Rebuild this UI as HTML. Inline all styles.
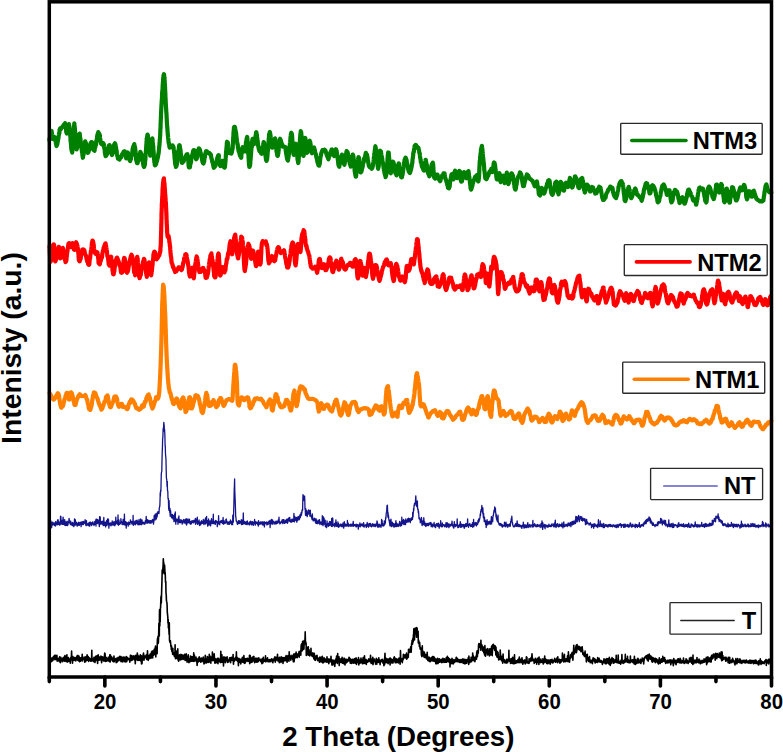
<!DOCTYPE html>
<html><head><meta charset="utf-8"><style>
html,body{margin:0;padding:0;background:#fff;width:783px;height:752px;overflow:hidden;}
svg{display:block;font-family:"Liberation Sans",sans-serif;}
</style></head><body>
<svg width="783" height="752" viewBox="0 0 783 752"><rect width="100%" height="100%" fill="#fff"/><polyline fill="none" stroke="#000" stroke-width="1.6" stroke-linejoin="round" points="49.6,656.5 49.8,659.8 50.0,658.9 50.3,659.4 50.5,658.6 50.7,657.7 50.9,659.4 51.2,661.6 51.4,658.2 51.6,658.3 51.8,661.4 52.0,659.9 52.3,659.5 52.5,657.8 52.7,659.3 52.9,660.5 53.2,657.1 53.4,658.6 53.6,656.2 53.8,657.2 54.0,656.3 54.3,659.0 54.5,657.2 54.7,655.3 54.9,659.6 55.2,659.0 55.4,655.2 55.6,658.4 55.8,659.3 56.0,659.5 56.3,656.8 56.5,658.5 56.7,657.7 56.9,655.4 57.2,661.1 57.4,658.0 57.6,659.3 57.8,660.8 58.0,658.4 58.3,659.2 58.5,659.5 58.7,659.4 58.9,660.6 59.2,659.5 59.4,661.6 59.6,656.8 59.8,660.8 60.0,659.4 60.3,658.3 60.5,662.7 60.7,660.6 60.9,657.3 61.1,659.5 61.4,660.3 61.6,659.0 61.8,660.5 62.0,659.2 62.3,660.4 62.5,661.7 62.7,658.2 62.9,659.7 63.1,658.6 63.4,660.8 63.6,657.4 63.8,658.4 64.0,659.0 64.3,660.8 64.5,661.2 64.7,657.1 64.9,655.5 65.1,660.2 65.4,656.0 65.6,658.6 65.8,659.2 66.0,661.4 66.3,660.5 66.5,658.8 66.7,655.8 66.9,654.7 67.1,661.9 67.4,658.6 67.6,658.8 67.8,662.0 68.0,659.1 68.3,659.0 68.5,657.5 68.7,659.3 68.9,658.6 69.1,661.3 69.4,660.4 69.6,659.3 69.8,659.3 70.0,661.1 70.3,663.1 70.5,659.3 70.7,660.3 70.9,657.2 71.1,659.9 71.4,656.5 71.6,651.0 71.8,657.5 72.0,657.8 72.3,659.6 72.5,663.1 72.7,657.9 72.9,656.6 73.1,659.7 73.4,660.1 73.6,659.0 73.8,659.0 74.0,660.5 74.3,660.2 74.5,657.6 74.7,659.2 74.9,659.4 75.1,657.6 75.4,659.7 75.6,657.9 75.8,660.9 76.0,659.6 76.3,659.5 76.5,658.7 76.7,659.1 76.9,656.0 77.1,657.4 77.4,659.9 77.6,655.8 77.8,655.4 78.0,656.4 78.3,660.6 78.5,657.9 78.7,660.6 78.9,656.0 79.1,656.7 79.4,661.4 79.6,661.7 79.8,659.2 80.0,658.8 80.2,659.0 80.5,657.7 80.7,661.1 80.9,658.4 81.1,659.2 81.4,658.0 81.6,658.3 81.8,657.2 82.0,659.9 82.2,654.4 82.5,660.9 82.7,659.3 82.9,658.1 83.1,658.8 83.4,658.4 83.6,659.3 83.8,658.7 84.0,658.8 84.2,657.0 84.5,657.9 84.7,662.1 84.9,659.5 85.1,657.5 85.4,659.9 85.6,661.7 85.8,656.9 86.0,658.9 86.2,658.2 86.5,656.3 86.7,660.5 86.9,659.3 87.1,654.9 87.4,658.0 87.6,660.1 87.8,658.4 88.0,659.0 88.2,656.6 88.5,657.2 88.7,661.5 88.9,658.4 89.1,657.8 89.4,659.2 89.6,658.5 89.8,658.4 90.0,660.3 90.2,658.8 90.5,659.0 90.7,659.3 90.9,661.3 91.1,660.4 91.4,659.9 91.6,658.3 91.8,650.2 92.0,660.9 92.2,660.9 92.5,659.0 92.7,660.2 92.9,660.6 93.1,660.7 93.4,660.8 93.6,658.5 93.8,661.8 94.0,657.2 94.2,660.7 94.5,660.4 94.7,660.7 94.9,662.4 95.1,661.8 95.4,657.3 95.6,656.4 95.8,660.6 96.0,657.6 96.2,659.2 96.5,656.9 96.7,656.5 96.9,655.7 97.1,659.7 97.4,658.0 97.6,663.5 97.8,659.3 98.0,657.8 98.2,654.8 98.5,659.0 98.7,657.6 98.9,656.5 99.1,660.1 99.4,659.1 99.6,659.9 99.8,657.6 100.0,658.1 100.2,657.6 100.5,657.7 100.7,659.6 100.9,656.0 101.1,659.8 101.3,659.8 101.6,662.7 101.8,656.9 102.0,660.7 102.2,659.1 102.5,659.2 102.7,656.8 102.9,658.5 103.1,660.5 103.3,659.1 103.6,659.4 103.8,658.7 104.0,661.2 104.2,659.2 104.5,655.5 104.7,653.0 104.9,655.9 105.1,653.7 105.3,658.3 105.6,661.5 105.8,659.3 106.0,657.2 106.2,657.6 106.5,661.1 106.7,659.5 106.9,659.3 107.1,659.1 107.3,659.3 107.6,660.6 107.8,660.1 108.0,659.6 108.2,657.4 108.5,660.1 108.7,658.0 108.9,661.1 109.1,657.0 109.3,659.0 109.6,659.2 109.8,654.7 110.0,662.1 110.2,661.7 110.5,655.1 110.7,660.5 110.9,659.8 111.1,656.5 111.3,659.6 111.6,659.1 111.8,659.3 112.0,657.3 112.2,658.7 112.5,658.9 112.7,661.2 112.9,659.7 113.1,659.1 113.3,661.8 113.6,658.2 113.8,658.5 114.0,656.0 114.2,661.8 114.5,660.8 114.7,660.7 114.9,660.3 115.1,659.3 115.3,659.5 115.6,658.7 115.8,658.8 116.0,659.2 116.2,662.7 116.5,660.1 116.7,662.3 116.9,658.1 117.1,658.0 117.3,661.9 117.6,660.0 117.8,659.2 118.0,658.5 118.2,657.2 118.5,659.0 118.7,660.6 118.9,658.4 119.1,658.7 119.3,658.7 119.6,659.3 119.8,656.3 120.0,658.7 120.2,657.6 120.4,660.6 120.7,657.7 120.9,656.6 121.1,661.7 121.3,658.5 121.6,657.2 121.8,659.4 122.0,659.0 122.2,657.3 122.4,659.8 122.7,662.0 122.9,658.6 123.1,658.7 123.3,657.2 123.6,659.6 123.8,657.5 124.0,657.1 124.2,661.2 124.4,657.4 124.7,660.9 124.9,661.7 125.1,659.4 125.3,660.0 125.6,662.0 125.8,658.6 126.0,657.9 126.2,656.6 126.4,661.7 126.7,661.6 126.9,660.6 127.1,657.3 127.3,657.4 127.6,658.1 127.8,659.8 128.0,658.6 128.2,659.3 128.4,659.4 128.7,658.4 128.9,658.8 129.1,659.3 129.3,658.7 129.6,659.8 129.8,662.2 130.0,659.9 130.2,659.0 130.4,655.2 130.7,659.5 130.9,655.4 131.1,656.3 131.3,660.4 131.6,660.1 131.8,658.5 132.0,655.7 132.2,657.4 132.4,657.6 132.7,659.9 132.9,659.0 133.1,659.2 133.3,657.4 133.6,656.6 133.8,655.8 134.0,658.4 134.2,656.6 134.4,658.9 134.7,656.6 134.9,660.7 135.1,660.6 135.3,663.6 135.6,656.2 135.8,655.3 136.0,658.4 136.2,657.9 136.4,658.0 136.7,656.2 136.9,655.9 137.1,660.0 137.3,653.0 137.6,655.4 137.8,660.4 138.0,655.3 138.2,657.0 138.4,658.8 138.7,659.2 138.9,657.7 139.1,660.4 139.3,658.8 139.6,656.1 139.8,656.6 140.0,655.7 140.2,659.2 140.4,654.7 140.7,660.9 140.9,656.6 141.1,660.6 141.3,655.7 141.5,664.0 141.8,656.0 142.0,663.6 142.2,660.0 142.4,658.1 142.7,656.9 142.9,659.7 143.1,654.8 143.3,657.3 143.5,653.0 143.8,655.7 144.0,660.1 144.2,658.6 144.4,655.8 144.7,656.9 144.9,656.9 145.1,657.7 145.3,656.7 145.5,656.1 145.8,657.1 146.0,655.6 146.2,655.0 146.4,657.5 146.7,659.4 146.9,654.3 147.1,657.4 147.3,656.0 147.5,650.9 147.8,659.1 148.0,656.1 148.2,660.4 148.4,655.4 148.7,657.9 148.9,656.5 149.1,655.2 149.3,658.6 149.5,656.4 149.8,658.0 150.0,656.5 150.2,654.0 150.4,656.1 150.7,658.0 150.9,658.4 151.1,653.9 151.3,655.9 151.5,651.7 151.8,657.3 152.0,652.9 152.2,651.0 152.4,655.1 152.7,657.9 152.9,651.1 153.1,652.0 153.3,652.6 153.5,651.4 153.8,655.2 154.0,651.7 154.2,649.4 154.4,654.3 154.7,651.0 154.9,654.0 155.1,649.6 155.3,647.4 155.5,646.0 155.8,656.9 156.0,649.5 156.2,652.3 156.4,649.2 156.7,649.1 156.9,647.9 157.1,653.7 157.3,641.9 157.5,638.6 157.8,639.3 158.0,636.3 158.2,643.5 158.4,642.2 158.7,632.3 158.9,623.3 159.1,636.1 159.3,636.1 159.5,609.9 159.8,626.1 160.0,615.1 160.2,621.8 160.4,607.9 160.6,607.8 160.9,597.8 161.1,596.1 161.3,603.1 161.5,596.0 161.8,585.7 162.0,579.1 162.2,570.0 162.4,573.3 162.6,571.5 162.9,568.2 163.1,565.6 163.3,558.9 163.5,562.9 163.8,562.8 164.0,569.6 164.2,573.6 164.4,565.9 164.6,565.3 164.9,571.6 165.1,572.3 165.3,575.3 165.5,582.3 165.8,581.5 166.0,593.3 166.2,593.9 166.4,599.6 166.6,601.4 166.9,602.6 167.1,605.3 167.3,612.3 167.5,614.2 167.8,617.1 168.0,623.2 168.2,619.6 168.4,627.9 168.6,625.0 168.9,630.0 169.1,634.5 169.3,622.8 169.5,640.1 169.8,641.9 170.0,642.2 170.2,642.5 170.4,640.7 170.6,642.9 170.9,646.5 171.1,646.4 171.3,649.4 171.5,645.9 171.8,651.3 172.0,651.5 172.2,651.2 172.4,650.8 172.6,654.1 172.9,648.2 173.1,654.6 173.3,653.8 173.5,654.7 173.8,654.7 174.0,652.7 174.2,652.8 174.4,656.5 174.6,656.2 174.9,655.8 175.1,644.8 175.3,656.9 175.5,658.6 175.8,658.3 176.0,656.6 176.2,652.5 176.4,658.5 176.6,656.1 176.9,650.7 177.1,657.5 177.3,651.9 177.5,654.0 177.8,648.9 178.0,659.9 178.2,656.3 178.4,657.8 178.6,661.1 178.9,660.8 179.1,657.8 179.3,657.0 179.5,654.9 179.8,656.2 180.0,658.6 180.2,658.6 180.4,658.1 180.6,659.9 180.9,654.3 181.1,655.7 181.3,659.5 181.5,659.3 181.7,654.8 182.0,654.9 182.2,656.7 182.4,659.0 182.6,657.3 182.9,655.1 183.1,659.5 183.3,656.6 183.5,659.1 183.7,658.4 184.0,657.8 184.2,657.4 184.4,656.9 184.6,654.3 184.9,657.5 185.1,660.4 185.3,659.4 185.5,659.1 185.7,658.8 186.0,660.2 186.2,653.7 186.4,658.6 186.6,659.9 186.9,660.2 187.1,662.1 187.3,660.4 187.5,656.4 187.7,659.5 188.0,660.5 188.2,654.9 188.4,659.0 188.6,660.7 188.9,662.6 189.1,658.8 189.3,659.0 189.5,659.5 189.7,661.6 190.0,659.1 190.2,661.8 190.4,656.0 190.6,658.9 190.9,658.9 191.1,660.3 191.3,661.1 191.5,656.6 191.7,657.7 192.0,659.9 192.2,658.2 192.4,656.7 192.6,661.2 192.9,660.3 193.1,660.3 193.3,658.6 193.5,661.2 193.7,652.9 194.0,661.4 194.2,657.9 194.4,655.0 194.6,659.8 194.9,658.3 195.1,660.7 195.3,660.0 195.5,657.9 195.7,659.7 196.0,657.0 196.2,661.1 196.4,658.5 196.6,658.8 196.9,661.7 197.1,665.5 197.3,663.0 197.5,659.7 197.7,660.0 198.0,662.3 198.2,659.4 198.4,658.0 198.6,659.9 198.9,660.4 199.1,661.3 199.3,656.9 199.5,657.3 199.7,660.8 200.0,658.4 200.2,659.5 200.4,660.1 200.6,662.3 200.8,659.2 201.1,660.6 201.3,658.3 201.5,659.2 201.7,658.0 202.0,661.7 202.2,659.7 202.4,658.5 202.6,659.2 202.8,659.4 203.1,661.0 203.3,657.1 203.5,658.4 203.7,659.2 204.0,664.0 204.2,661.4 204.4,659.6 204.6,661.0 204.8,663.2 205.1,659.4 205.3,655.3 205.5,661.8 205.7,660.7 206.0,661.0 206.2,659.0 206.4,663.0 206.6,662.7 206.8,660.8 207.1,661.0 207.3,656.5 207.5,660.9 207.7,659.6 208.0,660.6 208.2,662.3 208.4,659.3 208.6,657.1 208.8,662.4 209.1,658.7 209.3,654.3 209.5,658.9 209.7,659.3 210.0,656.1 210.2,661.9 210.4,660.3 210.6,661.7 210.8,663.1 211.1,660.0 211.3,657.0 211.5,658.5 211.7,658.0 212.0,659.1 212.2,660.1 212.4,652.0 212.6,660.6 212.8,654.7 213.1,660.4 213.3,659.8 213.5,659.4 213.7,659.8 214.0,659.1 214.2,653.7 214.4,657.2 214.6,659.9 214.8,662.9 215.1,663.2 215.3,662.1 215.5,661.1 215.7,658.9 216.0,661.7 216.2,659.9 216.4,662.6 216.6,659.5 216.8,660.1 217.1,659.3 217.3,659.9 217.5,658.3 217.7,662.0 218.0,663.7 218.2,659.9 218.4,659.6 218.6,658.3 218.8,661.1 219.1,659.3 219.3,659.7 219.5,661.5 219.7,660.4 220.0,660.2 220.2,662.5 220.4,658.9 220.6,660.2 220.8,651.2 221.1,662.4 221.3,658.2 221.5,657.4 221.7,659.2 221.9,654.9 222.2,660.5 222.4,662.2 222.6,657.5 222.8,661.2 223.1,659.5 223.3,659.0 223.5,666.0 223.7,658.6 223.9,656.8 224.2,659.5 224.4,657.7 224.6,658.4 224.8,660.6 225.1,657.2 225.3,662.6 225.5,659.7 225.7,657.6 225.9,658.9 226.2,658.6 226.4,658.1 226.6,660.7 226.8,659.0 227.1,656.9 227.3,661.2 227.5,662.5 227.7,660.6 227.9,660.2 228.2,661.1 228.4,660.1 228.6,662.0 228.8,660.7 229.1,659.5 229.3,660.7 229.5,657.8 229.7,657.8 229.9,659.7 230.2,660.4 230.4,658.0 230.6,662.6 230.8,660.2 231.1,658.2 231.3,657.4 231.5,659.6 231.7,659.9 231.9,659.0 232.2,660.2 232.4,659.1 232.6,660.1 232.8,659.0 233.1,654.6 233.3,661.6 233.5,664.1 233.7,658.5 233.9,659.4 234.2,658.8 234.4,661.3 234.6,658.3 234.8,658.6 235.1,660.1 235.3,659.1 235.5,658.6 235.7,659.4 235.9,656.8 236.2,657.9 236.4,651.9 236.6,660.3 236.8,659.8 237.1,657.4 237.3,658.5 237.5,661.3 237.7,661.0 237.9,660.0 238.2,658.7 238.4,665.8 238.6,659.2 238.8,658.3 239.1,658.9 239.3,662.4 239.5,660.5 239.7,661.9 239.9,659.4 240.2,660.1 240.4,659.2 240.6,659.9 240.8,664.0 241.0,661.3 241.3,659.3 241.5,660.0 241.7,660.6 241.9,662.0 242.2,659.4 242.4,657.4 242.6,659.7 242.8,660.2 243.0,662.3 243.3,662.2 243.5,660.6 243.7,661.4 243.9,655.6 244.2,660.0 244.4,663.4 244.6,661.3 244.8,660.5 245.0,660.4 245.3,662.9 245.5,658.7 245.7,660.0 245.9,660.8 246.2,661.3 246.4,658.5 246.6,660.6 246.8,659.7 247.0,660.3 247.3,659.9 247.5,658.4 247.7,660.1 247.9,661.5 248.2,658.7 248.4,659.8 248.6,661.2 248.8,658.5 249.0,660.4 249.3,658.5 249.5,655.4 249.7,663.7 249.9,661.9 250.2,655.6 250.4,661.3 250.6,660.3 250.8,661.2 251.0,662.5 251.3,658.1 251.5,662.3 251.7,659.1 251.9,662.3 252.2,660.4 252.4,657.0 252.6,660.6 252.8,659.5 253.0,660.2 253.3,660.9 253.5,659.3 253.7,656.9 253.9,656.4 254.2,661.2 254.4,660.4 254.6,662.7 254.8,660.3 255.0,659.4 255.3,659.1 255.5,658.8 255.7,662.0 255.9,658.0 256.2,659.8 256.4,659.2 256.6,658.5 256.8,662.1 257.0,660.0 257.3,658.2 257.5,659.6 257.7,661.6 257.9,662.0 258.2,659.5 258.4,660.8 258.6,661.2 258.8,657.8 259.0,660.7 259.3,660.1 259.5,659.3 259.7,659.4 259.9,660.2 260.1,660.2 260.4,659.3 260.6,659.5 260.8,661.8 261.0,661.2 261.3,661.5 261.5,662.0 261.7,661.0 261.9,663.6 262.1,658.9 262.4,661.4 262.6,659.7 262.8,662.9 263.0,662.7 263.3,657.2 263.5,658.7 263.7,661.1 263.9,661.3 264.1,661.2 264.4,660.0 264.6,660.8 264.8,661.1 265.0,660.0 265.3,661.7 265.5,655.8 265.7,661.1 265.9,658.6 266.1,661.6 266.4,659.8 266.6,658.8 266.8,660.7 267.0,658.7 267.3,658.7 267.5,657.8 267.7,660.1 267.9,660.9 268.1,661.7 268.4,659.9 268.6,661.7 268.8,660.1 269.0,660.0 269.3,661.0 269.5,661.7 269.7,659.6 269.9,659.7 270.1,659.9 270.4,660.2 270.6,660.0 270.8,661.6 271.0,659.5 271.3,660.8 271.5,658.8 271.7,660.6 271.9,660.7 272.1,659.4 272.4,661.0 272.6,660.6 272.8,662.8 273.0,661.5 273.3,659.1 273.5,659.5 273.7,660.7 273.9,659.0 274.1,660.1 274.4,659.6 274.6,657.3 274.8,659.7 275.0,656.7 275.3,662.3 275.5,658.9 275.7,658.9 275.9,658.9 276.1,660.4 276.4,657.8 276.6,657.4 276.8,658.4 277.0,656.9 277.3,658.5 277.5,654.2 277.7,658.4 277.9,661.0 278.1,657.9 278.4,660.4 278.6,659.5 278.8,659.3 279.0,658.7 279.3,662.6 279.5,657.2 279.7,660.1 279.9,658.4 280.1,660.8 280.4,659.5 280.6,659.8 280.8,658.0 281.0,662.5 281.2,656.7 281.5,657.6 281.7,661.2 281.9,659.2 282.1,658.5 282.4,659.3 282.6,657.6 282.8,659.9 283.0,663.5 283.2,661.5 283.5,657.9 283.7,658.2 283.9,658.9 284.1,657.5 284.4,658.2 284.6,658.4 284.8,660.9 285.0,660.9 285.2,658.8 285.5,657.6 285.7,656.8 285.9,658.2 286.1,655.6 286.4,660.5 286.6,658.2 286.8,660.0 287.0,662.3 287.2,661.1 287.5,656.7 287.7,660.5 287.9,655.5 288.1,657.6 288.4,657.2 288.6,658.6 288.8,655.9 289.0,661.2 289.2,651.8 289.5,657.2 289.7,658.0 289.9,658.0 290.1,655.6 290.4,657.8 290.6,657.8 290.8,660.2 291.0,657.1 291.2,658.0 291.5,656.6 291.7,658.1 291.9,655.4 292.1,655.9 292.4,657.7 292.6,659.1 292.8,658.1 293.0,656.0 293.2,661.3 293.5,661.8 293.7,654.1 293.9,657.6 294.1,661.6 294.4,658.4 294.6,657.1 294.8,656.1 295.0,653.7 295.2,655.1 295.5,657.1 295.7,657.7 295.9,655.2 296.1,652.1 296.4,655.4 296.6,655.6 296.8,653.6 297.0,655.0 297.2,657.7 297.5,655.0 297.7,656.2 297.9,655.8 298.1,655.0 298.4,654.4 298.6,653.3 298.8,656.2 299.0,651.6 299.2,657.3 299.5,653.9 299.7,651.8 299.9,652.2 300.1,651.4 300.3,653.2 300.6,650.6 300.8,655.1 301.0,649.4 301.2,644.7 301.5,648.2 301.7,643.7 301.9,648.4 302.1,651.0 302.3,648.8 302.6,641.3 302.8,641.9 303.0,649.6 303.2,643.4 303.5,641.3 303.7,644.4 303.9,649.1 304.1,644.5 304.3,640.2 304.6,641.4 304.8,643.1 305.0,639.5 305.2,631.9 305.5,644.0 305.7,641.9 305.9,645.1 306.1,643.0 306.3,655.4 306.6,646.7 306.8,649.7 307.0,650.3 307.2,652.6 307.5,654.8 307.7,651.2 307.9,652.2 308.1,649.1 308.3,646.7 308.6,655.1 308.8,654.2 309.0,649.6 309.2,653.6 309.5,654.7 309.7,656.0 309.9,653.6 310.1,654.6 310.3,651.1 310.6,652.8 310.8,653.6 311.0,648.3 311.2,655.1 311.5,654.7 311.7,655.3 311.9,654.5 312.1,656.2 312.3,656.4 312.6,656.4 312.8,652.8 313.0,656.5 313.2,656.1 313.5,655.9 313.7,657.6 313.9,658.5 314.1,659.1 314.3,653.4 314.6,659.4 314.8,660.0 315.0,660.0 315.2,659.8 315.5,660.3 315.7,657.7 315.9,657.7 316.1,655.7 316.3,658.7 316.6,657.4 316.8,657.8 317.0,655.4 317.2,657.1 317.5,658.7 317.7,660.4 317.9,660.6 318.1,658.8 318.3,658.7 318.6,658.2 318.8,659.9 319.0,658.8 319.2,660.3 319.5,662.3 319.7,659.4 319.9,657.0 320.1,658.1 320.3,657.2 320.6,657.7 320.8,661.8 321.0,660.1 321.2,657.3 321.4,660.9 321.7,661.9 321.9,659.4 322.1,658.9 322.3,656.4 322.6,658.5 322.8,663.0 323.0,662.0 323.2,662.0 323.4,662.0 323.7,662.3 323.9,661.3 324.1,657.9 324.3,660.1 324.6,660.8 324.8,659.8 325.0,661.8 325.2,659.9 325.4,659.0 325.7,661.2 325.9,661.5 326.1,660.8 326.3,661.9 326.6,662.1 326.8,661.1 327.0,656.9 327.2,659.6 327.4,660.0 327.7,659.2 327.9,661.0 328.1,662.4 328.3,660.0 328.6,659.0 328.8,663.7 329.0,660.1 329.2,659.0 329.4,661.1 329.7,661.4 329.9,659.8 330.1,661.9 330.3,660.1 330.6,659.5 330.8,661.1 331.0,656.2 331.2,661.3 331.4,661.3 331.7,660.7 331.9,664.9 332.1,659.9 332.3,662.9 332.6,660.8 332.8,660.7 333.0,664.9 333.2,662.2 333.4,662.8 333.7,661.4 333.9,660.1 334.1,660.2 334.3,661.7 334.6,661.8 334.8,666.5 335.0,661.6 335.2,662.5 335.4,663.2 335.7,661.8 335.9,658.9 336.1,659.3 336.3,659.0 336.6,656.0 336.8,659.8 337.0,662.8 337.2,661.9 337.4,663.5 337.7,653.5 337.9,660.9 338.1,660.8 338.3,661.2 338.6,661.3 338.8,660.3 339.0,656.8 339.2,665.6 339.4,658.5 339.7,661.4 339.9,659.8 340.1,661.3 340.3,662.2 340.5,661.0 340.8,662.2 341.0,658.8 341.2,662.6 341.4,660.2 341.7,661.9 341.9,661.3 342.1,657.4 342.3,660.0 342.5,661.4 342.8,663.3 343.0,661.5 343.2,661.4 343.4,659.1 343.7,663.4 343.9,663.6 344.1,658.0 344.3,660.3 344.5,658.8 344.8,662.3 345.0,664.9 345.2,660.3 345.4,662.9 345.7,661.9 345.9,659.4 346.1,663.0 346.3,659.4 346.5,660.8 346.8,661.5 347.0,662.3 347.2,661.7 347.4,661.6 347.7,660.0 347.9,659.3 348.1,661.2 348.3,660.1 348.5,659.3 348.8,659.3 349.0,657.4 349.2,658.5 349.4,657.6 349.7,658.8 349.9,661.4 350.1,661.7 350.3,663.1 350.5,659.0 350.8,660.2 351.0,662.4 351.2,660.8 351.4,660.7 351.7,663.5 351.9,660.6 352.1,659.5 352.3,659.3 352.5,661.6 352.8,661.5 353.0,659.2 353.2,659.8 353.4,663.1 353.7,661.9 353.9,660.2 354.1,662.0 354.3,661.9 354.5,658.7 354.8,660.7 355.0,663.1 355.2,660.3 355.4,658.2 355.7,660.7 355.9,662.2 356.1,663.3 356.3,658.1 356.5,664.4 356.8,659.6 357.0,662.4 357.2,662.5 357.4,662.5 357.7,661.3 357.9,659.5 358.1,662.2 358.3,660.1 358.5,657.6 358.8,665.0 359.0,662.1 359.2,663.6 359.4,660.9 359.7,663.1 359.9,663.3 360.1,663.3 360.3,659.3 360.5,659.4 360.8,660.9 361.0,658.1 361.2,662.5 361.4,661.3 361.6,659.8 361.9,660.9 362.1,661.0 362.3,663.8 362.5,662.9 362.8,659.5 363.0,658.5 363.2,657.6 363.4,660.7 363.6,663.5 363.9,659.4 364.1,660.7 364.3,659.3 364.5,655.8 364.8,663.4 365.0,660.1 365.2,661.4 365.4,659.9 365.6,659.5 365.9,659.4 366.1,663.1 366.3,664.4 366.5,661.8 366.8,660.1 367.0,662.1 367.2,661.8 367.4,662.2 367.6,661.5 367.9,661.5 368.1,661.9 368.3,660.3 368.5,660.6 368.8,658.8 369.0,660.0 369.2,659.2 369.4,660.9 369.6,659.8 369.9,661.2 370.1,661.7 370.3,661.8 370.5,655.4 370.8,659.8 371.0,662.1 371.2,663.4 371.4,662.3 371.6,660.6 371.9,663.1 372.1,659.0 372.3,663.2 372.5,660.2 372.8,657.3 373.0,664.7 373.2,663.3 373.4,659.7 373.6,661.3 373.9,660.8 374.1,661.2 374.3,659.1 374.5,660.2 374.8,661.7 375.0,661.4 375.2,662.7 375.4,661.2 375.6,664.3 375.9,660.1 376.1,661.4 376.3,658.4 376.5,659.4 376.8,664.1 377.0,659.8 377.2,661.8 377.4,662.3 377.6,659.6 377.9,660.6 378.1,660.4 378.3,660.4 378.5,662.5 378.8,657.7 379.0,660.3 379.2,659.8 379.4,661.4 379.6,660.9 379.9,662.5 380.1,664.7 380.3,662.2 380.5,661.0 380.7,660.8 381.0,659.9 381.2,659.8 381.4,659.6 381.6,660.5 381.9,660.4 382.1,662.0 382.3,660.5 382.5,660.7 382.7,659.3 383.0,663.3 383.2,661.7 383.4,663.5 383.6,662.1 383.9,665.8 384.1,660.6 384.3,662.0 384.5,664.7 384.7,658.2 385.0,653.2 385.2,662.6 385.4,661.5 385.6,662.7 385.9,662.7 386.1,658.2 386.3,661.5 386.5,659.7 386.7,660.0 387.0,660.0 387.2,662.8 387.4,661.1 387.6,661.6 387.9,658.9 388.1,663.7 388.3,662.5 388.5,661.9 388.7,660.4 389.0,660.7 389.2,661.6 389.4,661.4 389.6,658.4 389.9,661.9 390.1,665.0 390.3,658.1 390.5,662.2 390.7,660.2 391.0,660.6 391.2,662.8 391.4,659.0 391.6,661.0 391.9,662.9 392.1,660.4 392.3,660.1 392.5,660.9 392.7,660.0 393.0,662.9 393.2,659.3 393.4,661.9 393.6,658.8 393.9,657.8 394.1,660.4 394.3,656.7 394.5,660.5 394.7,658.9 395.0,657.9 395.2,662.8 395.4,658.8 395.6,658.8 395.9,662.6 396.1,660.2 396.3,662.7 396.5,660.8 396.7,658.9 397.0,660.1 397.2,662.1 397.4,662.4 397.6,660.1 397.9,660.2 398.1,659.9 398.3,659.1 398.5,663.0 398.7,659.9 399.0,658.1 399.2,659.1 399.4,661.0 399.6,660.8 399.9,659.5 400.1,664.3 400.3,659.6 400.5,650.6 400.7,657.3 401.0,660.7 401.2,658.5 401.4,659.9 401.6,661.3 401.8,660.2 402.1,659.1 402.3,662.7 402.5,660.1 402.7,658.2 403.0,660.0 403.2,659.4 403.4,654.3 403.6,658.6 403.8,658.0 404.1,655.1 404.3,657.8 404.5,657.0 404.7,657.1 405.0,654.7 405.2,657.0 405.4,655.4 405.6,657.6 405.8,655.0 406.1,658.4 406.3,654.5 406.5,653.1 406.7,659.3 407.0,655.0 407.2,655.1 407.4,658.3 407.6,654.9 407.8,654.8 408.1,655.7 408.3,657.2 408.5,649.4 408.7,652.2 409.0,651.3 409.2,650.6 409.4,650.7 409.6,650.2 409.8,652.5 410.1,648.8 410.3,651.7 410.5,650.9 410.7,646.9 411.0,648.6 411.2,652.3 411.4,647.4 411.6,643.5 411.8,644.3 412.1,640.4 412.3,643.3 412.5,644.2 412.7,639.8 413.0,638.2 413.2,641.9 413.4,634.8 413.6,636.3 413.8,628.7 414.1,629.0 414.3,630.6 414.5,639.9 414.7,629.6 415.0,628.6 415.2,628.1 415.4,629.4 415.6,634.0 415.8,630.9 416.1,632.4 416.3,631.9 416.5,637.2 416.7,627.6 417.0,635.7 417.2,628.3 417.4,635.0 417.6,636.3 417.8,636.8 418.1,631.2 418.3,643.0 418.5,639.8 418.7,640.7 419.0,642.4 419.2,643.6 419.4,646.5 419.6,642.4 419.8,644.4 420.1,648.8 420.3,649.2 420.5,648.5 420.7,648.7 420.9,648.0 421.2,649.8 421.4,655.2 421.6,650.0 421.8,656.6 422.1,655.4 422.3,645.8 422.5,656.0 422.7,651.3 422.9,651.1 423.2,652.4 423.4,654.5 423.6,655.0 423.8,654.8 424.1,657.1 424.3,652.0 424.5,657.4 424.7,653.8 424.9,655.5 425.2,656.2 425.4,657.2 425.6,654.6 425.8,655.5 426.1,657.5 426.3,658.7 426.5,658.8 426.7,656.1 426.9,656.5 427.2,652.4 427.4,659.0 427.6,656.1 427.8,660.5 428.1,657.6 428.3,657.2 428.5,659.2 428.7,660.5 428.9,659.4 429.2,661.5 429.4,657.3 429.6,661.1 429.8,661.2 430.1,659.0 430.3,661.6 430.5,659.6 430.7,659.5 430.9,658.0 431.2,658.7 431.4,660.8 431.6,657.6 431.8,660.7 432.1,659.5 432.3,660.2 432.5,656.5 432.7,659.7 432.9,660.9 433.2,656.9 433.4,660.2 433.6,656.5 433.8,661.1 434.1,659.2 434.3,659.8 434.5,657.5 434.7,661.3 434.9,659.9 435.2,661.5 435.4,659.0 435.6,659.5 435.8,663.6 436.1,659.2 436.3,659.4 436.5,660.1 436.7,659.0 436.9,663.7 437.2,663.0 437.4,659.6 437.6,658.2 437.8,662.2 438.1,663.4 438.3,661.8 438.5,662.3 438.7,659.5 438.9,660.5 439.2,658.8 439.4,658.8 439.6,662.1 439.8,659.8 440.1,661.4 440.3,660.9 440.5,659.9 440.7,661.9 440.9,659.6 441.2,661.5 441.4,659.2 441.6,661.3 441.8,662.7 442.0,660.2 442.3,659.8 442.5,662.2 442.7,661.1 442.9,658.2 443.2,660.6 443.4,659.9 443.6,661.3 443.8,661.0 444.0,662.4 444.3,661.9 444.5,658.8 444.7,661.5 444.9,662.1 445.2,661.5 445.4,662.3 445.6,660.2 445.8,659.7 446.0,662.2 446.3,657.6 446.5,658.1 446.7,662.3 446.9,660.0 447.2,660.6 447.4,656.4 447.6,659.6 447.8,659.4 448.0,659.7 448.3,661.5 448.5,657.9 448.7,662.0 448.9,659.4 449.2,659.6 449.4,658.9 449.6,660.9 449.8,659.0 450.0,666.9 450.3,659.9 450.5,661.3 450.7,659.7 450.9,662.9 451.2,660.4 451.4,662.3 451.6,660.0 451.8,663.8 452.0,658.3 452.3,660.5 452.5,663.5 452.7,661.4 452.9,661.2 453.2,664.0 453.4,661.5 453.6,659.9 453.8,662.0 454.0,659.5 454.3,662.5 454.5,662.6 454.7,660.3 454.9,660.2 455.2,661.2 455.4,661.0 455.6,659.7 455.8,661.5 456.0,658.3 456.3,657.3 456.5,660.5 456.7,660.7 456.9,661.4 457.2,658.4 457.4,661.8 457.6,660.8 457.8,659.8 458.0,659.2 458.3,659.5 458.5,659.6 458.7,659.7 458.9,660.8 459.2,662.4 459.4,662.3 459.6,659.7 459.8,660.6 460.0,659.6 460.3,662.3 460.5,661.4 460.7,662.4 460.9,661.0 461.1,662.5 461.4,662.1 461.6,659.5 461.8,660.2 462.0,661.5 462.3,661.2 462.5,661.2 462.7,662.5 462.9,658.7 463.1,663.2 463.4,660.8 463.6,659.3 463.8,660.5 464.0,660.6 464.3,663.6 464.5,660.5 464.7,659.2 464.9,659.9 465.1,660.4 465.4,663.7 465.6,661.1 465.8,662.1 466.0,659.5 466.3,661.3 466.5,661.7 466.7,663.2 466.9,659.8 467.1,661.5 467.4,661.1 467.6,659.3 467.8,660.7 468.0,660.3 468.3,657.5 468.5,661.4 468.7,664.5 468.9,656.0 469.1,658.7 469.4,662.6 469.6,660.9 469.8,661.9 470.0,662.4 470.3,659.7 470.5,661.5 470.7,659.9 470.9,661.5 471.1,657.4 471.4,660.2 471.6,661.7 471.8,657.5 472.0,659.7 472.3,659.5 472.5,660.3 472.7,653.1 472.9,658.8 473.1,655.2 473.4,658.4 473.6,659.0 473.8,659.0 474.0,660.8 474.3,657.3 474.5,658.6 474.7,658.0 474.9,661.6 475.1,660.5 475.4,657.0 475.6,657.3 475.8,656.9 476.0,658.6 476.3,655.3 476.5,659.2 476.7,652.3 476.9,655.1 477.1,650.7 477.4,656.6 477.6,650.8 477.8,650.7 478.0,653.6 478.3,652.7 478.5,645.8 478.7,644.1 478.9,643.7 479.1,647.2 479.4,646.2 479.6,645.1 479.8,643.8 480.0,644.5 480.3,643.4 480.5,647.1 480.7,650.1 480.9,640.4 481.1,646.0 481.4,645.0 481.6,647.1 481.8,644.9 482.0,647.6 482.2,645.7 482.5,650.7 482.7,649.6 482.9,647.9 483.1,651.1 483.4,649.9 483.6,647.1 483.8,652.7 484.0,652.2 484.2,651.4 484.5,654.3 484.7,655.1 484.9,645.5 485.1,652.1 485.4,656.2 485.6,656.0 485.8,651.1 486.0,650.2 486.2,649.7 486.5,651.8 486.7,649.3 486.9,653.0 487.1,650.0 487.4,650.1 487.6,654.9 487.8,648.6 488.0,652.5 488.2,654.0 488.5,654.3 488.7,651.3 488.9,652.3 489.1,650.1 489.4,656.0 489.6,653.1 489.8,648.8 490.0,651.2 490.2,652.7 490.5,651.9 490.7,655.0 490.9,653.6 491.1,648.5 491.4,649.4 491.6,646.0 491.8,649.7 492.0,649.1 492.2,655.6 492.5,649.7 492.7,644.8 492.9,647.5 493.1,648.0 493.4,644.2 493.6,645.2 493.8,646.6 494.0,648.6 494.2,647.4 494.5,645.8 494.7,650.5 494.9,647.4 495.1,647.9 495.4,646.1 495.6,648.2 495.8,655.0 496.0,647.3 496.2,651.5 496.5,653.9 496.7,651.9 496.9,656.9 497.1,651.4 497.4,657.1 497.6,657.1 497.8,655.7 498.0,652.2 498.2,654.1 498.5,658.3 498.7,660.0 498.9,657.7 499.1,659.7 499.4,656.8 499.6,657.8 499.8,658.3 500.0,659.2 500.2,650.1 500.5,654.2 500.7,659.2 500.9,657.5 501.1,657.4 501.3,660.1 501.6,658.7 501.8,656.3 502.0,661.1 502.2,660.2 502.5,659.4 502.7,663.1 502.9,660.4 503.1,654.0 503.3,660.5 503.6,661.5 503.8,659.4 504.0,661.0 504.2,659.7 504.5,659.9 504.7,662.8 504.9,661.7 505.1,661.7 505.3,661.4 505.6,661.3 505.8,662.6 506.0,660.7 506.2,663.2 506.5,659.5 506.7,660.5 506.9,659.0 507.1,660.4 507.3,660.6 507.6,662.7 507.8,660.0 508.0,660.2 508.2,660.4 508.5,660.0 508.7,659.4 508.9,650.2 509.1,658.7 509.3,661.1 509.6,661.0 509.8,660.1 510.0,659.7 510.2,659.2 510.5,663.4 510.7,659.3 510.9,663.0 511.1,661.8 511.3,660.6 511.6,658.6 511.8,662.4 512.0,663.2 512.2,662.9 512.5,660.7 512.7,657.3 512.9,661.5 513.1,663.6 513.3,660.4 513.6,661.8 513.8,659.6 514.0,663.7 514.2,660.2 514.5,654.7 514.7,661.0 514.9,659.7 515.1,663.5 515.3,660.7 515.6,661.1 515.8,661.9 516.0,663.1 516.2,661.1 516.5,662.5 516.7,661.8 516.9,660.8 517.1,661.3 517.3,661.2 517.6,660.1 517.8,662.7 518.0,659.5 518.2,662.6 518.5,662.4 518.7,661.1 518.9,658.9 519.1,660.9 519.3,657.1 519.6,662.1 519.8,661.6 520.0,662.8 520.2,660.5 520.5,661.0 520.7,659.3 520.9,661.6 521.1,661.4 521.3,660.7 521.6,662.7 521.8,662.1 522.0,657.8 522.2,661.3 522.4,659.5 522.7,662.5 522.9,664.3 523.1,660.6 523.3,661.3 523.6,661.8 523.8,661.7 524.0,662.0 524.2,662.8 524.4,660.0 524.7,661.8 524.9,660.1 525.1,661.6 525.3,663.9 525.6,662.1 525.8,660.1 526.0,660.4 526.2,660.7 526.4,656.9 526.7,662.7 526.9,657.4 527.1,661.8 527.3,661.1 527.6,661.9 527.8,661.8 528.0,663.1 528.2,661.8 528.4,662.3 528.7,661.9 528.9,663.4 529.1,658.9 529.3,662.8 529.6,660.9 529.8,660.9 530.0,660.0 530.2,658.8 530.4,660.6 530.7,660.0 530.9,661.1 531.1,657.5 531.3,661.0 531.6,656.7 531.8,656.9 532.0,653.7 532.2,657.2 532.4,657.8 532.7,659.5 532.9,660.8 533.1,660.8 533.3,659.4 533.6,660.9 533.8,660.1 534.0,661.4 534.2,663.5 534.4,662.0 534.7,660.9 534.9,659.3 535.1,659.5 535.3,658.3 535.6,662.1 535.8,660.3 536.0,661.3 536.2,660.1 536.4,661.4 536.7,664.2 536.9,660.4 537.1,660.4 537.3,658.4 537.6,662.3 537.8,660.0 538.0,659.6 538.2,659.2 538.4,659.6 538.7,657.8 538.9,664.4 539.1,657.1 539.3,662.4 539.6,661.6 539.8,659.9 540.0,660.9 540.2,661.0 540.4,660.4 540.7,662.7 540.9,659.0 541.1,661.7 541.3,661.7 541.5,660.6 541.8,661.4 542.0,662.3 542.2,661.5 542.4,661.8 542.7,662.1 542.9,658.8 543.1,663.1 543.3,664.0 543.5,662.5 543.8,662.5 544.0,659.5 544.2,661.1 544.4,660.3 544.7,656.0 544.9,662.4 545.1,660.3 545.3,661.1 545.5,658.9 545.8,661.0 546.0,661.4 546.2,660.4 546.4,660.4 546.7,663.5 546.9,659.8 547.1,659.9 547.3,660.2 547.5,662.7 547.8,663.8 548.0,661.6 548.2,660.3 548.4,660.7 548.7,662.5 548.9,660.1 549.1,663.0 549.3,662.9 549.5,661.3 549.8,661.3 550.0,662.1 550.2,664.2 550.4,659.9 550.7,662.6 550.9,660.7 551.1,660.2 551.3,661.3 551.5,660.9 551.8,660.0 552.0,659.2 552.2,660.6 552.4,662.9 552.7,661.7 552.9,661.9 553.1,662.7 553.3,660.5 553.5,661.0 553.8,661.5 554.0,659.8 554.2,659.9 554.4,661.2 554.7,658.4 554.9,659.8 555.1,659.8 555.3,660.8 555.5,662.3 555.8,661.1 556.0,660.7 556.2,659.3 556.4,660.8 556.7,660.2 556.9,658.1 557.1,662.0 557.3,661.8 557.5,662.6 557.8,656.9 558.0,660.5 558.2,661.0 558.4,661.2 558.7,660.4 558.9,660.3 559.1,661.9 559.3,661.1 559.5,659.4 559.8,662.6 560.0,663.1 560.2,660.1 560.4,661.9 560.7,659.9 560.9,662.3 561.1,660.5 561.3,659.8 561.5,660.3 561.8,659.8 562.0,660.9 562.2,660.9 562.4,653.1 562.6,659.9 562.9,655.9 563.1,660.7 563.3,658.1 563.5,660.9 563.8,662.0 564.0,660.9 564.2,659.9 564.4,654.2 564.6,660.2 564.9,659.6 565.1,659.5 565.3,659.0 565.5,661.8 565.8,660.0 566.0,661.4 566.2,658.9 566.4,660.0 566.6,659.6 566.9,660.5 567.1,660.9 567.3,660.0 567.5,655.9 567.8,657.2 568.0,661.8 568.2,658.7 568.4,651.7 568.6,661.2 568.9,660.5 569.1,659.4 569.3,657.8 569.5,662.1 569.8,658.7 570.0,658.8 570.2,657.4 570.4,655.0 570.6,654.9 570.9,657.7 571.1,657.4 571.3,656.0 571.5,654.0 571.8,653.1 572.0,654.9 572.2,652.4 572.4,656.7 572.6,653.3 572.9,660.1 573.1,655.7 573.3,652.3 573.5,651.3 573.8,645.2 574.0,651.1 574.2,651.6 574.4,653.9 574.6,652.7 574.9,652.3 575.1,651.0 575.3,651.8 575.5,650.3 575.8,646.8 576.0,648.0 576.2,645.3 576.4,652.7 576.6,651.6 576.9,650.0 577.1,644.6 577.3,648.1 577.5,646.8 577.8,647.5 578.0,646.8 578.2,648.6 578.4,646.2 578.6,649.5 578.9,648.0 579.1,646.7 579.3,647.3 579.5,646.6 579.8,650.1 580.0,647.6 580.2,649.1 580.4,647.8 580.6,647.5 580.9,651.7 581.1,647.2 581.3,651.8 581.5,651.6 581.7,647.0 582.0,649.1 582.2,646.7 582.4,650.2 582.6,649.8 582.9,654.5 583.1,652.7 583.3,654.4 583.5,655.0 583.7,654.9 584.0,653.1 584.2,654.9 584.4,656.4 584.6,655.7 584.9,655.0 585.1,651.1 585.3,656.8 585.5,655.9 585.7,654.2 586.0,656.5 586.2,658.4 586.4,661.9 586.6,657.4 586.9,658.7 587.1,658.9 587.3,654.4 587.5,658.8 587.7,657.7 588.0,660.2 588.2,658.7 588.4,658.0 588.6,661.5 588.9,659.7 589.1,658.7 589.3,659.6 589.5,656.5 589.7,659.5 590.0,661.0 590.2,662.7 590.4,661.0 590.6,660.5 590.9,661.8 591.1,661.6 591.3,662.5 591.5,661.8 591.7,660.2 592.0,660.8 592.2,660.7 592.4,663.7 592.6,659.7 592.9,659.6 593.1,657.9 593.3,659.8 593.5,658.0 593.7,660.8 594.0,660.5 594.2,658.6 594.4,661.6 594.6,661.9 594.9,660.9 595.1,662.9 595.3,662.9 595.5,659.3 595.7,662.2 596.0,661.5 596.2,661.4 596.4,662.1 596.6,661.7 596.9,660.2 597.1,659.9 597.3,660.0 597.5,662.4 597.7,657.6 598.0,659.7 598.2,661.7 598.4,660.9 598.6,661.5 598.9,658.7 599.1,658.3 599.3,660.0 599.5,661.1 599.7,659.8 600.0,662.2 600.2,661.0 600.4,662.0 600.6,661.1 600.8,662.0 601.1,660.6 601.3,662.5 601.5,661.7 601.7,661.4 602.0,661.2 602.2,661.8 602.4,664.5 602.6,662.3 602.8,661.7 603.1,662.3 603.3,661.4 603.5,662.7 603.7,661.2 604.0,658.7 604.2,662.8 604.4,661.2 604.6,659.8 604.8,661.0 605.1,660.2 605.3,663.8 605.5,661.9 605.7,659.4 606.0,661.9 606.2,660.8 606.4,663.7 606.6,660.0 606.8,658.6 607.1,661.4 607.3,660.9 607.5,660.8 607.7,658.7 608.0,661.8 608.2,663.3 608.4,659.0 608.6,661.2 608.8,660.6 609.1,664.1 609.3,657.2 609.5,661.1 609.7,662.6 610.0,662.0 610.2,665.4 610.4,660.8 610.6,660.7 610.8,659.2 611.1,663.7 611.3,660.9 611.5,660.6 611.7,661.8 612.0,657.5 612.2,659.8 612.4,660.8 612.6,660.7 612.8,661.4 613.1,662.2 613.3,663.3 613.5,658.7 613.7,662.1 614.0,662.4 614.2,661.6 614.4,660.3 614.6,662.6 614.8,661.9 615.1,661.4 615.3,659.8 615.5,661.5 615.7,661.6 616.0,662.2 616.2,655.2 616.4,660.4 616.6,662.5 616.8,662.2 617.1,660.7 617.3,662.8 617.5,661.0 617.7,661.0 618.0,662.1 618.2,655.0 618.4,660.9 618.6,661.2 618.8,663.2 619.1,663.2 619.3,662.7 619.5,663.3 619.7,661.4 620.0,661.9 620.2,662.4 620.4,661.8 620.6,664.2 620.8,661.7 621.1,660.0 621.3,662.9 621.5,660.3 621.7,661.1 621.9,654.5 622.2,662.6 622.4,662.4 622.6,662.4 622.8,662.3 623.1,663.4 623.3,661.4 623.5,662.5 623.7,660.6 623.9,661.0 624.2,662.7 624.4,661.9 624.6,659.9 624.8,661.8 625.1,661.2 625.3,654.4 625.5,661.9 625.7,660.9 625.9,659.6 626.2,658.8 626.4,661.0 626.6,659.7 626.8,661.1 627.1,662.1 627.3,662.2 627.5,656.4 627.7,661.0 627.9,661.6 628.2,662.4 628.4,660.7 628.6,660.1 628.8,662.6 629.1,662.7 629.3,661.8 629.5,660.7 629.7,661.9 629.9,661.5 630.2,662.7 630.4,656.0 630.6,661.5 630.8,661.2 631.1,660.1 631.3,661.1 631.5,661.4 631.7,660.9 631.9,661.9 632.2,659.7 632.4,661.3 632.6,661.9 632.8,660.8 633.1,662.6 633.3,660.0 633.5,659.6 633.7,661.6 633.9,661.9 634.2,663.9 634.4,656.3 634.6,660.3 634.8,662.3 635.1,660.3 635.3,659.6 635.5,664.4 635.7,661.7 635.9,662.2 636.2,662.2 636.4,663.4 636.6,661.6 636.8,662.7 637.1,659.2 637.3,659.6 637.5,662.9 637.7,663.0 637.9,658.3 638.2,661.7 638.4,659.1 638.6,660.3 638.8,663.0 639.1,661.9 639.3,661.6 639.5,661.5 639.7,662.2 639.9,661.5 640.2,661.8 640.4,659.3 640.6,661.4 640.8,663.5 641.0,662.6 641.3,660.4 641.5,661.6 641.7,661.7 641.9,661.1 642.2,658.0 642.4,660.8 642.6,658.4 642.8,658.7 643.0,660.5 643.3,659.2 643.5,660.7 643.7,664.0 643.9,660.4 644.2,660.2 644.4,657.6 644.6,657.9 644.8,657.1 645.0,657.7 645.3,656.7 645.5,657.2 645.7,657.8 645.9,656.4 646.2,655.5 646.4,655.5 646.6,658.4 646.8,657.6 647.0,659.2 647.3,660.0 647.5,656.7 647.7,658.4 647.9,654.7 648.2,661.1 648.4,659.2 648.6,656.8 648.8,655.2 649.0,657.9 649.3,654.1 649.5,656.1 649.7,658.8 649.9,657.7 650.2,656.9 650.4,659.4 650.6,656.3 650.8,655.9 651.0,657.4 651.3,657.0 651.5,659.3 651.7,657.1 651.9,661.7 652.2,658.1 652.4,662.1 652.6,657.6 652.8,660.3 653.0,657.8 653.3,657.7 653.5,660.0 653.7,660.8 653.9,658.2 654.2,661.7 654.4,659.1 654.6,660.5 654.8,660.9 655.0,661.2 655.3,658.2 655.5,662.7 655.7,661.4 655.9,660.2 656.2,659.5 656.4,658.8 656.6,659.2 656.8,661.6 657.0,660.6 657.3,659.7 657.5,660.4 657.7,663.0 657.9,660.7 658.2,660.5 658.4,662.8 658.6,664.0 658.8,661.3 659.0,660.5 659.3,657.8 659.5,659.9 659.7,660.7 659.9,661.0 660.2,663.5 660.4,662.0 660.6,661.6 660.8,661.6 661.0,660.2 661.3,658.8 661.5,662.2 661.7,660.2 661.9,660.6 662.1,661.0 662.4,661.9 662.6,660.0 662.8,656.3 663.0,661.2 663.3,659.9 663.5,661.0 663.7,659.5 663.9,657.7 664.1,658.8 664.4,661.4 664.6,657.6 664.8,660.8 665.0,661.6 665.3,662.2 665.5,659.7 665.7,663.5 665.9,661.4 666.1,661.0 666.4,661.1 666.6,662.1 666.8,661.5 667.0,661.2 667.3,662.9 667.5,660.6 667.7,660.3 667.9,662.4 668.1,660.6 668.4,662.7 668.6,660.2 668.8,662.7 669.0,662.0 669.3,661.9 669.5,660.1 669.7,660.0 669.9,661.2 670.1,659.7 670.4,660.7 670.6,662.8 670.8,664.8 671.0,660.2 671.3,662.5 671.5,662.6 671.7,662.6 671.9,660.0 672.1,661.4 672.4,662.7 672.6,660.8 672.8,660.7 673.0,662.5 673.3,665.7 673.5,660.2 673.7,658.6 673.9,658.5 674.1,660.4 674.4,661.4 674.6,662.2 674.8,661.4 675.0,660.7 675.3,663.8 675.5,660.4 675.7,661.5 675.9,660.8 676.1,664.6 676.4,662.5 676.6,660.6 676.8,660.4 677.0,661.0 677.3,659.7 677.5,660.7 677.7,659.0 677.9,662.5 678.1,661.0 678.4,658.8 678.6,660.0 678.8,660.2 679.0,660.6 679.3,661.3 679.5,662.8 679.7,660.8 679.9,662.7 680.1,658.2 680.4,661.5 680.6,659.2 680.8,660.1 681.0,662.4 681.2,663.1 681.5,661.8 681.7,662.4 681.9,661.1 682.1,661.1 682.4,660.8 682.6,662.6 682.8,661.7 683.0,661.3 683.2,661.2 683.5,658.1 683.7,661.9 683.9,660.5 684.1,663.5 684.4,661.8 684.6,661.5 684.8,662.9 685.0,662.7 685.2,661.6 685.5,662.1 685.7,660.3 685.9,660.8 686.1,658.9 686.4,662.9 686.6,659.4 686.8,662.3 687.0,662.6 687.2,660.4 687.5,661.3 687.7,661.8 687.9,662.2 688.1,663.5 688.4,661.9 688.6,662.5 688.8,660.8 689.0,662.3 689.2,661.7 689.5,658.1 689.7,659.2 689.9,661.4 690.1,661.7 690.4,661.9 690.6,660.9 690.8,661.4 691.0,657.3 691.2,659.5 691.5,660.8 691.7,663.3 691.9,658.4 692.1,660.7 692.4,662.3 692.6,661.9 692.8,664.4 693.0,655.1 693.2,663.1 693.5,663.2 693.7,663.6 693.9,661.2 694.1,661.9 694.4,660.4 694.6,662.4 694.8,660.2 695.0,661.1 695.2,662.6 695.5,660.2 695.7,661.0 695.9,661.6 696.1,659.9 696.4,662.8 696.6,661.8 696.8,659.7 697.0,657.6 697.2,660.5 697.5,660.6 697.7,661.5 697.9,660.6 698.1,662.5 698.4,660.6 698.6,662.5 698.8,662.9 699.0,659.1 699.2,660.7 699.5,660.7 699.7,660.0 699.9,662.0 700.1,662.4 700.4,663.8 700.6,662.8 700.8,661.8 701.0,661.0 701.2,661.7 701.5,661.2 701.7,663.0 701.9,662.3 702.1,660.2 702.3,660.4 702.6,662.8 702.8,661.5 703.0,660.9 703.2,662.5 703.5,660.6 703.7,660.7 703.9,660.5 704.1,658.7 704.3,662.1 704.6,659.5 704.8,660.3 705.0,660.0 705.2,661.8 705.5,660.8 705.7,660.4 705.9,658.5 706.1,660.6 706.3,657.2 706.6,664.6 706.8,661.1 707.0,660.4 707.2,663.1 707.5,661.1 707.7,661.2 707.9,656.9 708.1,660.0 708.3,660.1 708.6,661.6 708.8,658.3 709.0,661.4 709.2,660.6 709.5,661.1 709.7,660.3 709.9,657.9 710.1,657.8 710.3,662.0 710.6,659.7 710.8,657.1 711.0,659.6 711.2,661.9 711.5,656.1 711.7,655.3 711.9,656.1 712.1,658.9 712.3,658.3 712.6,657.8 712.8,658.5 713.0,657.7 713.2,654.4 713.5,655.3 713.7,656.2 713.9,654.1 714.1,656.3 714.3,656.9 714.6,655.1 714.8,654.5 715.0,655.9 715.2,660.1 715.5,654.6 715.7,653.3 715.9,656.7 716.1,657.2 716.3,656.8 716.6,653.9 716.8,658.7 717.0,654.3 717.2,653.6 717.5,654.5 717.7,655.4 717.9,656.9 718.1,656.7 718.3,655.5 718.6,657.2 718.8,655.7 719.0,657.2 719.2,653.0 719.5,655.0 719.7,657.7 719.9,653.2 720.1,655.3 720.3,655.8 720.6,655.2 720.8,655.3 721.0,658.7 721.2,651.9 721.4,658.1 721.7,660.6 721.9,656.8 722.1,652.1 722.3,658.3 722.6,660.3 722.8,655.3 723.0,657.6 723.2,657.3 723.4,658.6 723.7,658.1 723.9,659.1 724.1,657.5 724.3,658.4 724.6,657.4 724.8,657.5 725.0,658.5 725.2,658.6 725.4,657.2 725.7,661.3 725.9,659.0 726.1,657.3 726.3,660.9 726.6,658.4 726.8,660.3 727.0,659.6 727.2,660.1 727.4,660.1 727.7,659.2 727.9,660.1 728.1,662.8 728.3,657.2 728.6,660.3 728.8,660.9 729.0,659.0 729.2,658.7 729.4,663.3 729.7,657.2 729.9,663.2 730.1,661.3 730.3,660.8 730.6,661.4 730.8,661.5 731.0,662.3 731.2,660.3 731.4,661.1 731.7,661.2 731.9,662.6 732.1,662.0 732.3,659.8 732.6,658.3 732.8,661.5 733.0,660.4 733.2,660.7 733.4,660.0 733.7,660.9 733.9,661.7 734.1,662.4 734.3,661.3 734.6,663.8 734.8,661.2 735.0,665.0 735.2,662.5 735.4,661.9 735.7,660.7 735.9,658.5 736.1,660.2 736.3,661.6 736.6,663.6 736.8,659.8 737.0,663.6 737.2,661.1 737.4,660.9 737.7,658.5 737.9,661.6 738.1,661.0 738.3,662.2 738.6,661.5 738.8,660.2 739.0,662.5 739.2,662.2 739.4,662.1 739.7,662.6 739.9,658.9 740.1,661.5 740.3,660.0 740.6,659.9 740.8,663.0 741.0,662.3 741.2,661.6 741.4,661.0 741.7,661.6 741.9,663.4 742.1,661.1 742.3,660.7 742.5,661.2 742.8,661.8 743.0,660.9 743.2,660.2 743.4,660.7 743.7,662.4 743.9,662.4 744.1,661.3 744.3,661.6 744.5,661.2 744.8,660.3 745.0,663.0 745.2,662.0 745.4,661.3 745.7,660.7 745.9,661.4 746.1,662.6 746.3,661.3 746.5,660.1 746.8,662.5 747.0,661.7 747.2,662.0 747.4,661.5 747.7,662.7 747.9,662.7 748.1,662.0 748.3,660.9 748.5,661.3 748.8,662.2 749.0,663.3 749.2,661.7 749.4,662.1 749.7,662.0 749.9,660.1 750.1,660.5 750.3,662.5 750.5,662.1 750.8,663.4 751.0,660.3 751.2,662.6 751.4,663.1 751.7,661.7 751.9,661.0 752.1,661.4 752.3,661.8 752.5,660.6 752.8,662.2 753.0,662.8 753.2,661.1 753.4,663.8 753.7,661.3 753.9,661.4 754.1,660.3 754.3,660.9 754.5,662.1 754.8,661.7 755.0,663.5 755.2,662.3 755.4,662.3 755.7,660.1 755.9,660.1 756.1,661.6 756.3,660.7 756.5,663.4 756.8,661.6 757.0,663.5 757.2,662.5 757.4,662.6 757.7,661.9 757.9,661.9 758.1,662.4 758.3,664.9 758.5,660.9 758.8,662.2 759.0,664.6 759.2,661.6 759.4,661.4 759.7,660.9 759.9,660.1 760.1,663.0 760.3,658.8 760.5,662.0 760.8,663.7 761.0,664.4 761.2,660.7 761.4,662.9 761.6,662.3 761.9,662.1 762.1,662.2 762.3,661.7 762.5,663.4 762.8,662.4 763.0,662.1 763.2,663.1 763.4,662.7 763.6,662.2 763.9,662.1 764.1,663.6 764.3,662.3 764.5,661.6 764.8,660.8 765.0,661.3 765.2,660.6 765.4,661.8 765.6,662.0 765.9,659.5 766.1,659.5 766.3,665.4 766.5,661.9 766.8,660.7 767.0,663.1 767.2,661.0 767.4,660.4 767.6,660.6 767.9,661.7 768.1,662.8 768.3,663.0 768.5,659.2 768.8,663.9 769.0,661.0 769.2,660.8 769.4,661.5 769.6,659.8 769.9,659.2 770.1,662.4 770.3,661.6 770.5,662.2 770.8,661.1 771.0,660.2 771.2,659.3"/><polyline fill="none" stroke="#14148c" stroke-width="1.3" stroke-linejoin="round" points="49.6,526.1 49.8,520.1 50.0,524.0 50.3,522.7 50.5,522.9 50.7,523.2 50.9,520.8 51.2,523.2 51.4,522.4 51.6,527.8 51.8,525.8 52.0,523.0 52.3,525.3 52.5,522.6 52.7,522.1 52.9,523.0 53.2,524.1 53.4,523.2 53.6,524.7 53.8,523.1 54.0,523.5 54.3,525.5 54.5,524.2 54.7,522.8 54.9,523.2 55.2,524.2 55.4,526.0 55.6,521.7 55.8,523.1 56.0,525.0 56.3,522.3 56.5,523.1 56.7,524.6 56.9,524.2 57.2,521.6 57.4,521.2 57.6,519.8 57.8,524.8 58.0,519.6 58.3,521.3 58.5,523.8 58.7,524.4 58.9,522.9 59.2,522.1 59.4,523.5 59.6,523.4 59.8,525.3 60.0,524.4 60.3,523.7 60.5,516.2 60.7,521.7 60.9,516.5 61.1,524.2 61.4,521.4 61.6,523.2 61.8,522.4 62.0,523.8 62.3,520.2 62.5,524.4 62.7,524.1 62.9,521.3 63.1,517.1 63.4,522.2 63.6,524.4 63.8,520.8 64.0,522.3 64.3,520.0 64.5,525.0 64.7,519.6 64.9,522.8 65.1,523.9 65.4,522.7 65.6,525.5 65.8,521.9 66.0,523.9 66.3,522.1 66.5,525.3 66.7,523.4 66.9,523.0 67.1,521.2 67.4,525.6 67.6,524.4 67.8,524.4 68.0,524.9 68.3,521.9 68.5,522.6 68.7,522.4 68.9,520.1 69.1,518.3 69.4,521.6 69.6,522.7 69.8,520.9 70.0,523.7 70.3,524.2 70.5,521.8 70.7,521.2 70.9,523.4 71.1,525.0 71.4,524.4 71.6,523.7 71.8,523.0 72.0,523.8 72.3,523.1 72.5,525.7 72.7,522.4 72.9,523.6 73.1,523.3 73.4,524.1 73.6,523.7 73.8,526.7 74.0,525.4 74.3,525.4 74.5,519.0 74.7,523.0 74.9,522.7 75.1,519.5 75.4,520.5 75.6,525.0 75.8,524.8 76.0,521.8 76.3,522.2 76.5,522.4 76.7,523.5 76.9,524.3 77.1,526.1 77.4,523.2 77.6,524.4 77.8,523.6 78.0,525.7 78.3,524.4 78.5,525.2 78.7,522.1 78.9,523.2 79.1,522.4 79.4,525.4 79.6,524.3 79.8,523.0 80.0,522.9 80.2,524.1 80.5,522.5 80.7,522.2 80.9,524.1 81.1,526.6 81.4,523.1 81.6,522.7 81.8,521.9 82.0,521.7 82.2,524.1 82.5,524.5 82.7,523.4 82.9,523.9 83.1,521.6 83.4,524.5 83.6,521.5 83.8,522.8 84.0,523.6 84.2,522.4 84.5,522.8 84.7,522.4 84.9,523.0 85.1,519.7 85.4,521.0 85.6,523.2 85.8,525.3 86.0,524.3 86.2,525.6 86.5,520.7 86.7,524.5 86.9,525.2 87.1,523.6 87.4,524.5 87.6,524.8 87.8,524.8 88.0,523.6 88.2,525.5 88.5,523.1 88.7,523.2 88.9,524.4 89.1,522.7 89.4,526.2 89.6,524.7 89.8,526.2 90.0,523.4 90.2,521.8 90.5,523.6 90.7,524.4 90.9,522.7 91.1,523.9 91.4,523.4 91.6,525.5 91.8,522.6 92.0,524.8 92.2,522.6 92.5,522.2 92.7,522.5 92.9,521.9 93.1,523.6 93.4,524.7 93.6,523.6 93.8,524.2 94.0,525.5 94.2,523.8 94.5,523.7 94.7,521.6 94.9,521.4 95.1,524.4 95.4,521.7 95.6,524.2 95.8,519.7 96.0,526.0 96.2,519.2 96.5,522.4 96.7,519.3 96.9,522.7 97.1,523.2 97.4,523.5 97.6,523.2 97.8,519.4 98.0,522.3 98.2,523.2 98.5,520.7 98.7,523.2 98.9,521.9 99.1,524.8 99.4,526.6 99.6,516.6 99.8,523.6 100.0,523.2 100.2,516.8 100.5,524.1 100.7,522.8 100.9,521.1 101.1,523.1 101.3,523.2 101.6,523.5 101.8,521.8 102.0,524.2 102.2,524.3 102.5,521.1 102.7,522.5 102.9,522.9 103.1,522.7 103.3,525.6 103.6,523.7 103.8,517.3 104.0,522.4 104.2,523.3 104.5,525.4 104.7,522.3 104.9,523.5 105.1,524.0 105.3,523.3 105.6,526.9 105.8,522.0 106.0,524.3 106.2,523.6 106.5,524.2 106.7,520.3 106.9,525.6 107.1,523.2 107.3,523.4 107.6,518.8 107.8,522.4 108.0,524.1 108.2,520.9 108.5,519.2 108.7,524.9 108.9,528.2 109.1,523.4 109.3,524.4 109.6,524.1 109.8,523.2 110.0,524.3 110.2,525.0 110.5,523.7 110.7,522.9 110.9,524.3 111.1,525.8 111.3,523.1 111.6,523.2 111.8,523.2 112.0,524.9 112.2,521.0 112.5,523.8 112.7,524.9 112.9,522.3 113.1,525.2 113.3,522.8 113.6,522.6 113.8,523.6 114.0,521.4 114.2,522.6 114.5,525.7 114.7,522.2 114.9,525.7 115.1,523.2 115.3,524.6 115.6,523.4 115.8,517.1 116.0,522.6 116.2,523.6 116.5,521.9 116.7,521.6 116.9,523.8 117.1,522.5 117.3,521.1 117.6,520.2 117.8,524.4 118.0,514.9 118.2,524.5 118.5,525.3 118.7,523.3 118.9,520.0 119.1,521.6 119.3,523.3 119.6,524.4 119.8,523.6 120.0,524.0 120.2,522.7 120.4,523.7 120.7,522.7 120.9,518.6 121.1,521.6 121.3,521.3 121.6,522.7 121.8,521.9 122.0,522.0 122.2,524.7 122.4,523.1 122.7,524.0 122.9,524.4 123.1,519.4 123.3,524.3 123.6,523.7 123.8,522.4 124.0,524.7 124.2,522.3 124.4,514.1 124.7,524.3 124.9,522.4 125.1,525.1 125.3,522.4 125.6,521.7 125.8,525.2 126.0,521.8 126.2,528.1 126.4,525.1 126.7,522.4 126.9,523.1 127.1,523.3 127.3,524.3 127.6,522.8 127.8,524.0 128.0,523.9 128.2,526.2 128.4,522.8 128.7,522.0 128.9,524.1 129.1,522.7 129.3,523.5 129.6,523.3 129.8,524.7 130.0,522.3 130.2,523.0 130.4,519.9 130.7,522.0 130.9,521.2 131.1,522.3 131.3,522.2 131.6,521.5 131.8,523.9 132.0,523.3 132.2,521.6 132.4,524.0 132.7,523.4 132.9,524.1 133.1,515.3 133.3,525.3 133.6,523.6 133.8,522.9 134.0,522.4 134.2,522.7 134.4,524.2 134.7,522.7 134.9,521.1 135.1,523.8 135.3,524.8 135.6,524.1 135.8,522.9 136.0,520.5 136.2,523.4 136.4,523.4 136.7,523.2 136.9,523.7 137.1,520.1 137.3,522.4 137.6,521.7 137.8,524.7 138.0,523.1 138.2,523.0 138.4,521.1 138.7,522.7 138.9,524.8 139.1,519.3 139.3,521.7 139.6,524.7 139.8,524.7 140.0,524.1 140.2,523.9 140.4,524.3 140.7,519.0 140.9,523.8 141.1,521.7 141.3,524.8 141.5,523.0 141.8,521.2 142.0,519.9 142.2,523.6 142.4,524.0 142.7,522.2 142.9,523.2 143.1,523.6 143.3,523.4 143.5,522.1 143.8,522.4 144.0,523.9 144.2,524.3 144.4,523.8 144.7,522.6 144.9,522.7 145.1,523.9 145.3,520.9 145.5,520.5 145.8,522.5 146.0,520.8 146.2,516.4 146.4,520.1 146.7,522.9 146.9,520.7 147.1,523.3 147.3,519.6 147.5,522.9 147.8,519.8 148.0,520.2 148.2,522.9 148.4,521.3 148.7,520.7 148.9,521.2 149.1,522.5 149.3,521.6 149.5,521.6 149.8,523.2 150.0,520.5 150.2,520.8 150.4,520.6 150.7,523.1 150.9,522.8 151.1,523.1 151.3,521.0 151.5,520.8 151.8,522.2 152.0,520.2 152.2,522.0 152.4,521.7 152.7,519.3 152.9,520.2 153.1,520.0 153.3,522.9 153.5,524.2 153.8,521.7 154.0,519.6 154.2,515.5 154.4,519.6 154.7,519.1 154.9,517.0 155.1,520.0 155.3,513.9 155.5,517.7 155.8,518.1 156.0,515.2 156.2,518.9 156.4,519.0 156.7,513.7 156.9,513.2 157.1,516.9 157.3,515.0 157.5,511.9 157.8,513.2 158.0,512.9 158.2,512.0 158.4,513.4 158.7,511.3 158.9,513.7 159.1,511.4 159.3,507.9 159.5,507.3 159.8,506.0 160.0,501.8 160.2,492.7 160.4,496.3 160.6,490.2 160.9,491.2 161.1,481.8 161.3,473.9 161.5,472.4 161.8,471.2 162.0,460.3 162.2,452.7 162.4,448.4 162.6,439.9 162.9,436.3 163.1,429.5 163.3,428.0 163.5,430.9 163.8,422.3 164.0,424.3 164.2,425.4 164.4,431.4 164.6,429.5 164.9,435.8 165.1,445.4 165.3,447.1 165.5,454.2 165.8,457.2 166.0,459.9 166.2,470.3 166.4,477.9 166.6,478.5 166.9,482.1 167.1,486.7 167.3,481.4 167.5,490.8 167.8,490.9 168.0,498.3 168.2,499.2 168.4,498.3 168.6,507.3 168.9,510.3 169.1,500.7 169.3,509.5 169.5,510.4 169.8,512.7 170.0,508.3 170.2,516.2 170.4,512.4 170.6,510.5 170.9,514.8 171.1,514.4 171.3,515.4 171.5,517.8 171.8,514.8 172.0,516.1 172.2,516.2 172.4,514.3 172.6,516.8 172.9,518.9 173.1,518.1 173.3,515.6 173.5,516.9 173.8,518.6 174.0,521.7 174.2,520.6 174.4,515.5 174.6,513.8 174.9,517.7 175.1,521.2 175.3,511.9 175.5,519.4 175.8,524.2 176.0,518.5 176.2,520.3 176.4,521.3 176.6,520.9 176.9,520.8 177.1,519.4 177.3,521.2 177.5,519.8 177.8,521.0 178.0,524.3 178.2,519.6 178.4,517.6 178.6,520.2 178.9,516.0 179.1,522.4 179.3,522.4 179.5,519.9 179.8,519.9 180.0,522.8 180.2,519.6 180.4,522.6 180.6,520.9 180.9,522.3 181.1,522.2 181.3,522.3 181.5,522.4 181.7,520.0 182.0,521.8 182.2,524.2 182.4,521.8 182.6,523.1 182.9,521.1 183.1,520.6 183.3,520.6 183.5,521.1 183.7,519.5 184.0,520.5 184.2,523.2 184.4,522.0 184.6,521.4 184.9,519.9 185.1,522.0 185.3,522.6 185.5,519.4 185.7,523.3 186.0,523.9 186.2,518.7 186.4,522.5 186.6,525.0 186.9,523.5 187.1,519.4 187.3,521.9 187.5,521.7 187.7,520.0 188.0,518.9 188.2,522.9 188.4,521.1 188.6,522.6 188.9,521.8 189.1,521.0 189.3,521.6 189.5,519.1 189.7,522.7 190.0,523.8 190.2,522.6 190.4,523.8 190.6,524.2 190.9,521.4 191.1,524.0 191.3,521.1 191.5,523.4 191.7,521.5 192.0,522.7 192.2,520.6 192.4,521.1 192.6,521.3 192.9,522.4 193.1,522.2 193.3,521.6 193.5,522.8 193.7,520.4 194.0,520.8 194.2,522.0 194.4,520.3 194.6,521.4 194.9,522.2 195.1,522.1 195.3,518.5 195.5,524.3 195.7,523.5 196.0,523.8 196.2,519.2 196.4,521.7 196.6,520.5 196.9,521.3 197.1,519.7 197.3,517.2 197.5,523.3 197.7,524.3 198.0,522.0 198.2,521.3 198.4,523.0 198.6,521.4 198.9,523.4 199.1,520.0 199.3,523.4 199.5,525.5 199.7,523.5 200.0,525.3 200.2,522.6 200.4,522.0 200.6,522.9 200.8,524.5 201.1,521.7 201.3,522.5 201.5,520.7 201.7,522.2 202.0,523.5 202.2,522.3 202.4,521.7 202.6,522.4 202.8,522.9 203.1,523.4 203.3,519.5 203.5,522.8 203.7,520.9 204.0,524.6 204.2,522.4 204.4,522.3 204.6,523.4 204.8,519.9 205.1,522.4 205.3,519.7 205.5,517.8 205.7,524.1 206.0,523.1 206.2,520.3 206.4,522.1 206.6,516.5 206.8,522.7 207.1,521.0 207.3,520.5 207.5,523.2 207.7,526.2 208.0,522.5 208.2,520.5 208.4,524.7 208.6,519.0 208.8,522.1 209.1,525.1 209.3,524.2 209.5,524.8 209.7,521.1 210.0,524.2 210.2,521.0 210.4,522.9 210.6,525.9 210.8,521.3 211.1,523.7 211.3,520.9 211.5,518.6 211.7,522.6 212.0,522.1 212.2,523.2 212.4,523.7 212.6,522.3 212.8,522.0 213.1,519.9 213.3,514.1 213.5,523.6 213.7,522.4 214.0,523.1 214.2,522.5 214.4,521.6 214.6,523.7 214.8,521.4 215.1,522.7 215.3,524.4 215.5,520.4 215.7,522.6 216.0,520.8 216.2,522.1 216.4,520.9 216.6,522.2 216.8,522.0 217.1,522.8 217.3,526.7 217.5,521.7 217.7,523.5 218.0,522.6 218.2,522.4 218.4,521.7 218.6,515.7 218.8,522.8 219.1,524.6 219.3,523.8 219.5,522.1 219.7,524.7 220.0,522.2 220.2,522.0 220.4,521.3 220.6,521.6 220.8,522.4 221.1,520.4 221.3,522.5 221.5,521.5 221.7,522.0 221.9,522.5 222.2,520.7 222.4,522.9 222.6,523.6 222.8,523.1 223.1,517.5 223.3,521.1 223.5,520.7 223.7,524.3 223.9,521.4 224.2,520.9 224.4,523.0 224.6,522.8 224.8,523.4 225.1,523.0 225.3,522.1 225.5,523.0 225.7,522.9 225.9,519.5 226.2,519.0 226.4,519.2 226.6,521.8 226.8,520.8 227.1,523.0 227.3,524.1 227.5,523.0 227.7,522.3 227.9,522.8 228.2,524.1 228.4,521.8 228.6,523.8 228.8,523.5 229.1,523.0 229.3,524.4 229.5,521.8 229.7,523.8 229.9,521.5 230.2,521.7 230.4,520.0 230.6,523.1 230.8,521.4 231.1,522.6 231.3,521.1 231.5,523.7 231.7,524.6 231.9,522.5 232.2,524.2 232.4,522.7 232.6,524.7 232.8,515.1 233.1,518.8 233.3,522.1 233.5,517.1 233.7,510.3 233.9,503.2 234.2,490.1 234.4,485.5 234.6,478.9 234.8,491.2 235.1,498.0 235.3,503.3 235.5,509.8 235.7,516.6 235.9,517.0 236.2,520.9 236.4,521.5 236.6,520.9 236.8,521.4 237.1,522.8 237.3,524.1 237.5,524.3 237.7,522.5 237.9,523.6 238.2,521.7 238.4,523.1 238.6,520.7 238.8,523.6 239.1,520.7 239.3,521.6 239.5,522.7 239.7,523.4 239.9,521.1 240.2,522.1 240.4,523.0 240.6,523.1 240.8,521.8 241.0,522.9 241.3,519.7 241.5,524.5 241.7,523.5 241.9,521.3 242.2,520.3 242.4,523.0 242.6,524.3 242.8,523.1 243.0,523.9 243.3,512.9 243.5,521.3 243.7,523.8 243.9,523.0 244.2,523.7 244.4,521.3 244.6,523.1 244.8,521.7 245.0,523.9 245.3,522.2 245.5,522.2 245.7,522.2 245.9,524.4 246.2,523.0 246.4,522.0 246.6,521.7 246.8,521.7 247.0,524.7 247.3,520.8 247.5,522.0 247.7,523.7 247.9,524.2 248.2,522.8 248.4,523.9 248.6,523.9 248.8,524.1 249.0,523.0 249.3,524.9 249.5,523.2 249.7,524.8 249.9,521.7 250.2,524.1 250.4,521.5 250.6,521.3 250.8,523.6 251.0,522.1 251.3,523.5 251.5,521.8 251.7,524.9 251.9,523.0 252.2,521.7 252.4,523.2 252.6,524.1 252.8,521.9 253.0,523.7 253.3,525.4 253.5,524.1 253.7,523.0 253.9,522.4 254.2,523.7 254.4,521.3 254.6,519.5 254.8,522.3 255.0,521.8 255.3,525.1 255.5,523.2 255.7,521.9 255.9,521.7 256.2,523.7 256.4,522.1 256.6,522.4 256.8,523.0 257.0,523.2 257.3,522.6 257.5,523.2 257.7,524.6 257.9,525.1 258.2,521.2 258.4,526.1 258.6,520.7 258.8,524.6 259.0,522.2 259.3,523.5 259.5,523.4 259.7,523.2 259.9,524.1 260.1,522.9 260.4,521.9 260.6,523.0 260.8,524.0 261.0,523.9 261.3,522.7 261.5,522.8 261.7,522.9 261.9,521.8 262.1,521.6 262.4,524.9 262.6,522.6 262.8,522.6 263.0,522.2 263.3,524.6 263.5,525.1 263.7,522.8 263.9,523.7 264.1,521.6 264.4,526.9 264.6,524.2 264.8,522.1 265.0,523.4 265.3,523.5 265.5,523.2 265.7,523.5 265.9,522.3 266.1,522.4 266.4,523.8 266.6,523.0 266.8,521.9 267.0,525.0 267.3,522.8 267.5,522.4 267.7,523.7 267.9,523.8 268.1,524.2 268.4,523.3 268.6,524.0 268.8,521.2 269.0,522.6 269.3,522.4 269.5,523.0 269.7,523.6 269.9,520.5 270.1,527.6 270.4,521.9 270.6,523.4 270.8,523.9 271.0,523.9 271.3,519.6 271.5,519.4 271.7,521.6 271.9,523.8 272.1,521.8 272.4,521.6 272.6,520.0 272.8,524.3 273.0,523.4 273.3,521.7 273.5,522.6 273.7,522.7 273.9,521.4 274.1,522.4 274.4,523.0 274.6,523.4 274.8,524.2 275.0,522.7 275.3,522.1 275.5,523.1 275.7,521.9 275.9,521.1 276.1,524.0 276.4,522.1 276.6,522.7 276.8,523.4 277.0,521.2 277.3,523.3 277.5,523.1 277.7,521.5 277.9,522.9 278.1,521.5 278.4,519.6 278.6,522.0 278.8,521.2 279.0,517.1 279.3,522.7 279.5,521.6 279.7,522.3 279.9,524.0 280.1,523.7 280.4,522.7 280.6,522.7 280.8,521.8 281.0,522.0 281.2,522.9 281.5,521.9 281.7,522.4 281.9,520.6 282.1,519.8 282.4,519.7 282.6,521.3 282.8,523.6 283.0,520.9 283.2,520.5 283.5,519.7 283.7,522.8 283.9,522.3 284.1,519.9 284.4,523.1 284.6,521.9 284.8,523.4 285.0,522.0 285.2,522.7 285.5,521.9 285.7,520.1 285.9,521.1 286.1,520.4 286.4,522.5 286.6,519.9 286.8,519.1 287.0,522.2 287.2,522.8 287.5,523.2 287.7,522.6 287.9,518.9 288.1,520.0 288.4,520.2 288.6,520.9 288.8,517.8 289.0,520.8 289.2,521.2 289.5,519.4 289.7,517.3 289.9,519.7 290.1,520.7 290.4,521.9 290.6,522.0 290.8,522.0 291.0,521.0 291.2,519.9 291.5,522.2 291.7,519.6 291.9,519.3 292.1,519.8 292.4,519.1 292.6,520.8 292.8,521.7 293.0,520.2 293.2,520.2 293.5,521.4 293.7,521.1 293.9,513.4 294.1,517.8 294.4,521.9 294.6,520.3 294.8,516.4 295.0,518.7 295.2,519.6 295.5,517.9 295.7,520.1 295.9,519.4 296.1,520.7 296.4,517.3 296.6,520.1 296.8,522.2 297.0,517.6 297.2,521.0 297.5,520.5 297.7,519.7 297.9,518.3 298.1,516.3 298.4,516.7 298.6,519.4 298.8,519.6 299.0,519.9 299.2,519.3 299.5,519.1 299.7,516.5 299.9,514.9 300.1,517.2 300.3,517.6 300.6,516.6 300.8,513.8 301.0,514.8 301.2,512.5 301.5,515.2 301.7,511.9 301.9,512.7 302.1,509.9 302.3,509.8 302.6,510.5 302.8,501.0 303.0,494.6 303.2,500.7 303.5,499.8 303.7,498.9 303.9,496.0 304.1,498.5 304.3,500.0 304.6,496.1 304.8,500.5 305.0,508.9 305.2,508.2 305.5,515.3 305.7,508.5 305.9,511.6 306.1,515.3 306.3,511.9 306.6,510.9 306.8,510.5 307.0,511.9 307.2,516.6 307.5,514.1 307.7,514.2 307.9,513.6 308.1,514.4 308.3,512.4 308.6,509.8 308.8,510.5 309.0,511.7 309.2,513.7 309.5,510.9 309.7,512.4 309.9,516.2 310.1,510.4 310.3,510.2 310.6,515.8 310.8,515.4 311.0,516.6 311.2,516.5 311.5,516.1 311.7,518.2 311.9,517.2 312.1,519.7 312.3,513.8 312.6,517.6 312.8,519.5 313.0,518.8 313.2,520.9 313.5,519.9 313.7,519.3 313.9,520.6 314.1,519.6 314.3,518.2 314.6,519.0 314.8,519.6 315.0,520.3 315.2,521.2 315.5,522.6 315.7,522.1 315.9,518.6 316.1,523.4 316.3,521.3 316.6,519.9 316.8,523.5 317.0,521.2 317.2,522.4 317.5,523.6 317.7,522.4 317.9,523.6 318.1,522.8 318.3,520.2 318.6,521.9 318.8,523.0 319.0,522.0 319.2,521.9 319.5,519.6 319.7,523.2 319.9,524.5 320.1,523.6 320.3,522.8 320.6,523.7 320.8,521.9 321.0,521.9 321.2,522.6 321.4,523.0 321.7,524.5 321.9,524.1 322.1,524.6 322.3,515.7 322.6,522.4 322.8,523.4 323.0,525.7 323.2,522.8 323.4,516.9 323.7,524.2 323.9,523.6 324.1,518.2 324.3,522.5 324.6,522.9 324.8,524.0 325.0,524.7 325.2,520.1 325.4,526.8 325.7,523.8 325.9,524.2 326.1,524.9 326.3,524.3 326.6,527.6 326.8,525.6 327.0,520.8 327.2,523.8 327.4,523.7 327.7,524.0 327.9,525.2 328.1,523.7 328.3,526.4 328.6,524.4 328.8,524.4 329.0,525.7 329.2,522.2 329.4,523.5 329.7,525.4 329.9,521.4 330.1,524.7 330.3,525.2 330.6,522.0 330.8,524.6 331.0,523.2 331.2,522.6 331.4,526.3 331.7,518.3 331.9,524.0 332.1,526.5 332.3,526.1 332.6,518.0 332.8,519.0 333.0,524.8 333.2,523.9 333.4,525.6 333.7,525.0 333.9,525.1 334.1,525.9 334.3,525.8 334.6,523.5 334.8,526.8 335.0,523.1 335.2,526.1 335.4,523.8 335.7,523.5 335.9,519.9 336.1,524.3 336.3,522.2 336.6,526.3 336.8,524.4 337.0,524.1 337.2,525.5 337.4,526.5 337.7,525.8 337.9,521.8 338.1,524.5 338.3,523.1 338.6,527.3 338.8,526.2 339.0,526.2 339.2,526.6 339.4,524.9 339.7,525.8 339.9,525.8 340.1,524.2 340.3,525.2 340.5,525.9 340.8,524.1 341.0,526.2 341.2,525.4 341.4,526.4 341.7,524.4 341.9,525.4 342.1,526.9 342.3,526.2 342.5,524.4 342.8,525.5 343.0,523.0 343.2,525.2 343.4,525.7 343.7,528.1 343.9,525.3 344.1,525.2 344.3,521.7 344.5,524.6 344.8,526.1 345.0,525.2 345.2,524.0 345.4,524.3 345.7,525.3 345.9,526.2 346.1,524.5 346.3,526.1 346.5,524.8 346.8,525.7 347.0,525.9 347.2,526.0 347.4,520.5 347.7,525.6 347.9,525.9 348.1,524.0 348.3,523.4 348.5,525.9 348.8,526.5 349.0,525.3 349.2,525.2 349.4,525.5 349.7,524.6 349.9,525.1 350.1,525.8 350.3,525.7 350.5,524.2 350.8,525.0 351.0,526.3 351.2,526.2 351.4,524.8 351.7,525.6 351.9,524.2 352.1,525.3 352.3,525.8 352.5,524.0 352.8,523.9 353.0,526.3 353.2,521.4 353.4,524.5 353.7,526.2 353.9,525.0 354.1,525.0 354.3,524.6 354.5,525.6 354.8,525.4 355.0,525.2 355.2,524.3 355.4,524.8 355.7,525.8 355.9,526.7 356.1,525.3 356.3,526.9 356.5,525.4 356.8,524.2 357.0,526.0 357.2,524.3 357.4,525.8 357.7,526.1 357.9,525.0 358.1,525.3 358.3,529.1 358.5,525.6 358.8,524.8 359.0,526.2 359.2,525.3 359.4,524.7 359.7,525.8 359.9,522.8 360.1,526.9 360.3,524.2 360.5,524.2 360.8,526.0 361.0,525.4 361.2,524.1 361.4,525.6 361.6,524.2 361.9,524.6 362.1,523.8 362.3,524.5 362.5,525.8 362.8,525.3 363.0,525.7 363.2,526.4 363.4,525.3 363.6,522.7 363.9,525.1 364.1,527.1 364.3,525.4 364.5,525.7 364.8,525.3 365.0,525.6 365.2,525.8 365.4,525.4 365.6,525.2 365.9,524.6 366.1,524.5 366.3,527.5 366.5,526.2 366.8,526.4 367.0,525.1 367.2,522.5 367.4,526.1 367.6,526.0 367.9,523.8 368.1,524.4 368.3,526.0 368.5,527.2 368.8,524.2 369.0,524.0 369.2,526.2 369.4,523.5 369.6,524.6 369.9,524.2 370.1,524.3 370.3,523.4 370.5,525.1 370.8,526.4 371.0,525.8 371.2,525.9 371.4,525.0 371.6,526.9 371.9,525.9 372.1,526.5 372.3,523.7 372.5,525.7 372.8,524.2 373.0,525.7 373.2,525.6 373.4,524.2 373.6,525.6 373.9,526.6 374.1,525.7 374.3,526.0 374.5,524.5 374.8,524.6 375.0,524.2 375.2,525.5 375.4,526.6 375.6,525.8 375.9,525.3 376.1,524.2 376.3,525.8 376.5,525.1 376.8,523.3 377.0,521.0 377.2,525.0 377.4,521.9 377.6,527.1 377.9,525.3 378.1,524.2 378.3,524.8 378.5,527.0 378.8,524.3 379.0,526.1 379.2,524.2 379.4,526.8 379.6,525.8 379.9,524.8 380.1,525.8 380.3,525.3 380.5,526.2 380.7,525.1 381.0,527.3 381.2,524.2 381.4,525.6 381.6,519.3 381.9,525.2 382.1,520.3 382.3,525.2 382.5,525.9 382.7,524.3 383.0,523.9 383.2,526.0 383.4,524.4 383.6,523.9 383.9,525.8 384.1,525.2 384.3,520.9 384.5,523.3 384.7,524.3 385.0,523.8 385.2,521.0 385.4,523.0 385.6,517.7 385.9,518.4 386.1,515.3 386.3,512.7 386.5,512.2 386.7,510.8 387.0,505.6 387.2,509.8 387.4,505.1 387.6,510.0 387.9,517.2 388.1,512.7 388.3,517.0 388.5,515.3 388.7,518.5 389.0,520.3 389.2,519.9 389.4,522.1 389.6,523.2 389.9,525.8 390.1,525.5 390.3,520.3 390.5,525.2 390.7,525.6 391.0,519.1 391.2,522.9 391.4,526.6 391.6,526.3 391.9,524.9 392.1,526.0 392.3,522.1 392.5,523.4 392.7,525.3 393.0,523.3 393.2,526.0 393.4,524.2 393.6,523.6 393.9,527.1 394.1,527.1 394.3,524.7 394.5,526.2 394.7,523.9 395.0,524.4 395.2,525.4 395.4,526.5 395.6,524.3 395.9,520.6 396.1,525.1 396.3,523.6 396.5,522.9 396.7,526.6 397.0,525.9 397.2,525.4 397.4,525.8 397.6,524.0 397.9,526.2 398.1,526.4 398.3,526.5 398.5,526.2 398.7,524.2 399.0,524.0 399.2,523.7 399.4,523.5 399.6,521.5 399.9,525.6 400.1,526.1 400.3,523.6 400.5,525.9 400.7,522.8 401.0,523.8 401.2,521.7 401.4,522.2 401.6,525.6 401.8,517.2 402.1,523.4 402.3,521.4 402.5,520.3 402.7,523.5 403.0,522.8 403.2,523.8 403.4,521.9 403.6,519.3 403.8,523.9 404.1,524.7 404.3,524.4 404.5,523.2 404.7,521.9 405.0,520.3 405.2,522.6 405.4,524.4 405.6,524.6 405.8,518.8 406.1,521.1 406.3,521.5 406.5,520.4 406.7,522.0 407.0,522.3 407.2,520.7 407.4,521.2 407.6,518.8 407.8,519.6 408.1,519.5 408.3,522.0 408.5,518.1 408.7,520.1 409.0,521.4 409.2,520.0 409.4,521.1 409.6,518.7 409.8,520.2 410.1,520.7 410.3,522.7 410.5,520.0 410.7,520.9 411.0,518.3 411.2,518.1 411.4,520.3 411.6,518.2 411.8,519.2 412.1,517.4 412.3,519.5 412.5,519.4 412.7,512.4 413.0,516.9 413.2,513.1 413.4,512.2 413.6,508.4 413.8,510.5 414.1,505.1 414.3,504.7 414.5,503.3 414.7,504.7 415.0,505.2 415.2,503.8 415.4,502.1 415.6,499.1 415.8,495.8 416.1,501.7 416.3,501.5 416.5,502.7 416.7,506.5 417.0,503.5 417.2,504.7 417.4,501.0 417.6,509.2 417.8,509.2 418.1,509.0 418.3,512.6 418.5,510.9 418.7,513.0 419.0,518.8 419.2,517.3 419.4,518.4 419.6,518.7 419.8,519.2 420.1,518.9 420.3,522.8 420.5,519.4 420.7,521.1 420.9,519.9 421.2,520.1 421.4,517.3 421.6,518.3 421.8,523.5 422.1,525.5 422.3,521.1 422.5,521.9 422.7,522.9 422.9,520.9 423.2,524.7 423.4,521.4 423.6,522.1 423.8,517.7 424.1,522.1 424.3,523.1 424.5,525.2 424.7,521.8 424.9,523.8 425.2,523.5 425.4,523.8 425.6,526.2 425.8,526.5 426.1,525.5 426.3,523.4 426.5,525.0 426.7,525.6 426.9,524.8 427.2,524.9 427.4,524.8 427.6,523.3 427.8,525.5 428.1,525.0 428.3,523.4 428.5,524.6 428.7,525.5 428.9,523.4 429.2,524.5 429.4,522.9 429.6,524.1 429.8,523.3 430.1,523.9 430.3,522.7 430.5,524.6 430.7,524.7 430.9,522.4 431.2,526.7 431.4,524.7 431.6,523.9 431.8,524.4 432.1,525.4 432.3,524.1 432.5,526.9 432.7,524.7 432.9,525.7 433.2,524.4 433.4,525.7 433.6,525.6 433.8,525.1 434.1,522.5 434.3,526.8 434.5,524.1 434.7,525.6 434.9,524.5 435.2,525.3 435.4,525.6 435.6,527.7 435.8,525.6 436.1,525.8 436.3,525.1 436.5,523.6 436.7,525.3 436.9,524.6 437.2,524.1 437.4,525.9 437.6,526.2 437.8,523.5 438.1,524.7 438.3,526.1 438.5,526.5 438.7,523.2 438.9,525.0 439.2,528.1 439.4,524.9 439.6,525.0 439.8,524.9 440.1,525.8 440.3,525.5 440.5,525.8 440.7,520.7 440.9,526.3 441.2,526.6 441.4,525.7 441.6,526.4 441.8,524.9 442.0,526.9 442.3,522.9 442.5,526.5 442.7,525.1 442.9,524.8 443.2,524.6 443.4,525.1 443.6,525.0 443.8,524.8 444.0,525.2 444.3,526.2 444.5,526.4 444.7,525.2 444.9,526.8 445.2,524.6 445.4,524.5 445.6,524.4 445.8,526.1 446.0,522.7 446.3,524.2 446.5,526.8 446.7,527.3 446.9,526.9 447.2,522.6 447.4,525.6 447.6,526.4 447.8,525.7 448.0,524.0 448.3,525.2 448.5,523.9 448.7,524.4 448.9,527.7 449.2,526.2 449.4,524.1 449.6,524.1 449.8,526.0 450.0,525.0 450.3,526.1 450.5,524.9 450.7,525.4 450.9,525.8 451.2,524.6 451.4,523.7 451.6,524.2 451.8,524.9 452.0,521.1 452.3,525.5 452.5,525.5 452.7,526.1 452.9,524.7 453.2,527.0 453.4,527.5 453.6,525.9 453.8,528.2 454.0,526.8 454.3,521.6 454.5,525.8 454.7,525.4 454.9,524.9 455.2,524.4 455.4,526.2 455.6,526.7 455.8,524.6 456.0,525.5 456.3,525.8 456.5,525.2 456.7,524.8 456.9,525.2 457.2,518.8 457.4,525.5 457.6,525.3 457.8,527.6 458.0,526.5 458.3,525.2 458.5,525.6 458.7,527.3 458.9,527.1 459.2,525.8 459.4,525.5 459.6,524.2 459.8,525.3 460.0,525.4 460.3,521.7 460.5,527.3 460.7,523.7 460.9,525.4 461.1,526.0 461.4,525.5 461.6,527.2 461.8,524.2 462.0,524.8 462.3,524.7 462.5,525.7 462.7,525.2 462.9,524.8 463.1,526.6 463.4,524.5 463.6,525.0 463.8,526.9 464.0,525.8 464.3,528.3 464.5,524.7 464.7,524.7 464.9,524.6 465.1,524.4 465.4,525.1 465.6,526.7 465.8,523.6 466.0,524.7 466.3,524.7 466.5,524.0 466.7,526.5 466.9,523.5 467.1,525.7 467.4,524.0 467.6,518.8 467.8,524.0 468.0,525.5 468.3,525.3 468.5,527.3 468.7,524.3 468.9,524.3 469.1,525.9 469.4,525.0 469.6,525.0 469.8,523.3 470.0,524.4 470.3,525.1 470.5,525.7 470.7,526.7 470.9,525.9 471.1,524.6 471.4,525.2 471.6,525.0 471.8,526.4 472.0,524.6 472.3,524.7 472.5,522.6 472.7,527.3 472.9,525.0 473.1,524.7 473.4,525.9 473.6,519.5 473.8,526.6 474.0,522.6 474.3,525.2 474.5,523.9 474.7,523.4 474.9,524.8 475.1,523.3 475.4,522.5 475.6,523.7 475.8,523.2 476.0,525.3 476.3,522.7 476.5,525.9 476.7,523.3 476.9,524.1 477.1,524.6 477.4,524.0 477.6,524.4 477.8,522.3 478.0,520.5 478.3,522.7 478.5,520.6 478.7,519.0 478.9,521.8 479.1,521.0 479.4,519.7 479.6,519.2 479.8,518.3 480.0,517.3 480.3,513.6 480.5,515.4 480.7,511.3 480.9,512.2 481.1,509.3 481.4,511.0 481.6,509.8 481.8,505.5 482.0,507.1 482.2,508.9 482.5,511.9 482.7,513.1 482.9,508.0 483.1,513.9 483.4,517.6 483.6,513.4 483.8,518.3 484.0,517.0 484.2,521.4 484.5,517.2 484.7,520.9 484.9,519.8 485.1,521.6 485.4,523.0 485.6,524.3 485.8,520.8 486.0,522.0 486.2,527.5 486.5,523.9 486.7,522.8 486.9,523.5 487.1,519.7 487.4,524.9 487.6,523.2 487.8,521.3 488.0,524.5 488.2,522.3 488.5,521.8 488.7,523.7 488.9,523.5 489.1,522.5 489.4,522.9 489.6,521.3 489.8,521.1 490.0,523.9 490.2,524.4 490.5,523.2 490.7,523.0 490.9,521.8 491.1,520.5 491.4,516.6 491.6,523.9 491.8,520.4 492.0,521.2 492.2,520.1 492.5,517.3 492.7,521.6 492.9,517.1 493.1,515.4 493.4,515.8 493.6,512.8 493.8,513.3 494.0,510.2 494.2,512.1 494.5,510.3 494.7,506.8 494.9,511.6 495.1,510.1 495.4,508.1 495.6,512.0 495.8,513.2 496.0,517.0 496.2,514.1 496.5,519.3 496.7,517.0 496.9,519.2 497.1,521.0 497.4,519.9 497.6,521.5 497.8,519.6 498.0,515.1 498.2,522.4 498.5,522.2 498.7,523.2 498.9,524.1 499.1,523.3 499.4,525.1 499.6,523.9 499.8,524.2 500.0,525.1 500.2,523.5 500.5,524.3 500.7,524.6 500.9,523.7 501.1,525.8 501.3,524.8 501.6,525.6 501.8,524.3 502.0,525.7 502.2,526.9 502.5,527.1 502.7,525.0 502.9,526.1 503.1,525.7 503.3,525.9 503.6,526.0 503.8,525.7 504.0,526.0 504.2,525.4 504.5,522.2 504.7,524.6 504.9,522.8 505.1,526.5 505.3,525.7 505.6,526.1 505.8,526.8 506.0,522.2 506.2,525.2 506.5,525.9 506.7,525.5 506.9,524.5 507.1,525.8 507.3,525.4 507.6,524.5 507.8,527.3 508.0,524.3 508.2,525.5 508.5,524.9 508.7,525.6 508.9,526.0 509.1,524.7 509.3,525.4 509.6,524.0 509.8,525.9 510.0,526.5 510.2,526.1 510.5,524.3 510.7,521.4 510.9,521.7 511.1,520.6 511.3,518.3 511.6,520.6 511.8,516.1 512.0,518.7 512.2,522.8 512.5,522.4 512.7,525.0 512.9,524.7 513.1,526.1 513.3,526.0 513.6,526.8 513.8,526.5 514.0,526.8 514.2,526.2 514.5,526.7 514.7,526.2 514.9,525.1 515.1,524.5 515.3,524.6 515.6,526.2 515.8,523.5 516.0,525.9 516.2,525.0 516.5,526.4 516.7,525.9 516.9,525.1 517.1,520.9 517.3,522.6 517.6,526.0 517.8,526.2 518.0,524.1 518.2,526.6 518.5,526.1 518.7,525.9 518.9,524.5 519.1,525.9 519.3,526.3 519.6,525.8 519.8,524.9 520.0,526.5 520.2,526.9 520.5,526.2 520.7,526.7 520.9,525.3 521.1,525.9 521.3,526.2 521.6,525.9 521.8,528.4 522.0,526.2 522.2,525.3 522.4,526.6 522.7,524.8 522.9,526.2 523.1,526.5 523.3,522.2 523.6,525.6 523.8,525.0 524.0,528.1 524.2,525.2 524.4,527.4 524.7,526.4 524.9,525.7 525.1,524.6 525.3,527.7 525.6,527.0 525.8,526.3 526.0,526.1 526.2,526.0 526.4,525.5 526.7,527.6 526.9,526.1 527.1,524.6 527.3,525.3 527.6,523.5 527.8,522.6 528.0,526.2 528.2,527.5 528.4,525.5 528.7,525.2 528.9,526.3 529.1,526.5 529.3,526.6 529.6,525.4 529.8,524.3 530.0,525.1 530.2,527.1 530.4,525.9 530.7,525.7 530.9,525.4 531.1,525.5 531.3,525.2 531.6,525.6 531.8,525.0 532.0,526.3 532.2,527.1 532.4,526.9 532.7,524.7 532.9,520.5 533.1,526.4 533.3,526.9 533.6,524.7 533.8,524.9 534.0,525.0 534.2,524.9 534.4,525.6 534.7,523.7 534.9,526.2 535.1,524.8 535.3,525.8 535.6,525.4 535.8,525.0 536.0,526.8 536.2,525.0 536.4,526.3 536.7,525.6 536.9,526.5 537.1,526.4 537.3,525.7 537.6,524.3 537.8,526.6 538.0,526.5 538.2,526.2 538.4,526.1 538.7,526.0 538.9,526.0 539.1,525.0 539.3,525.8 539.6,526.1 539.8,525.3 540.0,525.0 540.2,527.5 540.4,524.9 540.7,525.6 540.9,525.0 541.1,523.5 541.3,524.6 541.5,525.6 541.8,527.0 542.0,520.9 542.2,525.2 542.4,527.6 542.7,529.4 542.9,522.8 543.1,526.9 543.3,525.5 543.5,525.7 543.8,526.5 544.0,526.6 544.2,524.9 544.4,527.2 544.7,524.3 544.9,525.2 545.1,528.6 545.3,525.4 545.5,526.4 545.8,525.0 546.0,525.6 546.2,525.2 546.4,525.5 546.7,526.4 546.9,527.1 547.1,526.6 547.3,527.2 547.5,525.4 547.8,527.2 548.0,526.4 548.2,527.1 548.4,525.5 548.7,525.7 548.9,524.1 549.1,526.4 549.3,526.0 549.5,525.2 549.8,525.8 550.0,526.3 550.2,526.5 550.4,525.4 550.7,525.5 550.9,526.2 551.1,524.9 551.3,526.7 551.5,525.8 551.8,525.7 552.0,523.7 552.2,524.4 552.4,524.9 552.7,525.3 552.9,525.5 553.1,526.1 553.3,525.9 553.5,525.5 553.8,524.0 554.0,527.0 554.2,525.5 554.4,526.3 554.7,525.2 554.9,522.4 555.1,526.4 555.3,520.1 555.5,526.6 555.8,525.6 556.0,527.5 556.2,524.1 556.4,525.3 556.7,526.6 556.9,525.5 557.1,525.4 557.3,524.2 557.5,523.6 557.8,524.1 558.0,526.2 558.2,525.9 558.4,526.5 558.7,527.0 558.9,525.1 559.1,525.0 559.3,525.4 559.5,524.2 559.8,526.4 560.0,525.3 560.2,525.8 560.4,524.7 560.7,525.7 560.9,525.1 561.1,525.6 561.3,524.7 561.5,526.6 561.8,525.1 562.0,522.9 562.2,526.2 562.4,525.4 562.6,524.8 562.9,527.9 563.1,525.6 563.3,524.4 563.5,523.7 563.8,521.8 564.0,525.4 564.2,526.7 564.4,526.8 564.6,524.8 564.9,525.5 565.1,526.1 565.3,524.8 565.5,525.0 565.8,526.2 566.0,525.8 566.2,524.1 566.4,524.8 566.6,524.9 566.9,525.2 567.1,524.6 567.3,526.5 567.5,524.3 567.8,524.1 568.0,525.3 568.2,522.9 568.4,524.0 568.6,525.5 568.9,523.6 569.1,523.9 569.3,525.8 569.5,525.1 569.8,524.6 570.0,523.4 570.2,522.5 570.4,524.6 570.6,524.0 570.9,526.7 571.1,524.6 571.3,522.2 571.5,523.7 571.8,523.7 572.0,522.0 572.2,522.5 572.4,524.9 572.6,521.5 572.9,522.3 573.1,523.9 573.3,524.4 573.5,521.2 573.8,524.0 574.0,521.6 574.2,523.9 574.4,522.3 574.6,521.2 574.9,522.3 575.1,521.9 575.3,520.0 575.5,523.5 575.8,516.5 576.0,521.9 576.2,519.5 576.4,517.5 576.6,518.3 576.9,516.7 577.1,520.4 577.3,521.8 577.5,519.3 577.8,518.6 578.0,517.1 578.2,518.7 578.4,519.1 578.6,515.3 578.9,520.3 579.1,520.0 579.3,521.6 579.5,518.2 579.8,518.3 580.0,518.2 580.2,516.3 580.4,517.0 580.6,516.9 580.9,519.1 581.1,519.0 581.3,520.4 581.5,518.0 581.7,516.7 582.0,519.5 582.2,518.0 582.4,519.0 582.6,521.0 582.9,518.6 583.1,519.2 583.3,518.4 583.5,520.2 583.7,520.0 584.0,520.2 584.2,520.8 584.4,518.9 584.6,518.7 584.9,521.3 585.1,519.0 585.3,521.9 585.5,524.6 585.7,523.1 586.0,521.1 586.2,521.0 586.4,524.0 586.6,519.3 586.9,522.0 587.1,523.5 587.3,522.4 587.5,523.7 587.7,522.1 588.0,523.4 588.2,523.6 588.4,523.7 588.6,524.0 588.9,524.0 589.1,525.2 589.3,523.9 589.5,523.6 589.7,524.1 590.0,524.1 590.2,523.0 590.4,522.7 590.6,523.4 590.9,525.0 591.1,524.2 591.3,524.5 591.5,527.6 591.7,526.0 592.0,524.8 592.2,524.5 592.4,526.4 592.6,524.4 592.9,526.3 593.1,525.8 593.3,526.9 593.5,524.6 593.7,528.3 594.0,523.7 594.2,525.2 594.4,526.4 594.6,526.0 594.9,523.8 595.1,524.3 595.3,525.9 595.5,525.4 595.7,524.9 596.0,525.3 596.2,526.6 596.4,526.4 596.6,526.0 596.9,526.5 597.1,526.2 597.3,524.5 597.5,525.1 597.7,527.5 598.0,524.6 598.2,525.9 598.4,519.7 598.6,524.9 598.9,525.8 599.1,526.4 599.3,526.3 599.5,525.8 599.7,526.5 600.0,524.2 600.2,520.8 600.4,526.0 600.6,525.5 600.8,525.7 601.1,524.9 601.3,526.7 601.5,524.0 601.7,524.4 602.0,525.7 602.2,525.2 602.4,524.2 602.6,526.6 602.8,525.6 603.1,525.8 603.3,527.6 603.5,524.5 603.7,523.3 604.0,526.7 604.2,527.0 604.4,527.6 604.6,525.2 604.8,526.2 605.1,525.6 605.3,525.3 605.5,525.1 605.7,524.5 606.0,526.0 606.2,526.4 606.4,524.8 606.6,526.4 606.8,525.3 607.1,524.9 607.3,526.2 607.5,526.7 607.7,526.4 608.0,527.2 608.2,525.4 608.4,524.6 608.6,526.2 608.8,525.7 609.1,526.2 609.3,525.9 609.5,524.6 609.7,524.4 610.0,526.1 610.2,524.3 610.4,525.4 610.6,526.5 610.8,524.7 611.1,526.3 611.3,525.8 611.5,526.2 611.7,525.3 612.0,525.8 612.2,526.2 612.4,526.9 612.6,526.4 612.8,526.2 613.1,524.7 613.3,526.1 613.5,525.2 613.7,525.8 614.0,526.1 614.2,525.1 614.4,526.3 614.6,526.0 614.8,525.8 615.1,527.0 615.3,525.1 615.5,525.9 615.7,527.0 616.0,525.5 616.2,526.5 616.4,526.6 616.6,527.5 616.8,526.8 617.1,524.5 617.3,525.8 617.5,526.1 617.7,524.8 618.0,526.2 618.2,527.4 618.4,526.8 618.6,524.8 618.8,525.3 619.1,524.1 619.3,525.2 619.5,525.7 619.7,525.7 620.0,524.5 620.2,525.4 620.4,523.7 620.6,525.4 620.8,525.4 621.1,525.2 621.3,527.4 621.5,525.3 621.7,524.5 621.9,525.3 622.2,525.4 622.4,525.7 622.6,525.5 622.8,524.8 623.1,524.9 623.3,526.0 623.5,524.5 623.7,527.4 623.9,527.1 624.2,524.2 624.4,525.4 624.6,526.6 624.8,526.8 625.1,527.3 625.3,524.2 625.5,524.8 625.7,525.3 625.9,526.2 626.2,525.4 626.4,526.1 626.6,526.1 626.8,526.3 627.1,524.6 627.3,525.9 627.5,525.8 627.7,526.7 627.9,524.5 628.2,525.5 628.4,526.9 628.6,525.2 628.8,527.2 629.1,527.1 629.3,525.4 629.5,526.0 629.7,526.0 629.9,524.9 630.2,522.8 630.4,524.6 630.6,523.1 630.8,525.8 631.1,526.5 631.3,525.6 631.5,525.2 631.7,527.1 631.9,524.9 632.2,526.0 632.4,526.7 632.6,526.4 632.8,524.2 633.1,525.5 633.3,525.7 633.5,525.6 633.7,526.3 633.9,526.2 634.2,525.9 634.4,526.0 634.6,526.6 634.8,526.8 635.1,524.2 635.3,527.6 635.5,525.3 635.7,526.4 635.9,524.4 636.2,525.3 636.4,524.7 636.6,526.7 636.8,526.5 637.1,525.7 637.3,525.6 637.5,527.3 637.7,524.9 637.9,525.2 638.2,525.1 638.4,526.4 638.6,525.7 638.8,524.6 639.1,526.0 639.3,522.6 639.5,526.8 639.7,525.2 639.9,526.0 640.2,527.4 640.4,525.3 640.6,525.2 640.8,526.0 641.0,525.1 641.3,525.5 641.5,525.0 641.7,524.7 641.9,526.1 642.2,524.9 642.4,524.2 642.6,524.8 642.8,524.8 643.0,525.1 643.3,525.6 643.5,526.2 643.7,523.2 643.9,523.9 644.2,522.1 644.4,523.9 644.6,524.0 644.8,522.5 645.0,521.9 645.3,521.5 645.5,520.6 645.7,521.4 645.9,523.8 646.2,519.9 646.4,522.9 646.6,520.4 646.8,519.5 647.0,520.7 647.3,520.7 647.5,520.0 647.7,519.0 647.9,521.4 648.2,518.8 648.4,520.0 648.6,520.1 648.8,518.1 649.0,517.0 649.3,517.4 649.5,519.4 649.7,520.6 649.9,518.2 650.2,518.2 650.4,522.9 650.6,519.3 650.8,522.3 651.0,522.4 651.3,523.2 651.5,521.1 651.7,523.3 651.9,521.8 652.2,524.8 652.4,522.8 652.6,525.4 652.8,523.3 653.0,524.4 653.3,523.0 653.5,524.8 653.7,525.2 653.9,524.8 654.2,524.8 654.4,525.3 654.6,525.7 654.8,525.5 655.0,526.7 655.3,524.5 655.5,524.8 655.7,524.8 655.9,525.6 656.2,525.2 656.4,525.7 656.6,525.1 656.8,524.3 657.0,524.6 657.3,525.0 657.5,522.3 657.7,525.7 657.9,523.6 658.2,521.6 658.4,524.1 658.6,523.4 658.8,522.2 659.0,521.8 659.3,523.2 659.5,521.9 659.7,522.1 659.9,521.7 660.2,521.8 660.4,523.1 660.6,518.3 660.8,521.5 661.0,520.2 661.3,518.9 661.5,522.8 661.7,519.1 661.9,521.5 662.1,522.0 662.4,524.9 662.6,521.3 662.8,521.1 663.0,521.9 663.3,522.2 663.5,523.3 663.7,521.2 663.9,521.4 664.1,520.2 664.4,523.1 664.6,522.3 664.8,524.7 665.0,522.1 665.3,523.9 665.5,520.4 665.7,523.2 665.9,525.9 666.1,524.6 666.4,524.4 666.6,524.4 666.8,524.1 667.0,524.6 667.3,524.5 667.5,526.9 667.7,525.5 667.9,525.9 668.1,526.3 668.4,525.3 668.6,525.3 668.8,519.9 669.0,526.0 669.3,525.8 669.5,525.2 669.7,526.6 669.9,524.1 670.1,524.0 670.4,524.5 670.6,524.7 670.8,525.5 671.0,526.8 671.3,524.7 671.5,523.7 671.7,524.5 671.9,524.6 672.1,526.2 672.4,526.1 672.6,527.5 672.8,525.9 673.0,523.2 673.3,525.3 673.5,524.8 673.7,527.4 673.9,524.6 674.1,526.0 674.4,525.3 674.6,524.7 674.8,525.8 675.0,525.7 675.3,525.2 675.5,524.8 675.7,525.2 675.9,524.9 676.1,525.0 676.4,525.9 676.6,525.7 676.8,526.2 677.0,525.6 677.3,527.4 677.5,525.2 677.7,525.0 677.9,526.6 678.1,525.2 678.4,523.2 678.6,526.6 678.8,522.6 679.0,525.5 679.3,526.2 679.5,526.1 679.7,525.4 679.9,524.8 680.1,524.5 680.4,524.4 680.6,525.1 680.8,524.9 681.0,526.0 681.2,526.4 681.5,525.3 681.7,524.2 681.9,524.9 682.1,524.7 682.4,525.4 682.6,526.3 682.8,526.2 683.0,526.3 683.2,525.6 683.5,523.6 683.7,526.5 683.9,526.9 684.1,524.6 684.4,526.5 684.6,526.7 684.8,525.7 685.0,526.1 685.2,525.1 685.5,526.5 685.7,526.4 685.9,524.3 686.1,525.5 686.4,524.9 686.6,526.3 686.8,525.5 687.0,524.8 687.2,525.2 687.5,524.8 687.7,527.1 687.9,525.6 688.1,525.9 688.4,524.8 688.6,523.2 688.8,526.7 689.0,524.0 689.2,526.0 689.5,527.3 689.7,526.3 689.9,526.4 690.1,526.2 690.4,526.0 690.6,525.6 690.8,527.4 691.0,524.8 691.2,524.0 691.5,524.2 691.7,524.8 691.9,525.4 692.1,524.4 692.4,526.1 692.6,525.5 692.8,525.2 693.0,525.3 693.2,525.5 693.5,526.7 693.7,527.0 693.9,526.1 694.1,525.3 694.4,525.0 694.6,526.0 694.8,526.6 695.0,524.3 695.2,521.9 695.5,525.8 695.7,525.5 695.9,525.1 696.1,524.5 696.4,526.5 696.6,525.0 696.8,525.8 697.0,526.3 697.2,527.2 697.5,526.2 697.7,525.7 697.9,524.4 698.1,526.4 698.4,526.6 698.6,525.4 698.8,526.2 699.0,525.6 699.2,526.8 699.5,524.9 699.7,526.4 699.9,526.9 700.1,526.3 700.4,525.5 700.6,525.1 700.8,526.1 701.0,526.0 701.2,524.4 701.5,526.2 701.7,522.3 701.9,526.2 702.1,525.4 702.3,526.3 702.6,526.5 702.8,526.2 703.0,524.8 703.2,524.8 703.5,526.5 703.7,526.0 703.9,524.3 704.1,524.0 704.3,526.3 704.6,527.4 704.8,526.3 705.0,525.4 705.2,525.8 705.5,523.3 705.7,524.7 705.9,526.4 706.1,525.5 706.3,523.8 706.6,526.5 706.8,525.9 707.0,526.2 707.2,525.3 707.5,525.4 707.7,524.5 707.9,525.7 708.1,526.1 708.3,524.5 708.6,525.6 708.8,524.8 709.0,526.1 709.2,525.6 709.5,523.1 709.7,525.4 709.9,525.8 710.1,524.4 710.3,524.6 710.6,524.5 710.8,523.5 711.0,524.3 711.2,525.7 711.5,524.6 711.7,525.4 711.9,524.7 712.1,524.7 712.3,520.1 712.6,523.9 712.8,524.9 713.0,524.1 713.2,522.6 713.5,521.1 713.7,520.5 713.9,521.5 714.1,521.4 714.3,518.3 714.6,520.4 714.8,520.2 715.0,519.8 715.2,518.4 715.5,521.8 715.7,519.6 715.9,516.3 716.1,516.1 716.3,518.1 716.6,518.2 716.8,517.5 717.0,517.2 717.2,516.9 717.5,516.7 717.7,515.9 717.9,518.3 718.1,513.9 718.3,516.9 718.6,519.8 718.8,517.5 719.0,517.3 719.2,521.6 719.5,520.8 719.7,519.7 719.9,519.9 720.1,520.3 720.3,520.5 720.6,519.9 720.8,520.8 721.0,522.5 721.2,521.7 721.4,520.6 721.7,521.5 721.9,523.1 722.1,522.3 722.3,521.1 722.6,525.2 722.8,525.1 723.0,523.7 723.2,523.8 723.4,524.9 723.7,525.7 723.9,524.1 724.1,525.1 724.3,524.3 724.6,525.2 724.8,524.0 725.0,523.5 725.2,525.2 725.4,525.1 725.7,525.2 725.9,524.7 726.1,526.4 726.3,525.4 726.6,526.6 726.8,525.1 727.0,526.6 727.2,525.3 727.4,525.5 727.7,526.2 727.9,523.2 728.1,524.6 728.3,526.9 728.6,524.3 728.8,525.1 729.0,525.9 729.2,526.3 729.4,525.1 729.7,525.6 729.9,524.6 730.1,524.9 730.3,526.4 730.6,525.8 730.8,525.5 731.0,525.9 731.2,525.7 731.4,522.5 731.7,525.3 731.9,524.8 732.1,526.1 732.3,524.7 732.6,524.1 732.8,526.2 733.0,526.8 733.2,526.3 733.4,527.6 733.7,525.8 733.9,524.0 734.1,525.1 734.3,524.3 734.6,524.7 734.8,526.0 735.0,526.2 735.2,526.6 735.4,526.6 735.7,524.3 735.9,525.1 736.1,525.6 736.3,525.0 736.6,526.7 736.8,524.2 737.0,525.3 737.2,525.4 737.4,526.9 737.7,524.8 737.9,525.5 738.1,525.1 738.3,526.1 738.6,524.4 738.8,525.6 739.0,525.3 739.2,525.3 739.4,525.9 739.7,526.1 739.9,528.1 740.1,525.8 740.3,526.3 740.6,525.1 740.8,524.5 741.0,526.6 741.2,527.3 741.4,521.1 741.7,525.7 741.9,526.6 742.1,525.8 742.3,523.9 742.5,526.5 742.8,525.7 743.0,526.3 743.2,525.0 743.4,526.4 743.7,526.6 743.9,525.2 744.1,526.1 744.3,525.3 744.5,525.4 744.8,525.1 745.0,524.2 745.2,525.3 745.4,526.7 745.7,525.6 745.9,524.9 746.1,526.8 746.3,526.2 746.5,526.5 746.8,525.7 747.0,526.3 747.2,525.7 747.4,525.1 747.7,525.9 747.9,523.8 748.1,525.9 748.3,526.4 748.5,524.5 748.8,526.0 749.0,527.0 749.2,525.6 749.4,526.1 749.7,525.8 749.9,525.3 750.1,525.6 750.3,525.8 750.5,526.5 750.8,526.7 751.0,523.4 751.2,525.0 751.4,525.9 751.7,526.4 751.9,526.1 752.1,524.9 752.3,524.5 752.5,525.6 752.8,523.3 753.0,526.3 753.2,525.9 753.4,526.5 753.7,525.8 753.9,524.2 754.1,525.8 754.3,526.2 754.5,525.5 754.8,523.8 755.0,526.6 755.2,526.4 755.4,526.8 755.7,525.4 755.9,526.2 756.1,527.1 756.3,526.0 756.5,525.7 756.8,525.7 757.0,525.4 757.2,525.9 757.4,526.9 757.7,526.2 757.9,525.8 758.1,525.2 758.3,525.0 758.5,527.6 758.8,525.5 759.0,525.9 759.2,525.5 759.4,526.0 759.7,525.5 759.9,525.9 760.1,526.9 760.3,525.3 760.5,526.2 760.8,525.8 761.0,526.3 761.2,525.3 761.4,526.1 761.6,525.1 761.9,524.5 762.1,524.8 762.3,525.1 762.5,521.4 762.8,522.4 763.0,526.6 763.2,522.6 763.4,526.1 763.6,525.9 763.9,525.3 764.1,524.8 764.3,526.1 764.5,526.1 764.8,525.5 765.0,525.7 765.2,525.8 765.4,524.8 765.6,522.9 765.9,526.3 766.1,527.1 766.3,524.9 766.5,525.1 766.8,524.0 767.0,525.4 767.2,525.5 767.4,525.8 767.6,525.6 767.9,525.8 768.1,526.1 768.3,524.6 768.5,526.2 768.8,524.2 769.0,527.0 769.2,526.4 769.4,525.3 769.6,526.5 769.9,525.7 770.1,526.1 770.3,526.3 770.5,526.0 770.8,525.8 771.0,526.2 771.2,525.6"/><path fill="none" stroke="#ff8000" stroke-width="4.2" stroke-linejoin="round" stroke-linecap="round" d="M49.6,392.9 L49.8,393.9 L50.0,394.3 L50.3,394.1 L50.6,394.4 L50.9,395.3 L51.3,396.3 L51.6,397.0 L51.9,397.1 L52.4,397.7 L52.9,399.0 L53.5,399.6 L54.2,399.3 L54.5,398.7 L54.9,398.1 L55.3,397.9 L55.7,397.2 L56.1,396.1 L56.6,395.3 L57.0,394.8 L57.4,393.7 L57.8,393.3 L58.2,394.1 L58.4,394.0 L58.5,393.8 L58.7,394.6 L58.8,395.4 L59.0,395.7 L59.1,396.5 L59.3,398.1 L59.4,399.5 L59.6,399.8 L59.7,400.5 L59.9,401.8 L60.0,402.9 L60.2,403.5 L60.3,404.6 L60.5,405.5 L60.6,405.5 L60.8,405.8 L61.0,406.7 L61.1,407.6 L61.3,407.7 L61.5,407.1 L61.7,406.8 L61.9,406.5 L62.0,406.3 L62.2,406.8 L62.4,406.7 L62.6,406.3 L62.8,406.3 L63.0,405.9 L63.2,404.9 L63.5,404.2 L63.7,403.1 L63.9,401.8 L64.1,401.4 L64.3,400.5 L64.5,399.1 L64.8,398.5 L65.0,398.2 L65.2,397.5 L65.4,396.5 L65.6,395.8 L65.8,395.1 L66.0,394.3 L66.2,394.0 L66.3,393.7 L66.5,393.2 L66.7,392.9 L66.8,393.1 L67.1,393.0 L67.3,392.9 L67.6,393.7 L67.8,395.0 L68.0,395.4 L68.1,395.4 L68.3,396.7 L68.4,397.8 L68.6,398.1 L68.7,398.7 L68.9,399.4 L69.1,399.3 L69.3,399.6 L69.5,399.3 L69.6,397.8 L69.8,396.7 L70.0,396.0 L70.2,395.9 L70.4,396.1 L70.5,395.0 L70.7,392.8 L70.9,392.3 L71.2,393.2 L71.4,393.6 L71.5,393.2 L71.7,392.9 L71.9,393.5 L72.0,394.0 L72.2,394.4 L72.4,395.0 L72.5,396.1 L72.7,397.0 L72.9,397.6 L73.1,398.0 L73.3,398.4 L73.4,399.8 L73.6,401.2 L73.8,401.4 L74.0,401.7 L74.2,403.2 L74.4,404.3 L74.5,404.8 L74.7,404.4 L74.9,403.5 L75.1,403.6 L75.4,404.8 L75.6,404.9 L75.9,403.1 L76.1,402.0 L76.4,401.5 L76.6,400.5 L76.8,399.6 L77.1,399.0 L77.3,398.6 L77.6,398.2 L77.8,397.5 L78.1,396.8 L78.3,396.2 L79.0,395.2 L79.7,394.3 L80.4,394.8 L81.1,395.9 L81.8,396.1 L82.4,396.1 L83.0,396.1 L83.6,395.9 L84.2,395.7 L84.7,395.6 L85.0,395.2 L85.2,395.0 L85.5,395.4 L85.7,395.9 L85.9,396.4 L86.2,397.3 L86.4,398.4 L86.7,399.3 L87.0,399.5 L87.2,399.6 L87.4,400.8 L87.6,402.3 L87.8,403.4 L88.0,403.9 L88.2,404.0 L88.4,405.2 L88.6,407.0 L88.8,408.1 L89.1,409.1 L89.3,409.4 L89.5,408.9 L89.7,409.2 L90.0,409.8 L90.2,409.9 L90.4,409.7 L90.5,409.4 L90.7,408.6 L90.8,407.8 L90.9,407.5 L91.0,407.2 L91.2,406.8 L91.3,406.3 L91.4,406.1 L91.6,405.6 L91.7,404.7 L91.8,403.8 L92.0,402.7 L92.1,401.7 L92.2,400.8 L92.3,400.1 L92.5,399.6 L92.6,398.9 L92.7,397.9 L92.9,396.9 L93.0,396.4 L93.1,395.5 L93.3,394.6 L93.4,394.3 L93.5,393.9 L93.6,393.6 L93.8,393.0 L93.9,392.3 L94.2,392.5 L94.6,393.2 L94.9,393.1 L95.2,393.0 L95.5,393.5 L95.9,394.6 L96.2,395.9 L96.5,396.5 L96.9,397.6 L97.3,398.4 L97.5,398.4 L97.8,399.5 L98.0,400.7 L98.2,401.3 L98.5,402.0 L98.7,402.9 L99.0,403.5 L99.2,404.1 L99.5,404.8 L99.7,405.5 L100.0,406.0 L100.3,406.8 L100.5,407.0 L100.8,407.3 L101.1,408.6 L101.4,409.7 L101.6,409.4 L101.9,408.9 L102.1,408.7 L102.4,408.2 L102.6,407.8 L102.8,407.0 L103.1,405.9 L103.3,405.6 L103.6,405.0 L103.8,403.9 L104.1,402.8 L104.3,401.9 L104.6,401.8 L104.8,402.1 L105.1,401.7 L105.3,400.6 L105.6,399.7 L105.8,398.2 L106.0,396.9 L106.3,397.0 L106.5,397.0 L106.7,396.4 L106.9,396.4 L107.1,396.2 L107.3,395.5 L107.5,395.4 L107.8,396.2 L107.9,397.0 L108.1,397.9 L108.3,399.4 L108.5,400.4 L108.6,400.6 L108.8,401.6 L109.0,402.8 L109.1,403.7 L109.3,404.2 L109.5,404.6 L109.7,405.8 L109.9,407.0 L110.1,406.8 L110.3,406.3 L110.5,406.8 L110.7,407.2 L111.0,406.4 L111.2,405.9 L111.5,405.5 L111.8,404.5 L112.1,403.9 L112.4,403.1 L112.7,402.2 L113.0,402.0 L113.3,401.0 L113.6,399.7 L113.9,399.2 L114.2,398.0 L114.4,396.7 L114.7,396.6 L115.0,396.9 L115.2,396.8 L115.5,396.4 L115.7,396.3 L115.9,396.4 L116.1,396.7 L116.4,397.4 L116.5,397.8 L116.7,398.3 L116.9,398.8 L117.1,399.0 L117.2,400.1 L117.4,401.8 L117.5,402.5 L117.7,402.9 L117.8,403.6 L118.0,404.3 L118.1,404.9 L118.3,405.5 L118.4,405.7 L118.6,406.0 L119.1,406.8 L119.5,406.1 L120.0,404.8 L120.5,404.4 L120.9,404.1 L121.4,403.8 L121.9,403.9 L122.4,405.5 L122.8,406.8 L123.3,406.3 L123.8,406.3 L124.3,407.0 L124.9,407.1 L125.5,407.1 L126.0,407.9 L126.6,408.9 L127.2,409.2 L127.4,409.0 L127.6,408.1 L127.9,408.1 L128.1,408.1 L128.3,406.3 L128.5,404.9 L128.7,404.5 L128.9,404.2 L129.2,403.8 L129.4,402.8 L129.6,401.9 L129.9,402.2 L130.1,402.9 L130.7,401.3 L131.2,399.3 L131.8,399.3 L132.5,400.0 L133.1,400.6 L133.7,401.6 L133.9,402.5 L134.2,403.0 L134.4,403.1 L134.7,403.3 L134.9,403.8 L135.2,404.8 L135.4,405.9 L135.7,406.3 L135.9,406.8 L136.2,407.8 L136.4,408.2 L136.7,408.2 L137.0,408.3 L137.2,408.6 L137.5,408.4 L138.0,408.4 L138.6,409.6 L139.2,409.8 L139.9,409.1 L140.5,408.9 L141.1,408.3 L141.6,406.9 L142.1,405.5 L142.6,405.7 L143.0,406.4 L143.4,406.8 L143.7,406.6 L144.1,405.3 L144.5,403.0 L144.9,401.8 L145.1,402.3 L145.3,402.3 L145.6,401.7 L145.8,400.8 L146.1,399.5 L146.3,398.4 L146.6,397.9 L146.8,397.4 L147.1,396.8 L147.3,396.3 L147.6,395.6 L147.8,395.1 L148.1,394.9 L148.3,395.0 L148.6,394.9 L148.8,394.5 L148.9,395.1 L149.1,396.1 L149.3,396.6 L149.5,397.1 L149.6,397.5 L149.8,397.6 L150.0,398.3 L150.2,399.5 L150.3,400.7 L150.5,401.3 L150.7,401.5 L150.8,402.3 L151.0,403.9 L151.2,404.6 L151.4,404.5 L151.5,405.3 L151.7,406.3 L151.9,406.8 L152.1,407.2 L152.2,407.9 L152.4,408.5 L152.6,408.2 L152.8,407.8 L153.0,407.2 L153.2,406.6 L153.5,406.2 L153.7,405.4 L153.9,404.5 L154.1,403.9 L154.3,403.5 L154.5,402.9 L154.7,401.9 L154.9,401.1 L155.1,401.1 L155.3,400.7 L155.5,399.9 L155.7,398.9 L155.9,397.8 L156.1,397.1 L156.7,397.1 L157.3,398.3 L157.9,398.6 L158.4,397.6 L158.9,394.8 L158.9,394.5 L159.0,394.3 L159.0,393.7 L159.0,393.3 L159.1,393.5 L159.1,393.0 L159.1,392.3 L159.2,393.0 L159.2,393.0 L159.3,391.9 L159.3,391.6 L159.3,390.8 L159.4,389.9 L159.4,389.3 L159.4,388.9 L159.5,389.2 L159.5,388.7 L159.5,387.5 L159.6,386.6 L159.6,385.8 L159.6,385.9 L159.7,385.6 L159.7,384.3 L159.7,383.9 L159.8,384.1 L159.8,384.1 L159.8,383.5 L159.8,382.0 L159.9,381.1 L159.9,380.8 L159.9,380.1 L160.0,379.6 L160.0,379.8 L160.0,379.4 L160.1,378.1 L160.1,377.1 L160.1,376.1 L160.2,374.9 L160.2,374.3 L160.2,374.4 L160.2,374.7 L160.3,373.9 L160.3,372.4 L160.3,370.9 L160.4,369.8 L160.4,370.3 L160.4,370.2 L160.5,368.9 L160.5,368.4 L160.5,367.5 L160.5,366.3 L160.6,366.3 L160.6,366.1 L160.6,364.9 L160.7,364.0 L160.7,363.0 L160.7,361.8 L160.7,361.5 L160.8,361.1 L160.8,360.1 L160.8,359.5 L160.8,358.3 L160.9,356.9 L160.9,356.5 L160.9,356.2 L160.9,355.5 L161.0,355.0 L161.0,354.5 L161.0,353.9 L161.0,353.3 L161.1,352.6 L161.1,352.3 L161.1,352.3 L161.1,351.5 L161.1,350.2 L161.2,349.6 L161.2,349.8 L161.2,349.4 L161.2,348.3 L161.2,347.4 L161.2,346.3 L161.3,345.4 L161.3,345.2 L161.3,345.1 L161.3,344.5 L161.3,343.7 L161.3,343.5 L161.4,343.1 L161.4,342.4 L161.4,341.7 L161.4,340.6 L161.4,339.9 L161.4,339.4 L161.5,338.8 L161.5,337.9 L161.5,337.1 L161.5,336.7 L161.5,335.8 L161.5,334.6 L161.6,333.9 L161.6,334.1 L161.6,334.1 L161.6,333.4 L161.6,332.0 L161.6,330.3 L161.7,329.5 L161.7,329.0 L161.7,328.7 L161.7,328.7 L161.7,328.0 L161.7,327.1 L161.7,326.3 L161.8,325.0 L161.8,324.0 L161.8,323.7 L161.8,323.7 L161.8,323.3 L161.8,322.8 L161.8,321.9 L161.9,320.3 L161.9,319.6 L161.9,319.2 L161.9,318.2 L161.9,317.9 L161.9,318.2 L161.9,318.0 L162.0,317.1 L162.0,315.9 L162.0,315.2 L162.0,314.8 L162.0,314.0 L162.0,313.6 L162.0,313.2 L162.1,312.0 L162.1,311.0 L162.1,310.8 L162.1,310.6 L162.1,310.1 L162.1,309.4 L162.1,308.5 L162.2,307.1 L162.2,306.7 L162.2,306.6 L162.2,305.7 L162.2,304.7 L162.2,304.2 L162.2,304.1 L162.3,303.8 L162.3,303.4 L162.3,303.7 L162.3,303.8 L162.3,303.1 L162.3,302.7 L162.3,301.8 L162.4,300.7 L162.4,300.2 L162.4,300.0 L162.4,299.9 L162.5,298.5 L162.5,297.7 L162.6,295.9 L162.6,294.0 L162.7,293.7 L162.7,293.1 L162.8,291.5 L162.8,290.2 L162.9,288.9 L162.9,288.0 L163.0,287.4 L163.0,286.8 L163.1,285.4 L163.1,284.7 L163.2,286.0 L163.2,286.7 L163.3,285.9 L163.3,285.5 L163.4,285.4 L163.4,285.2 L163.5,285.9 L163.5,286.2 L163.6,285.7 L163.6,286.0 L163.7,286.1 L163.7,286.2 L163.7,287.6 L163.8,288.1 L163.8,287.7 L163.8,288.3 L163.8,288.4 L163.9,288.7 L163.9,289.6 L163.9,289.9 L164.0,290.4 L164.0,291.4 L164.0,292.0 L164.1,291.8 L164.1,291.1 L164.1,291.7 L164.2,293.0 L164.2,293.6 L164.2,293.9 L164.3,294.5 L164.3,295.0 L164.4,296.1 L164.4,297.2 L164.4,297.6 L164.5,298.1 L164.5,299.3 L164.5,300.1 L164.6,300.2 L164.6,300.9 L164.6,302.1 L164.7,303.2 L164.7,303.9 L164.7,304.3 L164.8,305.1 L164.8,305.9 L164.8,306.8 L164.9,307.4 L164.9,307.9 L164.9,308.9 L165.0,310.5 L165.0,311.6 L165.0,311.7 L165.1,312.4 L165.1,313.1 L165.1,312.5 L165.2,312.7 L165.2,314.0 L165.2,315.8 L165.2,317.3 L165.3,317.7 L165.3,317.8 L165.3,317.3 L165.3,316.5 L165.4,317.4 L165.4,319.4 L165.4,320.0 L165.4,320.3 L165.4,321.0 L165.5,321.5 L165.5,322.9 L165.5,323.7 L165.5,323.3 L165.5,323.6 L165.6,324.6 L165.6,325.3 L165.6,325.9 L165.6,326.5 L165.6,327.4 L165.7,328.0 L165.7,328.1 L165.7,328.7 L165.7,329.2 L165.7,329.5 L165.8,330.4 L165.8,331.6 L165.8,332.3 L165.8,333.0 L165.8,334.1 L165.9,334.3 L165.9,334.6 L165.9,336.4 L165.9,337.3 L165.9,336.9 L166.0,337.0 L166.0,337.8 L166.0,338.4 L166.0,339.5 L166.0,340.8 L166.1,341.3 L166.1,341.6 L166.1,342.2 L166.1,342.9 L166.1,343.8 L166.2,344.4 L166.2,344.5 L166.2,345.6 L166.2,347.0 L166.2,347.1 L166.3,347.5 L166.3,348.5 L166.3,348.4 L166.3,348.4 L166.4,349.2 L166.4,349.6 L166.4,350.2 L166.4,351.1 L166.5,351.5 L166.5,351.7 L166.5,352.2 L166.5,353.2 L166.5,354.2 L166.6,354.3 L166.6,355.0 L166.6,356.4 L166.7,357.0 L166.7,358.0 L166.7,358.8 L166.8,358.4 L166.8,358.6 L166.8,359.9 L166.9,361.3 L166.9,361.9 L166.9,362.5 L167.0,363.6 L167.0,364.0 L167.0,364.2 L167.1,365.2 L167.1,365.7 L167.2,365.7 L167.2,366.9 L167.2,368.4 L167.3,368.5 L167.3,368.1 L167.3,368.9 L167.4,369.9 L167.4,370.4 L167.4,370.6 L167.5,371.3 L167.5,372.4 L167.6,372.8 L167.6,373.2 L167.6,373.8 L167.7,374.7 L167.7,375.8 L167.8,376.4 L167.8,376.3 L167.8,376.6 L167.9,377.7 L167.9,378.8 L168.0,379.4 L168.0,379.6 L168.1,379.9 L168.1,380.5 L168.2,380.8 L168.2,381.2 L168.2,382.3 L168.3,382.6 L168.3,383.0 L168.4,384.2 L168.4,384.6 L168.5,384.5 L168.5,384.4 L168.6,384.7 L168.7,386.4 L168.8,387.7 L169.0,388.4 L169.1,389.2 L169.3,389.4 L169.4,390.0 L169.6,391.3 L169.7,392.2 L169.9,392.7 L170.0,392.7 L170.2,392.6 L170.3,392.8 L170.5,393.5 L170.6,394.1 L170.8,394.9 L171.0,395.9 L171.1,396.0 L171.3,396.6 L171.4,398.1 L171.5,397.9 L171.7,397.9 L171.8,399.4 L171.9,399.8 L172.2,399.7 L172.5,400.0 L172.7,401.5 L172.9,402.9 L173.1,403.1 L173.3,403.1 L173.5,403.9 L173.8,404.1 L174.1,403.2 L174.3,402.4 L174.6,402.3 L174.9,402.9 L175.2,402.5 L175.6,401.0 L175.9,399.9 L176.2,399.0 L176.6,398.4 L176.8,398.7 L177.1,398.9 L177.3,399.2 L177.5,400.3 L177.8,401.6 L178.1,402.9 L178.3,403.9 L178.6,404.3 L178.8,404.8 L179.1,405.8 L179.4,406.8 L179.6,407.3 L179.8,406.5 L180.1,405.9 L180.3,407.2 L180.5,408.5 L180.6,407.8 L180.8,406.9 L180.9,406.6 L181.1,406.0 L181.3,404.9 L181.4,403.7 L181.5,402.9 L181.7,402.0 L181.8,400.7 L182.0,399.7 L182.1,399.5 L182.2,399.4 L182.4,398.7 L182.5,398.0 L182.7,398.0 L182.8,398.1 L183.0,397.5 L183.1,397.5 L183.2,397.8 L183.3,397.5 L183.4,397.7 L183.5,398.7 L183.6,399.4 L183.8,399.5 L183.9,399.9 L184.0,400.2 L184.1,400.9 L184.2,402.2 L184.3,402.6 L184.4,402.8 L184.5,403.7 L184.6,404.3 L184.7,405.4 L184.8,406.6 L184.9,407.7 L185.1,408.5 L185.2,408.9 L185.3,409.8 L185.4,411.1 L185.5,411.9 L185.6,412.0 L185.8,411.7 L185.9,411.5 L186.0,411.6 L186.2,411.5 L186.3,411.0 L186.5,410.5 L186.6,410.1 L186.8,409.4 L187.0,409.1 L187.1,408.8 L187.3,407.4 L187.5,406.4 L187.6,405.8 L187.8,405.1 L188.0,404.2 L188.1,403.5 L188.3,402.3 L188.5,400.8 L188.6,399.9 L188.8,399.3 L188.9,398.7 L189.1,397.9 L189.2,397.4 L189.4,397.9 L189.5,398.3 L189.6,398.1 L189.7,398.1 L189.9,398.2 L190.0,397.5 L190.1,397.3 L190.2,398.6 L190.3,400.2 L190.3,402.1 L190.4,403.0 L190.5,403.4 L190.6,405.2 L190.6,406.4 L190.7,406.6 L190.8,407.5 L190.9,408.5 L191.0,408.4 L191.2,408.1 L191.3,408.2 L191.5,408.1 L191.6,408.4 L191.8,408.4 L192.0,408.2 L192.2,407.6 L192.4,407.0 L192.6,406.6 L192.8,405.9 L193.0,405.0 L193.2,404.0 L193.4,403.3 L193.6,402.6 L193.9,401.8 L194.1,400.5 L194.3,399.1 L194.5,398.7 L194.7,399.0 L195.0,398.3 L195.2,396.6 L195.4,395.5 L195.6,395.6 L195.8,395.7 L195.9,395.2 L196.1,395.2 L196.6,395.5 L197.0,395.9 L197.4,395.8 L197.7,395.8 L198.1,396.7 L198.5,397.6 L198.9,398.7 L199.1,399.7 L199.2,400.3 L199.4,400.9 L199.5,402.2 L199.7,403.1 L199.9,403.8 L200.0,404.7 L200.2,404.9 L200.4,404.9 L200.6,406.0 L200.7,407.3 L200.9,407.8 L201.1,408.6 L201.3,410.0 L201.5,411.2 L201.6,411.9 L201.8,411.9 L202.0,412.0 L202.2,412.5 L202.4,412.7 L202.5,412.7 L202.7,413.0 L202.8,412.6 L203.0,412.0 L203.1,412.0 L203.2,411.6 L203.3,410.7 L203.5,409.7 L203.6,409.1 L203.7,408.4 L203.8,407.2 L204.0,407.0 L204.1,407.4 L204.2,406.6 L204.4,405.6 L204.5,405.0 L204.6,403.9 L204.7,402.6 L204.9,401.4 L205.0,400.8 L205.1,400.3 L205.2,399.7 L205.4,398.6 L205.5,397.0 L205.6,395.9 L205.7,396.0 L205.8,396.5 L206.0,396.2 L206.1,395.2 L206.2,393.5 L206.3,392.8 L206.4,393.6 L206.6,394.1 L206.7,394.4 L206.9,394.9 L207.0,395.1 L207.2,395.1 L207.3,395.9 L207.4,397.2 L207.6,398.1 L207.7,399.5 L207.8,400.8 L207.9,401.2 L208.1,401.4 L208.2,401.9 L208.4,403.0 L208.5,404.3 L208.7,405.0 L208.8,405.3 L209.0,405.7 L209.2,405.5 L209.6,404.3 L210.0,404.2 L210.5,405.8 L211.0,405.5 L211.5,403.6 L212.0,401.9 L212.5,401.6 L213.0,401.3 L213.4,400.1 L213.8,400.5 L214.1,401.7 L214.4,402.2 L214.7,402.8 L214.9,403.9 L215.2,404.9 L215.4,404.6 L215.6,404.7 L215.9,406.3 L216.2,407.2 L216.5,407.1 L216.7,406.7 L217.0,405.7 L217.3,405.1 L217.5,405.6 L217.8,405.6 L218.1,404.4 L218.4,402.5 L218.7,400.8 L219.0,400.1 L219.3,400.0 L219.6,399.9 L219.9,399.0 L220.2,398.0 L220.5,398.0 L220.7,398.2 L221.0,398.2 L221.2,398.5 L221.5,399.0 L221.7,399.9 L221.9,400.7 L222.1,401.2 L222.3,401.9 L222.5,402.9 L222.8,403.2 L223.0,403.5 L223.2,404.6 L223.4,405.6 L223.6,405.9 L223.9,405.7 L224.2,405.2 L224.6,404.8 L224.9,403.9 L225.2,402.6 L225.5,401.9 L225.9,401.7 L226.2,400.5 L226.5,400.0 L227.0,400.1 L227.5,399.7 L228.0,399.3 L228.4,399.2 L228.9,399.0 L229.4,399.2 L229.9,399.6 L230.4,399.5 L230.9,399.9 L231.4,400.5 L231.8,400.7 L232.2,400.8 L232.3,400.7 L232.3,399.6 L232.4,399.1 L232.5,399.3 L232.5,399.4 L232.6,399.3 L232.6,398.5 L232.7,397.2 L232.7,396.3 L232.8,395.7 L232.8,394.7 L232.8,393.7 L232.9,393.3 L232.9,392.9 L233.0,392.0 L233.0,391.7 L233.0,391.7 L233.1,391.0 L233.1,389.8 L233.2,388.3 L233.2,387.1 L233.2,386.8 L233.3,386.3 L233.3,385.5 L233.4,385.0 L233.4,384.8 L233.5,383.9 L233.5,382.6 L233.6,381.8 L233.6,381.4 L233.7,380.7 L233.7,379.7 L233.8,379.4 L233.8,379.1 L233.9,378.0 L233.9,376.6 L234.0,375.9 L234.0,375.7 L234.1,375.3 L234.1,374.6 L234.2,373.1 L234.2,372.2 L234.3,372.2 L234.4,371.6 L234.4,370.7 L234.5,369.7 L234.5,368.5 L234.6,368.1 L234.6,368.1 L234.7,367.9 L234.7,366.3 L234.8,364.8 L234.8,365.2 L234.9,366.0 L234.9,366.2 L235.0,366.3 L235.0,366.6 L235.1,366.4 L235.2,366.0 L235.2,365.3 L235.3,364.7 L235.4,365.4 L235.4,365.8 L235.5,365.9 L235.6,366.6 L235.7,367.0 L235.7,367.2 L235.8,367.8 L235.9,368.6 L235.9,369.3 L236.0,370.1 L236.1,370.6 L236.2,370.9 L236.2,371.6 L236.3,372.4 L236.4,373.8 L236.4,375.3 L236.5,376.1 L236.6,376.9 L236.6,378.2 L236.7,379.1 L236.7,379.5 L236.8,380.1 L236.8,380.2 L236.9,380.8 L236.9,381.7 L236.9,382.2 L237.0,383.2 L237.0,383.8 L237.0,383.9 L237.0,384.6 L237.1,385.0 L237.1,385.3 L237.1,386.4 L237.1,387.7 L237.1,388.8 L237.2,389.6 L237.2,390.5 L237.2,391.4 L237.2,392.4 L237.2,393.0 L237.3,393.5 L237.3,394.4 L237.3,395.4 L237.3,396.4 L237.3,396.9 L237.4,396.5 L237.4,395.9 L237.4,396.2 L237.4,397.9 L237.5,399.6 L237.5,400.2 L237.5,400.5 L237.6,400.7 L237.6,401.1 L237.6,401.8 L237.7,402.2 L237.7,402.4 L237.8,403.0 L237.8,403.2 L237.8,403.6 L237.9,404.1 L237.9,404.2 L238.0,404.1 L238.2,404.6 L238.4,404.9 L238.7,405.3 L239.0,405.5 L239.3,404.2 L239.6,402.4 L239.9,401.3 L240.2,399.7 L240.5,398.5 L240.8,398.5 L241.1,398.2 L241.4,397.4 L242.0,397.3 L242.6,397.8 L243.1,398.8 L243.7,399.9 L244.3,400.2 L244.9,399.7 L245.4,398.8 L246.1,398.2 L246.7,397.5 L247.3,397.4 L247.8,397.8 L248.0,397.5 L248.2,397.7 L248.3,398.5 L248.5,398.9 L248.6,399.3 L248.8,400.5 L248.9,402.0 L249.1,402.3 L249.2,402.6 L249.4,404.7 L249.5,406.8 L249.7,407.1 L249.8,406.7 L250.0,407.1 L250.2,408.0 L250.4,408.3 L250.6,407.9 L250.8,407.5 L251.0,407.9 L251.3,407.5 L251.5,406.3 L251.8,405.9 L252.0,405.8 L252.3,405.2 L252.6,404.8 L252.9,404.2 L253.1,403.2 L253.4,401.8 L253.7,400.8 L254.0,400.9 L254.2,401.2 L254.5,400.6 L254.7,399.3 L255.0,398.7 L255.2,399.1 L255.8,398.8 L256.4,398.3 L257.0,398.2 L257.5,398.4 L258.1,398.8 L258.7,399.0 L259.3,399.2 L259.8,399.4 L260.4,399.0 L261.0,398.6 L261.6,399.4 L262.2,400.5 L262.7,400.9 L263.0,401.3 L263.3,402.2 L263.7,403.2 L264.0,403.7 L264.2,403.8 L264.5,404.5 L264.8,405.0 L265.1,405.1 L265.4,405.4 L265.8,406.0 L266.1,406.8 L266.4,407.3 L266.7,406.6 L267.0,405.4 L267.4,405.1 L267.7,404.7 L268.0,403.3 L268.4,402.0 L268.7,401.3 L269.0,400.8 L269.4,400.7 L269.7,400.2 L269.9,399.4 L270.2,399.8 L270.4,400.6 L270.5,400.5 L270.7,400.5 L270.8,400.5 L271.0,400.9 L271.1,402.8 L271.2,404.6 L271.3,404.7 L271.5,405.0 L271.6,406.6 L271.7,408.1 L271.8,409.2 L271.9,409.8 L272.1,409.9 L272.2,409.7 L272.3,409.7 L272.5,410.3 L272.6,410.6 L272.7,410.6 L272.8,410.1 L273.0,409.1 L273.1,408.1 L273.2,406.9 L273.3,406.0 L273.5,406.0 L273.6,405.6 L273.8,404.7 L273.9,404.3 L274.0,403.7 L274.2,402.6 L274.3,401.0 L274.4,400.0 L274.6,400.2 L274.7,399.7 L274.9,398.5 L275.0,397.5 L275.1,396.9 L275.3,396.3 L275.4,395.2 L275.5,394.6 L275.7,394.7 L275.8,394.3 L275.9,394.1 L276.1,394.4 L276.3,394.3 L276.5,394.5 L276.7,395.7 L276.9,396.7 L277.1,397.5 L277.3,398.0 L277.5,397.4 L277.7,397.4 L277.9,399.6 L278.1,401.7 L278.3,402.3 L278.4,402.2 L278.6,402.7 L278.8,403.0 L279.2,403.3 L279.6,404.1 L279.9,405.5 L280.3,406.5 L280.7,406.9 L281.1,407.3 L281.6,406.8 L282.2,406.5 L282.8,407.0 L283.4,406.4 L284.0,406.1 L284.3,406.0 L284.6,404.5 L284.9,403.4 L285.2,403.4 L285.5,402.4 L285.8,400.8 L286.1,400.0 L286.5,400.1 L286.8,400.2 L287.1,400.0 L287.4,400.4 L287.6,401.3 L287.8,401.8 L288.0,402.2 L288.2,402.1 L288.4,402.2 L288.6,403.4 L288.8,404.4 L289.0,404.7 L289.1,404.9 L289.3,405.4 L289.5,406.6 L289.7,407.8 L289.9,408.2 L290.1,408.7 L290.3,409.6 L290.5,410.3 L290.7,410.3 L290.9,410.4 L291.0,410.5 L291.1,410.1 L291.2,409.4 L291.3,408.7 L291.4,408.5 L291.6,408.2 L291.7,407.4 L291.8,406.3 L291.9,405.4 L292.0,404.8 L292.1,404.5 L292.2,404.4 L292.3,403.3 L292.5,401.9 L292.6,401.2 L292.7,400.5 L292.8,399.6 L292.9,398.3 L293.0,397.4 L293.1,397.4 L293.2,396.6 L293.3,394.7 L293.4,393.6 L293.5,393.3 L293.6,392.9 L293.7,392.8 L293.8,393.2 L293.9,392.9 L294.0,392.3 L294.1,392.4 L294.2,392.1 L294.3,390.9 L294.4,390.5 L294.5,391.5 L294.6,392.7 L294.7,393.6 L294.8,394.0 L294.9,394.3 L295.0,394.6 L295.1,394.6 L295.2,395.3 L295.3,396.7 L295.4,398.2 L295.5,398.2 L295.6,398.2 L295.7,399.8 L295.7,401.1 L295.8,401.9 L295.9,402.6 L296.0,403.5 L296.1,404.4 L296.2,404.6 L296.3,405.0 L296.4,405.9 L296.5,406.1 L296.6,405.9 L296.7,405.7 L296.8,405.7 L296.9,405.9 L297.0,405.4 L297.1,404.6 L297.2,403.9 L297.3,402.6 L297.4,401.9 L297.5,401.9 L297.6,401.9 L297.8,401.4 L297.9,400.1 L298.0,398.8 L298.1,398.4 L298.2,398.2 L298.3,397.4 L298.4,395.9 L298.5,394.8 L298.7,394.4 L298.8,393.6 L298.9,392.5 L299.0,391.7 L299.1,391.3 L299.2,391.0 L299.3,391.1 L299.4,391.3 L299.5,390.2 L299.9,387.7 L300.4,386.4 L300.8,386.4 L301.2,386.8 L301.6,386.9 L302.0,386.7 L302.5,386.9 L303.0,387.5 L303.5,388.5 L304.0,389.6 L304.2,389.5 L304.4,389.2 L304.6,388.9 L304.8,389.5 L305.0,390.4 L305.2,391.3 L305.5,392.7 L305.7,393.7 L305.9,393.8 L306.1,394.0 L306.3,394.6 L306.7,395.5 L307.0,396.3 L307.4,397.1 L307.8,397.9 L308.2,398.4 L308.6,398.8 L309.3,398.7 L310.0,398.9 L310.8,399.1 L311.5,398.9 L312.1,398.9 L312.7,399.0 L313.2,399.0 L313.8,399.2 L314.4,399.6 L315.0,400.0 L315.6,400.0 L316.2,400.5 L316.7,401.4 L317.2,402.3 L317.3,402.8 L317.5,403.4 L317.6,403.7 L317.7,404.0 L317.8,405.4 L317.9,407.2 L318.0,407.8 L318.1,408.0 L318.2,408.7 L318.3,409.1 L318.4,409.0 L318.5,409.6 L318.6,410.9 L318.8,411.6 L318.9,411.4 L319.0,411.3 L319.1,411.3 L319.3,410.8 L319.5,409.8 L319.6,409.2 L319.8,408.7 L320.0,407.6 L320.1,406.8 L320.3,406.2 L320.5,405.5 L320.6,405.1 L320.8,404.5 L321.0,403.7 L321.1,403.0 L321.3,403.0 L321.5,403.7 L321.8,404.1 L322.0,404.5 L322.3,405.5 L322.5,406.5 L322.8,407.6 L323.0,408.6 L323.3,408.7 L323.6,408.9 L324.0,408.8 L324.3,407.8 L324.7,406.9 L325.2,406.7 L325.6,406.1 L326.0,405.3 L326.5,404.8 L327.0,404.5 L327.3,404.5 L327.6,404.7 L328.0,405.0 L328.3,405.6 L328.7,406.3 L329.0,407.5 L329.4,408.8 L329.8,409.2 L330.1,409.7 L330.5,410.5 L330.9,410.7 L331.2,410.6 L331.6,411.0 L331.9,411.5 L332.1,411.2 L332.4,410.0 L332.6,409.0 L332.9,408.3 L333.1,407.4 L333.4,406.6 L333.6,406.2 L333.9,405.5 L334.2,404.3 L334.4,403.9 L334.7,403.0 L334.9,401.4 L335.2,401.3 L335.4,401.9 L335.7,401.2 L335.9,399.9 L336.2,399.6 L336.4,399.7 L336.6,400.0 L336.8,401.2 L336.9,402.5 L337.1,402.7 L337.3,402.7 L337.5,403.5 L337.7,404.6 L337.9,405.3 L338.1,405.9 L338.3,406.8 L338.4,407.2 L338.6,408.0 L338.8,409.6 L339.0,410.7 L339.2,411.0 L339.4,411.8 L339.6,413.0 L339.7,413.7 L339.9,414.3 L340.1,414.7 L340.3,414.8 L340.5,415.2 L340.6,415.4 L340.8,415.5 L341.0,415.2 L341.2,413.9 L341.4,413.8 L341.6,414.5 L341.8,413.8 L342.0,412.6 L342.2,412.3 L342.4,411.7 L342.6,410.5 L342.8,409.7 L343.0,408.7 L343.2,407.6 L343.3,407.1 L343.5,406.3 L343.7,404.9 L343.9,404.3 L344.1,404.0 L344.3,402.7 L344.4,402.2 L344.6,402.8 L344.8,402.9 L345.0,402.9 L345.2,403.0 L345.4,403.8 L345.6,405.0 L345.7,404.8 L345.9,404.6 L346.1,405.2 L346.3,406.8 L346.5,408.5 L346.7,409.2 L346.8,409.8 L347.0,410.8 L347.2,412.1 L347.4,412.3 L347.5,412.5 L347.7,413.5 L347.8,414.2 L348.0,414.7 L348.2,415.1 L348.3,415.1 L348.5,414.8 L348.7,414.0 L348.8,413.7 L349.0,414.0 L349.1,413.5 L349.2,412.5 L349.4,411.1 L349.5,409.5 L349.6,409.3 L349.8,409.4 L349.9,408.2 L350.1,406.9 L350.2,405.9 L350.4,405.5 L350.6,405.4 L351.0,404.8 L351.4,404.0 L351.8,403.1 L352.3,402.4 L352.8,402.3 L353.2,402.0 L353.7,402.1 L354.2,402.4 L354.6,402.3 L354.8,401.9 L355.1,402.3 L355.3,402.9 L355.5,402.8 L355.7,402.8 L355.9,404.0 L356.1,405.3 L356.3,406.2 L356.5,407.4 L356.7,407.7 L357.0,407.7 L357.2,409.1 L357.4,410.4 L357.6,410.0 L357.8,410.0 L358.0,411.2 L358.5,412.1 L359.0,411.6 L359.5,410.5 L360.0,409.8 L360.5,409.4 L361.0,409.5 L361.5,409.3 L362.2,408.7 L362.8,408.5 L363.5,408.4 L364.2,408.3 L364.9,408.0 L365.5,408.1 L366.3,408.5 L367.1,408.5 L367.7,408.8 L368.4,409.2 L368.6,409.5 L368.9,410.2 L369.0,410.9 L369.2,412.1 L369.4,414.0 L369.6,414.9 L369.8,414.4 L370.1,414.5 L370.4,414.7 L370.7,414.5 L370.9,414.5 L371.2,414.1 L371.5,414.1 L371.8,413.6 L372.1,412.3 L372.4,411.9 L372.7,411.5 L373.1,410.5 L373.4,410.1 L373.7,409.4 L374.1,408.7 L374.4,408.0 L374.7,407.0 L375.1,406.6 L375.4,406.0 L375.6,405.3 L375.9,405.3 L376.3,405.7 L376.7,406.0 L377.1,406.0 L377.4,406.7 L377.8,408.2 L378.1,409.2 L378.4,409.7 L378.7,410.1 L379.0,410.2 L379.3,410.6 L379.6,410.8 L379.9,410.2 L380.2,408.7 L380.5,407.0 L380.7,406.7 L381.0,407.2 L381.3,406.6 L381.6,406.2 L381.8,406.6 L382.0,406.8 L382.3,407.0 L382.5,408.2 L382.7,410.3 L383.0,411.6 L383.2,411.6 L383.4,412.5 L383.7,414.2 L383.9,414.4 L384.1,413.5 L384.3,413.8 L384.5,413.8 L384.6,413.1 L384.6,413.2 L384.7,413.3 L384.8,412.8 L384.8,412.1 L384.9,411.6 L384.9,411.1 L385.0,410.7 L385.0,410.1 L385.1,408.8 L385.2,408.3 L385.2,408.7 L385.3,408.4 L385.3,407.0 L385.3,405.6 L385.4,405.1 L385.4,405.1 L385.5,404.0 L385.5,402.5 L385.6,401.8 L385.6,401.2 L385.7,400.1 L385.7,399.5 L385.8,399.4 L385.8,398.8 L385.9,397.2 L385.9,395.9 L385.9,395.6 L386.0,395.7 L386.0,395.4 L386.1,394.8 L386.1,394.5 L386.2,393.8 L386.3,391.5 L386.5,389.6 L386.6,388.8 L386.8,388.4 L386.9,388.2 L387.1,388.2 L387.2,387.8 L387.4,386.7 L387.5,386.3 L387.7,387.1 L387.8,386.9 L388.0,386.4 L388.1,386.2 L388.1,386.5 L388.2,387.4 L388.3,388.5 L388.4,389.3 L388.4,389.8 L388.5,390.2 L388.6,390.5 L388.7,390.5 L388.8,390.8 L388.8,391.3 L388.9,391.8 L389.0,392.7 L389.1,393.9 L389.1,394.9 L389.2,395.1 L389.3,395.2 L389.4,396.8 L389.5,397.9 L389.6,397.7 L389.6,398.4 L389.7,399.4 L389.8,399.8 L389.9,400.7 L390.0,401.5 L390.0,402.0 L390.1,403.0 L390.2,403.6 L390.3,403.9 L390.4,405.1 L390.5,406.4 L390.6,406.9 L390.8,407.7 L390.9,408.5 L391.0,409.1 L391.1,410.0 L391.2,410.4 L391.3,410.6 L391.4,411.8 L391.5,412.9 L391.7,413.2 L391.8,413.3 L391.9,414.2 L392.0,415.1 L392.1,415.4 L392.2,416.0 L392.4,416.3 L392.5,416.1 L392.9,416.2 L393.4,415.9 L393.9,415.2 L394.4,414.0 L394.9,412.9 L395.3,412.7 L395.7,413.3 L396.0,414.4 L396.2,415.1 L396.5,415.4 L396.8,416.0 L397.1,416.4 L397.2,416.3 L397.3,416.4 L397.5,416.7 L397.6,415.7 L397.7,414.3 L397.8,413.9 L398.0,413.4 L398.1,411.7 L398.2,410.1 L398.4,409.7 L398.5,409.8 L398.6,409.1 L398.7,407.8 L398.9,407.4 L399.0,407.1 L399.1,406.4 L399.3,405.8 L399.4,405.7 L399.8,405.8 L400.2,406.2 L400.6,407.0 L401.0,407.6 L401.4,407.9 L401.7,408.0 L401.9,407.7 L402.1,407.7 L402.3,407.3 L402.4,405.6 L402.6,404.4 L402.7,404.7 L402.9,405.0 L403.1,404.5 L403.2,404.0 L403.4,403.3 L403.8,402.5 L404.2,402.6 L404.7,402.7 L405.1,403.5 L405.3,403.7 L405.6,402.0 L405.8,400.5 L406.0,400.1 L406.3,400.5 L406.5,401.3 L406.8,402.1 L406.9,401.4 L407.0,399.9 L407.1,399.9 L407.2,401.7 L407.3,402.7 L407.5,402.7 L407.6,403.3 L407.7,404.5 L407.8,405.5 L407.9,406.5 L408.1,407.8 L408.2,408.8 L408.3,409.3 L408.4,410.4 L408.6,411.1 L408.7,410.5 L408.8,410.6 L409.0,412.0 L409.1,412.8 L409.4,412.7 L409.7,412.3 L409.9,411.8 L410.2,411.2 L410.6,410.4 L410.9,409.9 L411.2,409.2 L411.4,408.5 L411.7,408.0 L412.0,406.8 L412.1,405.8 L412.3,405.0 L412.4,404.3 L412.5,404.9 L412.6,405.4 L412.8,404.2 L412.9,403.0 L413.0,402.5 L413.1,401.8 L413.2,401.1 L413.4,400.5 L413.5,399.7 L413.6,398.8 L413.7,398.3 L413.8,397.3 L413.9,396.6 L414.1,396.8 L414.2,395.6 L414.3,394.1 L414.4,394.2 L414.4,393.9 L414.5,393.3 L414.6,392.6 L414.6,390.8 L414.7,389.4 L414.8,389.7 L414.9,390.0 L414.9,389.3 L415.0,388.0 L415.1,387.2 L415.1,386.7 L415.2,385.8 L415.3,385.0 L415.3,384.2 L415.4,383.6 L415.5,383.2 L415.6,382.1 L415.6,381.1 L415.7,380.4 L415.8,379.7 L415.8,379.7 L415.9,379.7 L416.0,379.2 L416.0,378.0 L416.1,377.1 L416.2,376.4 L416.3,375.5 L416.3,375.4 L416.4,375.7 L416.5,375.1 L416.5,373.9 L416.6,373.9 L416.7,374.6 L416.9,374.0 L417.0,373.1 L417.2,373.6 L417.3,374.9 L417.5,376.0 L417.6,376.6 L417.8,377.4 L417.9,378.0 L418.1,378.9 L418.2,379.8 L418.4,380.3 L418.5,381.2 L418.6,381.9 L418.8,383.0 L418.9,384.2 L419.0,384.4 L419.0,384.8 L419.1,385.3 L419.1,385.9 L419.2,386.8 L419.2,387.8 L419.3,388.4 L419.3,389.1 L419.4,389.5 L419.4,388.8 L419.4,388.9 L419.5,389.9 L419.5,391.6 L419.6,393.3 L419.6,394.1 L419.7,394.5 L419.7,395.2 L419.7,396.6 L419.8,397.1 L419.8,397.0 L419.9,397.5 L419.9,398.5 L420.0,399.2 L420.0,399.8 L420.1,400.8 L420.1,401.3 L420.1,401.9 L420.2,402.7 L420.2,402.7 L420.3,402.9 L420.3,404.0 L420.4,404.7 L420.4,405.0 L420.5,405.2 L420.5,405.5 L420.6,405.4 L421.0,406.3 L421.5,406.3 L422.0,405.0 L422.5,404.0 L422.9,404.0 L423.2,404.7 L423.5,405.2 L423.7,404.5 L424.0,404.7 L424.3,406.3 L424.7,407.7 L424.9,407.4 L425.1,407.6 L425.2,408.6 L425.4,409.1 L425.7,409.9 L425.9,410.9 L426.1,411.2 L426.3,411.8 L426.6,412.9 L426.8,413.6 L427.0,414.0 L427.2,414.3 L427.5,414.7 L427.7,414.8 L427.9,415.5 L428.1,416.9 L428.6,417.4 L429.1,416.5 L429.5,415.4 L430.0,414.5 L430.5,413.6 L431.0,412.8 L431.5,412.7 L431.9,412.2 L432.5,411.3 L433.0,410.9 L433.5,411.3 L434.1,411.4 L434.5,410.7 L435.0,410.1 L435.3,410.7 L435.7,411.8 L436.0,412.3 L436.3,412.9 L436.6,413.5 L436.8,414.3 L437.1,415.1 L437.4,415.2 L437.6,415.7 L437.9,415.9 L438.2,415.4 L438.4,415.5 L438.7,415.2 L438.9,414.0 L439.2,412.9 L439.4,412.6 L439.7,412.3 L439.9,412.0 L440.2,412.2 L440.4,412.3 L440.6,412.6 L440.8,413.0 L441.0,412.9 L441.2,413.5 L441.4,414.8 L441.6,416.2 L441.8,417.4 L442.0,417.9 L442.3,418.1 L442.5,418.2 L442.7,418.3 L443.0,418.3 L443.3,418.4 L443.5,418.4 L443.8,417.7 L444.1,417.0 L444.4,416.4 L444.7,415.6 L445.0,414.3 L445.3,413.3 L445.6,413.1 L445.9,412.8 L446.2,412.3 L446.5,411.5 L446.8,411.1 L447.1,411.9 L447.6,411.8 L448.0,411.1 L448.4,411.2 L448.8,412.5 L449.2,413.5 L449.7,414.0 L450.1,415.1 L450.5,415.9 L450.9,415.8 L451.3,416.3 L451.7,417.6 L452.1,418.1 L452.5,418.8 L453.0,419.7 L453.5,419.4 L454.0,418.8 L454.3,418.5 L454.7,418.1 L455.1,417.7 L455.5,417.0 L456.0,416.1 L456.4,415.5 L456.8,415.2 L457.3,414.7 L457.7,414.2 L458.2,413.6 L458.6,412.9 L459.0,412.3 L459.4,411.8 L459.7,411.9 L460.0,412.0 L460.3,411.8 L460.6,413.4 L460.8,414.8 L461.1,414.7 L461.3,415.1 L461.5,415.8 L461.7,417.2 L462.0,419.1 L462.2,419.5 L462.4,418.8 L462.7,418.5 L462.9,419.1 L463.2,419.8 L463.4,419.7 L463.6,419.4 L463.8,419.2 L464.0,418.9 L464.2,418.3 L464.5,417.1 L464.7,416.2 L464.9,415.5 L465.2,414.4 L465.4,414.1 L465.6,413.4 L465.9,412.3 L466.1,411.5 L466.3,410.8 L466.5,410.2 L466.8,409.4 L467.0,408.8 L467.2,408.7 L467.4,408.5 L467.6,408.4 L467.8,407.8 L468.1,407.4 L468.4,408.2 L468.8,408.7 L469.1,408.7 L469.3,409.8 L469.6,411.0 L469.9,411.2 L470.2,411.7 L470.4,412.7 L470.7,412.6 L470.9,412.3 L471.1,413.1 L471.4,414.3 L471.6,414.4 L471.8,413.6 L472.0,412.2 L472.2,410.9 L472.4,410.8 L472.6,410.5 L472.9,409.9 L473.2,410.1 L473.5,410.5 L473.8,411.2 L474.1,411.8 L474.4,412.5 L474.8,413.7 L475.1,414.1 L475.4,414.3 L475.7,414.7 L476.0,414.9 L476.3,414.8 L476.5,414.4 L476.8,414.2 L477.0,413.1 L477.3,411.2 L477.5,409.7 L477.8,409.6 L478.0,409.3 L478.2,408.5 L478.3,408.1 L478.5,408.3 L478.6,408.5 L478.8,408.2 L478.9,406.9 L479.0,405.4 L479.2,404.4 L479.3,403.7 L479.5,403.6 L479.6,403.0 L479.8,402.0 L480.0,401.3 L480.2,400.5 L480.4,399.9 L480.6,400.3 L480.8,400.2 L481.0,398.8 L481.2,397.5 L481.4,396.5 L481.6,396.3 L481.9,396.7 L482.1,396.4 L482.2,396.2 L482.3,396.7 L482.5,397.2 L482.6,397.8 L482.7,398.1 L482.8,398.3 L483.0,399.5 L483.1,400.8 L483.2,400.9 L483.3,401.8 L483.5,403.5 L483.6,404.5 L483.7,404.7 L483.9,404.6 L484.0,405.4 L484.1,405.9 L484.2,406.6 L484.4,408.2 L484.5,408.8 L484.6,408.1 L484.8,408.0 L484.9,408.6 L485.0,408.5 L485.2,408.7 L485.3,409.3 L485.5,408.6 L485.6,407.0 L485.8,406.6 L485.9,407.0 L486.1,406.1 L486.2,404.0 L486.3,403.0 L486.5,402.1 L486.6,400.4 L486.8,399.7 L486.9,399.5 L487.1,398.3 L487.2,397.1 L487.4,396.4 L487.5,396.5 L487.7,396.9 L487.8,396.5 L487.9,396.2 L488.0,397.2 L488.1,398.5 L488.2,398.5 L488.3,398.4 L488.3,399.2 L488.4,400.0 L488.5,400.0 L488.6,400.2 L488.7,401.4 L488.8,402.6 L488.9,403.3 L489.0,403.8 L489.1,404.9 L489.2,405.3 L489.3,405.9 L489.4,407.5 L489.5,408.4 L489.6,409.1 L489.6,410.1 L489.7,411.4 L489.8,412.5 L489.9,413.1 L490.0,413.1 L490.1,412.5 L490.2,413.0 L490.2,414.1 L490.3,414.9 L490.4,415.6 L490.5,415.8 L490.6,415.4 L490.6,415.4 L490.7,415.6 L490.8,415.9 L490.9,416.4 L491.0,417.0 L491.1,416.7 L491.1,415.5 L491.2,415.2 L491.3,415.6 L491.4,415.1 L491.4,413.3 L491.5,411.6 L491.6,411.1 L491.6,411.1 L491.7,410.8 L491.8,410.6 L491.8,409.5 L491.9,408.0 L491.9,406.5 L492.0,405.5 L492.1,404.9 L492.1,404.3 L492.2,403.9 L492.3,403.6 L492.3,403.2 L492.4,402.4 L492.5,401.2 L492.6,400.6 L492.6,400.6 L492.7,400.1 L492.8,398.9 L492.9,397.7 L493.0,396.8 L493.1,396.4 L493.1,395.6 L493.2,394.5 L493.3,393.7 L493.4,393.4 L493.5,392.8 L493.5,392.0 L493.6,391.8 L493.7,391.7 L493.8,392.0 L493.9,391.6 L494.0,390.3 L494.1,390.3 L494.3,391.2 L494.4,391.2 L494.6,390.9 L494.8,391.0 L494.9,391.7 L495.1,392.9 L495.3,393.5 L495.5,394.1 L495.7,395.3 L495.9,395.9 L496.0,396.3 L496.2,397.3 L496.4,397.9 L496.7,398.5 L497.0,398.8 L497.3,398.8 L497.6,399.0 L497.9,399.4 L498.2,399.9 L498.4,400.4 L498.7,401.0 L498.8,402.2 L498.9,403.6 L499.0,404.4 L499.1,404.8 L499.1,405.2 L499.2,406.6 L499.3,407.3 L499.4,406.8 L499.5,407.1 L499.5,408.2 L499.6,409.3 L499.7,409.7 L499.8,409.9 L499.8,411.2 L499.9,412.0 L500.0,412.5 L500.1,413.5 L500.2,414.2 L500.3,414.8 L500.4,415.0 L500.5,415.1 L500.8,415.7 L501.1,415.2 L501.5,413.4 L501.9,411.9 L502.2,411.4 L502.6,411.1 L503.0,410.9 L503.3,411.1 L503.5,411.0 L503.7,411.1 L503.9,411.5 L504.1,411.9 L504.3,412.7 L504.5,413.0 L504.7,413.0 L505.0,414.1 L505.3,415.6 L505.6,415.9 L506.0,415.4 L506.4,414.7 L506.8,414.7 L507.3,414.8 L507.8,414.0 L508.4,413.4 L508.9,413.2 L509.4,412.3 L509.9,411.7 L510.4,411.4 L510.8,411.0 L511.1,411.2 L511.4,411.3 L511.7,411.6 L512.0,412.5 L512.3,413.6 L512.6,414.6 L512.9,415.4 L513.2,416.4 L513.5,417.8 L513.7,418.6 L514.0,418.8 L514.3,418.8 L514.5,418.4 L514.8,418.4 L515.2,418.9 L515.6,418.8 L516.0,417.8 L516.4,417.0 L516.7,416.7 L517.1,415.4 L517.5,414.7 L517.9,414.5 L518.3,413.7 L518.6,413.4 L518.9,413.5 L519.2,413.8 L519.5,414.9 L519.8,416.6 L520.1,417.8 L520.4,418.8 L520.7,420.2 L521.0,421.1 L521.3,421.1 L521.5,421.3 L521.8,421.6 L522.1,422.2 L522.3,422.9 L522.5,422.5 L522.7,421.7 L522.9,421.4 L523.0,421.0 L523.2,420.3 L523.3,419.6 L523.4,419.1 L523.6,418.9 L523.7,417.7 L523.9,415.9 L524.0,415.3 L524.2,415.0 L524.4,414.4 L524.6,414.1 L525.0,413.5 L525.4,412.6 L525.8,411.7 L526.3,411.0 L526.8,410.2 L527.2,409.0 L527.7,408.5 L528.2,409.2 L528.6,410.3 L528.8,410.6 L529.0,410.6 L529.2,410.8 L529.4,410.9 L529.6,411.6 L529.7,412.7 L529.9,413.7 L530.1,414.8 L530.3,415.3 L530.5,415.6 L530.7,416.2 L530.8,417.0 L531.0,418.2 L531.2,419.8 L531.4,420.3 L531.6,419.7 L531.7,420.1 L531.9,420.6 L532.1,420.2 L532.5,420.1 L532.9,419.5 L533.2,418.7 L533.6,418.8 L534.0,418.3 L534.3,417.3 L534.7,416.7 L535.1,416.8 L535.5,417.2 L535.8,417.0 L536.2,416.9 L536.6,417.1 L537.0,417.7 L537.3,418.3 L537.7,418.8 L538.1,419.2 L538.5,420.1 L538.8,421.3 L539.2,422.1 L539.5,422.0 L539.9,421.5 L540.3,420.6 L540.7,419.7 L541.0,419.7 L541.4,419.3 L541.7,418.8 L542.0,418.4 L542.4,418.0 L542.8,418.2 L543.1,418.6 L543.4,419.2 L543.8,419.9 L544.1,421.1 L544.5,421.9 L544.9,421.6 L545.3,421.2 L545.6,421.3 L545.8,421.9 L546.1,421.9 L546.4,419.9 L546.7,418.0 L547.0,417.4 L547.3,416.7 L547.6,416.4 L548.0,415.9 L548.2,415.0 L548.5,414.1 L548.8,413.7 L549.1,413.9 L549.3,414.3 L549.5,415.1 L549.7,415.4 L549.9,415.2 L550.1,415.7 L550.3,417.0 L550.4,417.8 L550.6,418.0 L550.7,419.6 L550.9,421.2 L551.0,421.6 L551.2,421.8 L551.4,421.9 L551.6,422.0 L551.9,422.5 L552.2,422.4 L552.5,421.8 L552.8,421.4 L553.2,420.2 L553.5,418.7 L553.9,418.2 L554.2,417.7 L554.5,416.9 L554.8,416.2 L555.1,416.1 L555.6,416.8 L556.0,417.6 L556.4,418.2 L556.8,418.9 L557.3,419.1 L557.5,418.3 L557.7,417.0 L557.9,416.7 L558.1,416.9 L558.4,416.9 L558.6,416.0 L558.8,414.9 L559.1,414.5 L559.3,413.7 L559.5,412.6 L559.8,411.7 L560.0,411.6 L560.2,412.2 L560.4,412.0 L560.6,412.3 L560.7,413.5 L560.9,413.9 L561.1,413.5 L561.3,414.1 L561.4,415.8 L561.6,417.7 L561.8,418.6 L561.9,418.5 L562.1,419.0 L562.3,420.1 L562.5,420.6 L562.6,420.7 L562.8,420.9 L563.0,420.1 L563.3,419.1 L563.5,419.3 L563.8,420.0 L564.0,419.2 L564.3,417.1 L564.5,416.2 L564.8,415.5 L565.1,414.5 L565.3,415.0 L565.6,414.7 L565.9,413.6 L566.3,414.3 L566.7,415.6 L567.0,416.6 L567.5,417.1 L567.9,417.5 L568.3,418.5 L568.7,419.4 L569.0,419.6 L569.4,418.9 L569.6,418.4 L569.8,418.5 L570.0,418.7 L570.2,418.5 L570.3,417.3 L570.5,416.0 L570.7,415.3 L570.9,414.8 L571.0,413.8 L571.2,413.1 L571.4,413.4 L571.6,412.8 L571.7,411.1 L571.9,410.3 L572.0,410.4 L572.2,410.6 L572.5,411.1 L572.8,411.3 L573.1,411.3 L573.4,411.7 L573.7,412.9 L573.9,414.4 L574.2,414.8 L574.5,415.1 L574.8,415.8 L575.0,415.1 L575.3,413.6 L575.5,412.7 L575.8,412.4 L576.1,412.0 L576.4,410.8 L576.8,409.7 L577.1,409.5 L577.4,409.4 L577.7,408.8 L578.0,408.3 L578.3,407.4 L578.7,406.4 L579.1,406.1 L579.4,405.4 L579.8,404.3 L580.1,404.8 L580.5,405.2 L580.8,403.8 L581.1,402.6 L581.4,402.2 L581.8,402.3 L582.2,402.8 L582.5,403.4 L582.9,403.6 L583.2,404.1 L583.5,405.4 L583.8,405.9 L584.0,406.4 L584.3,407.3 L584.4,407.9 L584.6,408.7 L584.7,409.3 L584.8,409.9 L584.9,410.5 L585.0,411.0 L585.1,411.6 L585.2,412.3 L585.3,413.6 L585.4,414.4 L585.4,414.4 L585.5,415.0 L585.6,416.0 L585.7,416.5 L585.8,417.2 L585.9,417.9 L586.0,418.0 L586.2,418.9 L586.5,420.3 L586.7,421.2 L587.0,421.4 L587.2,421.7 L587.5,422.2 L587.8,422.9 L588.2,422.8 L588.6,421.6 L589.0,420.9 L589.5,420.6 L590.0,420.5 L590.6,420.1 L591.0,419.3 L591.4,418.7 L591.9,418.1 L592.4,416.7 L592.9,415.9 L593.4,415.8 L593.8,415.7 L594.3,415.4 L594.8,415.5 L595.2,415.8 L595.5,415.5 L595.8,415.8 L596.1,417.1 L596.4,417.7 L596.7,418.1 L597.0,418.9 L597.3,419.8 L597.5,420.3 L597.8,420.7 L598.1,420.8 L598.4,420.8 L598.7,420.5 L599.0,420.3 L599.4,420.6 L599.7,420.7 L600.0,420.0 L600.4,418.9 L600.7,417.9 L601.1,417.1 L601.4,416.3 L601.8,415.8 L602.1,415.4 L602.4,414.8 L602.7,415.8 L602.9,416.6 L603.2,416.0 L603.4,415.6 L603.6,416.0 L603.8,416.6 L604.0,417.4 L604.2,418.7 L604.4,419.1 L604.6,419.1 L604.8,419.7 L605.0,420.7 L605.2,422.1 L605.4,423.1 L605.6,422.9 L606.2,422.6 L606.9,422.6 L607.6,422.0 L608.3,421.2 L609.0,421.9 L609.6,422.1 L610.2,422.2 L610.8,423.3 L611.4,423.7 L612.0,424.4 L612.5,424.5 L612.7,423.1 L612.9,422.0 L613.1,421.8 L613.2,421.6 L613.4,421.2 L613.5,420.5 L613.7,419.6 L613.8,418.9 L614.0,418.1 L614.1,417.4 L614.3,417.0 L614.5,416.3 L614.6,415.9 L614.8,416.0 L615.4,415.0 L616.1,414.9 L616.8,415.4 L617.6,416.4 L617.9,417.2 L618.1,418.0 L618.4,418.4 L618.7,419.0 L619.0,420.4 L619.3,420.5 L619.6,419.9 L620.0,420.8 L620.3,422.9 L620.5,423.5 L620.8,423.0 L621.1,423.3 L621.4,423.3 L621.7,422.3 L622.0,421.3 L622.3,420.9 L622.6,420.4 L622.8,419.1 L623.1,418.0 L623.4,417.3 L623.7,416.3 L624.0,416.4 L624.5,417.3 L625.1,417.7 L625.7,417.9 L626.3,418.7 L626.9,419.4 L627.4,418.9 L628.0,418.1 L628.6,417.5 L629.1,416.2 L629.7,416.5 L630.3,418.5 L630.6,419.1 L631.0,418.7 L631.3,419.2 L631.6,420.2 L632.0,421.0 L632.4,421.0 L632.7,421.2 L633.0,422.1 L633.4,422.9 L633.7,423.2 L634.2,423.2 L634.7,422.7 L635.1,421.7 L635.6,420.8 L636.1,420.1 L636.6,419.9 L637.3,420.3 L638.0,419.9 L638.7,419.5 L639.5,419.7 L640.1,420.2 L640.5,421.3 L640.8,422.5 L641.1,423.0 L641.3,423.1 L641.6,424.3 L641.9,425.6 L642.2,425.7 L642.6,425.7 L642.8,425.3 L642.9,424.2 L643.1,424.2 L643.3,424.2 L643.4,423.7 L643.6,423.3 L643.8,422.1 L644.0,421.0 L644.2,420.2 L644.4,419.4 L644.6,418.2 L644.7,417.3 L644.9,417.2 L645.1,416.6 L645.3,415.8 L645.5,415.3 L645.7,414.5 L645.8,413.9 L646.0,413.0 L646.2,412.0 L646.3,412.3 L647.0,412.2 L647.5,411.9 L648.1,413.0 L648.6,415.4 L648.8,416.3 L649.0,416.3 L649.1,416.3 L649.3,416.7 L649.5,417.7 L649.6,418.2 L649.8,418.1 L650.0,418.2 L650.2,418.6 L650.4,419.8 L650.6,421.1 L650.9,421.4 L651.3,421.7 L651.8,422.5 L652.3,423.1 L652.8,423.5 L653.4,423.2 L653.9,423.5 L654.4,424.4 L654.9,424.1 L655.4,423.4 L655.8,423.1 L656.3,422.9 L656.7,422.9 L657.2,422.4 L657.6,421.5 L658.0,420.9 L658.4,420.7 L658.7,420.3 L659.1,419.3 L659.4,418.8 L659.7,418.3 L660.0,417.1 L660.3,416.8 L660.6,416.4 L661.0,415.8 L661.3,416.0 L661.7,416.6 L662.1,416.7 L662.5,416.8 L662.9,417.5 L663.3,418.7 L663.8,419.7 L664.2,420.1 L664.7,420.5 L665.3,420.1 L666.0,418.7 L666.7,417.5 L667.4,417.5 L668.1,417.8 L668.7,417.4 L669.3,417.9 L669.9,418.6 L670.4,418.3 L670.8,418.7 L671.3,419.9 L671.7,420.5 L672.2,420.7 L672.6,421.7 L673.0,422.7 L673.4,423.2 L673.9,423.9 L674.3,424.8 L674.7,425.0 L675.2,425.0 L675.6,425.2 L676.2,425.4 L676.8,425.1 L677.4,424.8 L678.0,424.4 L678.6,423.8 L679.1,422.8 L679.6,422.3 L680.1,422.1 L680.5,421.8 L681.0,421.5 L681.5,421.0 L682.0,421.1 L682.5,421.5 L683.0,421.0 L683.6,420.1 L684.2,420.4 L684.8,421.4 L685.4,421.8 L686.0,421.8 L686.5,422.0 L687.0,422.3 L687.5,421.6 L688.0,420.4 L688.5,420.0 L689.0,419.3 L689.6,418.8 L690.1,419.0 L690.6,419.1 L691.2,419.6 L691.9,420.5 L692.5,420.5 L693.2,419.9 L693.8,419.2 L694.5,419.4 L695.2,420.3 L695.6,420.6 L696.1,420.6 L696.6,421.1 L697.0,422.2 L697.5,423.3 L698.0,423.1 L698.5,423.1 L699.0,423.8 L699.5,424.0 L700.0,423.5 L700.4,423.3 L700.9,423.9 L701.4,424.2 L701.9,423.7 L702.4,423.1 L702.9,422.8 L703.4,422.6 L703.9,421.9 L704.4,421.0 L704.8,420.9 L705.3,421.0 L705.7,420.4 L706.1,419.8 L706.7,420.2 L707.2,421.2 L707.7,421.7 L708.2,422.0 L708.6,422.8 L709.1,423.4 L709.5,423.6 L709.8,423.5 L710.1,422.7 L710.4,422.2 L710.7,422.3 L711.0,422.1 L711.3,420.9 L711.7,419.6 L712.0,419.2 L712.4,419.2 L712.6,419.0 L712.8,417.9 L712.9,417.1 L713.2,416.6 L713.4,415.8 L713.6,414.8 L713.8,414.3 L714.0,414.0 L714.2,413.3 L714.5,412.3 L714.7,411.1 L714.9,410.3 L715.1,410.0 L715.4,410.2 L715.6,409.9 L715.8,409.2 L716.0,408.5 L716.2,407.4 L716.4,406.3 L716.6,405.8 L716.7,405.8 L716.9,405.8 L717.2,405.9 L717.4,406.1 L717.7,406.0 L717.9,406.2 L718.1,407.2 L718.3,408.2 L718.4,409.3 L718.6,410.3 L718.8,410.9 L719.0,412.0 L719.2,413.6 L719.4,414.0 L719.5,413.7 L719.7,413.8 L719.8,414.7 L720.0,416.0 L720.1,417.5 L720.3,418.5 L720.4,418.4 L720.6,418.5 L720.7,419.2 L720.9,419.8 L721.1,420.1 L721.2,420.7 L721.4,421.7 L721.6,422.4 L721.8,422.6 L722.3,422.4 L722.8,422.2 L723.3,421.3 L723.9,419.6 L724.4,419.1 L725.0,419.6 L725.5,419.3 L725.9,418.7 L726.2,419.2 L726.5,420.0 L726.9,421.4 L727.2,422.7 L727.6,423.5 L727.9,424.4 L728.2,424.5 L728.5,424.7 L728.8,425.8 L729.3,426.1 L729.8,425.7 L730.2,425.1 L730.7,424.3 L731.2,423.2 L731.6,422.3 L732.0,422.8 L732.5,424.2 L732.9,425.1 L733.4,425.7 L733.9,426.2 L734.4,427.3 L734.9,427.9 L735.4,427.4 L735.9,426.7 L736.4,426.2 L737.0,425.6 L737.6,424.6 L738.1,423.7 L738.6,423.3 L739.1,422.7 L739.5,422.2 L739.9,422.8 L740.3,423.8 L740.6,424.4 L740.9,425.1 L741.2,426.2 L741.5,426.7 L742.0,426.4 L742.3,426.5 L742.7,426.6 L743.1,425.8 L743.5,424.4 L744.0,423.5 L744.4,423.1 L744.9,422.9 L745.3,422.9 L745.8,421.6 L746.2,420.7 L746.6,420.8 L747.0,420.1 L747.4,419.6 L747.8,420.3 L748.2,421.0 L748.6,421.4 L749.0,421.9 L749.4,422.8 L749.7,424.1 L750.1,424.7 L750.4,424.8 L750.8,425.1 L751.1,425.5 L751.5,425.8 L751.8,425.2 L752.1,424.5 L752.4,424.2 L752.6,423.5 L752.9,422.6 L753.2,421.9 L753.6,421.6 L754.0,421.5 L754.5,421.5 L755.0,421.8 L755.5,422.0 L756.1,422.2 L756.7,422.1 L757.3,422.1 L757.9,422.2 L758.5,421.9 L759.0,422.3 L759.4,423.6 L759.9,425.0 L760.3,426.2 L760.7,426.9 L761.2,427.2 L761.6,427.4 L762.0,428.2 L762.4,429.0 L762.8,429.2 L763.1,429.2 L763.5,428.9 L763.9,428.2 L764.2,427.5 L764.5,427.1 L764.8,427.1 L765.1,426.4 L765.4,425.5 L765.7,425.0 L766.1,424.5 L766.5,424.8 L767.0,424.8 L767.6,423.7 L768.2,422.3 L768.8,422.2 L769.5,423.0 L770.1,422.4 L770.6,421.6 L771.1,421.5 L771.4,420.9"/><path fill="none" stroke="#ff0000" stroke-width="4.2" stroke-linejoin="round" stroke-linecap="round" d="M49.6,245.9 L49.6,246.7 L49.6,247.3 L49.7,247.9 L49.7,248.3 L49.7,248.0 L49.7,248.1 L49.8,249.0 L49.8,250.5 L49.8,251.9 L49.9,252.6 L49.9,252.9 L49.9,253.3 L50.0,254.3 L50.0,255.8 L50.1,257.4 L50.1,258.5 L50.1,258.8 L50.2,259.2 L50.2,260.0 L50.3,260.5 L50.4,260.5 L50.4,260.7 L50.5,261.1 L50.6,261.2 L50.6,261.3 L50.7,261.3 L50.8,261.5 L50.8,261.3 L50.9,260.8 L51.0,260.7 L51.1,260.2 L51.2,259.1 L51.3,258.5 L51.4,258.2 L51.4,257.8 L51.5,257.0 L51.6,256.2 L51.7,255.9 L51.9,255.7 L52.0,254.3 L52.1,253.0 L52.2,252.3 L52.3,251.5 L52.4,250.7 L52.5,249.8 L52.6,248.2 L52.7,246.8 L52.8,246.6 L52.9,246.5 L53.0,245.8 L53.1,245.6 L53.2,245.1 L53.3,244.5 L53.4,244.7 L53.4,245.0 L53.5,244.7 L53.6,244.5 L53.7,244.8 L53.7,245.0 L53.8,244.5 L53.9,244.5 L53.9,244.8 L54.0,244.6 L54.1,244.7 L54.1,245.9 L54.2,247.4 L54.2,248.1 L54.3,247.9 L54.3,248.5 L54.3,250.0 L54.4,251.4 L54.4,252.6 L54.5,254.0 L54.5,255.1 L54.6,255.7 L54.6,256.1 L54.7,256.2 L54.7,256.9 L54.8,258.3 L54.9,259.5 L54.9,260.2 L55.0,260.7 L55.1,261.2 L55.1,261.0 L55.2,260.3 L55.3,260.5 L55.4,261.4 L55.5,261.1 L55.7,260.5 L55.8,260.5 L55.9,259.9 L56.1,259.1 L56.2,258.8 L56.4,257.9 L56.6,256.7 L56.7,256.3 L56.9,255.4 L57.1,254.0 L57.2,252.6 L57.4,251.3 L57.5,250.9 L57.7,250.6 L57.9,249.7 L58.0,249.0 L58.2,248.5 L58.3,248.3 L58.4,248.1 L58.6,247.4 L58.7,246.9 L58.8,247.5 L58.9,247.9 L59.1,247.5 L59.2,247.2 L59.3,247.6 L59.4,248.9 L59.4,250.2 L59.5,250.8 L59.6,250.9 L59.7,251.5 L59.8,253.0 L59.8,254.0 L59.9,253.9 L60.0,254.5 L60.1,255.9 L60.1,257.4 L60.2,258.4 L60.3,258.0 L60.4,257.7 L60.5,257.7 L60.6,257.2 L60.8,257.5 L60.9,258.0 L61.1,256.9 L61.2,255.3 L61.3,254.4 L61.5,254.2 L61.7,253.7 L61.8,252.4 L62.0,251.3 L62.1,250.7 L62.3,250.0 L62.5,249.3 L62.6,248.7 L62.8,247.9 L62.9,248.1 L63.1,249.1 L63.2,249.6 L63.3,250.1 L63.4,251.4 L63.6,252.7 L63.7,253.4 L63.9,254.2 L64.0,255.2 L64.1,255.7 L64.3,256.0 L64.4,257.3 L64.6,258.5 L64.7,258.8 L64.9,259.5 L65.0,260.1 L65.1,260.2 L65.3,260.7 L65.4,261.6 L65.6,262.1 L65.7,261.7 L65.8,261.0 L65.9,261.0 L66.0,261.5 L66.1,261.5 L66.2,261.1 L66.3,260.7 L66.4,260.2 L66.5,259.2 L66.6,257.9 L66.7,257.1 L66.8,255.8 L66.9,254.2 L66.9,254.3 L67.0,254.7 L67.1,253.0 L67.2,251.3 L67.3,251.5 L67.4,251.7 L67.5,250.8 L67.6,249.7 L67.7,248.8 L67.8,248.3 L67.9,248.1 L68.0,247.4 L68.1,246.4 L68.2,246.1 L68.3,245.6 L68.3,244.7 L68.4,244.2 L68.5,243.7 L68.6,243.4 L69.0,243.1 L69.4,243.2 L69.8,243.4 L70.2,244.1 L70.6,245.7 L70.9,247.0 L71.2,246.4 L71.5,245.7 L71.8,245.0 L72.1,244.4 L72.3,243.7 L72.6,243.1 L72.8,243.4 L72.9,244.3 L73.1,245.1 L73.3,245.8 L73.4,246.8 L73.6,248.3 L73.8,249.4 L74.0,249.6 L74.1,249.5 L74.3,249.7 L74.4,249.7 L74.6,249.8 L74.7,249.4 L74.9,248.0 L75.0,246.6 L75.1,245.4 L75.3,244.6 L75.4,244.2 L75.6,244.1 L75.7,243.2 L75.9,242.6 L76.0,242.7 L76.2,242.3 L76.3,242.8 L76.5,243.6 L76.7,243.7 L76.8,243.8 L77.0,244.3 L77.1,245.3 L77.3,245.8 L77.5,245.9 L77.6,247.0 L77.8,248.4 L77.9,248.4 L78.0,248.6 L78.0,249.6 L78.1,250.8 L78.2,252.3 L78.3,253.4 L78.3,253.2 L78.4,253.2 L78.5,254.1 L78.5,255.4 L78.6,257.0 L78.7,258.3 L78.8,259.0 L78.9,260.0 L79.0,260.5 L79.1,260.1 L79.2,259.8 L79.3,259.9 L79.4,260.2 L79.5,260.9 L79.6,261.3 L79.8,261.2 L80.0,260.1 L80.1,258.9 L80.3,259.0 L80.5,259.3 L80.7,258.3 L80.9,256.4 L81.1,255.2 L81.3,254.6 L81.5,253.3 L81.7,252.1 L81.8,252.2 L82.0,252.5 L82.2,251.1 L82.4,249.6 L82.6,249.4 L82.7,249.7 L82.9,250.0 L83.2,249.9 L83.5,249.7 L83.8,249.7 L84.0,250.1 L84.3,250.3 L84.6,251.5 L84.9,253.3 L85.2,254.3 L85.4,254.6 L85.5,254.9 L85.7,255.3 L85.9,255.7 L86.1,256.1 L86.3,257.3 L86.6,258.7 L86.8,259.7 L87.0,260.5 L87.2,261.3 L87.4,261.7 L87.6,261.6 L87.8,261.5 L88.0,262.7 L88.2,264.2 L88.4,264.5 L88.5,264.4 L88.7,264.1 L88.9,264.3 L89.0,264.9 L89.1,264.7 L89.3,264.2 L89.4,263.3 L89.5,261.6 L89.6,260.3 L89.7,259.8 L89.8,258.7 L89.9,258.0 L90.0,258.5 L90.1,258.2 L90.2,257.1 L90.3,255.9 L90.4,255.1 L90.5,254.7 L90.6,254.0 L90.7,253.5 L90.8,252.3 L90.9,251.0 L91.0,250.7 L91.1,250.4 L91.2,250.0 L91.3,249.2 L91.4,247.9 L91.5,247.5 L91.6,246.7 L91.7,245.3 L91.8,244.4 L91.9,243.6 L92.0,242.4 L92.1,242.3 L92.2,242.3 L92.3,241.5 L92.4,240.7 L92.5,241.2 L92.6,242.1 L92.7,242.1 L92.8,241.2 L92.9,240.9 L93.0,241.4 L93.1,241.9 L93.2,242.2 L93.4,243.0 L93.5,244.3 L93.6,244.6 L93.7,244.7 L93.8,246.1 L93.9,247.6 L94.0,248.5 L94.1,249.1 L94.2,250.2 L94.3,250.6 L94.5,250.5 L94.6,251.9 L94.7,252.5 L94.8,251.5 L94.9,251.7 L95.0,253.0 L95.6,253.8 L96.2,253.2 L96.8,252.1 L97.3,252.2 L97.4,252.8 L97.5,253.2 L97.6,253.8 L97.7,254.5 L97.8,255.0 L97.8,255.8 L97.9,256.2 L98.0,256.2 L98.1,257.0 L98.2,258.1 L98.2,258.5 L98.3,258.9 L98.4,260.1 L98.5,261.4 L98.5,262.6 L98.6,263.2 L98.7,263.1 L98.8,263.1 L98.9,263.4 L99.0,263.7 L99.2,263.5 L99.4,263.3 L99.6,263.9 L99.8,264.3 L100.0,263.4 L100.2,261.8 L100.5,261.3 L100.7,261.1 L101.0,259.8 L101.3,258.4 L101.4,258.1 L101.6,258.0 L101.7,258.0 L101.9,257.6 L102.1,256.3 L102.2,254.7 L102.4,253.4 L102.6,252.5 L102.8,251.8 L102.9,250.9 L103.1,250.3 L103.3,250.0 L103.5,249.0 L103.7,248.0 L103.8,247.3 L104.0,247.3 L104.2,247.1 L104.4,245.9 L104.5,245.3 L104.7,245.0 L104.9,244.8 L105.0,244.4 L105.2,243.8 L105.3,243.6 L105.4,243.5 L105.6,243.4 L105.7,243.9 L105.8,244.8 L105.9,245.3 L106.1,246.0 L106.2,246.5 L106.3,246.9 L106.4,247.8 L106.5,248.4 L106.6,249.7 L106.7,250.7 L106.8,250.6 L106.9,250.8 L107.0,252.3 L107.1,254.0 L107.1,254.1 L107.2,254.2 L107.3,255.5 L107.4,256.2 L107.5,256.4 L107.6,256.2 L107.8,256.5 L107.9,257.7 L108.1,258.7 L108.2,259.3 L108.3,260.2 L108.5,261.6 L108.6,263.2 L108.7,264.2 L108.9,264.4 L109.0,264.1 L109.1,264.2 L109.3,265.1 L109.4,265.7 L109.5,265.6 L109.7,264.8 L109.8,263.9 L109.9,263.0 L110.0,261.6 L110.2,260.7 L110.3,260.0 L110.4,258.7 L110.5,258.2 L110.7,258.1 L110.8,257.6 L110.9,257.0 L111.1,256.7 L111.2,257.0 L111.2,257.7 L111.3,258.4 L111.4,258.9 L111.5,259.7 L111.5,260.8 L111.6,261.1 L111.7,261.0 L111.8,261.5 L111.8,262.4 L111.9,263.6 L112.0,265.1 L112.1,265.8 L112.1,265.9 L112.2,266.3 L112.3,267.0 L112.4,268.5 L112.5,270.1 L112.6,270.8 L112.6,271.0 L112.7,271.1 L112.8,271.4 L112.9,272.5 L113.0,273.5 L113.1,274.0 L113.2,273.8 L113.3,273.6 L113.4,273.8 L113.5,273.9 L113.6,274.3 L113.7,274.0 L113.8,273.4 L113.9,272.7 L114.0,272.0 L114.2,271.5 L114.3,271.3 L114.4,270.8 L114.5,269.6 L114.6,268.3 L114.7,267.2 L114.9,266.1 L115.0,265.7 L115.1,265.3 L115.2,264.4 L115.4,263.4 L115.5,262.2 L115.6,260.7 L115.8,259.9 L115.9,260.5 L116.0,260.6 L116.2,259.7 L116.3,259.4 L116.5,258.8 L116.6,258.0 L116.8,257.9 L117.0,257.6 L117.2,258.0 L117.4,258.9 L117.6,258.9 L117.8,259.1 L118.0,260.0 L118.2,260.3 L118.4,260.8 L118.7,261.7 L118.9,262.4 L119.1,262.8 L119.4,263.9 L119.6,265.6 L119.8,266.0 L120.0,265.8 L120.3,266.5 L120.5,268.4 L120.7,270.3 L120.9,271.7 L121.1,272.7 L121.3,272.6 L121.5,272.2 L121.7,272.4 L121.8,272.8 L122.0,272.6 L122.2,272.0 L122.3,271.5 L122.4,271.9 L122.6,272.1 L122.7,271.1 L122.8,269.5 L122.9,268.4 L123.0,268.5 L123.1,268.4 L123.2,267.5 L123.3,266.0 L123.3,264.2 L123.4,263.2 L123.5,263.0 L123.6,262.1 L123.6,261.0 L123.7,260.3 L123.8,259.9 L123.9,259.6 L124.0,258.7 L124.1,257.9 L124.2,257.9 L124.3,258.4 L124.4,258.9 L124.5,258.4 L124.6,258.2 L124.8,259.0 L124.9,259.9 L125.0,260.7 L125.1,261.3 L125.3,261.7 L125.4,262.7 L125.5,263.5 L125.6,264.0 L125.8,265.1 L125.9,266.1 L126.0,266.4 L126.2,267.2 L126.3,268.5 L126.4,269.7 L126.5,270.3 L126.7,270.5 L126.8,271.4 L126.9,272.5 L127.1,272.7 L127.2,272.0 L127.3,271.0 L127.5,271.0 L127.6,271.7 L127.7,271.7 L127.9,270.8 L128.0,270.4 L128.1,270.3 L128.3,269.5 L128.4,268.4 L128.5,267.7 L128.7,266.6 L128.8,265.5 L128.9,265.1 L129.1,264.4 L129.2,263.3 L129.3,263.2 L129.5,262.7 L129.6,261.2 L129.7,260.8 L129.9,260.5 L130.0,259.7 L130.1,258.9 L130.2,258.7 L130.3,258.4 L131.0,255.9 L131.5,254.7 L132.2,256.1 L132.3,257.1 L132.4,257.6 L132.5,257.3 L132.6,258.0 L132.6,259.2 L132.7,259.6 L132.8,259.4 L132.9,260.0 L133.0,262.2 L133.2,263.9 L133.3,264.1 L133.4,264.8 L133.5,265.7 L133.6,266.4 L133.7,267.2 L133.8,267.8 L133.9,268.9 L134.0,271.1 L134.1,272.2 L134.2,272.2 L134.3,272.3 L134.4,272.2 L134.5,272.7 L134.6,273.4 L134.7,273.0 L134.8,273.2 L134.9,273.6 L135.0,273.9 L135.1,275.0 L135.2,275.2 L135.3,274.7 L135.4,274.1 L135.5,273.1 L135.5,272.6 L135.6,272.9 L135.7,272.5 L135.8,271.4 L135.9,270.2 L135.9,269.6 L136.0,268.8 L136.1,267.2 L136.2,266.0 L136.2,265.1 L136.3,263.9 L136.4,262.9 L136.5,262.7 L136.5,263.1 L136.6,262.8 L136.7,261.1 L136.8,259.3 L136.8,258.8 L136.9,258.7 L137.0,258.2 L137.1,258.0 L137.1,257.5 L137.2,256.8 L137.3,257.0 L137.4,257.9 L137.4,258.4 L137.5,258.6 L137.6,258.7 L137.6,258.8 L137.7,259.2 L137.7,260.0 L137.8,260.5 L137.8,261.4 L137.9,262.9 L138.0,263.7 L138.0,264.0 L138.1,265.1 L138.1,266.2 L138.2,266.8 L138.2,267.4 L138.3,267.9 L138.4,267.9 L138.4,268.8 L138.5,270.6 L138.5,272.1 L138.6,272.9 L138.7,273.4 L138.7,274.4 L138.8,275.7 L138.9,276.1 L139.0,275.6 L139.0,275.8 L139.1,276.7 L139.2,276.9 L139.3,276.6 L139.4,276.5 L139.5,277.2 L139.6,278.2 L139.7,277.8 L139.9,276.9 L140.0,276.4 L140.1,276.4 L140.3,276.1 L140.4,275.2 L140.6,275.0 L140.7,275.1 L140.9,274.1 L141.0,272.6 L141.2,271.4 L141.3,270.4 L141.5,269.5 L141.7,268.7 L141.8,267.6 L142.0,266.6 L142.1,265.7 L142.3,264.9 L142.5,265.1 L142.6,265.0 L142.8,263.1 L142.9,261.8 L143.1,261.9 L143.2,262.0 L143.4,261.9 L143.5,261.3 L143.6,260.5 L143.8,259.4 L143.9,258.9 L144.0,259.6 L144.2,260.2 L144.3,259.7 L144.4,259.6 L144.5,260.4 L144.7,261.3 L144.8,262.1 L144.9,263.5 L145.0,265.0 L145.1,265.1 L145.2,265.0 L145.3,265.9 L145.4,266.9 L145.5,267.8 L145.6,269.3 L145.7,269.8 L145.8,270.0 L145.9,271.2 L146.0,272.6 L146.1,273.2 L146.2,273.3 L146.3,274.0 L146.4,275.1 L146.5,275.4 L146.6,275.1 L146.7,275.6 L146.8,276.8 L146.9,276.3 L147.0,275.2 L147.1,275.0 L147.2,274.5 L147.3,273.6 L147.5,273.3 L147.6,273.1 L147.7,272.3 L147.7,271.4 L147.8,270.2 L147.9,268.7 L148.0,268.2 L148.1,267.6 L148.2,266.4 L148.3,265.8 L148.4,265.5 L148.5,265.1 L148.6,264.7 L148.7,264.1 L148.8,263.4 L148.9,262.8 L149.0,262.3 L149.1,262.6 L149.2,263.2 L149.3,263.7 L149.5,264.8 L149.6,265.4 L149.7,265.8 L149.8,266.6 L149.9,267.5 L150.0,268.5 L150.1,269.5 L150.2,270.7 L150.3,271.5 L150.5,272.5 L150.6,274.1 L150.7,274.4 L150.8,273.8 L150.9,274.2 L151.1,275.0 L151.2,275.3 L151.3,274.8 L151.3,274.2 L151.4,273.9 L151.5,273.5 L151.6,272.6 L151.6,271.8 L151.7,271.4 L151.8,271.3 L151.9,271.0 L151.9,270.3 L152.0,269.2 L152.1,268.3 L152.2,267.6 L152.2,266.7 L152.3,265.6 L152.4,265.5 L152.5,265.5 L152.6,264.2 L152.6,263.0 L152.7,262.3 L152.8,261.2 L152.9,260.6 L153.0,260.2 L153.1,259.8 L153.1,259.6 L153.2,258.6 L153.3,257.2 L153.4,256.1 L153.4,255.0 L153.5,254.1 L153.6,254.4 L153.7,254.7 L153.7,253.9 L153.8,253.2 L153.9,253.0 L154.0,252.7 L154.0,252.2 L154.1,252.2 L154.3,252.0 L154.5,251.7 L154.7,251.7 L154.9,252.4 L155.1,253.1 L155.3,253.8 L155.5,255.2 L155.7,256.0 L155.9,256.0 L156.1,257.2 L156.3,258.8 L156.6,259.2 L157.0,258.7 L157.4,258.2 L157.8,257.9 L158.3,256.9 L158.6,255.5 L159.0,255.2 L159.3,255.4 L159.4,255.2 L159.6,253.9 L159.7,252.7 L159.8,252.4 L159.9,252.9 L160.0,252.9 L160.1,252.2 L160.2,251.6 L160.3,251.4 L160.4,250.7 L160.4,249.2 L160.5,247.5 L160.6,246.8 L160.7,246.0 L160.7,245.9 L160.7,245.7 L160.8,244.7 L160.8,243.6 L160.8,243.4 L160.8,242.9 L160.8,242.1 L160.8,241.6 L160.9,241.5 L160.9,241.2 L160.9,240.4 L160.9,239.3 L160.9,238.1 L160.9,237.6 L161.0,237.4 L161.0,236.9 L161.0,236.6 L161.0,236.4 L161.0,235.6 L161.0,234.4 L161.1,234.1 L161.1,233.9 L161.1,232.7 L161.1,231.5 L161.1,231.6 L161.1,231.8 L161.2,231.3 L161.2,230.5 L161.2,229.7 L161.2,228.6 L161.2,227.3 L161.2,226.7 L161.3,226.8 L161.3,226.7 L161.3,226.0 L161.3,224.9 L161.3,223.6 L161.3,223.0 L161.4,223.2 L161.4,222.9 L161.4,222.1 L161.4,221.0 L161.4,220.1 L161.4,219.8 L161.5,219.1 L161.5,218.3 L161.5,217.1 L161.5,215.0 L161.5,213.7 L161.5,213.6 L161.6,214.0 L161.6,214.0 L161.6,213.2 L161.6,212.3 L161.6,211.1 L161.7,210.2 L161.7,209.8 L161.7,209.3 L161.7,208.6 L161.7,208.4 L161.8,208.2 L161.8,207.1 L161.8,206.2 L161.8,205.6 L161.8,204.9 L161.9,204.7 L161.9,205.0 L161.9,204.3 L161.9,202.8 L162.0,202.3 L162.0,202.2 L162.1,201.7 L162.1,200.9 L162.1,200.0 L162.2,198.7 L162.2,197.6 L162.2,197.0 L162.3,196.7 L162.3,196.3 L162.4,195.7 L162.4,194.3 L162.5,192.2 L162.5,190.7 L162.5,189.9 L162.6,189.7 L162.6,189.3 L162.7,187.8 L162.7,186.7 L162.8,187.0 L162.8,187.2 L162.8,187.0 L162.9,186.4 L162.9,185.0 L163.0,183.8 L163.0,183.0 L163.1,182.2 L163.1,182.2 L163.2,183.0 L163.2,183.2 L163.3,182.4 L163.3,181.2 L163.4,180.5 L163.4,179.8 L163.5,179.3 L163.5,179.8 L163.6,180.1 L163.6,179.6 L163.7,179.0 L163.7,178.8 L163.7,179.6 L163.8,179.4 L163.9,178.3 L163.9,178.9 L164.0,180.5 L164.0,181.0 L164.1,180.6 L164.1,181.1 L164.2,182.2 L164.2,182.4 L164.3,182.3 L164.3,182.6 L164.4,183.2 L164.5,183.9 L164.5,184.7 L164.6,185.2 L164.6,186.2 L164.7,187.5 L164.7,188.2 L164.8,188.5 L164.9,189.0 L164.9,189.8 L165.0,190.8 L165.0,191.7 L165.1,192.7 L165.1,194.4 L165.2,195.3 L165.2,194.9 L165.3,195.0 L165.4,195.8 L165.4,197.1 L165.5,198.0 L165.5,198.2 L165.6,198.7 L165.6,200.3 L165.7,202.2 L165.7,202.9 L165.8,202.7 L165.8,202.8 L165.9,203.3 L165.9,203.6 L165.9,203.8 L166.0,204.9 L166.0,206.2 L166.0,207.0 L166.1,207.2 L166.1,207.1 L166.1,207.9 L166.2,209.3 L166.2,210.2 L166.2,210.8 L166.3,211.4 L166.3,212.2 L166.3,212.8 L166.4,213.0 L166.4,214.1 L166.4,215.7 L166.4,216.1 L166.5,216.1 L166.5,216.3 L166.5,217.1 L166.5,218.9 L166.6,219.7 L166.6,219.7 L166.6,219.6 L166.6,219.8 L166.7,221.4 L166.7,222.7 L166.7,223.2 L166.7,224.0 L166.8,224.2 L166.8,224.2 L166.8,224.7 L166.9,225.9 L166.9,227.0 L166.9,227.2 L166.9,227.5 L167.0,228.0 L167.0,228.9 L167.0,230.2 L167.0,230.3 L167.1,230.1 L167.1,231.0 L167.1,232.1 L167.2,232.9 L167.2,233.1 L167.2,232.9 L167.3,233.5 L167.3,234.1 L167.5,235.8 L167.6,236.7 L167.8,236.1 L168.0,235.9 L168.2,236.2 L168.4,235.9 L168.6,236.1 L168.8,237.7 L169.0,238.9 L169.2,239.6 L169.3,240.8 L169.3,242.3 L169.4,241.8 L169.5,241.2 L169.5,241.8 L169.6,242.5 L169.7,243.2 L169.7,244.0 L169.8,244.8 L169.8,245.5 L169.9,245.9 L170.0,246.1 L170.0,246.2 L170.1,246.8 L170.2,247.9 L170.2,248.9 L170.3,249.8 L170.4,250.5 L170.4,251.5 L170.5,252.9 L170.5,253.5 L170.6,253.6 L170.7,253.8 L170.7,254.9 L170.8,255.9 L170.8,255.8 L170.9,256.0 L170.9,256.8 L171.0,256.6 L171.1,256.6 L171.2,257.6 L171.3,259.1 L171.4,260.2 L171.5,261.3 L171.6,262.3 L171.7,262.9 L171.8,263.0 L171.9,263.1 L172.0,263.3 L172.1,263.4 L172.2,263.7 L172.4,264.5 L172.6,265.4 L172.8,265.9 L173.0,267.0 L173.2,267.6 L173.5,267.3 L173.7,267.8 L174.0,269.0 L174.2,269.7 L174.5,269.9 L174.8,271.0 L175.1,272.0 L175.4,271.5 L175.8,271.2 L176.2,271.3 L176.7,270.5 L177.2,269.9 L177.7,269.4 L178.1,268.1 L178.6,267.4 L179.0,267.3 L179.4,267.3 L179.8,267.5 L180.5,268.1 L180.9,269.3 L181.4,270.0 L182.0,269.5 L182.1,268.8 L182.3,267.8 L182.4,267.5 L182.6,267.1 L182.7,266.2 L182.9,265.2 L183.0,263.9 L183.2,263.0 L183.4,263.2 L183.5,262.6 L183.7,261.3 L183.9,260.7 L184.1,259.6 L184.2,258.1 L184.4,257.8 L184.6,258.2 L184.7,257.9 L184.9,257.7 L185.0,257.6 L185.2,256.2 L185.3,254.6 L185.5,254.4 L185.6,255.0 L185.8,254.7 L186.0,254.2 L186.2,254.3 L186.4,254.7 L186.5,255.7 L186.7,256.9 L186.9,257.9 L187.0,258.8 L187.2,259.6 L187.3,259.9 L187.5,260.4 L187.6,261.2 L187.8,262.0 L187.9,263.3 L188.0,264.4 L188.1,264.6 L188.2,264.6 L188.3,265.4 L188.4,266.3 L188.5,266.6 L188.6,267.3 L188.7,268.6 L188.8,269.5 L188.9,270.4 L189.0,272.1 L189.1,273.4 L189.2,273.4 L189.3,273.2 L189.4,274.0 L189.5,275.2 L189.6,275.5 L189.7,275.7 L189.8,275.7 L189.9,276.0 L190.0,276.5 L190.1,276.3 L190.3,275.3 L190.5,274.9 L190.6,275.4 L190.8,274.8 L190.9,273.1 L191.1,271.7 L191.2,270.4 L191.4,269.5 L191.5,269.1 L191.7,268.5 L191.8,268.2 L191.9,268.4 L192.1,268.4 L192.2,267.8 L192.3,267.7 L192.4,267.9 L192.5,268.0 L192.6,268.8 L192.6,270.1 L192.7,271.5 L192.8,272.2 L192.9,272.9 L192.9,274.0 L193.0,274.2 L193.1,274.9 L193.2,276.5 L193.3,277.0 L193.4,276.7 L193.5,276.7 L193.6,277.5 L193.7,278.1 L193.8,278.2 L193.8,278.1 L193.9,277.5 L194.0,276.8 L194.1,276.0 L194.1,274.9 L194.2,274.3 L194.3,273.5 L194.4,272.4 L194.5,271.8 L194.5,272.1 L194.6,271.8 L194.7,270.7 L194.8,269.3 L194.9,268.5 L195.0,268.4 L195.1,267.5 L195.2,265.8 L195.2,265.0 L195.3,264.0 L195.4,263.3 L195.5,263.6 L195.6,263.2 L195.7,262.2 L195.8,261.4 L195.9,260.2 L196.0,259.8 L196.1,259.6 L196.2,258.7 L196.3,257.9 L196.3,257.5 L196.4,257.8 L196.5,257.7 L196.6,256.7 L196.7,256.4 L196.8,257.3 L196.9,257.9 L197.1,257.6 L197.2,257.6 L197.3,258.7 L197.4,259.5 L197.5,259.5 L197.6,260.6 L197.7,262.1 L197.8,262.6 L197.9,263.3 L198.1,264.2 L198.2,265.2 L198.3,266.7 L198.4,267.4 L198.5,267.6 L198.6,268.4 L198.7,269.2 L198.9,269.5 L199.0,269.9 L199.1,270.4 L199.2,271.1 L199.4,272.0 L199.5,271.9 L199.9,271.8 L200.3,272.0 L200.7,271.9 L201.1,271.4 L201.5,270.5 L201.9,269.2 L202.4,268.3 L202.8,267.8 L203.2,268.0 L203.4,268.9 L203.6,269.8 L203.9,269.9 L204.1,269.8 L204.3,270.5 L204.5,271.1 L204.7,271.6 L205.0,272.4 L205.2,274.0 L205.4,276.0 L205.6,277.6 L205.8,277.9 L206.1,277.2 L206.3,277.2 L206.6,277.7 L206.8,277.6 L206.9,276.9 L207.0,276.1 L207.1,276.2 L207.2,276.4 L207.3,275.9 L207.5,275.0 L207.6,274.2 L207.7,274.1 L207.8,274.2 L207.9,273.5 L208.0,272.9 L208.2,271.9 L208.3,270.3 L208.4,269.7 L208.5,269.4 L208.6,268.5 L208.7,267.1 L208.9,265.8 L209.0,264.9 L209.1,264.3 L209.2,263.4 L209.3,262.7 L209.5,262.0 L209.6,260.8 L209.7,259.7 L209.8,259.1 L209.9,258.7 L210.1,258.7 L210.2,258.3 L210.3,256.7 L210.4,255.5 L210.5,255.8 L210.6,255.6 L210.8,254.9 L210.9,255.2 L211.0,255.4 L211.1,254.3 L211.2,253.8 L211.3,253.8 L211.4,253.3 L211.5,254.4 L211.6,256.0 L211.7,256.4 L211.8,256.5 L211.9,256.7 L212.0,257.9 L212.1,259.3 L212.3,259.8 L212.4,259.8 L212.5,260.0 L212.6,260.9 L212.7,262.1 L212.8,262.3 L212.9,262.4 L213.0,264.0 L213.1,266.0 L213.2,266.6 L213.3,267.1 L213.4,267.8 L213.5,268.3 L213.6,269.7 L213.7,270.8 L213.8,271.0 L213.9,271.2 L213.9,271.9 L214.0,273.6 L214.1,275.4 L214.2,275.9 L214.3,276.2 L214.4,276.5 L214.5,276.6 L214.6,276.3 L214.7,275.8 L214.8,276.3 L214.9,277.1 L215.0,277.4 L215.1,277.5 L215.2,277.5 L215.3,277.2 L215.4,277.1 L215.5,276.8 L215.6,276.4 L215.7,276.0 L215.8,275.6 L215.8,274.7 L215.9,273.6 L216.0,272.7 L216.1,271.8 L216.2,271.4 L216.3,270.9 L216.4,269.8 L216.5,269.2 L216.6,268.9 L216.7,268.5 L216.8,267.3 L216.9,265.5 L217.0,264.5 L217.1,264.3 L217.1,263.1 L217.2,261.9 L217.3,262.0 L217.4,261.2 L217.5,259.6 L217.6,259.1 L217.7,258.3 L217.7,257.2 L217.8,256.2 L217.9,255.7 L218.0,255.5 L218.0,255.1 L218.1,254.5 L218.2,254.3 L218.3,254.0 L218.3,253.7 L218.4,253.6 L218.5,254.1 L218.5,254.6 L218.6,253.9 L218.7,253.8 L218.7,254.7 L218.8,255.1 L218.9,255.6 L218.9,256.4 L219.0,256.8 L219.0,257.9 L219.1,259.3 L219.1,259.9 L219.2,260.2 L219.2,261.0 L219.3,262.1 L219.3,262.8 L219.4,263.6 L219.4,265.0 L219.5,266.5 L219.5,267.5 L219.5,268.2 L219.6,267.9 L219.6,267.5 L219.7,269.1 L219.7,271.2 L219.8,271.6 L219.8,271.8 L219.9,272.7 L219.9,273.3 L220.0,273.6 L220.0,273.9 L220.1,274.8 L220.1,275.6 L220.2,275.5 L220.4,275.4 L220.5,275.1 L220.7,274.9 L220.9,273.9 L221.0,272.7 L221.2,272.1 L221.4,271.7 L221.6,271.2 L221.8,270.4 L222.0,269.0 L222.1,268.2 L222.3,267.7 L222.5,267.1 L222.8,267.1 L223.2,267.9 L223.5,268.8 L223.9,270.2 L224.2,271.9 L224.5,272.4 L224.8,271.3 L224.9,270.5 L225.0,270.5 L225.1,270.3 L225.3,269.9 L225.4,270.2 L225.5,269.5 L225.6,268.4 L225.7,267.5 L225.7,266.3 L225.8,265.8 L225.9,265.5 L226.0,264.7 L226.2,263.7 L226.3,263.4 L226.4,263.2 L226.5,262.0 L226.6,260.8 L226.7,259.6 L226.9,258.7 L227.0,258.7 L227.2,259.2 L227.3,259.2 L227.4,258.6 L227.6,257.5 L227.7,256.2 L227.9,254.9 L228.0,254.0 L228.1,253.4 L228.3,253.0 L228.4,252.9 L228.6,252.8 L228.7,252.0 L228.8,251.3 L228.9,251.3 L229.1,251.1 L229.2,249.6 L229.3,248.1 L229.4,247.8 L229.5,246.5 L229.6,244.9 L229.7,244.7 L229.8,244.0 L230.0,242.9 L230.1,243.1 L230.2,243.2 L230.3,242.3 L230.4,241.5 L230.5,241.3 L230.6,241.9 L230.7,242.8 L230.8,243.1 L230.8,243.6 L230.9,243.8 L231.0,244.5 L231.1,246.5 L231.2,248.2 L231.2,248.9 L231.3,249.1 L231.4,249.9 L231.5,251.2 L231.6,251.9 L231.7,253.0 L231.8,253.9 L231.9,253.9 L232.0,253.8 L232.1,254.0 L232.2,254.2 L232.3,253.5 L232.4,252.9 L232.4,253.0 L232.5,252.6 L232.6,251.7 L232.7,251.0 L232.8,250.5 L232.9,250.2 L233.0,250.0 L233.0,249.2 L233.1,248.1 L233.2,247.5 L233.3,246.2 L233.4,244.9 L233.5,244.2 L233.6,243.0 L233.7,241.8 L233.8,240.9 L233.9,240.4 L234.0,239.8 L234.1,238.6 L234.2,237.3 L234.3,237.3 L234.4,237.8 L234.5,237.3 L234.6,236.4 L234.7,235.6 L234.8,235.6 L234.9,235.9 L235.0,235.9 L235.1,235.5 L235.2,234.6 L235.3,234.8 L235.3,235.9 L235.4,236.1 L235.5,236.5 L235.6,237.5 L235.6,238.4 L235.7,238.9 L235.8,239.7 L235.9,240.6 L235.9,241.1 L236.0,241.7 L236.1,242.2 L236.2,243.3 L236.3,244.5 L236.3,244.2 L236.4,244.1 L236.5,245.8 L236.6,247.7 L236.6,248.9 L236.7,248.9 L236.8,249.2 L236.9,250.9 L236.9,252.3 L237.0,252.9 L237.1,253.7 L237.2,254.5 L237.3,254.7 L237.3,254.8 L237.4,255.3 L237.5,255.8 L237.6,256.3 L237.7,257.0 L237.7,257.6 L237.8,257.5 L237.9,256.9 L238.0,256.4 L238.1,257.3 L238.2,258.5 L238.3,257.4 L238.4,256.2 L238.5,256.3 L238.6,256.0 L238.7,255.4 L238.8,254.8 L238.9,254.5 L239.0,253.9 L239.1,252.8 L239.2,252.4 L239.3,251.8 L239.4,251.0 L239.6,250.8 L239.7,249.6 L239.8,248.0 L239.9,247.1 L240.0,246.2 L240.1,245.0 L240.2,245.0 L240.3,245.1 L240.4,243.9 L240.5,242.4 L240.6,241.4 L240.7,240.7 L240.8,239.7 L240.9,239.0 L241.0,239.2 L241.1,239.1 L241.2,237.6 L241.2,236.5 L241.3,237.1 L241.4,237.7 L241.5,237.5 L241.7,237.5 L241.8,237.9 L241.9,238.2 L242.0,238.1 L242.1,237.6 L242.2,238.1 L242.3,239.4 L242.4,240.2 L242.5,241.4 L242.6,242.1 L242.7,242.0 L242.8,242.8 L242.8,244.5 L242.9,245.5 L243.0,245.9 L243.1,246.5 L243.2,247.2 L243.2,247.7 L243.3,248.7 L243.3,248.9 L243.4,249.2 L243.4,250.5 L243.5,251.4 L243.5,251.7 L243.5,252.4 L243.6,253.9 L243.6,255.0 L243.7,255.6 L243.7,256.3 L243.7,257.5 L243.8,258.7 L243.8,259.2 L243.9,259.6 L243.9,260.3 L243.9,261.3 L244.0,261.8 L244.0,262.6 L244.1,263.9 L244.1,264.3 L244.1,264.4 L244.2,265.0 L244.2,265.7 L244.3,266.7 L244.3,268.2 L244.4,268.4 L244.4,268.4 L244.5,269.2 L244.5,269.6 L244.6,269.7 L244.6,270.0 L244.7,270.5 L244.8,270.9 L244.8,271.1 L244.9,270.4 L245.0,269.2 L245.0,269.3 L245.1,269.8 L245.1,269.2 L245.2,268.5 L245.3,268.3 L245.4,267.8 L245.4,266.7 L245.5,266.7 L245.6,266.8 L245.6,266.0 L245.7,265.3 L245.8,264.9 L245.9,264.5 L246.0,264.1 L246.0,263.3 L246.1,262.2 L246.2,261.1 L246.3,260.2 L246.4,259.4 L246.4,258.7 L246.5,258.2 L246.6,257.0 L246.7,254.9 L246.8,253.8 L246.9,253.8 L246.9,252.9 L247.0,252.0 L247.1,252.3 L247.2,251.7 L247.3,249.9 L247.4,248.6 L247.4,248.1 L247.5,247.6 L247.6,247.0 L247.7,246.4 L247.8,246.0 L247.8,245.9 L247.9,245.8 L248.0,245.4 L248.1,245.4 L248.2,245.4 L248.2,244.9 L248.3,244.3 L248.4,243.7 L248.6,244.2 L248.7,245.4 L248.8,245.4 L249.0,244.9 L249.1,245.0 L249.2,245.9 L249.3,246.5 L249.5,246.6 L249.6,247.4 L249.7,248.8 L249.9,250.0 L250.0,250.7 L250.1,251.8 L250.2,252.8 L250.3,254.0 L250.5,255.3 L250.6,255.8 L250.7,256.4 L250.8,256.7 L250.9,256.8 L251.0,257.6 L251.1,258.6 L251.2,258.7 L251.4,258.3 L251.5,258.1 L251.6,257.9 L251.8,257.2 L251.9,256.5 L252.0,255.4 L252.1,253.7 L252.2,252.1 L252.3,251.2 L252.4,250.5 L252.6,250.5 L252.7,250.8 L252.9,250.8 L253.0,250.9 L253.1,251.0 L253.2,250.8 L253.3,251.3 L253.5,252.2 L253.6,253.0 L253.7,253.8 L253.9,255.3 L254.0,255.8 L254.1,255.2 L254.3,255.6 L254.4,256.9 L254.6,258.3 L254.7,259.2 L254.9,260.1 L255.0,260.9 L255.2,260.9 L255.3,261.7 L255.4,263.1 L255.6,263.8 L255.7,264.7 L255.8,265.7 L256.0,265.7 L256.1,265.4 L256.2,265.6 L256.3,266.1 L256.4,265.7 L256.5,265.2 L256.6,265.4 L256.7,265.1 L256.8,264.5 L256.9,264.6 L257.0,264.8 L257.0,264.6 L257.1,264.2 L257.2,263.1 L257.2,261.0 L257.3,259.4 L257.4,259.3 L257.4,259.0 L257.5,258.1 L257.5,257.1 L257.6,255.9 L257.7,255.3 L257.7,255.4 L257.8,254.9 L257.9,254.3 L257.9,253.9 L258.0,252.6 L258.1,251.6 L258.2,252.5 L258.3,253.5 L258.4,253.9 L258.6,254.6 L258.7,255.5 L258.8,255.9 L258.9,256.4 L259.1,257.5 L259.2,257.9 L259.3,258.5 L259.4,259.8 L259.6,261.1 L259.7,262.0 L259.8,262.8 L259.9,263.9 L260.1,264.5 L260.2,264.6 L260.3,264.4 L260.4,263.3 L260.5,262.6 L260.5,262.9 L260.6,263.5 L260.6,263.5 L260.7,262.5 L260.7,261.4 L260.7,261.0 L260.8,261.4 L260.8,261.1 L260.9,259.8 L260.9,258.8 L260.9,258.2 L261.0,257.7 L261.0,256.7 L261.1,255.1 L261.1,254.8 L261.1,254.7 L261.2,253.9 L261.2,253.8 L261.3,253.0 L261.3,251.2 L261.3,250.4 L261.4,249.9 L261.4,248.4 L261.5,247.0 L261.5,246.6 L261.6,246.6 L261.6,246.5 L261.7,246.0 L261.7,244.9 L261.8,244.1 L261.8,244.1 L261.9,243.5 L262.0,243.1 L262.0,243.3 L262.1,242.8 L262.7,241.1 L263.5,241.4 L264.2,241.9 L265.0,242.1 L265.6,242.0 L265.8,241.3 L266.1,242.3 L266.2,244.5 L266.4,245.2 L266.6,244.4 L266.7,244.0 L266.8,244.2 L267.0,245.1 L267.1,246.0 L267.3,247.0 L267.4,247.9 L267.4,248.5 L267.5,248.5 L267.6,248.9 L267.6,249.7 L267.7,250.9 L267.8,252.1 L267.8,252.7 L267.9,252.8 L267.9,253.8 L268.0,255.2 L268.1,256.3 L268.1,257.1 L268.2,257.7 L268.3,259.2 L268.3,260.3 L268.4,260.6 L268.5,261.1 L268.6,261.6 L268.6,261.5 L268.7,261.6 L268.8,262.5 L268.9,263.3 L269.0,262.8 L269.2,262.1 L269.5,262.2 L269.8,262.0 L270.1,261.2 L270.4,260.7 L270.7,259.9 L271.0,259.0 L271.3,258.0 L271.6,256.5 L271.9,256.0 L272.3,256.7 L272.6,257.2 L273.0,257.5 L273.3,258.8 L273.7,260.4 L274.1,261.0 L274.4,261.2 L274.8,260.5 L274.9,260.0 L275.1,260.4 L275.2,260.3 L275.4,259.0 L275.5,257.5 L275.7,256.9 L275.8,256.5 L275.9,255.8 L276.1,255.1 L276.2,254.5 L276.4,253.7 L276.5,253.0 L276.7,251.7 L276.8,251.0 L277.0,251.2 L277.1,250.6 L277.3,249.3 L277.4,248.4 L277.6,248.1 L277.7,247.9 L277.9,248.0 L278.0,247.8 L278.3,247.1 L278.6,247.3 L278.9,247.6 L279.1,248.2 L279.4,250.1 L279.7,251.4 L280.0,251.2 L280.3,251.0 L280.5,252.2 L280.8,253.1 L281.1,252.4 L281.6,252.0 L282.0,252.2 L282.5,252.2 L283.0,251.9 L283.5,250.9 L284.0,250.3 L284.1,250.5 L284.3,251.2 L284.4,252.0 L284.5,253.4 L284.7,254.0 L284.8,254.3 L284.9,255.2 L285.1,256.5 L285.2,257.4 L285.4,258.0 L285.5,258.6 L285.7,259.4 L285.8,260.4 L286.0,261.4 L286.1,262.3 L286.3,263.4 L286.4,264.3 L286.6,264.3 L286.7,264.4 L286.9,265.4 L287.0,266.6 L287.2,267.3 L287.4,267.2 L287.5,267.0 L287.7,267.1 L287.8,267.3 L288.0,267.6 L288.1,267.6 L288.2,267.3 L288.3,267.0 L288.4,266.9 L288.5,266.6 L288.6,265.8 L288.8,265.4 L288.9,264.8 L289.0,264.2 L289.1,264.0 L289.2,262.9 L289.3,261.7 L289.4,261.5 L289.6,261.1 L289.7,260.0 L289.8,258.7 L289.9,257.7 L290.0,256.7 L290.1,255.6 L290.3,255.1 L290.4,254.7 L290.5,254.0 L290.6,253.0 L290.7,251.8 L290.8,250.3 L290.9,249.7 L291.1,249.9 L291.2,249.7 L291.3,248.3 L291.4,246.4 L291.5,245.5 L291.6,245.6 L291.7,245.5 L291.8,244.7 L291.9,244.2 L292.0,244.0 L292.1,243.6 L292.2,243.0 L292.3,243.0 L292.4,242.9 L292.5,242.5 L292.6,242.4 L292.7,242.9 L292.8,243.8 L292.9,243.8 L293.0,242.9 L293.1,243.1 L293.2,243.5 L293.3,243.6 L293.4,244.1 L293.4,244.7 L293.5,245.2 L293.6,246.3 L293.7,247.4 L293.8,247.8 L293.8,248.6 L293.9,249.6 L294.0,250.1 L294.1,250.6 L294.2,251.5 L294.2,253.2 L294.3,254.6 L294.4,255.1 L294.5,256.1 L294.5,256.7 L294.6,257.5 L294.7,259.1 L294.7,260.2 L294.8,260.8 L294.9,261.4 L294.9,262.0 L295.0,262.4 L295.1,263.2 L295.2,263.9 L295.2,263.8 L295.3,264.1 L295.4,265.0 L295.4,264.6 L295.5,264.3 L295.6,265.0 L295.7,265.4 L295.7,264.6 L295.8,263.6 L295.9,263.5 L296.0,263.5 L296.0,262.8 L296.1,261.3 L296.2,260.6 L296.2,260.6 L296.3,260.3 L296.4,259.8 L296.4,258.9 L296.5,257.1 L296.6,255.8 L296.6,255.8 L296.7,255.6 L296.8,254.7 L296.8,253.2 L296.9,251.6 L297.0,251.4 L297.0,251.6 L297.1,250.7 L297.2,249.6 L297.2,249.0 L297.3,248.2 L297.4,248.0 L297.4,247.6 L297.5,246.0 L297.6,245.3 L297.7,245.9 L297.7,245.2 L297.8,244.2 L298.0,243.9 L298.2,244.1 L298.4,244.5 L298.7,244.7 L298.9,245.5 L299.1,247.4 L299.3,248.7 L299.5,249.8 L299.7,250.8 L299.9,251.3 L300.1,251.6 L300.3,251.9 L300.4,252.0 L300.5,251.5 L300.5,250.9 L300.6,250.8 L300.6,251.1 L300.7,250.4 L300.8,249.2 L300.8,248.7 L300.9,248.2 L300.9,247.3 L301.0,246.5 L301.0,245.6 L301.1,244.8 L301.1,244.3 L301.2,243.7 L301.2,243.0 L301.3,242.2 L301.3,241.1 L301.4,239.7 L301.4,238.8 L301.5,238.6 L301.6,238.3 L301.6,237.9 L301.7,237.0 L301.9,235.6 L302.1,234.6 L302.3,234.0 L302.5,233.7 L302.7,233.3 L302.9,232.8 L303.2,232.1 L303.4,230.7 L303.6,230.2 L303.8,231.1 L304.0,231.8 L304.1,231.9 L304.2,231.1 L304.3,231.2 L304.4,232.7 L304.5,233.2 L304.6,233.8 L304.6,235.0 L304.7,235.1 L304.8,235.2 L304.9,236.1 L305.0,236.7 L305.0,237.4 L305.1,238.6 L305.2,239.4 L305.3,240.0 L305.4,240.4 L305.4,241.0 L305.5,242.5 L305.6,243.8 L305.7,244.1 L305.9,245.1 L306.0,245.9 L306.2,245.7 L306.4,245.5 L306.5,246.0 L306.7,247.0 L306.8,248.1 L307.0,248.8 L307.2,249.3 L307.3,249.9 L307.5,250.6 L307.7,250.9 L307.9,251.2 L308.1,251.8 L308.3,252.3 L308.4,253.0 L308.6,253.8 L308.8,254.4 L309.0,254.9 L309.2,255.3 L309.3,255.4 L309.4,256.1 L309.5,257.2 L309.6,257.9 L309.7,258.7 L309.8,259.6 L309.9,260.1 L310.0,260.8 L310.1,261.8 L310.2,262.9 L310.3,263.7 L310.4,263.7 L310.5,263.6 L310.6,264.6 L310.7,265.8 L310.8,266.1 L310.9,266.5 L311.3,267.5 L311.8,267.3 L312.3,267.8 L312.7,268.6 L313.2,268.3 L313.7,267.5 L314.1,267.5 L314.6,267.5 L315.1,266.7 L315.5,266.8 L315.7,267.7 L315.9,268.5 L316.0,268.4 L316.2,268.7 L316.3,269.7 L316.5,270.4 L316.7,270.9 L316.8,271.7 L317.0,272.3 L317.2,272.7 L317.3,271.8 L317.4,270.3 L317.5,270.4 L317.6,270.6 L317.7,269.9 L317.8,268.9 L317.9,268.2 L318.0,267.7 L318.1,267.2 L318.2,266.1 L318.3,265.2 L318.4,264.7 L318.5,263.6 L318.6,262.7 L318.7,261.8 L318.8,261.0 L318.9,260.3 L319.0,259.5 L319.1,259.5 L319.2,259.5 L319.3,259.2 L319.4,259.5 L319.5,259.7 L319.6,259.3 L319.8,259.0 L319.9,259.5 L320.1,260.4 L320.2,261.1 L320.4,261.6 L320.5,262.2 L320.7,263.1 L320.8,264.1 L320.9,264.4 L321.1,264.4 L321.2,265.1 L321.4,266.7 L321.5,267.8 L321.7,267.5 L321.8,267.5 L322.2,268.1 L322.6,267.8 L322.9,267.3 L323.3,266.5 L323.7,264.9 L324.1,264.2 L324.3,265.0 L324.6,265.6 L324.8,266.3 L325.1,267.8 L325.3,269.5 L325.5,270.2 L325.8,270.1 L326.1,270.1 L326.4,269.9 L326.5,269.0 L326.7,268.2 L326.8,268.4 L327.0,268.4 L327.2,267.4 L327.3,266.8 L327.5,267.0 L327.7,266.7 L327.8,265.3 L328.0,263.7 L328.2,263.1 L328.4,262.9 L328.6,261.8 L328.7,260.3 L328.9,259.2 L329.1,258.4 L329.3,258.0 L329.4,258.1 L329.6,257.7 L329.7,257.3 L329.9,257.5 L330.0,258.1 L330.2,258.3 L330.3,258.2 L330.4,257.9 L330.5,258.2 L330.7,259.6 L330.8,261.0 L330.9,261.6 L331.0,262.1 L331.1,262.7 L331.2,263.8 L331.4,264.8 L331.5,265.1 L331.6,266.0 L331.7,267.2 L331.8,267.5 L331.9,267.9 L332.1,269.0 L332.2,270.3 L332.3,271.2 L332.4,270.5 L332.5,270.4 L332.7,271.5 L332.8,272.1 L333.0,272.0 L333.2,271.6 L333.3,270.7 L333.5,269.9 L333.7,269.7 L333.9,269.2 L334.1,268.2 L334.3,267.3 L334.5,267.0 L334.7,265.7 L334.9,264.1 L335.1,263.9 L335.3,263.7 L335.5,262.7 L335.7,262.3 L335.8,262.5 L336.0,262.0 L336.2,261.1 L336.4,260.6 L336.6,261.5 L336.9,262.6 L337.1,263.2 L337.3,264.0 L337.5,264.5 L337.7,265.4 L337.9,266.3 L338.2,266.9 L338.4,267.6 L338.5,268.7 L338.7,269.5 L338.9,269.6 L339.1,269.5 L339.2,269.0 L339.4,268.5 L339.5,268.3 L339.6,267.7 L339.8,266.6 L339.9,266.4 L340.0,266.4 L340.1,265.1 L340.2,263.8 L340.3,262.9 L340.5,261.6 L340.6,261.2 L340.7,261.4 L340.8,260.9 L341.0,260.0 L341.1,258.9 L341.3,258.8 L341.5,259.8 L341.8,261.0 L342.0,261.7 L342.3,261.5 L342.5,261.7 L342.8,262.3 L343.0,263.0 L343.3,264.2 L343.5,265.3 L343.7,266.3 L344.1,268.1 L344.4,268.9 L344.7,268.5 L345.0,268.7 L345.4,269.6 L345.8,269.2 L346.2,267.8 L346.6,266.9 L347.0,266.2 L347.5,265.5 L347.9,264.9 L348.3,264.8 L348.9,264.9 L349.5,264.1 L350.0,262.9 L350.6,262.8 L351.1,263.9 L351.5,265.1 L351.9,265.7 L352.4,266.6 L352.9,266.7 L353.2,265.7 L353.4,265.0 L353.7,264.5 L354.0,263.2 L354.3,261.6 L354.6,260.3 L354.9,259.7 L355.2,259.4 L355.4,259.1 L355.7,259.4 L355.8,259.5 L355.9,259.9 L356.0,260.7 L356.0,261.7 L356.1,262.8 L356.2,263.9 L356.3,264.5 L356.3,264.4 L356.4,264.9 L356.5,265.9 L356.6,266.4 L356.7,267.1 L356.7,267.9 L356.8,268.9 L356.9,269.8 L357.0,270.5 L357.0,271.5 L357.1,272.9 L357.2,274.3 L357.3,275.2 L357.3,275.7 L357.4,276.3 L357.5,277.4 L357.5,277.5 L357.6,277.1 L357.7,277.8 L357.8,278.2 L357.8,278.2 L357.9,278.4 L358.0,278.3 L358.1,278.1 L358.2,278.1 L358.2,277.6 L358.3,277.0 L358.4,276.6 L358.5,276.1 L358.6,276.2 L358.6,275.6 L358.7,274.9 L358.8,274.6 L358.9,273.7 L359.0,272.4 L359.0,271.7 L359.1,271.3 L359.2,270.2 L359.3,268.6 L359.3,267.4 L359.4,266.2 L359.5,265.3 L359.6,264.9 L359.7,264.0 L359.7,262.9 L359.8,262.3 L359.9,261.8 L360.0,261.2 L360.1,260.9 L360.1,260.9 L360.2,261.3 L360.3,261.4 L360.4,261.1 L360.5,261.2 L360.6,261.8 L360.7,262.3 L360.8,262.6 L360.9,263.0 L361.0,263.6 L361.1,264.3 L361.2,265.0 L361.3,265.5 L361.4,266.3 L361.5,267.4 L361.6,268.3 L361.7,268.9 L361.8,269.5 L361.9,270.7 L362.0,272.0 L362.1,272.7 L362.2,273.1 L362.2,273.8 L362.3,274.7 L362.4,275.0 L362.5,275.2 L362.6,275.6 L362.8,275.5 L362.9,274.1 L363.1,273.0 L363.2,272.4 L363.4,271.3 L363.5,270.6 L363.7,270.1 L363.8,269.6 L364.0,268.8 L364.1,267.9 L364.3,268.0 L364.4,268.8 L364.5,268.7 L364.6,268.1 L364.7,269.0 L364.8,270.4 L365.0,271.1 L365.1,272.2 L365.2,273.5 L365.3,273.8 L365.4,273.8 L365.5,274.3 L365.6,275.5 L365.8,276.8 L365.9,276.9 L366.1,276.2 L366.2,276.1 L366.2,275.7 L366.3,274.7 L366.4,273.8 L366.5,273.1 L366.6,272.8 L366.6,273.1 L366.7,273.4 L366.8,272.9 L366.9,271.7 L367.0,270.7 L367.1,269.2 L367.2,268.0 L367.3,268.2 L367.4,267.9 L367.5,266.9 L367.6,266.7 L367.7,266.3 L367.8,264.6 L367.9,262.9 L368.0,262.5 L368.1,262.1 L368.2,260.9 L368.3,260.2 L368.4,260.5 L368.5,260.5 L368.5,259.3 L368.6,258.0 L368.7,256.7 L368.8,255.8 L368.9,255.5 L369.0,255.5 L369.1,255.4 L369.1,255.1 L369.2,254.0 L369.3,253.6 L369.5,253.9 L369.6,254.2 L369.8,254.1 L369.9,253.9 L370.1,254.7 L370.2,255.9 L370.3,256.4 L370.5,257.1 L370.6,258.4 L370.7,259.5 L370.8,260.6 L370.9,261.5 L371.1,261.8 L371.2,262.6 L371.3,263.7 L371.4,264.3 L371.4,264.7 L371.5,265.4 L371.6,266.7 L371.7,268.0 L371.7,268.8 L371.8,269.3 L371.8,269.2 L371.9,269.5 L372.0,270.3 L372.0,270.5 L372.1,271.8 L372.2,273.8 L372.2,274.6 L372.3,274.9 L372.4,275.7 L372.4,276.3 L372.5,276.4 L372.6,276.6 L372.7,277.3 L372.7,277.8 L372.8,278.1 L372.9,278.4 L373.0,278.8 L373.1,277.9 L373.2,276.7 L373.3,276.6 L373.4,276.9 L373.6,276.4 L373.7,275.6 L373.8,275.5 L373.9,275.2 L374.1,273.9 L374.2,272.9 L374.3,272.2 L374.5,270.7 L374.6,269.3 L374.8,269.0 L374.9,268.3 L375.0,267.5 L375.2,266.5 L375.3,265.1 L375.5,265.3 L375.6,265.8 L375.8,265.9 L375.9,265.8 L376.0,266.0 L376.2,265.8 L376.3,265.2 L376.4,265.5 L376.5,266.1 L376.7,266.7 L376.8,267.0 L376.9,267.5 L377.1,268.8 L377.2,270.0 L377.4,271.5 L377.5,272.6 L377.6,272.9 L377.8,273.6 L377.9,275.2 L378.0,275.6 L378.2,275.5 L378.3,276.0 L378.5,276.5 L378.6,277.2 L378.7,278.1 L378.9,278.8 L379.0,279.3 L379.2,279.7 L379.3,280.4 L379.5,280.8 L379.6,280.2 L379.8,279.5 L380.0,279.6 L380.2,278.9 L380.3,277.4 L380.5,276.8 L380.7,276.7 L380.9,276.4 L381.0,275.3 L381.2,274.0 L381.4,273.9 L381.6,273.6 L381.7,271.7 L381.9,270.5 L382.1,270.5 L382.3,270.1 L382.4,269.2 L382.6,268.7 L382.8,268.0 L383.0,267.1 L383.3,266.6 L383.5,266.1 L383.8,265.7 L384.1,264.9 L384.3,263.7 L384.6,262.8 L384.8,262.1 L385.1,261.7 L385.3,261.6 L385.6,261.2 L385.8,260.5 L386.0,260.3 L386.2,260.0 L386.4,259.6 L386.7,259.5 L386.9,260.0 L387.2,260.6 L387.4,261.3 L387.6,262.3 L387.8,263.6 L388.0,264.7 L388.2,265.0 L388.4,265.3 L388.8,265.4 L389.3,264.7 L389.7,264.0 L390.2,263.3 L390.7,263.1 L390.8,263.3 L390.9,264.2 L391.0,264.5 L391.1,264.6 L391.2,265.3 L391.3,266.4 L391.4,266.5 L391.5,266.2 L391.6,266.9 L391.7,268.0 L391.8,269.2 L391.9,270.9 L392.0,272.0 L392.1,272.6 L392.2,273.4 L392.3,274.2 L392.4,275.2 L392.5,276.0 L392.6,276.4 L392.7,276.9 L392.8,277.5 L392.9,278.3 L393.0,278.8 L393.1,279.0 L393.2,279.1 L393.3,279.3 L393.4,280.0 L393.5,280.7 L393.6,281.0 L393.7,280.6 L393.8,280.4 L393.9,280.6 L394.0,280.6 L394.2,279.3 L394.3,277.5 L394.4,276.6 L394.5,276.4 L394.6,275.8 L394.7,274.5 L394.8,273.3 L394.9,272.8 L395.0,272.5 L395.1,271.8 L395.2,270.4 L395.3,269.6 L395.5,269.8 L395.6,269.5 L395.7,268.0 L395.8,266.5 L395.9,265.9 L396.0,265.4 L396.1,264.2 L396.3,263.9 L396.4,264.4 L396.5,264.0 L396.6,264.4 L396.7,265.5 L396.9,265.7 L397.0,265.9 L397.1,265.8 L397.3,266.0 L397.4,267.0 L397.5,268.0 L397.7,268.4 L397.8,268.8 L398.0,269.9 L398.1,271.2 L398.2,272.1 L398.4,272.5 L398.5,273.2 L398.6,274.7 L398.8,275.9 L398.9,276.5 L399.1,277.1 L399.2,277.4 L399.3,277.3 L399.4,277.1 L399.6,277.8 L399.7,278.5 L399.8,278.6 L399.9,279.5 L400.3,280.7 L400.7,280.5 L401.1,279.7 L401.4,278.2 L401.8,277.0 L402.2,276.5 L402.5,277.6 L402.9,279.0 L403.3,279.0 L403.7,279.0 L404.1,280.1 L404.4,281.6 L404.8,282.2 L405.1,281.5 L405.2,280.5 L405.3,279.7 L405.4,279.2 L405.4,278.5 L405.5,278.2 L405.6,278.8 L405.7,278.8 L405.7,278.2 L405.8,277.1 L405.9,275.0 L405.9,273.5 L406.0,273.3 L406.0,272.5 L406.1,271.6 L406.2,271.1 L406.2,270.5 L406.3,270.1 L406.4,269.2 L406.4,268.1 L406.5,267.5 L406.6,267.2 L406.6,266.9 L406.7,266.3 L406.8,265.9 L407.1,265.9 L407.3,266.4 L407.6,267.2 L407.9,268.9 L408.2,270.6 L408.5,271.0 L408.8,270.8 L409.1,270.1 L409.2,269.7 L409.3,269.8 L409.5,269.6 L409.6,269.1 L409.7,268.9 L409.8,268.4 L409.9,267.5 L410.1,266.7 L410.2,266.3 L410.3,265.2 L410.4,263.8 L410.6,263.2 L410.7,262.7 L410.8,261.9 L410.9,261.4 L411.0,260.2 L411.2,259.2 L411.3,259.4 L411.4,259.3 L411.7,259.2 L412.0,260.0 L412.3,261.2 L412.6,262.2 L412.9,263.0 L413.2,263.5 L413.4,263.8 L413.7,263.7 L413.8,264.1 L413.9,264.3 L414.0,263.3 L414.1,262.6 L414.2,262.2 L414.2,261.5 L414.3,260.6 L414.4,259.5 L414.5,259.1 L414.6,259.2 L414.7,258.7 L414.7,257.4 L414.8,256.7 L414.9,256.8 L415.0,256.2 L415.1,254.8 L415.2,253.9 L415.2,253.4 L415.3,252.4 L415.4,251.1 L415.5,250.9 L415.6,251.0 L415.7,250.2 L415.8,248.8 L415.9,247.7 L416.0,247.3 L416.0,247.3 L416.1,246.9 L416.2,246.2 L416.3,245.4 L416.4,244.1 L416.5,242.7 L416.6,242.4 L416.7,242.4 L416.8,241.4 L416.9,240.0 L417.0,239.4 L417.1,239.2 L417.1,239.1 L417.2,239.0 L417.3,239.0 L417.4,239.2 L417.5,239.6 L417.6,239.3 L417.7,239.3 L417.7,240.2 L417.8,240.2 L417.9,240.3 L418.0,241.7 L418.0,242.7 L418.1,243.2 L418.2,243.8 L418.3,244.0 L418.3,244.3 L418.4,245.1 L418.5,246.6 L418.6,247.8 L418.7,248.7 L418.7,249.3 L418.8,250.1 L418.9,251.1 L419.0,251.7 L419.0,252.2 L419.1,252.5 L419.1,252.4 L419.2,252.7 L419.2,253.8 L419.3,254.4 L419.4,254.2 L419.4,254.9 L419.5,256.4 L419.5,257.3 L419.6,258.0 L419.7,258.8 L419.7,259.5 L419.8,260.6 L419.9,261.2 L419.9,261.5 L420.0,262.2 L420.0,262.3 L420.1,262.5 L420.2,263.5 L420.2,264.5 L420.3,264.9 L420.4,265.1 L420.4,265.7 L420.5,266.6 L420.5,267.4 L420.6,267.6 L420.8,268.0 L420.9,268.7 L421.1,270.2 L421.3,271.0 L421.5,270.4 L421.6,270.9 L421.8,272.4 L422.0,272.9 L422.2,272.8 L422.4,273.1 L422.6,273.4 L422.7,274.0 L422.9,275.1 L423.0,276.5 L423.2,277.0 L423.4,277.3 L423.6,278.2 L423.7,279.5 L423.9,280.3 L424.1,280.1 L424.3,279.9 L424.5,281.2 L424.7,283.1 L424.8,282.7 L425.0,281.3 L425.1,280.3 L425.3,279.1 L425.5,279.1 L425.6,279.3 L425.8,277.6 L426.0,275.7 L426.1,274.9 L426.3,274.3 L426.5,273.6 L426.7,272.8 L426.8,271.6 L427.0,270.7 L427.2,270.5 L427.3,270.0 L427.5,269.4 L427.6,269.7 L427.8,270.3 L427.9,270.8 L428.0,270.6 L428.2,270.1 L428.3,270.8 L428.4,272.3 L428.5,273.1 L428.6,273.4 L428.7,273.6 L428.8,274.0 L428.9,275.2 L429.1,276.0 L429.2,276.8 L429.3,278.1 L429.4,278.4 L429.5,278.7 L429.6,279.8 L429.7,281.0 L429.8,281.9 L429.9,282.5 L430.0,282.6 L430.2,282.5 L430.3,282.5 L430.4,283.1 L430.9,283.9 L431.3,283.6 L431.8,283.6 L432.3,283.8 L432.8,283.2 L433.3,282.2 L433.7,280.4 L434.0,278.9 L434.4,278.5 L434.7,277.9 L435.1,277.3 L435.4,277.1 L435.8,276.7 L436.1,276.7 L436.2,276.3 L436.4,276.5 L436.5,277.5 L436.6,278.1 L436.8,278.5 L436.9,279.3 L437.0,280.2 L437.1,281.4 L437.2,282.9 L437.4,283.7 L437.5,283.8 L437.6,284.7 L437.7,286.3 L437.9,286.4 L438.0,285.8 L438.1,285.5 L438.3,285.5 L438.4,285.9 L438.7,285.9 L439.0,286.3 L439.3,286.9 L439.6,286.0 L439.9,285.3 L440.2,285.0 L440.5,284.2 L440.8,283.6 L441.0,282.5 L441.3,281.4 L441.5,280.5 L441.7,279.6 L441.9,279.4 L442.1,279.0 L442.3,277.5 L442.5,275.7 L442.6,275.1 L442.8,275.3 L443.0,274.6 L443.2,274.3 L443.4,275.1 L443.5,275.8 L443.6,275.9 L443.7,275.4 L443.8,275.6 L443.9,277.0 L444.0,277.9 L444.1,278.3 L444.1,279.0 L444.2,280.1 L444.3,281.1 L444.4,282.2 L444.5,283.2 L444.6,283.5 L444.7,283.9 L444.8,284.4 L444.9,284.8 L445.0,286.2 L445.2,287.7 L445.3,288.2 L445.4,287.9 L445.5,288.1 L445.6,289.0 L445.8,289.4 L445.9,289.8 L446.1,290.1 L446.2,289.7 L446.4,289.4 L446.6,289.1 L446.8,288.2 L447.0,287.1 L447.2,286.4 L447.4,285.9 L447.7,285.0 L447.9,284.1 L448.1,283.6 L448.3,282.7 L448.5,281.2 L448.7,280.7 L448.9,280.1 L449.1,278.8 L449.3,278.0 L449.5,277.7 L449.7,278.2 L449.9,278.5 L450.2,278.5 L450.6,278.4 L450.9,277.6 L451.2,277.8 L451.5,279.3 L451.8,280.8 L452.1,281.5 L452.3,281.8 L452.6,282.9 L452.8,283.6 L453.0,283.8 L453.2,285.0 L453.4,286.4 L453.5,287.3 L453.6,287.7 L453.8,287.3 L453.9,286.9 L454.1,287.4 L454.3,288.3 L454.5,289.2 L454.8,289.6 L455.2,289.2 L455.6,288.8 L456.1,287.9 L456.5,286.5 L456.9,286.1 L457.4,286.5 L458.1,286.9 L458.8,287.0 L459.6,286.2 L460.3,285.4 L460.9,285.7 L461.2,286.2 L461.5,287.1 L461.7,288.0 L461.9,289.0 L462.1,289.9 L462.3,290.1 L462.6,289.8 L462.7,289.8 L462.8,289.4 L462.8,288.4 L462.9,287.2 L463.0,286.7 L463.1,287.0 L463.2,286.5 L463.3,284.8 L463.4,283.8 L463.4,283.8 L463.5,283.5 L463.6,282.6 L463.7,281.9 L463.8,281.3 L463.9,280.2 L464.0,279.3 L464.1,278.5 L464.2,277.3 L464.3,276.7 L464.4,276.4 L464.5,275.9 L464.6,275.5 L464.7,274.7 L464.8,274.6 L464.9,275.5 L465.0,275.4 L465.1,274.8 L465.2,274.8 L465.3,275.6 L465.5,276.1 L465.6,276.7 L465.7,278.3 L465.8,278.9 L465.9,279.0 L466.0,280.1 L466.1,281.2 L466.3,282.4 L466.4,283.7 L466.5,284.6 L466.6,285.6 L466.8,286.3 L466.9,286.5 L467.0,286.8 L467.1,287.4 L467.3,288.5 L467.4,289.7 L467.5,290.0 L467.7,290.1 L467.8,289.8 L467.9,289.6 L468.1,289.5 L468.2,289.0 L468.4,288.9 L468.6,288.7 L468.7,287.7 L468.9,286.6 L469.0,285.9 L469.2,285.5 L469.4,285.1 L469.5,284.0 L469.7,282.5 L469.9,281.3 L470.0,280.4 L470.2,280.1 L470.4,279.6 L470.5,278.6 L470.7,277.8 L470.8,277.4 L471.0,277.1 L471.1,276.5 L471.3,275.7 L471.4,275.3 L471.6,275.4 L471.7,275.8 L471.8,277.1 L472.0,278.2 L472.1,278.0 L472.2,277.6 L472.4,278.4 L472.5,279.7 L472.6,281.2 L472.7,282.7 L472.9,283.9 L473.0,284.3 L473.1,285.0 L473.2,285.9 L473.4,286.1 L473.5,287.0 L473.6,288.1 L473.7,288.4 L473.9,288.2 L474.0,287.6 L474.1,287.2 L474.3,287.8 L474.4,288.0 L474.6,287.0 L474.8,285.8 L474.9,285.6 L475.1,285.6 L475.2,284.3 L475.4,283.0 L475.5,282.6 L475.7,281.9 L475.9,280.5 L476.0,279.6 L476.2,279.2 L476.3,278.5 L476.5,278.6 L476.6,278.5 L476.8,277.0 L476.9,275.5 L477.3,274.7 L477.7,274.8 L478.1,275.1 L478.5,274.9 L478.9,274.2 L479.2,273.5 L479.5,273.5 L479.8,274.3 L480.1,275.2 L480.4,276.0 L480.6,276.7 L480.9,277.0 L481.0,276.8 L481.1,276.3 L481.1,276.4 L481.2,276.1 L481.3,275.0 L481.3,274.0 L481.4,273.3 L481.5,272.7 L481.6,271.3 L481.6,270.1 L481.7,269.5 L481.8,269.1 L481.8,268.8 L481.9,268.1 L482.0,267.2 L482.1,266.5 L482.1,266.1 L482.2,266.0 L482.3,265.8 L482.4,265.1 L482.6,264.1 L482.8,264.6 L483.0,265.5 L483.3,265.3 L483.5,265.4 L483.8,266.6 L484.0,268.2 L484.2,269.8 L484.4,271.1 L484.5,271.3 L484.6,271.5 L484.7,271.9 L484.7,272.8 L484.8,273.6 L484.9,274.2 L485.0,275.1 L485.0,275.9 L485.1,276.4 L485.2,276.9 L485.3,277.2 L485.3,277.6 L485.4,278.4 L485.5,278.9 L485.6,279.5 L485.6,280.8 L485.7,282.0 L485.8,282.7 L485.8,282.9 L485.9,283.0 L486.0,283.1 L486.1,282.3 L486.2,281.6 L486.3,280.7 L486.4,279.1 L486.5,278.4 L486.6,278.2 L486.7,277.5 L486.8,275.9 L486.9,274.4 L487.1,273.6 L487.2,273.7 L487.3,273.8 L487.4,274.4 L487.5,275.6 L487.6,275.9 L487.7,276.5 L487.8,278.0 L487.9,278.9 L488.0,279.1 L488.1,279.6 L488.3,280.5 L488.4,281.5 L488.5,282.7 L488.6,283.8 L488.7,284.4 L488.9,284.9 L489.0,285.6 L489.1,286.2 L489.2,286.3 L489.3,286.5 L489.4,286.6 L489.4,285.7 L489.5,284.8 L489.6,284.9 L489.6,284.8 L489.7,284.1 L489.8,283.3 L489.8,282.3 L489.9,281.2 L490.0,280.6 L490.1,280.2 L490.1,279.4 L490.2,278.8 L490.3,278.9 L490.3,278.2 L490.4,276.4 L490.5,274.9 L490.5,274.9 L490.6,274.7 L490.7,273.5 L490.7,272.2 L490.8,271.3 L490.9,271.6 L490.9,271.9 L491.0,270.7 L491.0,269.0 L491.1,268.2 L491.1,267.8 L491.2,267.0 L491.2,266.7 L491.3,266.7 L491.6,266.4 L491.8,267.5 L492.0,268.7 L492.2,268.9 L492.4,268.7 L492.5,268.6 L492.5,267.7 L492.6,268.0 L492.7,268.7 L492.7,268.1 L492.8,267.3 L492.9,266.3 L492.9,265.6 L493.0,265.4 L493.1,264.5 L493.1,263.0 L493.2,261.7 L493.3,260.9 L493.3,259.7 L493.4,259.2 L493.5,259.3 L493.6,258.9 L493.7,258.9 L493.7,258.5 L493.8,257.3 L493.9,256.8 L494.2,256.9 L494.5,257.4 L494.8,258.0 L495.1,258.8 L495.4,259.8 L495.7,260.8 L495.9,261.9 L496.0,262.6 L496.1,263.3 L496.1,263.8 L496.2,263.6 L496.3,263.6 L496.3,264.7 L496.4,264.9 L496.4,264.5 L496.5,265.0 L496.6,266.0 L496.6,267.0 L496.7,267.7 L496.7,268.5 L496.8,269.2 L496.8,269.0 L496.9,269.6 L496.9,270.8 L497.0,271.8 L497.0,272.5 L497.1,272.7 L497.1,273.3 L497.1,275.0 L497.2,276.0 L497.2,276.0 L497.2,275.9 L497.3,276.3 L497.3,277.3 L497.3,278.0 L497.4,278.6 L497.4,279.9 L497.4,281.3 L497.5,281.4 L497.5,281.7 L497.5,283.7 L497.6,284.7 L497.6,284.8 L497.7,285.6 L497.7,286.2 L497.7,287.1 L497.8,287.8 L497.8,288.1 L497.8,289.1 L497.9,289.9 L497.9,290.2 L497.9,290.5 L498.0,291.4 L498.0,292.2 L498.0,293.0 L498.1,293.5 L498.1,293.2 L498.1,293.3 L498.2,294.1 L498.2,294.1 L498.2,293.4 L498.3,293.1 L498.3,293.3 L498.4,293.0 L498.4,291.9 L498.5,291.5 L498.5,290.8 L498.6,290.2 L498.6,290.3 L498.6,289.7 L498.7,288.7 L498.7,288.2 L498.8,287.7 L498.8,286.2 L498.9,284.6 L498.9,283.8 L498.9,283.5 L499.0,283.1 L499.0,281.5 L499.1,279.8 L499.1,279.5 L499.2,279.9 L499.2,279.2 L499.3,277.6 L499.3,277.2 L499.4,276.5 L499.6,275.3 L499.7,274.7 L499.8,274.7 L500.0,274.0 L500.1,273.1 L500.3,272.6 L500.5,272.2 L500.8,272.3 L501.2,272.1 L501.6,272.3 L502.0,273.7 L502.4,274.7 L502.8,275.6 L502.9,276.5 L503.0,278.1 L503.1,278.4 L503.2,278.4 L503.3,279.5 L503.4,280.4 L503.5,280.3 L503.7,280.0 L503.8,280.7 L503.9,281.6 L504.0,282.5 L504.1,283.5 L504.2,283.9 L504.3,284.1 L504.4,284.7 L504.5,285.8 L504.6,287.1 L504.7,287.9 L504.9,288.4 L505.0,288.9 L505.1,288.7 L505.4,288.3 L505.6,287.6 L505.9,286.7 L506.2,286.2 L506.5,285.7 L506.8,285.0 L507.1,284.4 L507.4,284.0 L507.7,283.9 L507.9,283.4 L508.5,282.8 L509.0,283.3 L509.7,283.7 L510.0,283.6 L510.3,283.0 L510.6,282.1 L511.0,281.0 L511.4,279.9 L511.7,279.2 L512.1,279.1 L512.5,278.7 L512.8,277.8 L513.1,277.0 L513.3,276.9 L513.4,278.4 L513.5,279.6 L513.7,279.9 L513.8,280.3 L513.9,281.1 L514.0,281.9 L514.1,282.8 L514.2,283.8 L514.4,284.2 L514.5,285.2 L514.6,286.8 L514.7,287.3 L514.8,287.5 L515.0,288.1 L515.1,288.5 L515.2,288.4 L515.4,289.0 L516.0,290.8 L516.7,291.4 L517.5,291.2 L518.2,290.7 L518.9,289.8 L519.0,289.7 L519.2,289.0 L519.3,288.0 L519.4,287.4 L519.5,287.3 L519.7,286.9 L519.8,285.6 L519.9,285.0 L520.1,284.8 L520.2,284.2 L520.3,283.0 L520.4,281.5 L520.6,280.3 L520.7,279.8 L520.8,279.2 L520.9,278.3 L521.1,278.0 L521.2,277.7 L521.3,277.2 L521.4,276.9 L521.5,275.7 L521.6,274.4 L521.8,274.8 L521.9,275.0 L522.0,274.4 L522.1,274.4 L522.3,274.6 L522.5,274.3 L522.6,274.3 L522.8,274.9 L523.0,275.3 L523.1,276.3 L523.3,277.6 L523.4,278.4 L523.6,279.5 L523.8,280.7 L523.9,281.4 L524.1,282.1 L524.3,282.5 L524.4,282.3 L524.6,282.5 L524.9,283.1 L525.3,284.0 L525.7,285.3 L526.1,286.2 L526.4,286.8 L526.8,286.2 L527.2,285.3 L527.5,286.2 L527.8,287.3 L528.0,288.4 L528.3,289.7 L528.5,290.3 L528.7,291.0 L529.0,291.6 L529.2,291.8 L529.4,292.6 L529.6,293.5 L529.8,293.1 L530.0,292.3 L530.2,291.9 L530.3,291.4 L530.5,291.0 L530.6,289.8 L530.8,288.8 L530.9,288.2 L531.1,287.8 L531.3,287.8 L531.5,287.5 L531.9,287.3 L532.3,287.9 L532.7,288.8 L533.2,290.2 L533.6,291.3 L534.0,290.9 L534.4,290.4 L534.5,291.0 L534.6,290.6 L534.7,289.4 L534.8,288.9 L534.9,288.7 L535.0,287.8 L535.1,286.7 L535.2,285.6 L535.3,284.9 L535.4,284.0 L535.5,282.6 L535.5,281.3 L535.6,280.6 L535.7,280.3 L535.8,280.1 L535.9,279.9 L536.0,279.6 L536.1,279.6 L536.3,279.9 L536.5,279.8 L536.8,279.7 L537.0,280.2 L537.3,281.0 L537.6,282.1 L537.8,283.5 L538.0,284.8 L538.2,285.5 L538.4,285.6 L538.5,286.0 L538.7,286.7 L538.7,286.9 L538.8,287.6 L538.9,289.5 L538.9,290.0 L539.0,289.8 L539.1,290.7 L539.2,290.9 L539.3,290.9 L539.4,291.4 L539.5,291.0 L539.6,290.0 L539.7,289.4 L539.9,289.1 L540.0,288.0 L540.1,287.1 L540.3,286.7 L540.4,285.6 L540.6,284.7 L540.7,284.0 L540.9,282.8 L541.0,282.1 L541.2,282.2 L541.3,282.6 L541.4,283.4 L541.5,283.1 L541.5,282.6 L541.6,283.7 L541.7,284.2 L541.8,284.7 L541.9,285.6 L541.9,286.2 L542.0,287.2 L542.1,288.3 L542.2,288.7 L542.3,289.0 L542.3,289.8 L542.4,290.6 L542.5,291.4 L542.6,292.2 L542.7,293.2 L542.8,294.1 L542.9,294.3 L542.9,295.0 L543.0,296.4 L543.1,297.2 L543.2,297.9 L543.3,298.1 L543.4,298.1 L543.4,299.2 L543.5,300.0 L543.6,299.4 L543.8,299.1 L544.1,299.1 L544.3,299.4 L544.6,299.6 L544.8,298.9 L545.1,297.0 L545.3,296.1 L545.6,295.6 L545.9,294.4 L546.0,293.8 L546.1,293.2 L546.3,292.4 L546.4,291.9 L546.5,291.1 L546.7,289.9 L546.8,289.7 L546.9,289.0 L547.1,288.4 L547.2,288.4 L547.3,287.6 L547.5,286.3 L547.6,284.8 L547.8,283.6 L547.9,283.2 L548.1,282.6 L548.2,281.6 L548.4,280.9 L548.5,280.8 L548.6,280.5 L548.8,279.4 L548.9,278.8 L549.0,279.0 L549.2,278.6 L549.3,278.4 L549.4,278.7 L549.6,278.7 L549.7,278.7 L549.8,279.3 L550.0,280.1 L550.1,280.9 L550.2,281.9 L550.4,283.2 L550.5,283.8 L550.6,283.8 L550.8,284.4 L550.9,285.5 L551.0,286.6 L551.1,287.7 L551.3,288.1 L551.4,288.0 L551.5,288.8 L551.6,290.6 L551.7,292.1 L551.9,292.7 L552.0,292.8 L552.1,292.5 L552.2,291.8 L552.4,291.7 L552.6,292.8 L552.7,293.5 L552.9,292.3 L553.1,290.2 L553.2,288.7 L553.4,287.7 L553.6,287.2 L553.7,286.7 L553.9,285.7 L554.1,285.1 L554.3,285.0 L554.5,285.6 L554.6,286.1 L554.7,286.2 L554.8,286.1 L554.9,286.2 L555.0,287.2 L555.1,288.4 L555.2,288.7 L555.4,288.8 L555.5,289.6 L555.6,290.6 L555.7,291.4 L555.8,292.4 L555.9,293.1 L556.1,293.9 L556.2,295.3 L556.3,296.2 L556.4,296.7 L556.6,297.8 L556.7,298.9 L556.8,299.8 L556.9,300.4 L557.1,300.3 L557.2,300.8 L557.3,301.8 L557.4,301.9 L557.5,301.7 L557.7,302.6 L557.8,302.4 L557.9,301.7 L558.0,301.8 L558.1,302.2 L558.2,302.6 L558.3,301.8 L558.4,300.9 L558.6,300.4 L558.7,299.9 L558.8,299.8 L558.9,299.5 L559.0,298.5 L559.1,297.6 L559.2,297.3 L559.4,296.4 L559.5,295.6 L559.6,295.2 L559.7,293.6 L559.8,291.9 L559.9,291.4 L560.0,290.4 L560.1,289.5 L560.3,289.4 L560.4,289.1 L560.5,288.4 L560.6,287.6 L560.7,287.2 L560.8,286.5 L560.9,285.1 L561.0,284.3 L561.0,284.1 L561.1,283.4 L561.2,282.9 L561.3,282.8 L561.8,281.6 L562.2,282.3 L562.6,284.2 L563.0,285.0 L563.3,284.9 L563.6,285.0 L563.9,284.4 L564.2,282.7 L564.6,281.1 L564.9,281.1 L565.3,282.1 L565.4,282.0 L565.5,282.3 L565.6,283.7 L565.7,284.0 L565.8,283.5 L565.9,283.5 L566.0,283.5 L566.1,284.3 L566.3,285.7 L566.4,287.0 L566.5,288.1 L566.6,288.5 L566.7,289.3 L566.8,290.1 L566.9,290.5 L567.1,291.1 L567.2,292.3 L567.3,293.5 L567.4,293.5 L567.5,294.3 L567.6,295.9 L567.7,296.1 L567.9,296.3 L568.0,296.1 L568.1,295.9 L568.2,296.5 L568.8,297.9 L569.4,298.0 L570.0,297.1 L570.6,296.4 L571.1,295.9 L571.6,296.9 L572.0,298.5 L572.4,298.4 L572.8,297.7 L572.9,297.5 L573.0,297.1 L573.2,297.1 L573.3,296.9 L573.4,295.5 L573.5,293.7 L573.6,292.7 L573.8,292.7 L573.9,292.1 L574.0,291.1 L574.2,291.0 L574.3,290.9 L574.5,290.5 L574.6,290.0 L574.8,288.9 L574.9,287.9 L575.1,287.3 L575.3,287.1 L575.4,286.3 L575.6,285.4 L575.8,284.4 L575.9,283.4 L576.1,283.3 L576.3,282.6 L576.5,281.7 L576.7,281.8 L576.9,281.8 L577.1,280.4 L577.3,278.9 L577.5,278.4 L577.6,277.8 L577.8,277.4 L578.0,277.3 L578.2,276.9 L578.3,276.2 L578.5,276.0 L578.6,276.0 L578.8,276.1 L579.0,276.4 L579.2,275.8 L579.4,275.7 L579.5,277.3 L579.6,278.9 L579.8,279.4 L579.9,280.2 L580.0,281.6 L580.2,282.0 L580.3,282.9 L580.4,283.5 L580.4,283.3 L580.5,284.3 L580.6,285.4 L580.7,285.6 L580.7,286.4 L580.8,288.1 L580.9,289.4 L580.9,289.9 L581.0,290.0 L581.1,290.3 L581.1,290.7 L581.2,291.5 L581.3,293.2 L581.4,294.3 L581.4,294.2 L581.5,293.9 L581.6,294.7 L581.7,295.8 L581.7,296.1 L581.8,296.2 L581.9,297.1 L582.0,297.4 L582.2,296.5 L582.3,295.7 L582.5,294.9 L582.7,294.1 L582.9,293.8 L583.1,293.5 L583.3,292.7 L583.5,291.8 L583.7,291.3 L583.9,290.6 L584.1,289.9 L584.3,289.9 L584.4,290.1 L584.6,290.1 L584.7,290.4 L584.8,291.3 L585.0,292.3 L585.1,293.4 L585.2,294.2 L585.4,294.8 L585.5,295.1 L585.6,295.5 L585.7,296.7 L585.9,297.6 L586.0,298.4 L586.1,299.7 L586.3,300.8 L586.4,300.7 L586.5,300.5 L586.6,301.0 L586.7,301.4 L586.8,300.8 L586.9,300.4 L587.0,300.6 L587.0,299.9 L587.1,298.0 L587.2,296.8 L587.3,296.6 L587.3,295.8 L587.4,294.7 L587.5,294.3 L587.6,293.3 L587.6,292.2 L587.7,291.9 L587.8,291.7 L587.9,291.1 L588.0,290.4 L588.1,290.0 L588.2,289.3 L588.3,288.7 L588.5,288.8 L588.8,288.9 L589.1,289.2 L589.4,290.3 L589.7,291.3 L590.0,292.0 L590.3,292.8 L590.6,293.5 L590.9,293.8 L591.2,293.5 L591.5,293.9 L591.8,295.6 L592.2,297.0 L592.5,297.0 L592.8,297.8 L593.1,298.6 L593.5,298.7 L593.8,299.1 L594.1,299.9 L594.6,300.4 L595.1,299.3 L595.6,297.4 L596.1,296.4 L596.6,296.0 L597.0,296.1 L597.2,296.4 L597.4,297.5 L597.5,299.2 L597.6,300.3 L597.7,301.3 L597.9,302.6 L598.0,303.5 L598.2,303.0 L598.4,302.7 L598.7,303.2 L598.8,302.8 L599.0,301.5 L599.1,301.1 L599.3,300.6 L599.5,300.3 L599.6,300.2 L599.8,299.3 L600.0,298.3 L600.2,297.8 L600.4,297.1 L600.6,295.8 L600.8,295.2 L601.0,294.9 L601.2,293.7 L601.5,292.1 L601.7,291.4 L601.9,291.7 L602.1,291.4 L602.3,290.4 L602.4,289.8 L602.6,289.5 L602.8,288.7 L603.0,287.7 L603.1,287.9 L603.3,288.8 L603.5,288.4 L603.6,287.6 L603.7,288.7 L603.9,290.1 L604.0,290.6 L604.1,291.1 L604.2,291.3 L604.3,291.8 L604.4,292.5 L604.5,293.4 L604.6,294.7 L604.7,295.7 L604.8,296.8 L604.9,297.4 L605.0,297.8 L605.1,298.4 L605.2,298.5 L605.4,299.2 L605.5,300.0 L605.6,300.5 L605.8,301.7 L605.9,302.6 L606.1,302.6 L606.3,301.8 L606.4,301.1 L606.6,301.0 L606.8,300.5 L607.0,299.9 L607.2,299.5 L607.4,298.5 L607.7,297.7 L607.9,297.3 L608.1,296.6 L608.3,295.7 L608.6,294.6 L608.8,294.2 L609.0,293.7 L609.3,292.3 L609.5,291.2 L609.7,290.7 L609.9,290.1 L610.2,289.8 L610.4,289.1 L610.6,288.0 L610.8,288.0 L611.0,288.2 L611.1,288.0 L611.3,287.7 L611.4,288.1 L611.6,288.8 L611.7,288.9 L611.8,289.0 L611.9,288.8 L612.0,288.9 L612.2,289.8 L612.3,290.6 L612.4,291.1 L612.5,291.6 L612.6,292.0 L612.7,292.7 L612.8,293.8 L612.8,294.8 L612.9,295.5 L613.0,295.9 L613.1,297.0 L613.2,298.3 L613.3,299.1 L613.4,299.7 L613.5,300.5 L613.6,300.9 L613.6,301.8 L613.7,303.3 L613.8,304.3 L613.9,304.1 L614.0,304.1 L614.1,304.5 L614.2,304.4 L614.8,305.1 L615.4,305.6 L615.9,305.5 L616.5,304.1 L617.1,302.2 L617.2,302.5 L617.4,302.7 L617.5,302.1 L617.7,301.4 L617.8,300.4 L617.9,299.3 L618.1,298.5 L618.2,298.4 L618.4,298.4 L618.5,297.6 L618.6,295.8 L618.8,294.7 L618.9,294.7 L619.1,294.2 L619.2,293.2 L619.3,292.7 L619.5,292.5 L619.6,292.3 L619.8,291.8 L619.9,291.2 L620.3,291.3 L620.6,292.2 L621.0,292.9 L621.4,293.4 L621.8,293.8 L622.2,294.7 L622.5,295.6 L622.8,295.7 L623.1,296.2 L623.3,296.8 L623.5,297.6 L623.7,298.8 L623.9,298.5 L624.1,298.4 L624.3,299.3 L624.5,300.2 L624.7,300.8 L624.8,300.6 L625.0,299.3 L625.2,297.9 L625.4,296.8 L625.5,296.0 L625.7,295.8 L625.9,294.6 L626.1,293.2 L626.3,293.8 L626.5,294.4 L626.7,294.3 L626.8,294.8 L627.0,295.8 L627.2,296.6 L627.4,297.3 L627.6,298.6 L627.8,298.9 L628.0,298.7 L628.2,299.9 L628.4,301.8 L628.6,302.5 L628.8,301.8 L629.0,300.7 L629.2,299.5 L629.4,298.2 L629.6,297.9 L629.8,297.6 L629.9,296.2 L630.1,296.1 L630.3,296.5 L630.5,295.3 L630.7,293.9 L630.9,294.0 L631.1,294.4 L631.4,294.5 L631.6,295.3 L631.8,296.4 L632.1,296.8 L632.3,297.8 L632.5,299.0 L632.7,299.7 L633.0,300.2 L633.2,300.8 L633.5,301.1 L633.8,301.0 L634.0,300.3 L634.3,299.0 L634.6,297.4 L634.9,296.6 L635.2,296.3 L635.5,295.2 L635.9,294.1 L636.3,293.6 L636.7,292.8 L637.1,291.8 L637.5,291.0 L637.9,291.4 L638.3,292.5 L638.5,292.4 L638.6,292.0 L638.8,292.7 L639.0,293.9 L639.1,294.6 L639.3,294.8 L639.5,295.1 L639.7,296.1 L639.9,297.1 L640.0,298.3 L640.2,299.6 L640.4,299.7 L640.5,299.8 L640.7,300.4 L640.8,300.7 L641.0,301.1 L641.1,301.7 L641.2,302.4 L641.8,302.9 L642.3,300.8 L642.4,300.6 L642.6,299.9 L642.7,299.2 L642.9,299.6 L643.1,299.2 L643.3,297.4 L643.5,297.4 L643.7,298.0 L643.9,297.6 L644.1,297.2 L644.3,296.5 L644.5,295.6 L644.7,295.3 L644.9,294.6 L645.0,293.1 L645.2,292.9 L645.5,294.3 L645.7,294.8 L646.0,294.4 L646.2,294.3 L646.5,295.2 L646.7,296.6 L647.0,297.4 L647.2,297.7 L647.5,298.1 L647.8,298.3 L648.1,297.9 L648.4,296.7 L648.7,295.7 L649.1,295.5 L649.4,294.7 L649.7,293.7 L650.0,293.1 L650.3,293.0 L650.4,293.5 L650.5,294.0 L650.6,294.8 L650.8,295.9 L650.9,296.3 L651.0,296.1 L651.1,296.7 L651.2,297.9 L651.3,298.8 L651.4,299.6 L651.5,300.2 L651.6,300.9 L651.7,302.3 L651.8,303.1 L651.9,303.6 L652.0,304.4 L652.1,304.8 L652.2,304.4 L652.4,304.3 L652.5,305.5 L652.6,306.5 L652.7,306.1 L652.8,305.5 L652.9,305.0 L652.9,304.2 L653.0,304.1 L653.1,304.7 L653.2,303.8 L653.3,302.6 L653.4,302.6 L653.5,301.8 L653.6,300.0 L653.7,298.9 L653.8,297.9 L653.9,297.1 L654.0,296.6 L654.1,295.8 L654.2,294.9 L654.3,294.6 L654.4,294.4 L654.5,292.5 L654.6,290.9 L654.7,290.9 L654.8,290.3 L654.9,289.5 L655.0,289.4 L655.1,289.2 L655.2,289.0 L655.2,288.9 L655.3,288.7 L655.4,287.8 L655.5,286.9 L655.6,287.0 L655.7,287.4 L655.8,287.6 L655.9,288.1 L656.0,289.0 L656.0,289.6 L656.1,289.8 L656.2,290.0 L656.3,290.9 L656.3,292.6 L656.4,294.2 L656.5,294.6 L656.5,294.7 L656.6,295.8 L656.7,297.4 L656.8,298.5 L656.9,299.0 L657.0,299.1 L657.1,299.4 L657.2,300.2 L657.3,301.0 L657.4,301.8 L657.5,303.2 L657.7,303.5 L657.8,302.5 L657.9,301.5 L658.1,301.3 L658.2,302.0 L658.3,302.2 L658.5,301.3 L658.7,300.3 L658.8,299.4 L659.0,298.8 L659.2,298.5 L659.3,298.3 L659.5,297.5 L659.7,295.9 L659.9,295.0 L660.1,294.2 L660.3,292.9 L660.5,292.2 L660.6,291.6 L660.8,290.5 L661.0,289.4 L661.2,288.8 L661.4,288.4 L661.6,287.8 L661.7,287.0 L661.9,285.9 L662.1,285.5 L662.3,285.5 L662.4,285.4 L662.6,285.4 L662.7,285.7 L662.9,286.0 L663.0,285.0 L663.2,284.3 L663.4,285.1 L663.6,285.4 L663.8,284.8 L663.9,285.2 L664.1,285.7 L664.3,285.9 L664.4,286.4 L664.6,286.6 L664.7,287.5 L664.8,289.6 L665.0,291.3 L665.1,291.8 L665.2,291.6 L665.4,291.9 L665.5,292.8 L665.6,293.4 L665.8,293.4 L665.9,294.3 L666.1,296.3 L666.3,296.9 L666.4,297.0 L666.6,298.1 L666.7,299.3 L666.9,299.8 L667.1,300.7 L667.2,301.6 L667.4,302.3 L667.5,302.6 L667.7,302.4 L667.9,302.8 L668.0,303.4 L668.2,303.4 L668.4,302.6 L668.6,301.9 L668.8,301.9 L668.9,301.6 L669.1,301.0 L669.3,300.2 L669.5,299.1 L669.7,297.9 L669.9,296.9 L670.1,296.5 L670.3,296.2 L670.6,295.5 L670.8,295.1 L671.0,295.2 L671.3,295.1 L671.6,295.2 L671.9,295.8 L672.2,296.4 L672.6,296.8 L672.9,296.8 L673.2,298.0 L673.6,300.1 L673.9,300.8 L674.2,300.6 L674.5,301.3 L674.8,302.4 L675.2,302.9 L675.5,303.6 L675.8,304.2 L676.1,305.0 L676.4,306.3 L676.7,306.7 L677.1,306.5 L677.4,306.2 L677.5,306.4 L677.7,305.9 L677.8,304.6 L678.0,304.5 L678.1,304.9 L678.3,303.6 L678.5,302.4 L678.6,302.3 L678.8,301.8 L678.9,300.4 L679.1,299.2 L679.3,298.6 L679.4,298.1 L679.6,297.4 L679.7,296.5 L679.9,295.4 L680.1,294.8 L680.2,294.7 L680.4,294.3 L680.5,293.3 L680.7,293.5 L680.8,294.0 L681.0,293.8 L681.2,294.1 L681.3,294.5 L681.5,294.1 L681.7,294.0 L681.8,294.9 L682.0,296.3 L682.2,297.6 L682.3,298.6 L682.5,298.7 L682.7,298.4 L682.8,299.8 L683.0,301.5 L683.2,301.4 L683.3,301.6 L683.5,302.6 L683.7,303.5 L683.9,302.9 L684.1,301.4 L684.3,300.7 L684.5,300.8 L684.7,300.7 L684.9,299.9 L685.1,299.1 L685.4,299.0 L685.6,298.8 L685.8,298.0 L686.0,297.2 L686.2,295.9 L686.4,294.6 L686.7,294.5 L686.9,294.6 L687.1,293.5 L687.6,292.9 L688.1,293.7 L688.6,294.1 L689.1,294.8 L689.6,295.9 L690.1,295.9 L690.6,295.5 L691.2,295.9 L691.7,296.5 L692.3,296.4 L692.8,295.8 L693.4,295.2 L693.7,294.6 L693.9,294.7 L694.2,296.0 L694.5,297.1 L694.8,297.5 L695.1,298.8 L695.4,300.1 L695.7,300.5 L696.0,300.8 L696.3,301.0 L696.6,301.9 L696.9,302.8 L697.3,302.8 L697.8,302.9 L698.2,304.0 L698.6,305.5 L699.0,306.8 L699.4,307.1 L699.9,306.9 L700.3,305.9 L700.4,305.0 L700.5,304.8 L700.7,305.0 L700.8,304.5 L700.9,303.6 L701.1,302.8 L701.2,302.1 L701.3,301.6 L701.4,301.3 L701.6,300.9 L701.7,300.0 L701.8,298.8 L702.0,297.7 L702.1,296.8 L702.2,296.1 L702.3,295.1 L702.5,293.9 L702.6,293.2 L702.7,292.9 L702.8,291.8 L703.0,290.6 L703.1,290.3 L703.2,290.4 L703.3,290.1 L703.5,289.7 L703.6,289.7 L703.7,289.9 L703.8,289.6 L703.9,289.3 L704.1,289.6 L704.2,289.7 L704.3,290.1 L704.4,291.1 L704.5,291.5 L704.7,291.7 L704.8,292.2 L704.9,292.8 L705.0,293.0 L705.1,293.7 L705.2,295.3 L705.4,296.6 L705.5,297.8 L705.6,299.1 L705.7,300.1 L705.8,300.9 L705.9,301.9 L706.0,303.0 L706.1,303.4 L706.2,303.3 L706.4,303.8 L706.5,304.1 L706.6,304.3 L706.7,304.6 L706.9,304.1 L707.0,303.3 L707.2,303.6 L707.4,303.9 L707.5,302.8 L707.7,301.8 L707.9,301.7 L708.0,301.3 L708.2,300.0 L708.3,299.0 L708.5,298.7 L708.7,297.5 L708.8,296.0 L709.0,295.7 L709.2,295.2 L709.3,293.9 L709.5,293.3 L709.9,293.1 L710.2,292.1 L710.6,290.8 L711.0,290.2 L711.4,290.8 L711.7,291.5 L712.1,290.5 L712.4,289.2 L712.5,289.6 L712.6,290.5 L712.8,291.3 L712.9,292.1 L713.0,292.5 L713.1,293.3 L713.2,294.2 L713.3,295.3 L713.4,296.4 L713.5,297.2 L713.6,298.3 L713.7,299.6 L713.8,300.2 L714.0,300.4 L714.1,300.9 L714.2,302.0 L714.3,302.9 L714.4,303.3 L714.6,303.1 L714.7,302.1 L714.8,301.5 L714.9,301.1 L715.0,300.9 L715.0,301.3 L715.1,301.3 L715.2,300.9 L715.3,300.1 L715.4,298.7 L715.5,297.8 L715.6,297.1 L715.7,296.0 L715.8,295.4 L715.9,295.4 L716.0,294.9 L716.1,293.9 L716.2,292.5 L716.4,291.2 L716.5,290.6 L716.6,290.4 L716.7,289.8 L716.8,289.1 L716.9,288.8 L717.0,288.1 L717.1,286.8 L717.2,286.0 L717.3,285.4 L717.4,284.8 L717.5,283.8 L717.6,282.6 L717.7,282.2 L717.7,282.0 L717.8,281.7 L717.9,281.2 L718.0,280.7 L718.2,280.6 L718.3,281.1 L718.5,281.7 L718.6,282.2 L718.8,282.5 L718.9,282.7 L719.1,283.4 L719.2,285.0 L719.3,286.3 L719.5,286.8 L719.6,286.8 L719.7,287.7 L719.8,289.5 L720.0,290.5 L720.1,290.7 L720.2,290.7 L720.3,291.2 L720.4,292.8 L720.6,294.0 L720.7,295.0 L720.8,295.8 L720.9,295.4 L720.9,295.7 L721.0,297.0 L721.1,297.8 L721.2,297.7 L721.3,297.7 L721.4,298.3 L721.5,299.7 L721.6,300.4 L721.8,300.0 L721.9,299.3 L722.1,298.0 L722.3,297.0 L722.4,296.3 L722.6,295.4 L722.8,295.0 L723.0,294.6 L723.1,293.9 L723.3,294.2 L723.4,294.5 L723.5,294.4 L723.6,294.9 L723.7,295.8 L723.8,296.7 L723.9,297.5 L724.0,298.3 L724.0,299.2 L724.1,300.2 L724.2,301.2 L724.4,302.1 L724.5,302.1 L724.6,302.3 L724.7,303.1 L724.8,303.5 L725.0,303.7 L725.1,304.1 L725.3,304.3 L725.4,303.1 L725.5,302.2 L725.7,301.5 L725.8,300.7 L726.0,301.1 L726.1,300.7 L726.3,298.6 L726.4,297.4 L726.6,297.2 L726.8,296.7 L726.9,295.6 L727.1,294.3 L727.3,293.4 L727.5,292.9 L727.6,292.6 L727.8,292.3 L728.0,292.2 L728.1,292.2 L728.3,291.9 L728.5,291.7 L728.7,292.2 L728.9,292.7 L729.1,292.8 L729.3,293.1 L729.5,294.0 L729.7,295.2 L729.9,296.3 L730.1,297.3 L730.3,298.2 L730.5,299.1 L730.7,299.9 L730.9,300.5 L731.1,300.8 L731.3,301.3 L731.6,302.0 L731.8,302.2 L732.0,302.2 L732.2,302.4 L732.5,302.1 L732.7,300.8 L733.0,299.6 L733.2,299.3 L733.5,299.2 L733.8,298.6 L734.0,297.6 L734.3,296.1 L734.5,295.4 L734.8,295.3 L735.0,294.3 L735.3,293.6 L735.5,293.7 L735.8,293.4 L736.0,292.9 L736.2,292.5 L736.5,292.6 L736.7,292.7 L736.9,293.0 L737.2,293.9 L737.4,294.3 L737.6,295.1 L737.9,296.8 L738.1,297.8 L738.3,298.6 L738.5,299.2 L738.6,298.8 L738.8,299.4 L739.0,300.9 L739.1,300.8 L739.3,300.6 L739.4,300.6 L739.5,299.9 L739.5,298.9 L739.6,297.8 L739.7,296.5 L739.9,296.2 L740.0,297.1 L740.2,297.8 L740.4,297.6 L740.5,297.5 L740.7,298.3 L740.9,299.8 L741.1,301.3 L741.3,302.0 L741.5,302.3 L741.8,302.8 L742.0,303.0 L742.2,303.0 L742.4,303.5 L742.6,304.0 L742.8,303.8 L743.1,302.7 L743.3,301.7 L743.5,301.2 L743.7,300.4 L744.0,299.9 L744.2,299.6 L744.4,298.7 L744.6,297.9 L744.9,298.0 L745.1,297.8 L745.3,296.7 L745.5,296.6 L745.7,297.3 L745.8,298.1 L746.0,298.7 L746.2,299.7 L746.3,301.0 L746.5,301.7 L746.7,302.1 L746.8,302.4 L747.0,302.9 L747.1,303.2 L747.3,304.2 L747.5,306.0 L747.6,306.9 L747.8,307.1 L748.0,307.1 L748.1,306.3 L748.3,305.4 L748.4,304.7 L748.6,303.9 L748.7,302.5 L748.9,301.0 L749.0,300.1 L749.2,299.8 L749.3,299.7 L749.5,299.2 L749.6,298.6 L749.8,298.0 L750.0,297.1 L750.1,296.3 L750.3,296.5 L750.6,296.7 L750.9,296.3 L751.3,296.8 L751.6,298.1 L751.9,298.4 L752.2,298.4 L752.6,299.4 L752.9,300.7 L753.2,301.5 L753.5,301.9 L753.8,302.3 L754.1,303.4 L754.4,304.7 L754.7,304.8 L755.0,304.2 L755.3,304.1 L755.7,304.5 L755.9,305.0 L756.2,304.6 L756.5,303.9 L756.8,303.2 L757.1,302.1 L757.4,301.2 L757.7,300.8 L758.0,299.6 L758.3,298.3 L758.6,298.7 L758.9,298.4 L759.2,297.4 L759.5,297.2 L759.8,297.1 L760.1,296.9 L760.3,297.4 L760.6,298.2 L760.8,298.4 L761.1,298.8 L761.3,299.8 L761.5,300.8 L761.8,301.3 L762.0,301.7 L762.2,302.1 L762.5,302.9 L762.7,304.1 L762.9,304.4 L763.1,304.7 L763.4,304.9 L763.7,304.3 L763.9,304.0 L764.2,304.1 L764.5,303.4 L764.7,301.7 L764.9,300.1 L765.2,299.2 L765.4,299.2 L765.6,299.9 L765.8,300.2 L766.0,300.2 L766.1,300.8 L766.3,301.6 L766.4,302.4 L766.5,303.5 L766.7,303.8 L766.9,304.0 L767.1,305.0 L767.3,305.2 L767.5,304.8 L767.7,305.2 L768.0,304.4 L768.2,302.7 L768.5,302.1 L768.8,301.2 L769.1,300.2 L769.3,300.1 L769.6,299.7 L769.9,298.6 L770.1,297.9 L770.3,297.4 L770.5,296.6 L770.6,296.1"/><path fill="none" stroke="#008000" stroke-width="4.2" stroke-linejoin="round" stroke-linecap="round" d="M49.4,140.0 L49.5,138.7 L49.6,138.7 L49.7,138.9 L49.8,138.3 L49.9,137.7 L50.1,137.0 L50.2,135.5 L50.4,134.2 L50.6,133.8 L50.7,133.1 L50.9,132.1 L51.0,131.7 L51.2,131.9 L51.3,131.7 L51.4,131.2 L51.6,131.0 L51.7,131.7 L51.9,133.2 L52.0,134.3 L52.2,135.3 L52.3,136.4 L52.4,137.7 L52.6,138.4 L52.7,138.7 L52.9,138.9 L53.0,138.9 L53.4,138.7 L53.9,137.4 L54.4,137.0 L54.8,137.6 L54.9,137.6 L55.0,137.5 L55.2,137.9 L55.3,139.1 L55.4,140.6 L55.5,141.4 L55.7,141.4 L55.8,142.0 L55.9,142.9 L56.0,143.3 L56.1,143.8 L56.3,144.8 L56.4,145.7 L56.5,146.0 L56.7,145.9 L56.8,145.4 L57.0,144.8 L57.1,144.7 L57.3,144.4 L57.4,143.3 L57.6,142.3 L57.7,141.5 L57.9,140.9 L58.0,140.2 L58.2,139.4 L58.3,138.9 L58.4,138.3 L58.6,137.0 L58.7,135.8 L58.8,135.3 L58.9,134.8 L59.0,133.8 L59.1,133.2 L59.2,133.3 L59.4,133.1 L59.5,131.5 L59.6,129.7 L59.8,129.2 L59.9,129.1 L60.2,128.4 L60.6,128.7 L61.0,129.0 L61.4,128.1 L61.8,127.4 L62.2,127.4 L62.7,126.8 L63.2,125.7 L63.7,124.8 L64.2,124.4 L64.7,124.0 L65.1,123.2 L65.3,123.7 L65.4,125.5 L65.5,126.3 L65.7,126.2 L65.8,126.7 L65.9,127.5 L66.0,128.3 L66.1,129.8 L66.2,131.4 L66.3,132.2 L66.4,132.6 L66.5,132.8 L66.7,133.3 L66.8,133.4 L66.9,132.5 L67.1,131.9 L67.2,131.7 L67.4,131.4 L67.6,130.9 L67.7,129.2 L67.9,127.2 L68.0,126.1 L68.2,125.2 L68.4,125.0 L68.6,125.1 L68.7,124.4 L68.9,124.1 L69.1,124.8 L69.2,125.5 L69.2,125.8 L69.3,125.9 L69.3,126.5 L69.4,127.0 L69.5,126.8 L69.5,126.9 L69.6,127.9 L69.7,129.3 L69.7,129.6 L69.8,129.7 L69.9,131.2 L69.9,132.9 L70.0,133.3 L70.1,133.9 L70.1,134.6 L70.2,135.0 L70.3,135.4 L70.3,136.3 L70.4,136.8 L70.5,137.9 L70.5,140.2 L70.6,141.2 L70.7,141.2 L70.8,141.5 L70.8,142.4 L70.9,143.6 L71.0,144.4 L71.0,144.8 L71.1,145.2 L71.2,146.7 L71.2,148.0 L71.3,148.2 L71.4,148.6 L71.4,149.3 L71.5,150.1 L71.6,150.6 L71.6,150.3 L71.7,150.3 L71.8,150.8 L71.8,151.0 L71.9,151.1 L71.9,151.5 L72.0,151.5 L72.1,151.0 L72.1,151.7 L72.2,152.6 L72.2,151.9 L72.3,151.3 L72.4,151.2 L72.4,149.4 L72.5,147.4 L72.5,146.7 L72.6,146.8 L72.6,147.3 L72.7,146.6 L72.7,145.3 L72.8,144.8 L72.8,144.0 L72.9,143.4 L73.0,143.0 L73.0,142.1 L73.1,141.0 L73.1,139.8 L73.2,138.6 L73.2,138.3 L73.3,138.0 L73.3,137.7 L73.4,137.2 L73.4,136.0 L73.5,134.8 L73.5,134.0 L73.6,132.3 L73.6,130.3 L73.7,129.5 L73.7,130.1 L73.8,130.0 L73.8,129.1 L73.9,128.1 L73.9,128.0 L74.0,128.1 L74.0,126.9 L74.1,125.7 L74.1,125.8 L74.2,126.0 L74.2,124.8 L74.3,123.4 L74.4,123.5 L74.4,124.6 L74.5,125.9 L74.5,126.1 L74.6,125.7 L74.6,126.0 L74.7,126.8 L74.8,127.5 L74.8,128.0 L74.9,128.5 L74.9,129.7 L75.0,130.5 L75.0,130.4 L75.1,131.1 L75.2,132.4 L75.2,133.6 L75.3,134.5 L75.3,135.5 L75.4,136.5 L75.4,137.5 L75.5,138.1 L75.6,138.6 L75.6,139.7 L75.7,140.8 L75.7,141.9 L75.8,143.3 L75.8,144.4 L75.9,144.5 L76.0,143.7 L76.0,144.5 L76.1,145.9 L76.2,146.2 L76.2,147.1 L76.3,148.6 L76.3,148.6 L76.4,148.3 L76.5,148.8 L76.5,149.4 L76.6,149.3 L76.7,149.2 L76.8,148.8 L76.9,148.2 L77.0,147.9 L77.2,147.6 L77.3,147.4 L77.4,146.7 L77.5,145.6 L77.6,145.1 L77.7,144.3 L77.9,143.2 L78.0,142.3 L78.1,141.0 L78.2,139.9 L78.3,139.1 L78.5,138.5 L78.6,137.4 L78.7,135.7 L78.9,134.8 L79.0,134.3 L79.1,134.3 L79.2,134.7 L79.4,134.9 L79.5,135.2 L79.6,134.5 L79.7,133.5 L79.8,134.5 L79.9,136.6 L80.0,137.3 L80.1,136.7 L80.1,137.0 L80.2,137.9 L80.3,138.0 L80.4,138.7 L80.5,139.9 L80.6,140.4 L80.7,140.8 L80.8,142.0 L80.9,143.3 L81.0,143.6 L81.1,143.9 L81.2,145.3 L81.3,146.4 L81.4,147.0 L81.5,147.8 L81.6,149.0 L81.7,149.6 L81.8,150.0 L81.9,151.1 L82.0,152.1 L82.1,152.4 L82.2,152.4 L82.3,153.3 L82.4,154.8 L82.5,155.7 L82.6,155.9 L82.7,156.2 L82.7,156.8 L82.8,157.5 L82.9,157.7 L83.0,157.1 L83.1,156.5 L83.2,155.9 L83.3,155.2 L83.4,155.0 L83.5,154.7 L83.6,154.3 L83.7,153.8 L83.8,152.5 L83.9,151.1 L84.0,150.3 L84.1,149.6 L84.2,149.1 L84.3,148.2 L84.3,147.2 L84.4,146.9 L84.5,146.4 L84.6,145.3 L84.7,144.1 L84.8,142.9 L84.9,142.7 L85.0,142.6 L85.1,141.6 L85.2,141.3 L85.4,141.9 L85.5,143.0 L85.7,143.5 L85.8,143.4 L86.0,143.3 L86.2,143.8 L86.3,145.6 L86.5,147.3 L86.7,147.7 L86.8,147.8 L87.0,148.9 L87.2,149.6 L87.4,149.5 L87.5,150.7 L87.7,152.1 L87.9,152.8 L88.1,152.7 L88.3,152.3 L88.4,152.2 L88.6,151.7 L88.8,150.7 L89.0,150.0 L89.2,149.8 L89.4,149.8 L89.6,149.2 L89.8,148.2 L90.0,147.5 L90.1,146.7 L90.3,145.5 L90.5,144.0 L90.7,142.9 L90.9,142.8 L91.1,142.8 L91.3,142.5 L91.4,142.2 L91.6,142.2 L91.8,142.3 L92.0,142.2 L92.2,142.4 L92.4,143.3 L92.5,144.6 L92.7,145.7 L92.9,146.2 L93.1,146.7 L93.2,147.9 L93.4,149.3 L93.6,150.1 L93.8,150.1 L94.0,149.4 L94.2,149.4 L94.4,150.1 L94.5,150.8 L94.6,150.2 L94.8,148.8 L94.9,148.0 L95.0,147.3 L95.1,146.9 L95.3,147.1 L95.4,146.8 L95.5,145.7 L95.7,144.6 L95.8,144.3 L96.0,144.7 L96.1,143.8 L96.3,141.7 L96.4,140.5 L96.5,140.3 L96.7,140.0 L96.8,139.5 L97.0,138.5 L97.1,137.0 L97.2,136.0 L97.4,135.2 L97.5,134.4 L97.7,133.8 L97.8,133.9 L97.9,134.3 L98.0,133.6 L98.2,132.2 L98.3,132.4 L98.4,133.0 L98.6,132.7 L98.7,132.8 L98.9,133.4 L99.1,133.9 L99.2,134.2 L99.4,134.2 L99.5,134.2 L99.7,134.7 L99.8,136.1 L100.0,137.4 L100.1,138.1 L100.2,138.7 L100.4,140.0 L100.5,141.5 L100.6,141.7 L100.8,141.7 L100.9,142.5 L101.0,143.6 L101.2,143.9 L101.3,143.6 L101.9,144.3 L102.5,143.7 L103.0,143.0 L103.6,143.9 L103.7,144.1 L103.8,143.9 L103.9,144.8 L104.0,146.4 L104.1,147.2 L104.2,147.3 L104.3,147.8 L104.4,148.7 L104.5,149.2 L104.6,149.4 L104.7,150.1 L104.8,151.5 L104.9,152.8 L105.0,153.4 L105.2,154.0 L105.3,154.7 L105.4,155.2 L105.5,155.8 L105.6,156.0 L105.8,155.4 L105.9,155.3 L106.1,155.5 L106.2,155.7 L106.4,155.5 L106.6,154.3 L106.8,153.3 L107.0,153.6 L107.2,154.0 L107.4,153.0 L107.6,151.0 L107.8,149.9 L108.0,149.2 L108.2,148.2 L108.4,147.4 L108.6,146.6 L108.8,145.8 L109.0,145.4 L109.2,145.4 L109.4,145.3 L109.6,145.2 L109.8,145.5 L110.0,145.8 L110.2,146.2 L110.4,148.0 L110.6,150.6 L110.7,151.4 L110.9,151.5 L111.1,151.9 L111.3,152.2 L111.5,152.9 L111.6,153.7 L111.8,154.4 L112.0,155.0 L112.2,154.5 L112.4,153.0 L112.5,153.0 L112.7,153.4 L112.9,152.6 L113.0,152.0 L113.2,151.7 L113.4,151.0 L113.5,150.0 L113.7,148.7 L113.9,147.1 L114.0,145.5 L114.2,144.3 L114.4,144.3 L114.6,144.3 L114.7,143.6 L114.9,143.3 L115.1,143.9 L115.2,144.2 L115.3,144.1 L115.5,144.7 L115.6,146.1 L115.7,146.8 L115.8,146.7 L115.9,146.9 L116.1,148.0 L116.2,149.8 L116.3,150.8 L116.4,150.4 L116.5,150.0 L116.7,151.2 L116.8,153.0 L116.9,153.5 L117.1,154.2 L117.2,155.5 L117.3,156.1 L117.5,155.7 L117.6,155.9 L117.8,157.3 L117.9,158.6 L118.1,158.8 L118.3,158.3 L118.4,158.5 L118.6,158.8 L118.9,158.8 L119.2,159.2 L119.6,159.5 L119.9,158.5 L120.3,157.5 L120.7,157.5 L121.1,157.4 L121.5,156.6 L121.9,155.2 L122.3,153.9 L122.7,153.6 L123.1,153.2 L123.4,152.3 L123.7,151.5 L124.0,151.4 L124.3,151.7 L124.6,151.4 L124.9,151.4 L125.1,152.3 L125.4,153.3 L125.6,154.0 L125.7,154.3 L125.9,155.1 L126.0,157.0 L126.2,158.4 L126.3,158.1 L126.5,157.6 L126.6,157.9 L126.8,157.4 L126.9,156.4 L127.0,155.9 L127.1,155.5 L127.2,155.2 L127.3,154.9 L127.5,154.2 L127.6,153.2 L127.8,152.5 L127.9,152.7 L128.1,153.5 L128.3,154.4 L128.4,154.6 L128.6,155.5 L128.8,157.3 L129.0,158.0 L129.2,158.4 L129.4,159.2 L129.6,160.0 L129.8,160.6 L130.1,161.0 L130.3,160.6 L130.4,160.0 L130.5,159.1 L130.7,158.3 L130.8,158.6 L131.0,158.9 L131.1,158.0 L131.2,156.7 L131.4,155.8 L131.5,155.1 L131.7,155.1 L131.8,155.4 L132.0,154.7 L132.2,153.4 L132.3,151.9 L132.5,150.3 L132.6,149.0 L132.8,148.5 L132.9,148.1 L133.1,147.8 L133.2,146.9 L133.4,146.1 L133.5,146.5 L133.7,146.5 L133.8,145.4 L133.9,145.1 L134.1,145.1 L134.2,144.4 L134.3,144.2 L134.4,144.7 L134.5,145.4 L134.6,146.1 L134.7,146.5 L134.8,146.6 L134.9,146.9 L135.0,147.5 L135.1,148.0 L135.2,148.7 L135.3,149.9 L135.4,150.3 L135.5,150.8 L135.5,151.7 L135.6,152.4 L135.7,153.8 L135.8,155.1 L135.9,155.8 L136.0,157.2 L136.1,158.9 L136.1,159.7 L136.2,160.0 L136.3,160.1 L136.4,160.2 L136.5,160.7 L136.6,161.3 L136.7,161.9 L136.8,162.1 L136.9,162.6 L137.0,163.0 L137.2,162.8 L137.4,162.9 L137.6,163.0 L137.8,162.0 L138.0,161.0 L138.2,160.9 L138.4,160.9 L138.6,159.6 L138.8,158.2 L139.0,157.3 L139.2,155.8 L139.4,154.4 L139.6,154.4 L139.8,154.6 L140.0,153.9 L140.2,152.6 L140.3,151.9 L140.5,152.4 L140.7,152.6 L140.9,153.1 L141.0,153.6 L141.2,153.8 L141.3,153.9 L141.4,154.2 L141.6,155.1 L141.7,156.0 L141.8,156.9 L142.0,157.5 L142.1,157.6 L142.2,158.5 L142.3,159.7 L142.5,160.3 L142.6,160.6 L142.9,161.9 L143.2,164.3 L143.5,165.9 L143.8,166.5 L144.1,166.9 L144.4,166.3 L144.7,164.7 L144.7,164.4 L144.8,164.6 L144.8,164.7 L144.9,164.5 L144.9,164.4 L145.0,163.7 L145.0,162.6 L145.1,161.7 L145.1,161.2 L145.2,160.5 L145.3,160.2 L145.3,160.4 L145.4,159.7 L145.4,158.7 L145.5,157.5 L145.5,156.2 L145.6,155.2 L145.6,154.2 L145.7,153.7 L145.7,153.7 L145.8,153.2 L145.8,152.4 L145.9,151.4 L146.0,150.4 L146.0,149.9 L146.1,149.7 L146.1,148.5 L146.2,146.8 L146.2,146.4 L146.3,146.2 L146.3,145.1 L146.4,144.0 L146.5,142.8 L146.5,141.9 L146.6,141.6 L146.6,141.1 L146.7,140.1 L146.7,139.0 L146.8,138.5 L146.8,138.4 L146.9,138.2 L147.0,137.7 L147.0,137.2 L147.1,137.2 L147.1,137.0 L147.2,136.6 L147.2,136.3 L147.3,135.8 L147.3,135.4 L147.4,135.0 L147.5,134.6 L147.6,135.1 L147.7,135.4 L147.8,135.2 L147.9,135.8 L147.9,136.2 L148.0,136.7 L148.1,137.6 L148.2,138.7 L148.3,139.7 L148.4,140.5 L148.5,141.4 L148.6,142.1 L148.7,142.8 L148.8,143.6 L148.9,143.9 L149.0,144.6 L149.1,146.1 L149.2,147.7 L149.3,148.5 L149.3,149.4 L149.4,150.5 L149.5,150.7 L149.6,151.2 L149.7,152.7 L149.8,153.2 L149.9,153.1 L150.0,153.4 L150.0,153.5 L150.1,154.4 L150.2,155.7 L150.3,155.6 L150.4,154.9 L150.5,154.1 L150.6,153.2 L150.7,152.8 L150.7,152.2 L150.8,151.0 L150.9,150.5 L151.0,150.0 L151.1,149.1 L151.2,148.0 L151.2,146.5 L151.3,145.2 L151.4,144.1 L151.5,142.8 L151.5,142.4 L151.6,142.9 L151.7,142.6 L151.8,140.7 L151.9,139.3 L151.9,139.8 L152.0,139.8 L152.1,139.2 L152.2,139.4 L152.3,139.2 L152.4,138.4 L152.4,138.7 L152.5,139.3 L152.5,139.3 L152.6,140.2 L152.6,141.3 L152.7,142.2 L152.7,143.2 L152.8,143.8 L152.9,144.2 L152.9,144.5 L153.0,144.9 L153.0,145.5 L153.1,145.7 L153.1,145.9 L153.2,146.5 L153.3,147.0 L153.3,148.5 L153.4,150.5 L153.4,151.0 L153.5,151.0 L153.5,151.2 L153.6,151.6 L153.7,152.7 L153.7,153.8 L153.8,155.0 L153.8,155.9 L153.9,156.2 L154.0,156.8 L154.0,158.5 L154.1,159.4 L154.2,159.6 L154.2,160.1 L154.3,161.2 L154.3,162.2 L154.4,162.2 L154.5,161.7 L154.5,161.4 L154.6,161.8 L154.7,163.3 L154.7,164.5 L154.8,164.9 L155.0,165.3 L155.3,165.2 L155.6,164.8 L155.8,164.6 L156.1,164.0 L156.4,162.6 L156.6,161.8 L156.9,161.2 L157.2,159.8 L157.4,158.9 L157.7,158.1 L157.9,157.1 L158.0,156.7 L158.1,156.4 L158.1,155.6 L158.2,154.7 L158.3,154.0 L158.4,153.5 L158.4,153.9 L158.5,154.0 L158.6,153.3 L158.7,152.8 L158.7,152.1 L158.8,151.1 L158.9,150.6 L158.9,150.1 L159.0,149.3 L159.1,148.7 L159.1,147.8 L159.2,147.3 L159.2,146.8 L159.3,145.7 L159.4,145.3 L159.4,145.4 L159.5,144.6 L159.5,143.5 L159.6,143.0 L159.7,142.2 L159.7,141.2 L159.8,140.6 L159.8,140.0 L159.9,139.1 L159.9,138.4 L160.0,138.0 L160.0,137.3 L160.1,136.5 L160.1,136.2 L160.1,136.1 L160.2,135.7 L160.2,134.6 L160.2,133.6 L160.2,133.2 L160.3,132.7 L160.3,131.8 L160.3,130.6 L160.4,129.5 L160.4,129.2 L160.4,129.5 L160.4,129.4 L160.5,128.6 L160.5,127.7 L160.5,127.4 L160.5,127.7 L160.5,128.1 L160.6,127.1 L160.6,125.3 L160.6,123.9 L160.6,123.5 L160.7,123.3 L160.7,123.4 L160.7,123.2 L160.7,121.5 L160.8,119.8 L160.8,119.3 L160.8,118.9 L160.8,119.2 L160.9,119.1 L160.9,117.7 L160.9,116.3 L160.9,116.2 L161.0,116.0 L161.0,114.8 L161.0,114.0 L161.0,113.9 L161.1,113.5 L161.1,112.8 L161.1,112.1 L161.2,111.3 L161.2,110.4 L161.2,109.9 L161.3,109.2 L161.3,108.4 L161.3,108.0 L161.4,107.7 L161.4,107.2 L161.4,106.3 L161.5,104.9 L161.5,104.2 L161.6,104.1 L161.6,103.7 L161.6,102.8 L161.7,101.7 L161.7,100.8 L161.8,100.6 L161.8,100.2 L161.9,99.8 L161.9,99.4 L161.9,98.7 L162.0,97.4 L162.0,95.3 L162.1,93.9 L162.1,93.4 L162.2,92.6 L162.2,92.1 L162.3,91.6 L162.3,90.8 L162.4,90.7 L162.4,91.0 L162.5,90.6 L162.5,89.7 L162.6,88.4 L162.6,86.6 L162.7,85.5 L162.7,85.0 L162.8,84.2 L162.8,83.8 L162.9,82.6 L162.9,81.7 L163.0,81.8 L163.0,81.5 L163.1,81.0 L163.1,79.5 L163.2,78.5 L163.2,78.6 L163.3,77.9 L163.3,77.0 L163.4,77.0 L163.4,77.1 L163.5,76.4 L163.5,75.4 L163.6,75.1 L163.6,75.6 L163.7,75.7 L163.7,75.3 L163.8,74.8 L163.8,74.9 L163.9,75.2 L163.9,74.8 L163.9,74.2 L164.0,74.3 L164.0,75.4 L164.1,75.4 L164.1,74.8 L164.2,75.8 L164.2,76.9 L164.2,76.9 L164.3,77.0 L164.3,77.2 L164.4,77.2 L164.4,77.4 L164.5,78.1 L164.5,78.5 L164.5,79.2 L164.6,80.3 L164.6,80.5 L164.7,80.6 L164.7,81.5 L164.7,82.6 L164.8,83.5 L164.8,84.3 L164.9,84.5 L164.9,85.0 L164.9,86.4 L165.0,87.3 L165.0,87.0 L165.1,87.2 L165.1,88.4 L165.1,89.5 L165.2,90.3 L165.2,91.2 L165.3,92.2 L165.3,93.1 L165.3,93.4 L165.4,94.1 L165.4,95.5 L165.4,96.9 L165.5,97.6 L165.5,97.8 L165.6,98.7 L165.6,100.1 L165.6,100.9 L165.7,100.6 L165.7,101.0 L165.7,102.3 L165.8,103.5 L165.8,104.4 L165.9,104.9 L165.9,105.1 L165.9,105.5 L166.0,106.6 L166.0,107.5 L166.0,107.4 L166.1,107.8 L166.1,108.9 L166.2,109.6 L166.2,110.0 L166.2,110.8 L166.3,111.6 L166.3,112.0 L166.4,112.5 L166.4,113.4 L166.4,113.6 L166.5,113.8 L166.5,114.9 L166.6,115.8 L166.6,116.6 L166.6,117.3 L166.7,117.8 L166.7,118.1 L166.7,118.7 L166.8,119.9 L166.8,121.0 L166.8,121.9 L166.9,122.2 L166.9,122.6 L167.0,124.0 L167.0,125.2 L167.0,125.1 L167.1,124.8 L167.1,125.0 L167.1,125.5 L167.2,126.2 L167.2,127.2 L167.3,127.6 L167.3,128.0 L167.3,128.6 L167.4,128.4 L167.4,128.7 L167.5,130.1 L167.5,131.2 L167.5,131.6 L167.6,131.7 L167.6,131.7 L167.7,132.6 L167.7,134.0 L167.8,134.8 L167.9,134.7 L167.9,135.2 L168.0,136.3 L168.1,137.3 L168.2,138.1 L168.3,138.7 L168.3,139.2 L168.4,140.1 L168.5,141.5 L168.6,142.6 L168.7,142.8 L168.8,142.9 L168.9,143.7 L169.0,144.2 L169.0,143.5 L169.1,143.4 L169.2,144.7 L169.3,146.1 L169.5,147.0 L169.6,147.3 L169.7,147.5 L169.8,147.4 L170.4,147.3 L171.1,146.5 L171.9,145.8 L172.6,145.4 L173.3,146.7 L173.4,147.2 L173.5,147.1 L173.6,147.2 L173.6,148.0 L173.7,149.0 L173.8,149.5 L173.9,149.9 L174.0,151.1 L174.1,152.4 L174.1,152.8 L174.2,153.1 L174.3,153.5 L174.4,154.1 L174.4,155.3 L174.5,156.3 L174.6,157.3 L174.6,158.4 L174.7,158.9 L174.8,159.5 L174.9,160.6 L174.9,161.0 L175.0,161.2 L175.1,162.6 L175.2,163.7 L175.2,163.8 L175.3,164.3 L175.4,164.6 L175.5,165.0 L175.6,165.8 L175.7,165.8 L175.7,165.4 L175.8,166.1 L175.9,166.9 L176.0,166.6 L176.1,166.2 L176.2,166.2 L176.3,166.3 L176.4,166.2 L176.5,165.2 L176.6,164.6 L176.7,164.9 L176.8,164.9 L176.9,164.2 L177.0,163.2 L177.1,161.6 L177.2,160.3 L177.3,159.8 L177.4,159.1 L177.5,157.9 L177.6,157.5 L177.7,157.1 L177.8,156.4 L177.9,156.2 L178.0,154.9 L178.1,152.9 L178.2,151.7 L178.3,151.4 L178.4,151.4 L178.5,150.6 L178.6,149.5 L178.7,149.1 L178.8,148.9 L178.9,147.8 L179.0,146.4 L179.1,145.7 L179.2,145.4 L179.3,145.4 L179.4,145.8 L179.5,145.6 L179.6,145.2 L179.7,145.5 L179.8,146.3 L179.9,147.0 L180.0,147.7 L180.1,148.0 L180.2,148.3 L180.3,149.8 L180.4,150.8 L180.5,150.4 L180.6,150.8 L180.6,152.3 L180.7,153.3 L180.8,153.5 L180.9,154.4 L181.0,155.9 L181.1,155.7 L181.2,155.7 L181.3,157.7 L181.4,159.6 L181.5,160.8 L181.6,162.1 L181.7,162.5 L181.8,161.5 L181.9,160.8 L182.0,161.7 L182.2,162.9 L182.3,162.5 L182.6,161.4 L182.8,161.3 L183.1,161.8 L183.4,161.8 L183.8,161.0 L184.1,159.9 L184.4,159.1 L184.8,158.7 L185.1,158.0 L185.5,157.2 L185.8,156.2 L186.1,155.4 L186.4,154.9 L186.7,154.4 L187.0,154.4 L187.2,154.4 L187.4,154.3 L187.5,154.6 L187.6,155.4 L187.7,156.2 L187.8,156.8 L187.9,157.5 L188.0,158.2 L188.1,158.9 L188.2,159.6 L188.2,159.9 L188.3,160.6 L188.4,161.7 L188.4,162.4 L188.5,163.9 L188.6,165.8 L188.7,166.1 L188.7,166.1 L188.8,166.9 L188.9,167.3 L189.0,167.1 L189.2,167.2 L189.3,167.2 L189.4,167.3 L189.5,167.0 L189.7,166.5 L189.8,167.1 L189.9,167.2 L190.1,165.7 L190.2,164.3 L190.3,164.1 L190.5,163.9 L190.6,163.0 L190.8,162.7 L191.0,162.3 L191.1,160.6 L191.3,159.3 L191.4,158.4 L191.6,157.6 L191.8,156.8 L191.9,156.0 L192.1,155.5 L192.2,155.1 L192.4,154.7 L192.5,153.9 L192.7,153.3 L192.8,152.7 L193.0,151.9 L193.1,151.1 L193.2,150.8 L193.4,150.7 L193.5,150.3 L193.7,150.1 L194.0,150.1 L194.2,150.2 L194.4,150.6 L194.6,151.2 L194.8,152.4 L195.0,154.0 L195.2,155.4 L195.4,156.5 L195.5,157.1 L195.7,157.7 L195.9,158.8 L196.1,159.3 L196.3,158.6 L196.5,158.1 L196.6,158.7 L196.8,158.7 L196.9,157.4 L197.0,155.9 L197.2,154.8 L197.3,153.9 L197.5,152.9 L197.6,152.5 L197.8,152.6 L197.9,152.1 L198.1,150.8 L198.2,149.9 L198.4,149.5 L198.6,148.8 L198.7,148.4 L198.9,148.4 L199.1,148.5 L199.2,149.6 L199.4,150.4 L199.5,149.7 L199.7,149.3 L199.8,149.4 L200.0,150.1 L200.2,151.2 L200.3,152.0 L200.5,152.3 L200.7,152.9 L200.9,154.0 L201.0,155.0 L201.2,155.9 L201.4,156.7 L201.6,157.5 L201.7,157.8 L201.9,158.5 L202.1,159.8 L202.2,160.6 L202.4,161.4 L202.6,162.1 L202.7,161.9 L202.9,162.2 L203.0,162.9 L203.2,163.1 L203.3,163.4 L203.5,163.6 L203.6,162.8 L203.8,162.0 L203.9,162.0 L204.0,162.0 L204.2,161.4 L204.3,160.6 L204.4,159.3 L204.5,157.9 L204.7,157.0 L204.8,157.0 L204.9,157.2 L205.0,156.3 L205.1,154.8 L205.3,154.1 L205.4,153.8 L205.5,152.8 L205.7,152.2 L205.8,152.0 L206.0,151.3 L206.5,151.1 L206.9,151.6 L207.5,152.2 L208.0,152.8 L208.6,152.7 L209.1,152.8 L209.7,153.9 L210.2,154.5 L210.4,154.0 L210.6,154.2 L210.8,154.6 L211.0,155.3 L211.2,156.9 L211.4,158.3 L211.6,158.7 L211.8,159.1 L212.0,160.2 L212.2,161.6 L212.4,162.1 L212.6,162.3 L212.8,162.8 L213.0,164.0 L213.2,165.1 L213.4,165.9 L213.6,167.2 L213.8,167.8 L214.0,166.8 L214.2,165.8 L214.4,166.3 L214.6,166.9 L214.8,166.1 L215.1,165.4 L215.3,165.8 L215.5,165.8 L215.8,163.9 L216.0,162.2 L216.2,162.0 L216.4,161.8 L216.7,161.0 L216.9,159.9 L217.1,158.8 L217.3,158.0 L217.5,157.5 L217.7,156.9 L217.9,156.1 L218.1,155.7 L218.2,155.9 L218.4,155.6 L218.6,155.2 L218.7,155.2 L218.8,155.3 L218.9,156.1 L219.0,157.5 L219.1,158.5 L219.2,159.3 L219.3,159.9 L219.4,160.3 L219.5,161.6 L219.6,162.9 L219.6,162.9 L219.7,162.9 L219.8,163.9 L219.9,164.7 L220.0,165.3 L220.1,165.6 L220.2,165.7 L220.4,166.1 L220.7,166.0 L220.9,165.2 L221.2,163.9 L221.5,162.6 L221.7,162.4 L222.0,161.9 L222.2,160.9 L222.5,161.0 L222.7,161.7 L222.9,162.3 L223.1,162.9 L223.3,163.9 L223.5,165.6 L223.8,166.9 L224.0,167.3 L224.2,167.4 L224.4,167.6 L224.6,167.6 L224.8,166.9 L224.9,166.9 L224.9,167.0 L225.0,166.5 L225.0,165.4 L225.1,165.1 L225.1,165.2 L225.2,164.5 L225.2,163.7 L225.3,162.8 L225.4,161.7 L225.4,161.5 L225.5,161.6 L225.5,160.9 L225.6,159.2 L225.6,158.4 L225.7,158.3 L225.8,156.8 L225.8,155.6 L225.9,155.7 L225.9,155.1 L226.0,153.6 L226.0,152.6 L226.1,152.1 L226.1,151.7 L226.2,150.9 L226.3,150.0 L226.3,149.8 L226.4,149.3 L226.4,148.5 L226.5,148.1 L226.5,147.3 L226.6,146.6 L226.7,146.1 L226.7,145.5 L226.8,144.3 L226.8,142.8 L226.9,142.9 L226.9,143.3 L227.0,142.7 L227.0,142.2 L227.1,141.7 L227.2,141.9 L227.4,142.8 L227.5,142.7 L227.6,142.3 L227.8,142.4 L227.9,143.2 L228.0,144.6 L228.2,145.9 L228.3,147.2 L228.4,148.2 L228.6,148.5 L228.7,148.8 L228.8,149.6 L229.0,150.8 L229.1,152.2 L229.3,152.9 L229.4,152.8 L229.8,153.1 L230.3,153.2 L230.8,153.3 L231.3,153.5 L231.8,152.5 L232.2,150.2 L232.3,149.9 L232.3,150.0 L232.4,149.4 L232.4,148.3 L232.5,148.3 L232.5,149.1 L232.6,148.7 L232.7,147.7 L232.7,147.2 L232.8,145.9 L232.8,144.6 L232.9,144.3 L232.9,143.6 L233.0,142.5 L233.0,142.2 L233.1,142.1 L233.1,141.3 L233.1,140.2 L233.2,138.9 L233.2,137.3 L233.3,136.9 L233.3,137.0 L233.4,136.2 L233.4,134.9 L233.5,133.7 L233.5,132.8 L233.5,132.0 L233.6,131.9 L233.6,131.7 L233.7,131.1 L233.7,130.7 L233.8,130.4 L233.8,130.0 L233.9,128.8 L233.9,127.6 L234.0,127.3 L234.0,127.5 L234.3,126.8 L234.7,126.8 L235.0,127.4 L235.3,129.0 L235.7,130.9 L235.8,131.3 L235.8,131.7 L235.9,132.6 L236.0,133.1 L236.1,133.0 L236.2,133.4 L236.2,134.4 L236.3,135.1 L236.4,136.3 L236.5,137.5 L236.6,137.6 L236.6,138.0 L236.7,138.6 L236.8,139.5 L236.9,140.6 L237.0,141.0 L237.1,141.6 L237.2,142.1 L237.3,142.7 L237.3,143.8 L237.4,144.2 L237.5,144.2 L237.6,144.2 L237.7,144.4 L237.8,145.5 L237.9,147.2 L238.0,147.7 L238.2,148.0 L238.3,149.2 L238.5,150.5 L238.7,151.4 L238.8,151.6 L239.0,151.5 L239.2,152.2 L239.4,153.3 L239.6,154.1 L239.8,154.6 L239.9,155.4 L240.1,155.9 L240.3,155.6 L240.5,155.8 L240.6,156.4 L240.8,156.5 L240.9,156.6 L241.0,157.5 L241.2,157.8 L241.3,156.8 L241.4,155.3 L241.5,153.6 L241.6,153.2 L241.7,153.5 L241.8,152.9 L241.9,152.3 L242.0,151.6 L242.1,150.3 L242.2,149.0 L242.4,148.4 L242.5,147.6 L242.6,147.2 L242.9,147.5 L243.3,147.4 L243.7,148.2 L244.1,150.3 L244.5,151.5 L244.9,151.5 L245.0,151.1 L245.1,149.8 L245.2,149.0 L245.3,148.4 L245.4,147.4 L245.6,146.9 L245.7,146.4 L245.8,144.9 L245.9,143.2 L246.0,142.1 L246.1,141.4 L246.2,141.1 L246.3,140.7 L246.4,140.4 L246.5,139.6 L246.7,138.4 L246.8,138.3 L246.9,138.5 L247.0,138.2 L247.1,137.2 L247.2,136.9 L247.2,137.1 L247.3,137.4 L247.3,138.2 L247.4,138.9 L247.4,139.6 L247.5,140.5 L247.5,140.7 L247.6,140.9 L247.6,141.9 L247.7,142.6 L247.7,142.6 L247.8,142.9 L247.8,143.9 L247.9,145.8 L247.9,146.7 L248.0,146.7 L248.0,147.5 L248.1,148.8 L248.1,149.7 L248.1,150.7 L248.2,151.6 L248.2,152.1 L248.3,153.0 L248.3,154.0 L248.4,154.5 L248.4,154.7 L248.5,155.1 L248.5,156.5 L248.6,157.8 L248.6,158.0 L248.7,158.4 L248.7,159.7 L248.8,160.6 L248.8,161.1 L248.9,162.1 L248.9,163.1 L249.0,163.9 L249.0,164.8 L249.1,165.3 L249.1,165.1 L249.2,164.6 L249.2,165.0 L249.3,166.2 L249.3,167.0 L249.4,166.9 L249.4,166.5 L249.5,166.3 L249.6,166.1 L249.6,165.6 L249.7,165.5 L249.7,165.9 L249.8,166.3 L249.9,166.2 L249.9,165.5 L250.0,165.2 L250.1,165.6 L250.1,165.3 L250.2,164.1 L250.3,163.3 L250.3,162.5 L250.4,161.0 L250.5,160.0 L250.5,160.0 L250.6,159.6 L250.7,158.7 L250.7,157.5 L250.8,156.5 L250.9,155.5 L251.0,154.8 L251.0,154.4 L251.1,153.3 L251.2,151.8 L251.2,150.7 L251.3,150.2 L251.4,149.2 L251.4,148.4 L251.5,147.9 L251.6,147.5 L251.6,147.7 L251.7,147.7 L251.8,147.1 L251.8,146.0 L251.9,143.7 L251.9,142.2 L252.0,141.8 L252.1,141.3 L252.1,141.5 L252.2,141.8 L252.2,141.5 L252.3,140.9 L252.3,140.1 L252.4,139.6 L252.7,138.8 L253.0,139.2 L253.2,140.3 L253.4,141.3 L253.6,142.3 L253.8,143.4 L254.1,144.0 L254.2,143.7 L254.4,142.9 L254.5,141.7 L254.6,140.6 L254.8,139.7 L254.9,138.8 L255.1,138.2 L255.2,137.9 L255.4,137.4 L255.5,136.4 L255.7,135.4 L255.8,134.5 L256.0,133.5 L256.1,132.5 L256.3,132.2 L256.4,132.6 L256.5,133.2 L256.6,134.1 L256.7,134.2 L256.8,134.5 L256.9,135.3 L257.0,136.3 L257.1,137.2 L257.1,137.4 L257.2,137.7 L257.3,138.9 L257.4,140.3 L257.5,140.5 L257.6,140.2 L257.7,141.0 L257.8,142.1 L257.9,143.3 L258.0,144.4 L258.1,145.1 L258.2,146.2 L258.3,146.7 L258.4,146.3 L258.5,146.9 L258.6,148.0 L258.7,148.5 L259.0,149.7 L259.3,150.7 L259.6,151.4 L260.0,151.6 L260.3,151.8 L260.7,152.2 L261.0,152.6 L261.3,153.5 L261.6,153.8 L261.8,153.1 L261.9,152.6 L262.0,152.4 L262.2,151.9 L262.3,151.1 L262.4,149.9 L262.6,148.3 L262.7,146.9 L262.8,146.3 L262.9,146.0 L263.1,144.9 L263.2,144.2 L263.3,143.7 L263.5,142.7 L263.6,142.1 L263.8,142.2 L263.9,142.7 L264.0,142.9 L264.1,143.1 L264.2,143.3 L264.2,143.8 L264.3,144.7 L264.4,145.9 L264.5,147.3 L264.6,147.1 L264.7,147.0 L264.8,148.1 L264.9,149.3 L265.0,150.7 L265.1,151.5 L265.2,151.6 L265.3,152.0 L265.4,153.1 L265.5,154.7 L265.5,156.0 L265.6,156.6 L265.7,157.0 L265.8,157.7 L265.9,158.9 L266.0,159.6 L266.1,160.0 L266.2,160.3 L266.3,160.3 L266.4,160.7 L266.5,160.9 L266.6,160.0 L266.7,159.2 L266.8,159.3 L266.8,159.5 L266.9,159.3 L266.9,159.6 L267.0,159.7 L267.1,159.3 L267.1,159.1 L267.2,158.3 L267.3,157.2 L267.3,157.1 L267.4,157.0 L267.4,156.2 L267.5,155.2 L267.6,154.1 L267.6,152.9 L267.7,152.0 L267.8,151.8 L267.8,151.2 L267.9,150.5 L268.0,150.0 L268.0,148.9 L268.1,147.5 L268.1,146.8 L268.2,146.7 L268.3,146.3 L268.3,145.0 L268.4,143.7 L268.5,143.3 L268.5,142.5 L268.6,141.0 L268.7,139.8 L268.7,138.9 L268.8,138.7 L268.8,138.4 L268.9,137.5 L269.0,136.6 L269.0,135.2 L269.1,134.1 L269.1,134.8 L269.2,135.6 L269.3,134.9 L269.3,134.0 L269.4,134.0 L269.4,133.9 L269.5,133.0 L269.5,132.6 L269.6,132.6 L269.7,132.2 L269.8,132.1 L269.9,132.5 L270.0,132.6 L270.1,133.4 L270.2,134.1 L270.3,134.0 L270.4,134.7 L270.4,135.3 L270.5,135.4 L270.6,136.3 L270.7,137.5 L270.8,138.4 L270.9,139.6 L271.0,141.0 L271.1,141.6 L271.1,142.5 L271.2,144.1 L271.3,144.8 L271.4,144.3 L271.5,144.4 L271.6,145.3 L271.7,146.5 L271.8,147.3 L271.9,147.4 L272.1,147.7 L272.3,147.7 L272.5,146.8 L272.7,146.3 L272.9,146.2 L273.1,144.8 L273.3,142.8 L273.5,141.9 L273.7,141.2 L274.0,139.8 L274.2,139.1 L274.4,139.7 L274.6,140.2 L274.8,140.0 L274.9,139.4 L275.0,138.9 L275.1,138.4 L275.2,140.0 L275.3,142.6 L275.4,143.3 L275.5,142.9 L275.6,142.5 L275.7,143.3 L275.8,144.8 L275.9,145.5 L276.0,146.1 L276.1,147.5 L276.2,148.4 L276.3,148.6 L276.4,149.9 L276.5,151.3 L276.6,151.7 L276.7,152.2 L276.8,152.5 L276.9,152.6 L277.0,153.3 L277.1,154.3 L277.2,155.2 L277.3,155.5 L277.4,155.6 L277.5,155.7 L277.6,155.5 L277.7,155.5 L277.8,155.9 L277.9,155.4 L277.9,154.4 L278.0,153.8 L278.1,152.9 L278.2,152.9 L278.3,153.6 L278.4,153.1 L278.4,151.7 L278.5,151.1 L278.6,150.9 L278.7,150.4 L278.7,149.1 L278.8,147.2 L278.9,146.1 L279.0,144.9 L279.1,143.3 L279.1,143.0 L279.2,143.0 L279.3,142.2 L279.4,141.0 L279.5,140.2 L279.5,139.9 L279.6,139.8 L279.7,139.7 L279.8,140.0 L279.9,139.5 L280.1,138.7 L280.3,139.2 L280.5,139.8 L280.7,140.1 L280.9,140.6 L281.1,141.4 L281.3,142.2 L281.6,143.3 L281.8,144.1 L282.0,144.3 L282.2,144.5 L282.4,145.4 L282.6,146.6 L282.8,146.6 L283.6,146.6 L284.3,146.5 L285.1,147.4 L285.2,147.5 L285.4,147.1 L285.5,147.1 L285.6,148.7 L285.7,150.4 L285.9,151.4 L286.0,152.3 L286.1,153.3 L286.3,154.0 L286.4,154.8 L286.6,155.6 L286.7,156.6 L286.8,157.4 L287.0,158.0 L287.1,158.8 L287.3,159.4 L287.4,159.6 L287.6,160.1 L287.7,160.4 L287.9,160.5 L288.0,160.1 L288.1,159.6 L288.1,159.0 L288.2,158.5 L288.3,158.2 L288.4,157.9 L288.4,157.2 L288.5,156.7 L288.6,156.6 L288.7,156.0 L288.7,154.8 L288.8,154.4 L288.9,154.4 L289.0,153.9 L289.1,152.8 L289.1,151.7 L289.2,151.2 L289.3,150.3 L289.4,149.6 L289.5,148.8 L289.5,147.4 L289.6,146.4 L289.7,146.2 L289.8,146.1 L289.9,145.0 L289.9,143.7 L290.0,143.4 L290.1,143.5 L290.2,142.2 L290.3,140.3 L290.3,139.8 L290.4,139.3 L290.5,137.6 L290.6,136.8 L290.6,137.0 L290.7,136.0 L290.8,134.6 L290.9,134.5 L290.9,135.3 L291.0,135.7 L291.1,134.7 L291.1,133.7 L291.2,133.2 L291.3,132.7 L291.3,133.1 L291.4,133.9 L291.5,134.1 L291.6,134.0 L291.6,133.8 L291.7,133.5 L291.8,133.5 L291.9,134.4 L291.9,135.3 L292.0,135.2 L292.1,135.4 L292.1,136.2 L292.2,137.3 L292.3,138.7 L292.3,140.2 L292.4,141.2 L292.5,141.5 L292.5,141.8 L292.6,141.8 L292.6,142.2 L292.7,143.5 L292.8,144.5 L292.8,145.1 L292.9,146.5 L293.0,147.6 L293.0,148.2 L293.1,149.3 L293.1,150.0 L293.2,150.3 L293.3,151.2 L293.3,152.1 L293.4,152.4 L293.4,153.1 L293.5,154.0 L293.6,154.4 L293.6,154.2 L293.7,154.2 L293.8,154.9 L294.0,154.8 L294.1,153.3 L294.2,152.0 L294.4,151.7 L294.5,151.1 L294.6,149.7 L294.8,149.0 L294.9,148.9 L295.1,147.5 L295.2,145.4 L295.3,144.3 L295.5,144.2 L295.6,144.0 L295.7,144.2 L295.9,144.3 L296.0,143.9 L296.1,144.1 L296.2,144.5 L296.2,144.7 L296.3,145.0 L296.4,145.5 L296.5,146.4 L296.5,148.0 L296.6,148.5 L296.7,148.3 L296.8,148.9 L296.8,150.2 L296.9,151.4 L297.0,152.4 L297.1,152.9 L297.1,153.7 L297.2,155.2 L297.3,156.2 L297.4,156.9 L297.4,157.8 L297.5,159.1 L297.6,159.8 L297.7,160.2 L297.7,160.4 L297.8,160.6 L297.9,161.3 L298.0,161.5 L298.1,161.5 L298.1,162.6 L298.2,163.0 L298.3,162.6 L298.3,162.0 L298.4,161.1 L298.4,161.0 L298.5,161.0 L298.5,161.3 L298.6,161.7 L298.6,160.5 L298.7,159.3 L298.7,159.0 L298.8,158.1 L298.8,157.0 L298.9,156.6 L298.9,156.3 L299.0,156.1 L299.0,155.9 L299.1,155.0 L299.1,153.9 L299.2,153.1 L299.2,152.2 L299.3,150.5 L299.3,149.5 L299.4,149.7 L299.4,149.2 L299.5,148.5 L299.5,147.8 L299.6,146.5 L299.6,146.0 L299.7,145.1 L299.7,143.4 L299.8,142.8 L299.8,142.4 L299.9,141.2 L299.9,140.2 L300.0,139.3 L300.0,138.0 L300.1,137.4 L300.1,137.5 L300.2,137.1 L300.2,136.4 L300.3,135.7 L300.3,134.6 L300.4,134.2 L300.4,134.3 L300.5,134.0 L300.5,133.8 L300.6,134.0 L300.6,133.6 L300.7,132.3 L300.7,131.5 L300.8,131.2 L300.9,131.6 L300.9,132.2 L301.0,132.8 L301.1,133.5 L301.1,132.8 L301.2,132.1 L301.3,133.4 L301.3,134.8 L301.4,134.9 L301.5,135.0 L301.5,135.4 L301.6,136.4 L301.7,137.6 L301.8,137.6 L301.8,137.9 L301.9,139.1 L302.0,140.5 L302.0,141.9 L302.1,143.1 L302.2,144.2 L302.2,144.8 L302.3,145.7 L302.4,146.9 L302.5,147.5 L302.5,147.6 L302.6,147.7 L302.7,148.1 L302.7,149.1 L302.8,150.2 L302.9,151.6 L302.9,153.4 L303.0,153.7 L303.0,153.7 L303.1,155.0 L303.2,155.7 L303.2,155.4 L303.3,155.3 L303.3,155.4 L303.4,155.7 L303.5,155.9 L303.6,155.8 L303.6,155.7 L303.7,154.9 L303.8,154.1 L303.8,153.9 L303.9,153.7 L304.0,153.0 L304.0,151.7 L304.1,150.1 L304.2,148.9 L304.2,148.2 L304.3,148.1 L304.4,147.9 L304.4,146.8 L304.5,145.6 L304.5,144.5 L304.6,143.5 L304.7,142.9 L304.7,142.3 L304.8,140.9 L304.8,140.2 L304.9,140.1 L305.0,139.7 L305.0,139.2 L305.1,138.8 L305.1,138.7 L305.2,138.3 L305.3,138.0 L305.3,138.8 L305.4,139.4 L305.5,139.2 L305.6,139.7 L305.6,141.1 L305.7,142.1 L305.8,143.0 L305.8,143.8 L305.9,144.4 L305.9,145.1 L306.0,145.5 L306.1,145.9 L306.2,147.0 L306.2,148.4 L306.3,149.0 L306.4,148.3 L306.5,149.1 L306.5,151.2 L306.6,151.4 L306.7,150.7 L306.8,151.1 L306.9,152.2 L307.0,152.9 L307.2,152.6 L307.3,151.5 L307.5,150.8 L307.7,150.0 L307.8,149.2 L308.0,149.1 L308.2,148.5 L308.4,146.6 L308.5,145.0 L308.7,144.4 L308.9,144.5 L309.0,144.8 L309.2,143.9 L309.4,142.1 L309.5,140.9 L309.7,140.7 L309.8,141.0 L309.9,141.4 L310.0,141.9 L310.1,142.1 L310.2,142.1 L310.3,142.2 L310.4,143.0 L310.5,144.3 L310.6,145.2 L310.7,146.0 L310.8,146.0 L310.9,146.5 L310.9,148.2 L311.0,149.6 L311.1,150.7 L311.2,151.2 L311.3,151.7 L311.4,152.2 L311.5,152.3 L311.8,153.0 L312.0,153.2 L312.3,151.6 L312.6,149.7 L312.9,148.7 L313.2,147.8 L313.5,147.7 L313.8,148.1 L314.0,147.5 L314.1,147.4 L314.3,148.4 L314.5,149.0 L314.7,149.4 L314.8,150.1 L315.0,151.4 L315.2,152.8 L315.3,153.2 L315.5,153.3 L315.7,153.7 L315.9,154.2 L316.1,155.2 L316.3,156.6 L316.4,157.4 L316.6,158.0 L316.8,158.5 L316.9,158.9 L317.1,159.8 L317.3,161.3 L317.5,162.4 L317.6,162.7 L317.8,162.8 L318.0,163.4 L318.2,164.4 L318.3,164.8 L318.5,165.2 L318.7,165.4 L318.8,165.2 L319.0,165.7 L319.1,165.7 L319.2,164.8 L319.4,164.1 L319.5,163.8 L319.6,164.1 L319.7,164.3 L319.8,163.4 L319.9,162.5 L320.0,161.3 L320.1,160.1 L320.2,159.4 L320.3,158.7 L320.4,157.8 L320.5,157.0 L320.7,156.2 L320.8,155.7 L320.9,155.6 L321.0,154.9 L321.2,153.7 L321.3,153.1 L321.7,152.3 L322.1,151.0 L322.5,150.1 L322.9,150.2 L323.4,150.4 L323.8,150.0 L324.3,149.6 L324.7,149.7 L324.9,150.1 L325.2,150.4 L325.4,150.6 L325.6,151.3 L325.9,152.1 L326.1,152.7 L326.3,153.7 L326.6,154.6 L326.8,154.8 L327.0,155.5 L327.3,156.6 L327.5,156.8 L327.7,156.9 L328.0,158.0 L328.2,158.8 L328.4,159.3 L328.7,158.5 L328.9,156.8 L329.1,156.4 L329.4,156.1 L329.6,155.3 L329.9,155.1 L330.1,154.3 L330.3,152.8 L330.6,152.0 L330.8,152.2 L331.0,152.6 L331.2,151.6 L331.4,150.1 L331.6,149.5 L331.9,149.4 L332.1,149.7 L332.4,150.4 L332.6,151.3 L332.8,152.4 L333.0,153.4 L333.2,154.2 L333.5,155.1 L333.7,155.4 L333.9,155.5 L334.1,156.0 L334.4,155.3 L334.6,154.1 L334.8,153.3 L335.0,152.5 L335.2,151.2 L335.5,150.0 L335.7,149.5 L335.9,149.2 L336.2,149.9 L336.3,151.0 L336.4,151.6 L336.5,151.6 L336.6,151.1 L336.7,150.9 L336.8,152.1 L336.9,153.3 L337.0,153.9 L337.1,154.4 L337.2,155.2 L337.3,156.2 L337.4,157.0 L337.6,158.0 L337.7,158.9 L337.8,159.1 L337.9,159.5 L338.0,160.6 L338.1,161.9 L338.2,162.8 L338.3,163.8 L338.4,164.7 L338.6,165.1 L338.7,165.6 L338.8,166.1 L338.9,165.8 L339.0,165.5 L339.1,166.5 L339.3,166.7 L339.4,165.6 L339.6,164.4 L339.7,163.9 L339.9,163.9 L340.0,163.1 L340.2,161.9 L340.4,160.9 L340.5,160.4 L340.7,160.1 L340.8,159.1 L341.0,158.2 L341.1,157.7 L341.3,156.9 L341.4,156.3 L341.6,155.7 L341.7,155.4 L341.9,155.2 L342.0,154.5 L342.2,155.1 L342.3,155.9 L342.5,155.8 L342.6,157.0 L342.8,158.0 L342.9,158.3 L343.0,159.1 L343.2,159.7 L343.3,160.5 L343.4,161.2 L343.6,161.5 L343.7,162.1 L343.9,162.7 L344.0,163.3 L344.1,164.1 L344.3,164.7 L344.4,164.8 L344.5,164.3 L344.6,163.4 L344.7,163.4 L344.8,163.1 L345.0,161.2 L345.1,160.4 L345.2,161.1 L345.3,160.3 L345.4,158.8 L345.5,158.0 L345.6,156.8 L345.7,155.1 L345.9,154.5 L346.0,154.5 L346.1,154.1 L346.2,153.4 L346.4,152.4 L346.5,151.4 L346.6,151.1 L346.8,151.3 L346.9,151.3 L347.0,151.7 L347.2,152.5 L347.3,152.4 L347.5,152.1 L347.6,152.7 L347.8,152.8 L347.9,153.5 L348.1,155.5 L348.3,156.1 L348.4,156.1 L348.6,157.1 L348.8,159.0 L348.9,160.5 L349.1,161.0 L349.3,160.7 L349.4,160.9 L349.6,162.2 L349.7,163.6 L349.9,163.9 L350.1,163.8 L350.2,164.6 L350.3,165.2 L350.5,165.3 L350.6,166.1 L350.8,166.6 L350.9,165.8 L351.1,164.5 L351.2,163.8 L351.3,163.2 L351.5,162.6 L351.6,162.0 L351.7,160.9 L351.8,159.7 L351.9,158.7 L352.0,157.2 L352.1,156.0 L352.3,155.6 L352.4,155.4 L352.5,155.1 L352.6,154.7 L352.8,154.6 L352.9,155.1 L353.0,154.7 L353.0,154.8 L353.1,156.1 L353.2,156.7 L353.3,156.2 L353.3,155.8 L353.4,156.8 L353.5,158.2 L353.6,158.8 L353.6,159.4 L353.7,160.2 L353.8,160.7 L353.9,161.7 L353.9,163.2 L354.0,164.2 L354.1,164.9 L354.2,165.9 L354.3,166.9 L354.3,167.4 L354.4,167.5 L354.5,168.7 L354.6,170.2 L354.7,171.1 L354.7,171.8 L354.8,171.7 L354.9,171.7 L355.0,172.7 L355.1,173.3 L355.1,173.7 L355.2,173.8 L355.3,174.2 L355.4,175.4 L355.5,175.8 L355.5,175.3 L355.6,175.5 L355.7,176.3 L355.8,176.7 L355.9,176.7 L356.0,176.5 L356.1,176.1 L356.2,175.1 L356.2,174.1 L356.3,174.2 L356.4,173.7 L356.5,172.4 L356.6,172.0 L356.7,171.7 L356.8,170.7 L356.9,169.9 L357.0,168.3 L357.1,166.8 L357.2,166.3 L357.3,165.9 L357.4,165.0 L357.5,163.3 L357.6,162.3 L357.6,161.7 L357.7,161.0 L357.8,160.6 L357.9,160.0 L358.0,159.3 L358.1,159.0 L358.2,158.6 L358.3,157.8 L358.4,157.5 L358.4,157.6 L358.5,157.3 L358.6,157.1 L358.7,157.3 L358.8,157.4 L358.9,157.5 L359.0,158.0 L359.1,158.9 L359.1,159.3 L359.2,159.5 L359.3,160.4 L359.4,161.5 L359.4,162.2 L359.5,162.4 L359.6,163.0 L359.6,164.6 L359.7,165.8 L359.8,166.5 L359.9,167.6 L360.0,168.5 L360.1,169.2 L360.2,169.8 L360.3,170.2 L360.4,170.8 L360.5,171.9 L360.6,172.5 L360.8,172.3 L360.9,171.9 L361.0,171.4 L361.2,171.5 L361.3,171.9 L361.5,171.5 L361.6,170.5 L361.8,169.7 L362.0,168.8 L362.1,168.2 L362.3,167.9 L362.5,167.4 L362.7,166.5 L362.9,164.5 L363.1,163.1 L363.3,162.9 L363.5,162.7 L363.7,161.9 L363.9,160.1 L364.0,158.8 L364.2,158.6 L364.4,158.4 L364.6,158.4 L364.8,157.6 L365.0,156.3 L365.2,156.2 L365.3,156.1 L365.5,155.0 L365.7,153.4 L365.8,152.8 L366.0,153.2 L366.1,153.8 L366.3,154.2 L366.5,154.5 L366.7,154.6 L366.8,154.4 L367.0,154.8 L367.1,155.9 L367.3,156.3 L367.4,156.7 L367.5,157.9 L367.7,159.1 L367.8,160.0 L367.9,161.4 L368.0,161.8 L368.2,161.5 L368.3,162.2 L368.4,163.4 L368.6,164.2 L368.7,164.8 L368.8,165.5 L369.0,166.0 L369.7,167.1 L370.3,167.4 L371.0,168.0 L371.7,168.7 L372.4,167.7 L372.5,167.1 L372.6,166.9 L372.7,166.6 L372.8,166.0 L372.9,165.2 L373.0,164.1 L373.1,163.3 L373.3,163.0 L373.4,162.6 L373.5,161.7 L373.6,160.4 L373.7,159.4 L373.8,158.1 L373.9,157.2 L374.0,157.0 L374.1,156.0 L374.2,154.5 L374.3,153.9 L374.4,153.7 L374.5,152.9 L374.6,152.2 L374.7,151.7 L374.8,150.5 L374.9,149.6 L375.0,149.6 L375.1,149.1 L375.2,148.0 L375.3,146.6 L375.4,146.2 L375.5,147.4 L375.6,148.0 L375.7,148.2 L375.8,148.8 L375.9,149.5 L375.9,150.2 L376.0,150.1 L376.1,149.6 L376.2,150.0 L376.3,151.4 L376.4,152.8 L376.4,153.4 L376.5,153.1 L376.6,153.6 L376.7,154.9 L376.8,156.1 L376.8,157.3 L376.9,158.3 L377.0,158.7 L377.1,158.9 L377.1,159.5 L377.2,161.0 L377.3,162.3 L377.4,163.2 L377.5,163.9 L377.5,164.7 L377.6,165.7 L377.7,166.2 L377.8,166.2 L377.8,166.5 L377.9,167.2 L378.0,168.1 L378.1,168.8 L378.1,168.8 L378.2,168.2 L378.3,167.7 L378.4,168.1 L378.4,167.9 L378.5,166.5 L378.6,165.5 L378.6,165.9 L378.7,166.6 L378.8,166.1 L378.8,164.8 L378.9,163.6 L379.0,162.9 L379.0,162.2 L379.1,160.8 L379.2,159.3 L379.2,158.3 L379.3,158.4 L379.4,157.9 L379.4,156.3 L379.5,155.9 L379.6,155.6 L379.7,154.4 L379.8,153.6 L379.8,153.0 L379.9,152.2 L380.0,150.9 L380.1,150.8 L380.3,152.2 L380.4,152.1 L380.5,151.0 L380.6,151.3 L380.7,151.5 L380.8,151.5 L380.9,151.3 L381.0,152.0 L381.1,153.3 L381.2,153.4 L381.3,153.8 L381.4,155.0 L381.5,155.8 L381.7,155.9 L381.8,156.7 L381.9,157.5 L382.0,157.6 L382.2,158.4 L382.3,159.6 L382.4,160.7 L382.6,161.4 L382.7,161.6 L382.8,162.6 L383.0,163.4 L383.1,163.8 L383.2,164.6 L383.4,165.4 L383.5,166.8 L383.6,168.1 L383.8,168.7 L383.9,169.6 L384.0,170.4 L384.1,170.7 L384.3,171.4 L384.4,172.4 L384.5,173.0 L384.6,173.3 L384.8,174.0 L384.9,174.6 L385.0,174.4 L385.1,174.6 L385.2,175.7 L385.3,175.7 L385.4,175.2 L385.5,176.1 L385.6,177.2 L385.7,176.9 L385.8,176.3 L385.9,175.7 L386.0,175.2 L386.1,175.4 L386.1,175.5 L386.2,175.0 L386.3,174.3 L386.4,173.6 L386.5,173.0 L386.5,172.6 L386.6,171.4 L386.7,169.5 L386.7,168.8 L386.8,169.1 L386.9,169.1 L386.9,168.1 L387.0,166.6 L387.1,165.5 L387.1,164.5 L387.2,163.4 L387.3,163.0 L387.3,162.5 L387.4,161.7 L387.4,160.8 L387.5,159.3 L387.5,158.4 L387.6,158.3 L387.7,157.6 L387.7,156.3 L387.8,155.0 L387.8,155.0 L387.9,155.4 L387.9,154.9 L388.0,154.2 L388.1,153.6 L388.1,153.0 L388.2,152.5 L388.2,152.6 L388.3,153.1 L388.4,153.1 L388.4,152.9 L388.5,152.8 L388.6,152.6 L388.7,152.6 L388.7,153.3 L388.8,153.8 L388.9,154.5 L388.9,155.7 L389.0,156.6 L389.1,156.7 L389.1,157.8 L389.2,158.9 L389.3,159.2 L389.3,160.0 L389.4,161.1 L389.4,162.5 L389.5,163.6 L389.6,164.2 L389.6,165.0 L389.7,166.2 L389.8,166.3 L389.8,165.6 L389.9,166.4 L390.0,168.2 L390.0,169.6 L390.1,170.9 L390.2,171.2 L390.2,170.6 L390.3,170.8 L390.4,172.0 L390.4,172.3 L390.5,172.3 L390.6,173.1 L390.8,173.3 L390.9,172.8 L391.1,171.6 L391.2,170.2 L391.4,170.2 L391.5,170.4 L391.7,168.8 L391.8,166.5 L392.0,165.2 L392.1,164.6 L392.3,163.6 L392.5,162.5 L392.6,161.6 L392.8,161.8 L393.0,162.3 L393.1,162.2 L393.3,162.0 L393.5,162.4 L393.6,163.5 L393.8,164.6 L394.0,164.5 L394.1,164.5 L394.3,165.7 L394.5,167.0 L394.7,167.8 L394.9,168.9 L395.0,170.8 L395.2,172.3 L395.4,173.0 L395.6,173.6 L395.7,173.6 L395.9,173.2 L396.1,173.1 L396.2,173.7 L396.4,174.9 L396.5,175.4 L396.7,174.9 L396.8,174.7 L396.9,174.6 L397.1,173.9 L397.2,173.3 L397.3,172.5 L397.5,171.2 L397.6,170.3 L397.7,170.0 L397.8,169.8 L397.9,168.9 L398.0,167.7 L398.2,166.1 L398.3,164.7 L398.4,164.3 L398.5,163.9 L398.7,163.5 L398.8,164.0 L398.9,164.0 L399.0,163.7 L399.2,164.0 L399.3,165.4 L399.4,166.8 L399.5,167.4 L399.7,168.2 L399.8,169.1 L399.9,169.5 L400.0,169.9 L400.2,170.7 L400.3,171.7 L400.4,172.6 L400.6,173.6 L400.7,174.6 L400.9,175.5 L401.0,176.2 L401.1,176.9 L401.3,177.0 L401.4,177.0 L401.6,177.4 L401.7,176.7 L401.8,176.3 L401.9,177.2 L402.0,177.1 L402.1,175.8 L402.2,175.5 L402.3,175.1 L402.5,174.9 L402.6,174.5 L402.7,173.1 L402.8,172.5 L402.9,172.6 L403.0,171.9 L403.1,170.7 L403.3,169.3 L403.4,168.2 L403.5,167.6 L403.6,167.1 L403.7,166.4 L403.8,166.4 L404.0,165.8 L404.1,163.9 L404.2,163.0 L404.3,162.4 L404.4,161.5 L404.5,161.0 L404.6,160.1 L404.7,159.4 L404.8,159.9 L404.9,160.1 L405.0,159.5 L405.1,158.9 L405.4,158.1 L405.6,157.6 L405.8,157.9 L406.0,159.1 L406.3,159.8 L406.5,159.7 L406.7,160.6 L406.8,162.3 L407.0,163.0 L407.2,163.7 L407.4,165.0 L407.6,165.7 L407.7,166.2 L407.9,167.0 L408.0,168.4 L408.2,169.6 L408.3,169.2 L408.5,169.7 L408.6,171.2 L408.8,171.5 L408.9,171.3 L409.1,171.6 L409.4,172.3 L409.6,172.9 L409.9,173.0 L410.2,172.2 L410.5,171.1 L410.8,170.3 L411.1,169.1 L411.4,167.4 L411.5,167.0 L411.6,166.9 L411.7,166.3 L411.8,165.2 L411.9,164.2 L411.9,164.0 L412.0,164.2 L412.1,163.4 L412.2,162.8 L412.3,162.9 L412.4,162.5 L412.4,161.4 L412.5,160.1 L412.6,159.1 L412.7,158.5 L412.8,158.2 L412.9,157.5 L412.9,156.7 L413.0,156.5 L413.1,156.2 L413.2,155.0 L413.3,153.2 L413.4,152.4 L413.6,152.2 L413.7,151.3 L413.8,151.5 L413.9,151.8 L414.0,150.1 L414.2,148.6 L414.3,148.4 L414.4,147.8 L414.5,146.7 L414.7,145.8 L414.8,146.0 L414.9,146.4 L415.1,145.7 L415.6,144.9 L416.2,145.3 L416.8,146.2 L417.3,147.3 L417.8,148.2 L418.0,148.1 L418.2,147.7 L418.4,147.7 L418.6,148.5 L418.8,149.8 L419.0,150.3 L419.1,151.1 L419.3,152.7 L419.5,153.3 L419.6,153.1 L419.7,153.3 L419.8,154.1 L419.9,155.7 L420.0,156.6 L420.1,156.4 L420.1,157.3 L420.2,158.1 L420.3,158.1 L420.4,158.7 L420.5,159.3 L420.6,159.5 L420.7,160.4 L420.8,161.8 L420.9,162.3 L421.1,162.1 L421.2,162.4 L421.4,163.4 L421.6,164.6 L421.8,166.0 L422.0,166.9 L422.3,167.0 L422.5,167.2 L422.8,168.3 L423.0,168.9 L423.3,169.4 L423.5,170.1 L423.7,170.4 L423.9,170.6 L424.1,170.6 L424.2,170.6 L424.4,170.0 L424.5,169.2 L424.6,168.8 L424.7,167.6 L424.8,165.9 L424.9,165.6 L425.0,165.8 L425.0,164.8 L425.1,163.3 L425.2,162.1 L425.4,161.4 L425.5,160.8 L425.6,159.8 L425.8,160.0 L425.9,161.3 L426.0,161.9 L426.1,162.0 L426.3,163.0 L426.4,164.0 L426.5,164.2 L426.7,164.5 L426.8,164.7 L426.9,165.6 L427.1,167.4 L427.2,168.0 L427.4,167.8 L427.5,168.5 L427.7,170.3 L427.8,172.0 L428.0,172.7 L428.1,173.1 L428.3,173.7 L428.4,174.0 L428.6,174.1 L428.7,174.7 L428.9,175.0 L429.0,175.1 L429.2,175.7 L429.3,176.4 L429.5,176.1 L429.6,175.5 L429.8,175.3 L429.9,174.9 L430.1,174.4 L430.2,173.7 L430.4,173.1 L430.5,172.4 L430.7,171.0 L430.8,169.6 L431.0,168.6 L431.2,168.0 L431.3,167.4 L431.4,166.5 L431.6,165.4 L431.7,164.6 L431.9,164.1 L432.0,164.1 L432.1,163.9 L432.3,164.0 L432.4,163.7 L432.5,163.3 L432.6,163.8 L432.7,163.2 L432.8,162.6 L432.9,163.6 L432.9,165.0 L433.0,165.4 L433.1,164.4 L433.2,164.3 L433.2,166.1 L433.3,167.3 L433.4,168.0 L433.4,169.6 L433.5,171.1 L433.6,171.7 L433.6,172.1 L433.7,172.3 L433.8,172.6 L433.8,174.2 L433.9,176.1 L434.0,176.9 L434.1,176.9 L434.1,176.9 L434.2,177.5 L434.3,177.7 L434.4,177.3 L434.8,178.3 L435.2,178.5 L435.6,177.1 L436.0,175.9 L436.5,175.0 L436.9,174.5 L437.3,174.6 L437.5,174.7 L437.7,175.3 L437.9,176.2 L438.1,176.9 L438.3,177.5 L438.5,178.6 L438.7,179.2 L438.9,179.3 L439.1,179.3 L439.3,179.7 L439.6,180.5 L439.8,180.7 L440.1,181.2 L440.4,180.8 L440.7,179.0 L441.0,178.1 L441.3,177.5 L441.6,177.0 L441.9,176.2 L442.2,175.3 L442.5,175.0 L442.8,174.8 L443.1,174.5 L443.4,173.9 L443.6,173.4 L443.9,174.1 L444.2,174.8 L444.4,173.8 L444.6,173.4 L444.8,175.1 L445.0,176.4 L445.2,177.4 L445.4,178.6 L445.7,179.3 L445.9,179.6 L446.1,180.1 L446.3,181.2 L446.4,181.5 L446.6,181.8 L446.8,182.8 L447.0,183.3 L447.2,184.2 L447.4,185.4 L447.6,185.5 L447.8,186.2 L448.0,187.8 L448.2,188.0 L448.4,187.2 L448.6,187.4 L448.8,188.1 L448.9,188.4 L449.1,188.0 L449.2,187.5 L449.3,187.0 L449.5,186.9 L449.6,186.8 L449.8,185.5 L449.9,183.7 L450.0,182.1 L450.2,180.9 L450.3,180.4 L450.5,180.0 L450.6,179.3 L450.7,178.6 L450.9,177.9 L451.0,176.8 L451.1,176.3 L451.2,175.8 L451.4,174.8 L451.5,174.3 L451.6,174.4 L451.7,174.9 L452.0,174.4 L452.3,174.1 L452.5,175.0 L452.7,176.5 L452.9,178.2 L453.2,179.4 L453.4,179.4 L453.6,178.9 L453.7,177.9 L453.8,176.6 L454.0,176.3 L454.1,175.9 L454.3,174.6 L454.4,173.3 L454.6,172.3 L454.8,171.9 L454.9,171.2 L455.1,170.7 L455.3,171.6 L455.6,173.2 L455.8,174.7 L456.1,175.7 L456.3,175.9 L456.6,176.3 L456.9,177.1 L457.1,178.1 L457.4,177.9 L457.6,177.0 L457.8,176.7 L458.0,176.1 L458.3,175.1 L458.5,174.4 L458.7,173.4 L458.9,172.3 L459.1,171.3 L459.3,170.9 L459.5,171.4 L459.7,171.6 L459.8,171.2 L459.9,171.3 L460.0,171.9 L460.1,173.0 L460.2,173.8 L460.3,174.1 L460.4,174.9 L460.5,175.8 L460.6,176.6 L460.6,177.7 L460.7,179.4 L460.8,180.6 L460.9,180.5 L461.0,180.6 L461.1,181.5 L461.3,181.6 L461.4,181.4 L461.5,181.5 L461.7,181.3 L461.9,181.4 L462.1,180.7 L462.2,179.5 L462.4,179.1 L462.6,178.8 L462.8,177.3 L463.0,176.1 L463.2,175.7 L463.4,174.8 L463.6,174.0 L463.8,173.1 L464.0,172.0 L464.1,172.3 L464.3,173.2 L464.5,173.0 L464.8,172.6 L465.0,173.2 L465.2,174.4 L465.4,175.1 L465.5,176.2 L465.7,176.7 L465.9,176.9 L466.1,177.9 L466.3,178.2 L466.5,177.7 L466.7,176.7 L466.8,175.5 L467.0,175.4 L467.2,175.5 L467.4,174.7 L467.6,173.2 L467.7,172.0 L467.9,171.7 L468.1,172.5 L468.3,173.0 L468.4,171.8 L468.5,171.0 L468.6,172.5 L468.6,173.5 L468.7,173.1 L468.8,173.1 L468.9,173.9 L469.0,175.7 L469.1,177.6 L469.2,177.6 L469.3,176.8 L469.4,177.6 L469.5,179.1 L469.6,179.6 L469.7,180.0 L469.8,181.2 L469.9,182.2 L470.0,183.3 L470.1,184.4 L470.1,184.6 L470.2,184.6 L470.3,185.1 L470.4,185.9 L470.5,186.8 L470.5,187.9 L470.6,188.5 L471.1,189.5 L471.7,188.2 L471.8,187.7 L472.0,186.3 L472.1,186.0 L472.3,186.2 L472.5,185.0 L472.7,183.8 L472.9,183.4 L473.1,182.6 L473.3,181.5 L473.4,181.3 L473.6,181.2 L473.8,180.2 L474.0,179.7 L474.4,179.1 L474.8,177.7 L475.2,176.6 L475.5,176.7 L475.9,176.7 L476.3,175.8 L476.7,175.3 L477.1,176.9 L477.5,179.4 L477.9,180.9 L478.3,181.4 L478.6,180.7 L478.7,179.5 L478.7,178.7 L478.8,178.9 L478.8,178.7 L478.9,178.1 L478.9,177.6 L478.9,177.0 L479.0,176.7 L479.0,176.2 L479.1,175.4 L479.1,174.6 L479.1,173.6 L479.2,173.5 L479.2,173.5 L479.2,172.4 L479.3,171.7 L479.3,171.2 L479.3,169.8 L479.4,168.7 L479.4,167.8 L479.4,167.0 L479.5,166.2 L479.5,166.2 L479.5,166.5 L479.6,165.3 L479.6,163.6 L479.7,162.9 L479.7,162.1 L479.7,161.5 L479.8,161.2 L479.9,160.3 L479.9,160.3 L480.0,160.7 L480.1,159.5 L480.1,157.6 L480.2,156.6 L480.3,156.1 L480.4,155.7 L480.4,155.3 L480.5,155.0 L480.6,154.1 L480.7,152.8 L480.8,152.2 L480.9,152.0 L480.9,150.6 L481.0,149.2 L481.1,149.0 L481.2,148.9 L481.3,148.1 L481.3,147.6 L481.4,147.6 L481.5,147.2 L481.6,146.6 L481.6,146.7 L481.7,146.5 L481.8,146.1 L481.9,145.9 L482.0,146.2 L482.0,146.7 L482.1,147.5 L482.2,148.3 L482.2,148.9 L482.3,149.2 L482.4,149.4 L482.5,150.1 L482.5,151.3 L482.6,152.6 L482.7,153.5 L482.8,154.1 L482.8,154.9 L482.9,156.0 L483.0,157.1 L483.1,157.5 L483.2,157.7 L483.3,158.5 L483.3,159.3 L483.4,159.5 L483.4,160.1 L483.5,161.3 L483.6,162.5 L483.6,162.9 L483.7,162.5 L483.8,163.0 L483.8,164.4 L483.9,164.7 L484.0,165.0 L484.0,166.0 L484.1,166.6 L484.2,167.8 L484.2,169.1 L484.3,170.2 L484.4,170.4 L484.4,170.6 L484.5,171.2 L484.6,171.7 L484.7,172.5 L484.7,173.6 L484.8,173.9 L484.9,174.0 L485.0,175.2 L485.0,176.2 L485.1,176.2 L485.2,177.3 L485.3,178.3 L485.3,177.9 L485.4,178.0 L485.5,178.1 L485.9,178.6 L486.3,179.3 L486.7,179.0 L487.1,177.6 L487.6,176.5 L488.0,176.0 L488.4,175.2 L488.7,174.0 L489.0,173.0 L489.2,172.5 L489.5,171.7 L489.8,171.4 L490.1,171.2 L490.4,170.6 L490.6,170.4 L490.9,170.1 L491.1,169.4 L491.3,168.8 L491.6,168.6 L491.8,169.7 L491.9,171.5 L492.0,172.2 L492.2,172.1 L492.4,172.0 L492.5,171.4 L492.6,170.7 L492.7,169.7 L492.9,168.7 L493.0,168.1 L493.1,168.0 L493.2,167.5 L493.4,166.3 L493.5,165.1 L493.7,164.0 L493.8,163.3 L493.9,162.7 L494.1,162.4 L494.2,162.9 L494.4,163.3 L494.5,163.2 L494.6,163.1 L494.7,163.6 L494.7,164.5 L494.8,164.6 L494.9,164.4 L495.0,164.8 L495.1,165.7 L495.2,166.7 L495.3,167.7 L495.4,168.7 L495.5,169.1 L495.6,169.8 L495.7,170.9 L495.8,172.1 L495.9,173.1 L496.0,173.3 L496.1,173.7 L496.2,174.8 L496.3,176.1 L496.4,177.2 L496.5,176.9 L496.5,177.0 L496.6,178.1 L496.7,179.1 L496.8,179.4 L496.9,179.2 L497.0,179.1 L497.2,179.4 L497.4,179.4 L497.7,179.5 L497.9,179.4 L498.1,178.2 L498.3,176.3 L498.5,175.3 L498.7,175.3 L498.9,175.1 L499.1,173.8 L499.3,173.1 L499.4,173.9 L499.6,173.9 L499.7,173.7 L499.8,174.6 L499.9,176.0 L500.0,176.9 L500.1,177.1 L500.3,178.7 L500.4,180.5 L500.5,181.3 L500.6,181.8 L500.7,182.0 L500.9,181.8 L501.0,181.5 L501.2,181.1 L501.4,180.9 L501.7,181.1 L501.9,180.5 L502.1,179.9 L502.4,179.6 L502.6,178.8 L502.9,177.4 L503.1,175.9 L503.3,175.6 L503.5,176.2 L503.7,176.4 L503.8,177.2 L504.0,178.3 L504.2,179.2 L504.3,180.6 L504.5,182.3 L504.6,183.1 L504.8,182.7 L504.9,182.4 L505.1,182.6 L505.2,182.3 L505.3,182.1 L505.4,182.3 L505.6,182.1 L505.7,181.2 L505.8,180.4 L505.9,179.8 L506.0,178.4 L506.1,176.7 L506.2,175.8 L506.3,175.7 L506.5,175.3 L506.6,174.2 L506.7,173.1 L506.8,172.6 L506.9,173.0 L507.0,173.7 L507.1,174.5 L507.3,175.6 L507.4,176.6 L507.5,178.0 L507.6,178.8 L507.7,179.0 L507.8,180.1 L507.9,181.6 L508.1,182.6 L508.2,183.7 L508.3,184.2 L508.5,183.5 L508.6,183.2 L508.8,183.1 L509.0,181.8 L509.1,180.7 L509.3,180.5 L509.5,179.5 L509.7,178.2 L509.9,177.9 L510.0,177.6 L510.2,176.2 L510.4,174.8 L510.6,174.5 L510.8,174.6 L510.9,174.6 L511.1,174.2 L511.3,173.7 L511.4,173.3 L511.6,173.5 L511.8,173.5 L512.0,173.6 L512.2,174.5 L512.4,175.7 L512.5,175.7 L512.7,175.1 L512.9,175.5 L513.1,177.5 L513.2,179.1 L513.3,179.9 L513.4,180.4 L513.5,180.7 L513.7,181.1 L513.8,181.8 L513.9,182.7 L514.0,183.6 L514.2,184.1 L514.3,184.3 L514.4,185.4 L514.5,187.1 L514.7,187.9 L514.8,188.1 L514.9,188.3 L515.0,188.9 L515.2,189.4 L515.3,189.2 L515.4,189.1 L515.5,189.7 L515.6,189.4 L515.8,188.2 L515.9,188.0 L516.0,188.1 L516.1,186.9 L516.2,185.7 L516.4,185.2 L516.5,184.9 L516.6,184.4 L516.7,183.5 L516.9,182.1 L517.0,181.2 L517.1,180.8 L517.3,180.0 L517.4,179.0 L517.5,178.4 L517.7,178.0 L518.0,177.1 L518.4,176.4 L518.8,176.1 L519.2,175.2 L519.6,173.7 L520.0,172.5 L520.4,172.8 L520.8,173.9 L521.1,174.2 L521.2,174.3 L521.4,175.8 L521.5,176.5 L521.6,176.2 L521.7,176.5 L521.8,177.0 L521.9,178.0 L522.0,179.3 L522.1,180.3 L522.2,180.8 L522.3,181.3 L522.4,182.3 L522.6,183.2 L522.7,183.8 L522.8,184.4 L522.9,184.8 L523.0,185.6 L523.1,186.2 L523.3,186.0 L523.4,185.5 L523.6,184.7 L523.7,185.4 L523.9,186.1 L524.1,184.7 L524.3,183.8 L524.4,183.7 L524.6,182.8 L524.8,181.6 L525.0,181.1 L525.2,180.7 L525.4,179.2 L525.6,178.1 L525.8,178.4 L526.0,178.3 L526.2,177.1 L526.4,175.7 L526.6,175.2 L526.7,175.0 L526.9,174.4 L527.3,174.7 L527.8,175.5 L528.2,175.8 L528.6,176.5 L529.0,177.3 L529.4,178.0 L529.8,178.8 L530.3,179.2 L530.8,179.3 L531.2,179.6 L531.7,180.3 L532.2,180.9 L532.6,180.8 L532.9,181.5 L533.2,182.6 L533.4,182.9 L533.7,183.6 L533.9,184.1 L534.2,184.3 L534.4,185.5 L534.7,186.4 L534.9,186.4 L535.1,186.4 L535.4,185.8 L535.6,184.2 L535.8,182.8 L536.0,182.4 L536.2,182.2 L536.4,182.0 L536.7,181.9 L536.8,181.4 L536.9,181.4 L537.0,182.0 L537.2,182.8 L537.3,183.8 L537.4,185.1 L537.5,185.6 L537.7,185.7 L537.8,186.5 L537.9,186.8 L538.1,187.3 L538.2,188.5 L538.3,189.2 L538.5,190.2 L538.6,191.7 L538.7,193.2 L538.9,194.3 L539.0,194.2 L539.1,193.7 L539.3,193.3 L539.4,193.2 L539.5,194.0 L539.8,195.2 L540.0,195.4 L540.2,194.0 L540.5,192.5 L540.7,192.1 L540.9,191.6 L541.1,190.8 L541.3,189.7 L541.6,188.4 L541.8,187.9 L542.0,188.5 L542.3,189.6 L542.5,190.9 L542.7,192.2 L542.9,192.6 L543.2,192.4 L543.4,192.8 L543.7,193.7 L544.1,193.5 L544.2,193.1 L544.4,193.0 L544.6,192.8 L544.7,192.4 L544.9,191.5 L545.1,191.0 L545.3,190.5 L545.4,189.4 L545.6,188.9 L545.8,188.5 L546.0,187.8 L546.2,187.4 L546.4,186.6 L546.6,186.1 L546.8,185.5 L547.0,184.1 L547.2,183.4 L547.4,183.1 L547.6,182.9 L547.8,182.7 L548.0,181.7 L548.2,180.7 L548.4,180.6 L548.5,180.7 L548.7,180.4 L548.9,180.1 L549.0,181.1 L549.2,182.3 L549.3,182.2 L549.5,181.3 L549.6,180.8 L549.7,181.7 L549.9,183.6 L550.0,185.0 L550.2,185.4 L550.3,185.7 L550.4,187.2 L550.6,188.4 L550.7,188.7 L550.8,189.4 L550.9,190.6 L551.1,191.6 L551.2,192.7 L551.3,193.0 L551.5,192.8 L551.6,193.5 L551.8,194.0 L551.9,194.1 L552.1,194.6 L552.2,194.8 L552.4,194.8 L552.6,194.7 L552.7,194.3 L552.9,193.9 L553.1,193.3 L553.3,192.6 L553.5,191.7 L553.7,191.1 L553.9,190.8 L554.1,190.0 L554.3,188.9 L554.5,187.8 L554.7,186.8 L554.9,185.9 L555.0,184.4 L555.2,183.1 L555.4,182.4 L555.6,182.2 L555.7,182.4 L555.9,182.5 L556.1,182.7 L556.2,182.3 L556.4,181.9 L556.5,181.7 L556.6,182.0 L556.8,183.3 L556.9,184.0 L557.0,183.5 L557.1,183.3 L557.2,184.4 L557.3,186.2 L557.4,187.9 L557.5,188.4 L557.6,188.2 L557.7,189.1 L557.8,191.0 L557.9,192.1 L558.0,192.3 L558.1,192.8 L558.2,193.4 L558.3,193.1 L558.4,193.2 L558.5,194.3 L558.6,194.2 L558.7,193.2 L558.8,192.4 L559.0,192.1 L559.1,192.1 L559.2,191.5 L559.3,190.4 L559.4,188.9 L559.5,188.1 L559.6,188.2 L559.7,187.4 L559.8,186.5 L560.0,186.1 L560.1,185.4 L560.2,183.7 L560.3,182.3 L560.4,182.1 L560.6,181.8 L560.7,181.8 L560.9,182.3 L561.1,182.4 L561.3,182.4 L561.5,183.1 L561.7,184.4 L561.9,185.7 L562.2,186.1 L562.4,186.2 L562.6,187.2 L562.8,188.5 L563.0,189.4 L563.2,190.0 L563.4,190.4 L563.6,190.5 L563.8,190.4 L564.0,190.5 L564.2,190.0 L564.4,188.2 L564.6,186.7 L564.8,186.2 L565.0,185.6 L565.2,184.6 L565.3,183.6 L565.5,183.3 L565.7,183.6 L565.9,183.4 L566.2,182.8 L566.5,183.0 L566.8,183.6 L567.1,184.8 L567.4,186.1 L567.7,186.9 L567.9,187.1 L568.2,186.8 L568.3,186.4 L568.4,186.0 L568.5,185.9 L568.7,185.4 L568.8,184.4 L568.9,183.8 L569.0,183.4 L569.0,183.1 L569.1,183.0 L569.2,181.8 L569.3,180.5 L569.4,180.1 L569.6,179.8 L569.7,179.6 L569.8,178.6 L569.9,177.8 L570.0,178.1 L570.2,178.8 L570.3,179.4 L570.4,179.5 L570.5,179.3 L570.7,179.7 L570.8,181.0 L570.9,182.2 L571.1,183.5 L571.2,185.1 L571.4,186.0 L571.5,186.3 L571.7,186.5 L571.9,186.5 L572.0,186.9 L572.2,187.6 L572.4,187.4 L572.5,186.7 L572.7,186.4 L572.9,186.0 L573.0,185.9 L573.2,185.4 L573.4,184.4 L573.6,184.0 L573.8,183.3 L574.0,182.1 L574.2,181.3 L574.4,180.3 L574.6,178.7 L574.8,177.2 L574.9,176.5 L575.1,176.4 L575.3,176.5 L575.5,176.9 L575.7,177.3 L575.9,177.5 L576.1,178.1 L576.2,178.7 L576.4,178.7 L576.6,178.8 L576.8,179.4 L577.0,180.3 L577.2,180.8 L577.3,181.2 L577.5,181.9 L577.7,183.3 L577.9,184.4 L578.1,185.2 L578.2,186.6 L578.4,187.5 L578.6,187.3 L578.8,187.1 L578.9,187.7 L579.1,188.1 L579.3,188.0 L579.5,187.5 L579.7,187.2 L579.9,186.8 L580.0,186.0 L580.2,185.0 L580.4,183.8 L580.6,182.4 L580.8,180.8 L580.9,179.3 L581.1,178.6 L581.3,178.6 L581.5,178.9 L581.7,179.2 L581.8,178.7 L582.0,178.0 L582.1,177.9 L582.3,178.2 L582.4,179.1 L582.5,180.2 L582.6,180.4 L582.8,180.8 L582.9,181.3 L583.0,181.7 L583.1,182.4 L583.3,183.1 L583.4,184.5 L583.5,185.8 L583.6,186.5 L583.7,187.4 L583.9,187.9 L584.0,188.4 L584.1,189.6 L584.2,190.4 L584.3,190.6 L584.5,190.8 L584.6,191.2 L584.7,192.3 L584.9,192.5 L585.1,191.0 L585.3,190.2 L585.5,189.8 L585.7,188.6 L585.9,187.6 L586.1,187.0 L586.3,186.2 L586.6,185.5 L586.8,185.2 L587.0,184.6 L587.2,184.7 L587.5,185.5 L587.7,185.6 L588.0,185.6 L588.3,186.4 L588.5,187.2 L588.8,188.2 L589.1,188.9 L589.3,189.7 L589.6,190.8 L589.9,191.4 L590.1,191.5 L590.4,191.4 L590.7,191.2 L591.0,190.3 L591.2,189.2 L591.5,188.6 L591.8,187.7 L592.1,186.9 L592.4,187.2 L592.6,188.0 L592.9,187.7 L593.1,187.5 L593.3,188.6 L593.6,189.5 L593.9,190.1 L594.1,191.0 L594.4,191.5 L594.7,191.7 L595.0,192.7 L595.2,193.6 L595.5,193.3 L595.8,193.1 L596.1,193.2 L596.4,193.2 L596.7,192.8 L597.0,191.7 L597.3,190.3 L597.6,189.5 L598.0,189.8 L598.3,189.6 L598.6,188.8 L598.9,187.6 L599.2,186.7 L599.5,187.3 L599.8,187.6 L600.0,187.1 L600.2,187.5 L600.3,187.7 L600.5,187.7 L600.7,188.1 L600.8,189.0 L601.0,190.4 L601.2,191.6 L601.3,192.5 L601.5,193.2 L601.7,193.8 L601.8,194.8 L602.0,196.0 L602.2,196.8 L602.3,197.7 L602.5,198.4 L602.6,197.9 L602.8,197.7 L603.0,199.0 L603.1,200.0 L603.3,199.9 L603.6,199.7 L603.9,199.9 L604.2,199.4 L604.5,198.0 L604.8,197.4 L605.2,197.9 L605.5,197.8 L605.8,196.2 L606.1,194.6 L606.4,193.7 L606.7,192.9 L607.0,192.5 L607.3,192.2 L607.6,191.7 L607.9,191.0 L608.2,189.7 L608.5,189.5 L608.8,189.5 L609.1,189.0 L609.4,188.4 L609.7,187.8 L610.0,187.2 L610.2,186.6 L610.6,186.6 L611.0,187.1 L611.4,187.6 L611.7,188.0 L612.1,188.0 L612.5,188.1 L612.7,189.4 L612.9,191.4 L613.1,192.4 L613.4,192.9 L613.6,193.8 L613.8,195.0 L614.1,195.4 L614.3,195.7 L614.6,196.5 L614.9,196.9 L615.1,196.6 L615.4,196.6 L615.6,197.1 L615.9,197.9 L616.0,198.1 L616.2,197.6 L616.4,196.7 L616.5,196.4 L616.7,196.2 L616.8,195.2 L617.0,194.8 L617.2,194.8 L617.3,193.7 L617.5,192.3 L617.7,191.7 L617.8,191.5 L618.0,190.6 L618.2,189.6 L618.4,188.4 L618.5,186.8 L618.7,186.3 L618.8,186.3 L619.0,185.9 L619.2,185.1 L619.3,184.0 L619.5,183.5 L619.6,183.9 L619.8,183.8 L619.9,182.8 L620.5,181.6 L621.0,181.0 L621.5,181.1 L621.9,182.3 L622.4,183.1 L622.8,183.7 L622.9,184.5 L623.0,185.1 L623.1,185.4 L623.2,186.7 L623.3,187.7 L623.3,187.3 L623.4,188.1 L623.5,190.0 L623.6,191.0 L623.7,191.7 L623.8,192.3 L623.8,192.9 L623.9,193.8 L624.0,194.5 L624.1,194.7 L624.2,195.2 L624.2,195.3 L624.3,195.8 L624.4,197.8 L624.5,199.5 L624.6,199.8 L624.7,200.1 L624.8,200.8 L624.9,200.5 L625.0,200.2 L625.1,200.4 L625.2,200.6 L625.4,201.2 L625.5,200.7 L625.7,199.5 L625.9,198.9 L626.0,199.0 L626.2,198.4 L626.4,196.8 L626.6,195.8 L626.7,194.8 L626.9,193.9 L627.1,193.6 L627.3,192.6 L627.4,191.4 L627.6,190.7 L627.8,189.7 L628.0,189.2 L628.1,188.6 L628.3,187.7 L628.4,187.5 L628.6,187.4 L628.8,187.0 L629.0,187.8 L629.2,188.8 L629.3,189.3 L629.5,189.6 L629.7,190.0 L629.8,191.2 L630.0,192.7 L630.2,193.9 L630.3,194.9 L630.5,195.9 L630.7,196.4 L630.8,197.1 L631.0,197.7 L631.2,198.2 L631.4,198.0 L631.6,196.9 L631.8,196.7 L632.1,196.8 L632.3,195.8 L632.5,194.9 L632.8,194.6 L633.0,194.0 L633.3,192.9 L633.5,192.5 L633.8,192.6 L634.0,191.5 L634.2,190.6 L634.5,190.4 L634.7,189.7 L634.9,188.9 L635.2,188.6 L635.6,189.1 L635.9,190.2 L636.2,191.1 L636.5,192.1 L636.8,193.4 L637.1,194.7 L637.5,195.1 L637.8,195.0 L638.2,195.2 L638.6,195.8 L639.0,196.3 L639.4,197.0 L639.8,197.4 L640.2,197.5 L640.6,197.6 L640.9,198.4 L641.2,199.5 L641.7,200.7 L642.3,198.7 L642.4,198.2 L642.5,197.9 L642.6,197.3 L642.8,196.9 L642.9,196.0 L643.0,194.4 L643.2,194.2 L643.3,194.6 L643.5,193.4 L643.7,191.7 L643.8,190.7 L644.0,190.0 L644.1,189.1 L644.3,188.5 L644.5,188.3 L644.7,187.9 L644.8,187.0 L645.0,186.1 L645.2,185.9 L645.4,185.8 L645.5,184.4 L645.7,183.5 L645.8,183.5 L646.0,183.3 L646.2,183.5 L646.3,183.4 L646.5,183.5 L646.7,183.7 L646.9,183.4 L647.1,183.5 L647.3,184.2 L647.5,185.0 L647.7,185.9 L647.9,186.5 L648.1,187.0 L648.3,187.8 L648.4,188.6 L648.6,189.3 L648.8,189.9 L649.0,190.2 L649.2,190.9 L649.3,192.3 L649.5,193.1 L649.6,193.5 L649.8,193.5 L650.0,193.4 L650.2,193.3 L650.4,193.1 L650.6,191.9 L650.7,190.6 L650.9,190.0 L651.1,190.1 L651.2,190.0 L651.4,188.6 L651.6,187.1 L651.7,186.1 L651.9,185.9 L652.1,185.6 L652.5,185.2 L653.0,185.5 L653.4,186.2 L653.9,186.8 L654.4,187.9 L654.9,189.5 L655.1,189.9 L655.2,190.4 L655.4,191.6 L655.5,192.1 L655.7,192.2 L655.8,193.1 L656.0,194.7 L656.2,195.6 L656.3,195.7 L656.5,196.5 L656.7,197.1 L656.8,197.5 L657.0,198.1 L657.2,198.5 L657.3,199.9 L657.5,201.6 L657.7,202.2 L657.9,202.3 L658.0,202.1 L658.2,201.5 L658.4,200.7 L658.5,200.1 L658.7,200.8 L658.8,201.6 L659.0,200.9 L659.1,200.4 L659.3,200.0 L659.4,198.9 L659.6,198.1 L659.8,197.3 L659.9,196.4 L660.1,196.1 L660.2,196.2 L660.4,195.7 L660.6,194.5 L660.7,193.1 L660.9,192.0 L661.0,191.8 L661.2,191.7 L661.3,190.5 L661.5,189.5 L661.6,188.9 L661.8,188.1 L661.9,187.5 L662.0,186.9 L662.2,186.1 L662.3,185.8 L662.4,186.1 L663.1,185.1 L663.7,184.4 L664.2,185.3 L664.7,186.7 L664.9,187.4 L665.1,188.1 L665.3,188.4 L665.5,189.0 L665.7,189.8 L665.9,190.6 L666.0,191.2 L666.2,191.5 L666.4,192.3 L666.6,193.5 L666.8,194.5 L667.0,194.9 L667.4,194.2 L667.8,192.7 L668.1,191.2 L668.5,190.4 L668.9,190.4 L669.3,190.9 L669.4,190.7 L669.5,190.3 L669.7,191.2 L669.8,192.5 L669.9,193.2 L670.0,193.7 L670.1,194.3 L670.2,195.2 L670.4,196.1 L670.5,197.1 L670.6,198.4 L670.7,199.4 L670.8,199.7 L671.0,200.3 L671.1,201.3 L671.2,201.6 L671.3,201.9 L671.5,202.4 L671.6,202.0 L671.7,201.4 L671.9,201.0 L672.0,201.1 L672.2,201.2 L672.3,200.8 L672.5,200.6 L672.6,200.1 L672.8,198.9 L672.9,197.5 L673.1,196.1 L673.2,195.3 L673.4,195.3 L673.6,195.3 L673.7,193.9 L673.9,192.2 L674.0,192.1 L674.2,192.3 L674.3,191.8 L674.5,191.0 L675.0,189.9 L675.5,190.0 L676.0,191.5 L676.5,192.0 L677.0,191.7 L677.4,192.7 L677.6,193.7 L677.7,194.7 L677.9,194.7 L678.0,195.3 L678.2,196.8 L678.3,197.6 L678.5,198.1 L678.6,199.0 L678.8,199.3 L678.9,199.0 L679.1,199.5 L679.2,201.1 L679.4,202.2 L679.5,202.8 L679.7,203.1 L680.0,202.2 L680.3,201.4 L680.6,201.7 L680.9,201.1 L681.3,199.1 L681.6,197.8 L681.9,197.9 L682.2,197.6 L682.5,197.2 L682.7,197.7 L682.9,198.7 L683.1,199.0 L683.3,198.6 L683.5,199.4 L683.7,200.9 L683.9,201.7 L684.1,202.8 L684.3,203.5 L684.5,203.4 L684.8,203.6 L684.9,203.5 L685.1,202.7 L685.2,202.5 L685.4,202.2 L685.5,201.6 L685.7,201.1 L685.8,200.3 L686.0,199.6 L686.1,199.3 L686.3,198.6 L686.5,197.6 L686.6,197.2 L686.8,197.0 L687.0,195.1 L687.1,193.6 L687.3,193.5 L687.4,193.2 L687.6,192.4 L687.7,191.6 L687.9,191.2 L688.0,191.1 L688.2,190.3 L688.3,189.8 L688.7,189.6 L689.0,189.6 L689.4,190.5 L689.7,191.5 L690.0,192.1 L690.3,192.6 L690.6,192.9 L690.8,194.4 L691.1,195.7 L691.3,195.5 L691.5,195.9 L691.8,196.5 L692.0,196.5 L692.2,196.7 L692.4,197.5 L692.7,198.8 L692.9,199.9 L693.7,200.7 L694.5,200.3 L695.2,199.5 L695.4,199.9 L695.6,201.5 L695.7,202.4 L695.8,203.2 L696.0,204.7 L696.3,204.7 L696.4,204.0 L696.5,203.0 L696.6,202.3 L696.7,202.0 L696.8,201.8 L696.9,201.4 L697.0,200.3 L697.1,199.5 L697.2,199.6 L697.4,199.1 L697.5,198.1 L697.6,197.3 L697.7,196.0 L697.9,195.0 L698.0,194.3 L698.1,193.2 L698.3,192.4 L698.4,191.7 L698.5,190.8 L698.6,190.2 L698.8,189.8 L698.9,189.4 L699.0,188.9 L699.1,188.3 L699.2,187.9 L699.8,187.5 L700.4,188.6 L701.0,189.3 L701.5,189.5 L702.3,188.5 L703.2,188.9 L703.3,189.6 L703.4,190.4 L703.6,190.9 L703.7,191.9 L703.8,192.9 L704.0,193.4 L704.1,193.9 L704.3,195.0 L704.4,196.3 L704.6,196.9 L704.7,197.2 L704.9,198.0 L705.0,199.4 L705.2,200.6 L705.3,201.1 L705.5,201.1 L705.7,201.0 L705.8,200.5 L706.0,200.9 L706.1,202.2 L706.2,202.5 L706.3,201.7 L706.4,201.6 L706.5,201.9 L706.6,201.2 L706.7,200.3 L706.8,199.4 L706.9,197.9 L707.0,196.9 L707.1,196.5 L707.2,195.8 L707.3,195.0 L707.4,194.2 L707.5,193.6 L707.7,192.7 L707.8,191.4 L707.9,190.4 L708.0,189.5 L708.1,188.5 L708.2,187.8 L708.3,187.8 L708.5,188.0 L708.6,187.4 L708.7,187.1 L708.9,186.9 L709.0,186.6 L709.2,186.8 L709.4,187.0 L709.6,187.3 L709.8,187.4 L710.0,188.0 L710.2,188.9 L710.5,189.3 L710.7,190.2 L710.9,191.5 L711.2,192.2 L711.4,192.6 L711.7,193.4 L711.9,194.0 L712.1,195.1 L712.4,196.4 L712.6,197.1 L712.8,197.4 L713.0,197.8 L713.2,198.1 L713.4,198.4 L713.6,199.1 L713.8,199.1 L713.9,198.5 L714.1,198.0 L714.2,197.4 L714.4,196.7 L714.5,196.0 L714.7,195.6 L714.8,194.9 L714.9,193.3 L715.0,192.4 L715.2,192.5 L715.3,192.1 L715.4,191.0 L715.5,190.1 L715.6,189.2 L715.8,188.5 L715.9,187.4 L716.0,186.0 L716.1,185.1 L716.3,184.7 L716.4,184.6 L716.7,184.8 L717.0,184.7 L717.3,185.0 L717.6,186.3 L717.9,187.2 L718.2,188.2 L718.5,190.0 L718.8,191.6 L719.0,192.3 L719.3,192.2 L719.5,192.4 L719.7,191.9 L719.9,190.4 L720.1,189.3 L720.3,188.3 L720.5,187.4 L720.6,186.5 L720.8,185.6 L721.0,184.8 L721.2,184.0 L721.4,184.1 L721.6,185.1 L721.7,185.6 L721.8,185.6 L721.9,185.3 L722.0,185.2 L722.1,186.4 L722.2,187.3 L722.3,187.6 L722.4,188.8 L722.5,189.8 L722.6,190.0 L722.7,190.7 L722.8,191.7 L722.9,192.0 L723.0,192.7 L723.1,193.8 L723.3,194.9 L723.4,196.0 L723.5,196.5 L723.6,196.8 L723.7,197.6 L723.8,198.7 L723.9,200.1 L724.0,201.4 L724.1,201.7 L724.2,201.3 L724.3,201.5 L724.4,202.1 L724.5,202.2 L724.6,202.0 L724.8,201.9 L724.9,201.2 L725.1,199.5 L725.2,198.1 L725.3,197.4 L725.5,197.2 L725.6,196.8 L725.7,196.4 L725.8,195.6 L726.0,193.8 L726.1,192.6 L726.2,192.4 L726.4,191.8 L726.5,190.8 L726.6,189.6 L726.7,188.5 L726.9,188.9 L727.0,190.0 L727.1,190.8 L727.2,191.4 L727.4,191.6 L727.5,191.1 L727.6,191.1 L727.7,192.3 L727.8,194.0 L727.9,195.8 L728.1,197.5 L728.2,198.2 L728.3,198.1 L728.4,198.1 L728.5,198.5 L728.6,198.9 L728.8,199.4 L728.9,200.7 L729.0,201.4 L729.1,201.7 L729.2,202.2 L729.4,202.3 L729.5,202.3 L729.6,202.7 L729.7,202.7 L729.8,202.5 L729.9,202.6 L730.0,202.0 L730.1,200.5 L730.2,198.9 L730.4,198.2 L730.5,198.0 L730.6,197.7 L730.7,197.0 L730.8,195.8 L730.9,194.8 L731.0,193.7 L731.1,193.1 L731.2,192.7 L731.4,191.4 L731.5,190.3 L731.6,190.5 L731.7,190.2 L731.9,188.9 L732.0,187.8 L732.1,187.1 L732.3,187.1 L732.4,187.7 L732.6,188.1 L732.7,188.1 L732.9,187.4 L733.1,187.6 L733.3,188.6 L733.5,189.5 L733.7,190.1 L733.9,190.7 L734.1,191.5 L734.3,192.6 L734.5,193.4 L734.7,194.4 L734.9,196.1 L735.1,197.2 L735.3,197.7 L735.5,198.4 L735.7,199.5 L735.9,200.3 L736.1,200.1 L736.2,199.9 L736.4,200.1 L736.6,200.2 L736.8,199.8 L737.0,199.5 L737.2,199.0 L737.3,198.8 L737.5,198.7 L737.7,197.7 L737.9,196.3 L738.0,195.4 L738.2,195.1 L738.4,194.4 L738.5,192.9 L738.7,191.8 L738.9,191.8 L739.0,192.1 L739.2,191.6 L739.3,190.8 L739.5,189.9 L739.6,189.4 L739.8,189.0 L739.9,188.2 L740.4,187.4 L740.8,187.7 L741.2,188.7 L741.6,189.6 L742.0,190.0 L742.2,190.3 L742.5,189.8 L742.7,188.8 L743.0,188.0 L743.2,187.4 L743.5,186.8 L743.7,185.6 L744.0,184.9 L744.2,185.0 L744.5,185.6 L744.6,186.0 L744.7,186.5 L744.8,187.0 L744.9,186.8 L745.0,187.3 L745.1,188.5 L745.2,188.7 L745.4,189.1 L745.5,189.9 L745.6,190.6 L745.7,191.6 L745.8,191.8 L745.9,192.0 L746.0,193.3 L746.1,194.9 L746.2,196.3 L746.3,197.1 L746.4,197.6 L746.5,197.6 L746.6,198.0 L746.7,198.5 L746.8,198.5 L746.9,198.9 L747.0,199.4 L747.2,199.0 L747.3,198.0 L747.5,197.8 L747.6,197.9 L747.7,196.9 L747.9,195.6 L748.0,195.4 L748.1,195.0 L748.3,193.6 L748.4,192.3 L748.5,192.1 L748.7,192.2 L748.8,191.4 L749.0,191.1 L749.2,191.6 L749.5,191.7 L749.7,191.5 L750.0,191.9 L750.2,193.0 L750.5,193.7 L750.8,194.6 L751.0,195.9 L751.3,196.2 L751.5,196.2 L751.7,196.7 L752.0,196.7 L752.2,195.8 L752.4,194.3 L752.6,193.3 L752.9,192.8 L753.1,191.9 L753.3,191.0 L753.6,190.9 L753.8,190.8 L754.0,191.4 L754.2,191.8 L754.4,192.4 L754.6,193.8 L754.8,194.6 L755.0,194.7 L755.2,195.0 L755.4,196.1 L755.6,197.1 L755.8,197.0 L756.1,197.2 L756.3,198.3 L756.5,199.0 L757.0,199.3 L757.6,199.6 L758.1,200.3 L758.7,200.4 L759.2,200.7 L759.8,201.4 L760.5,201.2 L761.1,201.0 L761.8,201.4 L762.5,201.3 L763.1,200.4 L763.2,200.6 L763.4,200.4 L763.5,199.7 L763.6,198.6 L763.8,197.5 L763.9,196.4 L764.0,195.5 L764.2,194.9 L764.3,194.4 L764.4,193.1 L764.5,191.7 L764.7,191.3 L764.8,191.1 L764.9,190.6 L765.0,189.4 L765.2,188.3 L765.3,187.9 L765.4,187.5 L765.5,186.6 L765.6,185.7 L765.8,185.6 L765.9,185.8 L766.0,185.4 L766.2,184.4 L766.5,184.4 L766.7,186.0 L766.9,186.9 L767.1,187.1 L767.4,188.1 L767.6,189.2 L767.8,189.8 L768.0,190.3 L768.3,190.5 L768.5,191.2 L769.3,192.2 L770.1,192.4 L770.9,192.6 L771.4,192.6"/><rect x="49.3" y="1.8" width="722.2" height="675.2" fill="none" stroke="#000" stroke-width="3.5"/><path d="M49.30,677.0 V681.6 M104.85,677.0 V686.0 M160.41,677.0 V681.6 M215.96,677.0 V686.0 M271.52,677.0 V681.6 M327.07,677.0 V686.0 M382.62,677.0 V681.6 M438.18,677.0 V686.0 M493.73,677.0 V681.6 M549.28,677.0 V686.0 M604.84,677.0 V681.6 M660.39,677.0 V686.0 M715.95,677.0 V681.6 M771.50,677.0 V686.0" stroke="#000" stroke-width="3.6" stroke-linecap="round" fill="none"/><text transform="translate(105.00,708.8) scale(1.02,1.15)" text-anchor="middle" font-family="Liberation Sans" font-weight="bold" font-size="20">20</text><text transform="translate(216.11,708.8) scale(1.02,1.15)" text-anchor="middle" font-family="Liberation Sans" font-weight="bold" font-size="20">30</text><text transform="translate(327.22,708.8) scale(1.02,1.15)" text-anchor="middle" font-family="Liberation Sans" font-weight="bold" font-size="20">40</text><text transform="translate(438.33,708.8) scale(1.02,1.15)" text-anchor="middle" font-family="Liberation Sans" font-weight="bold" font-size="20">50</text><text transform="translate(549.43,708.8) scale(1.02,1.15)" text-anchor="middle" font-family="Liberation Sans" font-weight="bold" font-size="20">60</text><text transform="translate(660.54,708.8) scale(1.02,1.15)" text-anchor="middle" font-family="Liberation Sans" font-weight="bold" font-size="20">70</text><text transform="translate(771.65,708.8) scale(1.02,1.15)" text-anchor="middle" font-family="Liberation Sans" font-weight="bold" font-size="20">80</text><text x="398.3" y="745.8" text-anchor="middle" font-family="Liberation Sans" font-weight="bold" font-size="27.7">2 Theta (Degrees)</text><text transform="translate(21.2,348) rotate(-90)" x="0" y="0" text-anchor="middle" font-family="Liberation Sans" font-weight="bold" font-size="28.3">Intenisty (a.u.)</text><rect x="620.7" y="123.4" width="141.5" height="30.8" rx="0.8" fill="#fff" stroke="#2a2a2a" stroke-width="1.35"/><line x1="631.80" y1="140.5" x2="685.95" y2="140.5" stroke="#008000" stroke-width="3.6" stroke-linecap="round"/><text x="692.75" y="149.3" font-family="Liberation Sans" font-weight="bold" font-size="23.7">NTM3</text><rect x="624.3" y="244.6" width="142.9" height="30.9" rx="0.8" fill="#fff" stroke="#2a2a2a" stroke-width="1.35"/><line x1="636.40" y1="261.9" x2="690.10" y2="261.9" stroke="#ff0000" stroke-width="3.6" stroke-linecap="round"/><text x="697.15" y="270.6" font-family="Liberation Sans" font-weight="bold" font-size="23.7">NTM2</text><rect x="622.7" y="362.1" width="142.0" height="31.1" rx="0.8" fill="#fff" stroke="#2a2a2a" stroke-width="1.35"/><line x1="634.30" y1="379.2" x2="688.20" y2="379.2" stroke="#ff8000" stroke-width="3.6" stroke-linecap="round"/><text x="695.05" y="387.9" font-family="Liberation Sans" font-weight="bold" font-size="23.7">NTM1</text><rect x="650.6" y="468.4" width="112.0" height="31.2" rx="0.8" fill="#fff" stroke="#2a2a2a" stroke-width="1.35"/><line x1="663.70" y1="486.0" x2="717.20" y2="486.0" stroke="#5c5cc4" stroke-width="1.4" stroke-linecap="round"/><text x="723.95" y="494.3" font-family="Liberation Sans" font-weight="bold" font-size="23.7">NT</text><rect x="670.0" y="602.6" width="91.4" height="31.6" rx="0.8" fill="#fff" stroke="#2a2a2a" stroke-width="1.35"/><line x1="680.75" y1="620.5" x2="734.25" y2="620.5" stroke="#222" stroke-width="1.3" stroke-linecap="round"/><text x="741.80" y="628.9" font-family="Liberation Sans" font-weight="bold" font-size="23.7">T</text></svg>
</body></html>
